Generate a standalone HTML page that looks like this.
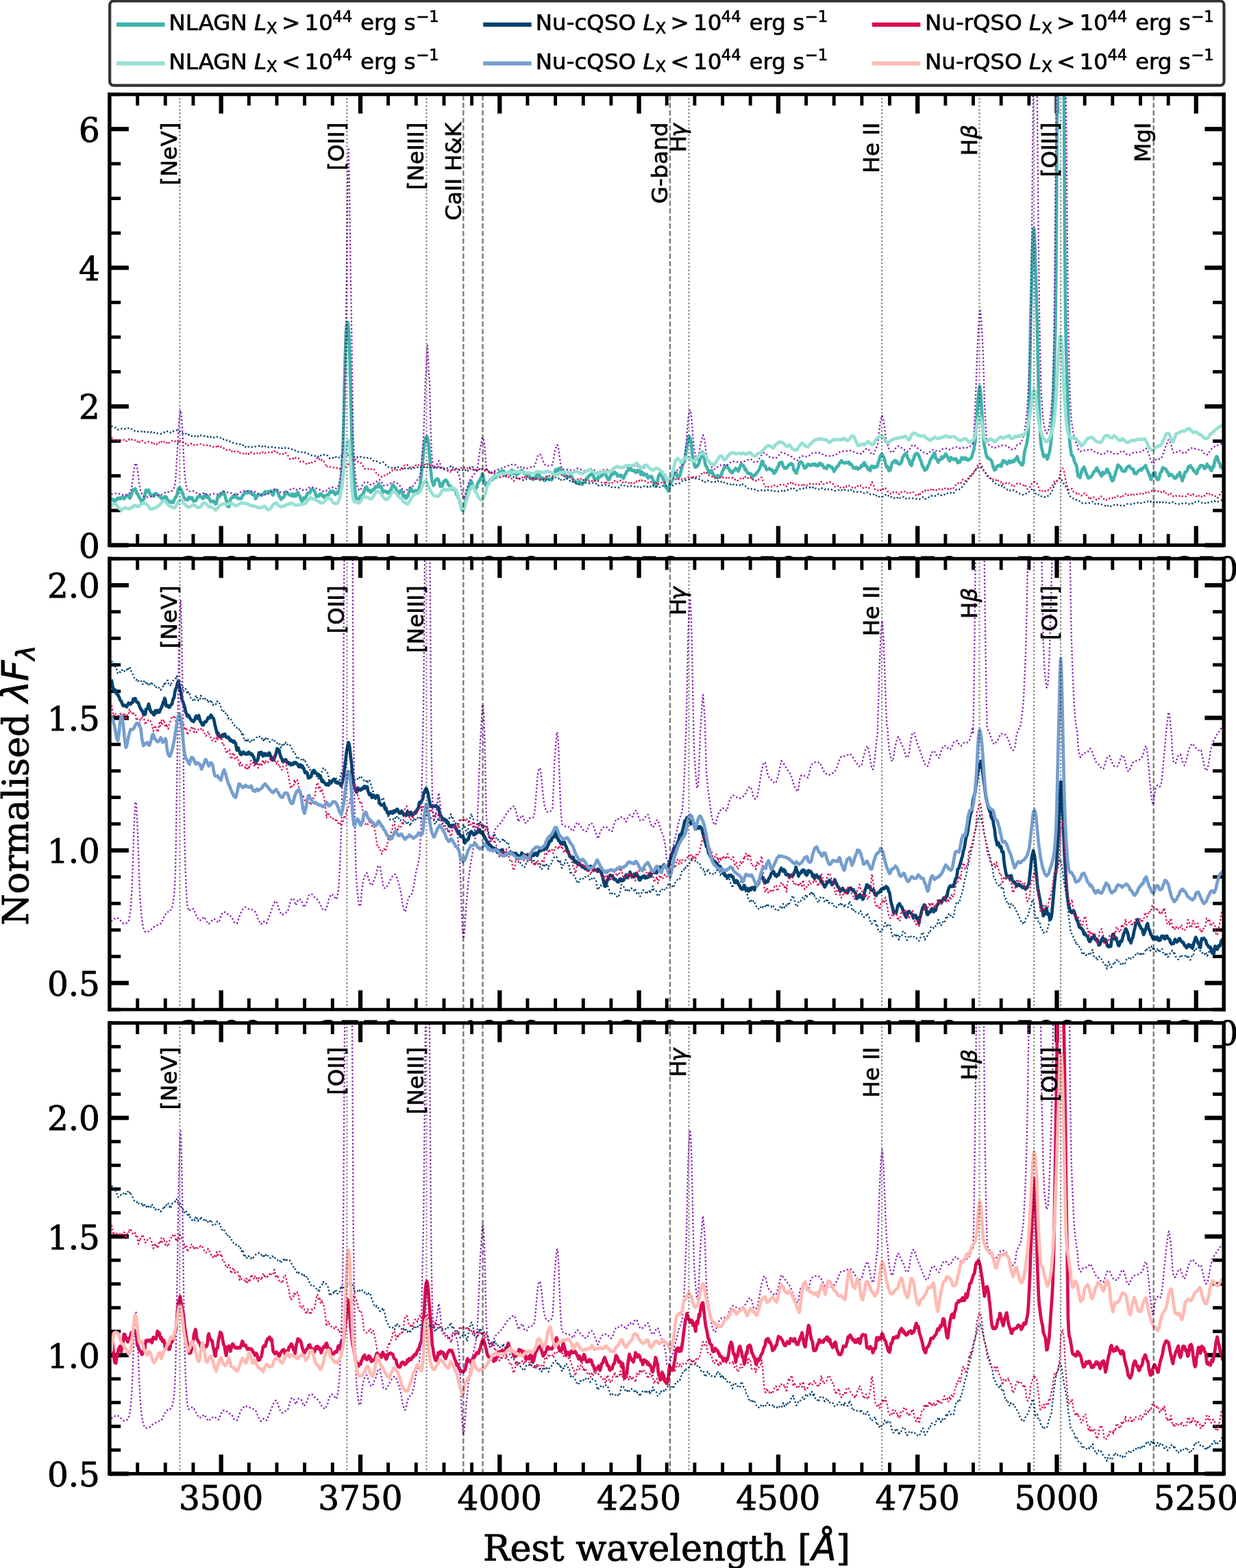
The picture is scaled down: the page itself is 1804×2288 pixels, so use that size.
<!DOCTYPE html>
<html lang="en"><head><meta charset="utf-8"><title>Composite spectra</title>
<style>html,body{margin:0;padding:0;background:#fff}svg{display:block}</style></head>
<body>
<svg xmlns="http://www.w3.org/2000/svg" width="1804" height="2288" viewBox="0 0 1804 2288">
<rect width="1804" height="2288" fill="#fff"/>
<defs>
<clipPath id="clip0"><rect x="159.9" y="137.7" width="1626.5" height="657.8"/></clipPath>
<clipPath id="clip1"><rect x="159.9" y="815.3" width="1626.5" height="657.8"/></clipPath>
<clipPath id="clip2"><rect x="159.9" y="1492.7" width="1626.5" height="657.8"/></clipPath>
</defs>
<g id="panel0">
<rect x="159.9" y="137.7" width="1626.5" height="657.8" fill="#fff"/>
<line x1="200.7" y1="795.5" x2="200.7" y2="779.2" stroke="#000" stroke-width="4.9"/>
<line x1="200.7" y1="137.7" x2="200.7" y2="154" stroke="#000" stroke-width="4.9"/>
<line x1="241.3" y1="795.5" x2="241.3" y2="779.2" stroke="#000" stroke-width="4.9"/>
<line x1="241.3" y1="137.7" x2="241.3" y2="154" stroke="#000" stroke-width="4.9"/>
<line x1="282" y1="795.5" x2="282" y2="779.2" stroke="#000" stroke-width="4.9"/>
<line x1="282" y1="137.7" x2="282" y2="154" stroke="#000" stroke-width="4.9"/>
<line x1="322.7" y1="795.5" x2="322.7" y2="767.5" stroke="#000" stroke-width="6.3"/>
<line x1="322.7" y1="137.7" x2="322.7" y2="165.7" stroke="#000" stroke-width="6.3"/>
<line x1="363.3" y1="795.5" x2="363.3" y2="779.2" stroke="#000" stroke-width="4.9"/>
<line x1="363.3" y1="137.7" x2="363.3" y2="154" stroke="#000" stroke-width="4.9"/>
<line x1="404" y1="795.5" x2="404" y2="779.2" stroke="#000" stroke-width="4.9"/>
<line x1="404" y1="137.7" x2="404" y2="154" stroke="#000" stroke-width="4.9"/>
<line x1="444.6" y1="795.5" x2="444.6" y2="779.2" stroke="#000" stroke-width="4.9"/>
<line x1="444.6" y1="137.7" x2="444.6" y2="154" stroke="#000" stroke-width="4.9"/>
<line x1="485.3" y1="795.5" x2="485.3" y2="779.2" stroke="#000" stroke-width="4.9"/>
<line x1="485.3" y1="137.7" x2="485.3" y2="154" stroke="#000" stroke-width="4.9"/>
<line x1="526" y1="795.5" x2="526" y2="767.5" stroke="#000" stroke-width="6.3"/>
<line x1="526" y1="137.7" x2="526" y2="165.7" stroke="#000" stroke-width="6.3"/>
<line x1="566.6" y1="795.5" x2="566.6" y2="779.2" stroke="#000" stroke-width="4.9"/>
<line x1="566.6" y1="137.7" x2="566.6" y2="154" stroke="#000" stroke-width="4.9"/>
<line x1="607.3" y1="795.5" x2="607.3" y2="779.2" stroke="#000" stroke-width="4.9"/>
<line x1="607.3" y1="137.7" x2="607.3" y2="154" stroke="#000" stroke-width="4.9"/>
<line x1="648" y1="795.5" x2="648" y2="779.2" stroke="#000" stroke-width="4.9"/>
<line x1="648" y1="137.7" x2="648" y2="154" stroke="#000" stroke-width="4.9"/>
<line x1="688.6" y1="795.5" x2="688.6" y2="779.2" stroke="#000" stroke-width="4.9"/>
<line x1="688.6" y1="137.7" x2="688.6" y2="154" stroke="#000" stroke-width="4.9"/>
<line x1="729.3" y1="795.5" x2="729.3" y2="767.5" stroke="#000" stroke-width="6.3"/>
<line x1="729.3" y1="137.7" x2="729.3" y2="165.7" stroke="#000" stroke-width="6.3"/>
<line x1="769.9" y1="795.5" x2="769.9" y2="779.2" stroke="#000" stroke-width="4.9"/>
<line x1="769.9" y1="137.7" x2="769.9" y2="154" stroke="#000" stroke-width="4.9"/>
<line x1="810.6" y1="795.5" x2="810.6" y2="779.2" stroke="#000" stroke-width="4.9"/>
<line x1="810.6" y1="137.7" x2="810.6" y2="154" stroke="#000" stroke-width="4.9"/>
<line x1="851.3" y1="795.5" x2="851.3" y2="779.2" stroke="#000" stroke-width="4.9"/>
<line x1="851.3" y1="137.7" x2="851.3" y2="154" stroke="#000" stroke-width="4.9"/>
<line x1="891.9" y1="795.5" x2="891.9" y2="779.2" stroke="#000" stroke-width="4.9"/>
<line x1="891.9" y1="137.7" x2="891.9" y2="154" stroke="#000" stroke-width="4.9"/>
<line x1="932.6" y1="795.5" x2="932.6" y2="767.5" stroke="#000" stroke-width="6.3"/>
<line x1="932.6" y1="137.7" x2="932.6" y2="165.7" stroke="#000" stroke-width="6.3"/>
<line x1="973.2" y1="795.5" x2="973.2" y2="779.2" stroke="#000" stroke-width="4.9"/>
<line x1="973.2" y1="137.7" x2="973.2" y2="154" stroke="#000" stroke-width="4.9"/>
<line x1="1013.9" y1="795.5" x2="1013.9" y2="779.2" stroke="#000" stroke-width="4.9"/>
<line x1="1013.9" y1="137.7" x2="1013.9" y2="154" stroke="#000" stroke-width="4.9"/>
<line x1="1054.6" y1="795.5" x2="1054.6" y2="779.2" stroke="#000" stroke-width="4.9"/>
<line x1="1054.6" y1="137.7" x2="1054.6" y2="154" stroke="#000" stroke-width="4.9"/>
<line x1="1095.2" y1="795.5" x2="1095.2" y2="779.2" stroke="#000" stroke-width="4.9"/>
<line x1="1095.2" y1="137.7" x2="1095.2" y2="154" stroke="#000" stroke-width="4.9"/>
<line x1="1135.9" y1="795.5" x2="1135.9" y2="767.5" stroke="#000" stroke-width="6.3"/>
<line x1="1135.9" y1="137.7" x2="1135.9" y2="165.7" stroke="#000" stroke-width="6.3"/>
<line x1="1176.6" y1="795.5" x2="1176.6" y2="779.2" stroke="#000" stroke-width="4.9"/>
<line x1="1176.6" y1="137.7" x2="1176.6" y2="154" stroke="#000" stroke-width="4.9"/>
<line x1="1217.2" y1="795.5" x2="1217.2" y2="779.2" stroke="#000" stroke-width="4.9"/>
<line x1="1217.2" y1="137.7" x2="1217.2" y2="154" stroke="#000" stroke-width="4.9"/>
<line x1="1257.9" y1="795.5" x2="1257.9" y2="779.2" stroke="#000" stroke-width="4.9"/>
<line x1="1257.9" y1="137.7" x2="1257.9" y2="154" stroke="#000" stroke-width="4.9"/>
<line x1="1298.5" y1="795.5" x2="1298.5" y2="779.2" stroke="#000" stroke-width="4.9"/>
<line x1="1298.5" y1="137.7" x2="1298.5" y2="154" stroke="#000" stroke-width="4.9"/>
<line x1="1339.2" y1="795.5" x2="1339.2" y2="767.5" stroke="#000" stroke-width="6.3"/>
<line x1="1339.2" y1="137.7" x2="1339.2" y2="165.7" stroke="#000" stroke-width="6.3"/>
<line x1="1379.9" y1="795.5" x2="1379.9" y2="779.2" stroke="#000" stroke-width="4.9"/>
<line x1="1379.9" y1="137.7" x2="1379.9" y2="154" stroke="#000" stroke-width="4.9"/>
<line x1="1420.5" y1="795.5" x2="1420.5" y2="779.2" stroke="#000" stroke-width="4.9"/>
<line x1="1420.5" y1="137.7" x2="1420.5" y2="154" stroke="#000" stroke-width="4.9"/>
<line x1="1461.2" y1="795.5" x2="1461.2" y2="779.2" stroke="#000" stroke-width="4.9"/>
<line x1="1461.2" y1="137.7" x2="1461.2" y2="154" stroke="#000" stroke-width="4.9"/>
<line x1="1501.9" y1="795.5" x2="1501.9" y2="779.2" stroke="#000" stroke-width="4.9"/>
<line x1="1501.9" y1="137.7" x2="1501.9" y2="154" stroke="#000" stroke-width="4.9"/>
<line x1="1542.5" y1="795.5" x2="1542.5" y2="767.5" stroke="#000" stroke-width="6.3"/>
<line x1="1542.5" y1="137.7" x2="1542.5" y2="165.7" stroke="#000" stroke-width="6.3"/>
<line x1="1583.2" y1="795.5" x2="1583.2" y2="779.2" stroke="#000" stroke-width="4.9"/>
<line x1="1583.2" y1="137.7" x2="1583.2" y2="154" stroke="#000" stroke-width="4.9"/>
<line x1="1623.8" y1="795.5" x2="1623.8" y2="779.2" stroke="#000" stroke-width="4.9"/>
<line x1="1623.8" y1="137.7" x2="1623.8" y2="154" stroke="#000" stroke-width="4.9"/>
<line x1="1664.5" y1="795.5" x2="1664.5" y2="779.2" stroke="#000" stroke-width="4.9"/>
<line x1="1664.5" y1="137.7" x2="1664.5" y2="154" stroke="#000" stroke-width="4.9"/>
<line x1="1705.2" y1="795.5" x2="1705.2" y2="779.2" stroke="#000" stroke-width="4.9"/>
<line x1="1705.2" y1="137.7" x2="1705.2" y2="154" stroke="#000" stroke-width="4.9"/>
<line x1="1745.8" y1="795.5" x2="1745.8" y2="767.5" stroke="#000" stroke-width="6.3"/>
<line x1="1745.8" y1="137.7" x2="1745.8" y2="165.7" stroke="#000" stroke-width="6.3"/>
<line x1="159.9" y1="795.5" x2="187.9" y2="795.5" stroke="#000" stroke-width="6.3"/>
<line x1="1786.4" y1="795.5" x2="1758.4" y2="795.5" stroke="#000" stroke-width="6.3"/>
<line x1="159.9" y1="744.9" x2="176.2" y2="744.9" stroke="#000" stroke-width="4.9"/>
<line x1="1786.4" y1="744.9" x2="1770.1" y2="744.9" stroke="#000" stroke-width="4.9"/>
<line x1="159.9" y1="694.3" x2="176.2" y2="694.3" stroke="#000" stroke-width="4.9"/>
<line x1="1786.4" y1="694.3" x2="1770.1" y2="694.3" stroke="#000" stroke-width="4.9"/>
<line x1="159.9" y1="643.7" x2="176.2" y2="643.7" stroke="#000" stroke-width="4.9"/>
<line x1="1786.4" y1="643.7" x2="1770.1" y2="643.7" stroke="#000" stroke-width="4.9"/>
<line x1="159.9" y1="593.1" x2="187.9" y2="593.1" stroke="#000" stroke-width="6.3"/>
<line x1="1786.4" y1="593.1" x2="1758.4" y2="593.1" stroke="#000" stroke-width="6.3"/>
<line x1="159.9" y1="542.5" x2="176.2" y2="542.5" stroke="#000" stroke-width="4.9"/>
<line x1="1786.4" y1="542.5" x2="1770.1" y2="542.5" stroke="#000" stroke-width="4.9"/>
<line x1="159.9" y1="491.9" x2="176.2" y2="491.9" stroke="#000" stroke-width="4.9"/>
<line x1="1786.4" y1="491.9" x2="1770.1" y2="491.9" stroke="#000" stroke-width="4.9"/>
<line x1="159.9" y1="441.3" x2="176.2" y2="441.3" stroke="#000" stroke-width="4.9"/>
<line x1="1786.4" y1="441.3" x2="1770.1" y2="441.3" stroke="#000" stroke-width="4.9"/>
<line x1="159.9" y1="390.7" x2="187.9" y2="390.7" stroke="#000" stroke-width="6.3"/>
<line x1="1786.4" y1="390.7" x2="1758.4" y2="390.7" stroke="#000" stroke-width="6.3"/>
<line x1="159.9" y1="340.1" x2="176.2" y2="340.1" stroke="#000" stroke-width="4.9"/>
<line x1="1786.4" y1="340.1" x2="1770.1" y2="340.1" stroke="#000" stroke-width="4.9"/>
<line x1="159.9" y1="289.5" x2="176.2" y2="289.5" stroke="#000" stroke-width="4.9"/>
<line x1="1786.4" y1="289.5" x2="1770.1" y2="289.5" stroke="#000" stroke-width="4.9"/>
<line x1="159.9" y1="238.9" x2="176.2" y2="238.9" stroke="#000" stroke-width="4.9"/>
<line x1="1786.4" y1="238.9" x2="1770.1" y2="238.9" stroke="#000" stroke-width="4.9"/>
<line x1="159.9" y1="188.3" x2="187.9" y2="188.3" stroke="#000" stroke-width="6.3"/>
<line x1="1786.4" y1="188.3" x2="1758.4" y2="188.3" stroke="#000" stroke-width="6.3"/>
<line x1="159.9" y1="137.7" x2="176.2" y2="137.7" stroke="#000" stroke-width="4.9"/>
<line x1="1786.4" y1="137.7" x2="1770.1" y2="137.7" stroke="#000" stroke-width="4.9"/>
<g clip-path="url(#clip0)" fill="none" stroke-linejoin="round">
<path d="M162.3 729.4l1-1.3 1 1 1 1.3 .9 .5 1-1.3 1 .1 1 .8 .9-1.8 1-1.2 1-.8 1 1 1-.4 .9-.8 1 1.2 1-1.5 1 0 .9-1 1 1.9 1 1 1-1.9 .9-.3 1-1.5 1-.4 1-1.1 .9-.1 1 1.2 1 2.1 1 .9 .9-1.9 1-3.1 1-3.4 1-2 .9-2.5 1-.1 1 .1 1-1 1 3.2 .9 2.7 1 2.2 1-.1 1 2.6 .9 2.1 1 1.2 1 2.1 1 2.5 .9-1.3 1-.2 1-1.3 1-.8 .9-3.7 1-5.6 1-3.6 1 1.1 .9 1.4 1-1.7 1-.9 1 3.1 .9 2.6 1 2.2 1 .1 1-.9 .9 .7 1 1.3 1-.8 1-3 1 .8 .9-1.1 1 1 1 .6 1 .6 .9 1.4 1-.1 1 1.9 1 .1 .9 1.3 1 1.5 1-1.5 1 1.9 .9-2 1-2 1 1.3 1-1 .9 1.2 1 3.9 1 0 1 .8 .9 1.3 1 .6 1-1 1 .7 .9 1.1 1-1.2 1 .4 1-3.5 1-1.2 .9-2.2 1-1.2 1-1.5 1-3.3 .9-5.4 1-2.1 1 .8 1-.9 .9 1.1 1 2.2 1 2.7 1 1.6 .9 4 1 2.4 1 1.2 1 1.5 .9-.4 1 .4 1 .5 1-.8 .9-3.2 1 .1 1 .2 1 1.9 .9 .3 1-1.8 1 2.3 1 2.8 1-.5 .9-.1 1 0 1-.4 1-2.7 .9-2.2 1 .2 1-.8 1-1.7 .9 0 1 1.5 1 1 1 .8 .9 1.1 1-.5 1-2.9 1-2.2 .9-.4 1 2.4 1 1.9 1-.9 .9-.5 1 2.3 1 1.2 1 2.5 1 1.8 .9-.6 1 0 1-.2 1 0 .9 1.6 1 1 1 1.6 1-.9 .9-4 1-5.6 1-.8 1 1 .9-2.1 1-2.4 1 1.5 1-.9 .9-.6 1-2.1 1-1.1 1 3.7 .9 1.4 1 3.5 1 3.8 1 2.3 .9 6.3 1-.7 1 1.5 1-3.2 1-6.4 .9-2.1 1-1.1 1-.6 1-2.1 .9 1.9 1-.8 1-1.3 1-2.1 .9 3.1 1 1.4 1 .8 1 1 .9-.9 1 .1 1-.3 1 .9 .9-1 1-2.7 1-1.8 1-.1 .9-2.5 1 .4 1-2 1-.2 .9 1.2 1 .1 1-.5 1-1.2 1 1.1 .9 1 1-1 1 1.3 1 2.1 .9-1.6 1 1.1 1 .4 1 2.5 .9 3.6 1-2 1-1.5 1-2.1 .9-.4 1 .2 1-.4 1 .5 .9-.3 1 1 1-1.5 1 0 .9-.3 1-2 1-1.6 1 2.1 1-1.7 .9 1.3 1-.5 1-1.6 1 .1 .9 .6 1-1.4 1 .3 1 1.6 .9 3.3 1 .9 1-4.2 1-2.7 .9-.8 1 .3 1 1.1 1 .4 .9 1.7 1 1.8 1 3.8 1 1 .9 1.8 1 2 1-2 1-.4 .9 .2 1-1.1 1-1.8 1-3.9 1-2.1 .9 1.1 1 1.3 1-.2 1 1.3 .9 .8 1 .3 1 .7 1-1.2 .9-.8 1 .1 1 3.3 1-2.3 .9-.7 1 2.2 1 .6 1-2.8 .9-2 1-1 1 2.4 1 2.2 .9 .8 1 2.5 1 3.3 1 2.1 .9-.9 1-1.4 1-3 1 1.6 1-1.1 .9-1.8 1-1.4 1-2.6 1-1.8 .9 .2 1-.1 1-.2 1-2 .9-3.1 1-.2 1 0 1 .4 .9 1.3 1 .9 1 2.8 1 3.4 .9 2.1 1-1.7 1 .4 1 .7 .9-1.9 1 .4 1-2.1 1 0 1 2.2 .9 1.2 1-1 1 2 1 1.2 .9-1.7 1-1.2 1-.6 1-.6 .9 .3 1-.3 1-2.9 1-1.2 .9 .6 1-2.3 1 2.2 1-.3 .9-1.4 1 1 1 2.3 1 1.8 .9-1.7 1-.7 1-1.3 1 1.8 .9-2.7 1-2.5 1-4.9 1-4.5 1-8.6 .9-11.4 1-20.6 1-28.2 1-34.9 .9-43.9 1-38.9 1-30.5 1-12.9 .9-3.9 1-1.1 1 10.3 1 18.9 .9 27.5 1 40.4 1 38.6 1 36.7 .9 28.1 1 21.1 1 10.5 1 9.1 .9 7.2 1 7.8 1 1.8 1-1 .9 1.7 1 .1 1-2.7 1-1.5 1-1.2 .9-.5 1-.6 1-1.6 1-1.4 .9-1.8 1-3.7 1-2.6 1-1.1 .9 .1 1 2.7 1 2.4 1-.7 .9 .7 1 1.3 1 1.6 1-1.5 .9-1.4 1-.7 1-.8 1 .2 .9-1.8 1-2.4 1 1 1-.1 1-.2 .9-2.1 1-3.2 1 3.5 1 1.7 .9-1.3 1 1.7 1 2.6 1 4 .9 .3 1-1.3 1-.2 1 .1 .9 1.1 1 .2 1 1.4 1 .2 .9-2.4 1-.6 1 1 1-3 .9-.6 1-3.9 1-2.6 1 1.5 .9 .4 1 1.6 1 .4 1 2.1 1 2.4 .9 1.8 1 2.3 1 .3 1-2.6 .9-1.1 1-.2 1-.4 1 2.6 .9 2.6 1 3 1 .9 1-2.1 .9 1.4 1 2.8 1-1.5 1-.8 .9-2.6 1-3.1 1-1.8 1-4.9 .9-.6 1 2.3 1 1.5 1 2 .9 .3 1-.2 1-1.4 1-.8 1 .8 .9 .7 1 .4 1-.5 1-3.8 .9-3.3 1-3 1-8.3 1-7.5 .9-9.4 1-10.3 1-11.9 1-10 .9-4.2 1-6 1-1.3 1-1 .9 1.6 1 4.1 1 10 1 11.2 .9 10.8 1 12 1 10.6 1 5.5 .9 1.7 1 3.9 1-1.7 1-4.2 1-1.5 .9-1.3 1-.6 1-.7 1 1.2 .9 2.3 1 2.4 1 5.4 1 0 .9-2.3 1 2 1-3.3 1-3.5 .9 .3 1-1.4 1-1.2 1 .8 .9 1 1 1.7 1 3.1 1 1.2 .9 .9 1 0 1 .9 1 2.6 1 1.4 .9-1.3 1 .6 1 .3 1 0 .9 2.4 1 4.3 1 2.4 1 .3 .9 3.3 1 1.2 1 3.1 1 3.3 .9 4.4 1 2.2 1 4.2 1 .4 .9-3.8 1-2.5 1-2.8 1-4.9 .9-5.2 1-3.7 1-5.3 1-2.3 .9-5.5 1-1.9 1-.8 1-4.2 1 .8 .9 4.4 1 .8 1 2.1 1 2.1 .9 .9 1 .4 1-1.7 1-1.7 .9-4.7 1-1.1 1-2.4 1-.4 .9-2.9 1-1.5 1-1.9 1-3.6 .9 1 1 6.1 1 3.4 1 2.8 .9 3 1 .4 1-1.1 1-2.1 .9 .3 1-1.9 1-1.5 1-1.9 1-1.2 .9-.6 1 1.4 1-1.7 1-1.6 .9 .3 1-.6 1 .4 1-1.1 .9-1.4 1-.2 1 .1 1-3.6 .9-2.4 1 1 1-.8 1 .1 .9-.6 1-.5 1 .2 1 2.6 .9 3.4 1 .1 1-2 1-.2 1-.9 .9-.7 1-1 1 .1 1 1.4 .9-.9 1-3.3 1 2 1 3.2 .9-3.3 1-.5 1 2.8 1 1.3 .9 1.7 1-1.1 1-1.4 1 .4 .9-.5 1-.9 1-2.1 1 0 .9-1.4 1 .9 1 1.8 1 .8 .9 .9 1 .5 1-.2 1 .3 1 3.5 .9 .1 1 .4 1-.6 1 1.2 .9 2 1-.8 1 0 1 2 .9 .8 1-.9 1-1.9 1 .4 .9-1.1 1-3.6 1-2.9 1 .4 .9 3.7 1-.6 1 1.6 1 3.1 .9-1.1 1 0 1 .9 1 .7 .9 .9 1 2 1-1.1 1-1.9 1-1.5 .9-.8 1 2.2 1 .9 1 0 .9 .1 1 .1 1 1 1-.6 .9-2.5 1-2.4 1-2.4 1 .3 .9-5.4 1-2.5 1 1.9 1 .4 .9-.2 1-3 1-.7 1 1.7 .9-.1 1 .5 1 1.3 1 1.4 1 2 .9 2.4 1 1.5 1 0 1-.1 .9 3.3 1-.5 1-1.1 1 .1 .9 .1 1-.3 1-1 1 .5 .9 .9 1 2 1 2.1 1 .8 .9 2.1 1-.1 1-.1 1 1.5 .9 1.3 1-.8 1-.1 1-2.2 .9 .4 1 3.1 1 .8 1 0 1-.2 .9-1.5 1-1.8 1-.9 1-2 .9-1 1-1.6 1 1.5 1-2.4 .9-2.4 1 0 1-1.8 1-.6 .9 .7 1-2 1 1.7 1 1.9 .9 2 1 4.5 1-.8 1-1.2 .9-.5 1 .4 1 .8 1-4.6 .9-1.8 1 1.1 1 1.1 1-1.3 1 .2 .9-2.5 1-1.4 1-.2 1-.5 .9 1.7 1 1.8 1 2.8 1 1.3 .9 2.4 1 .3 1-.4 1-3 .9-3.1 1-1.3 1 1 1-.9 .9-2.6 1-.1 1-.5 1 1.7 .9 .4 1 0 1 3.6 1 0 1-1.1 .9 .6 1 .9 1-2 1 1 .9 .7 1 1.8 1 1.4 1-1.9 .9-2.8 1-1 1-2.3 1-2.5 .9-.2 1-.9 1-.6 1-1.5 .9-1.8 1 1 1 2.1 1 1.1 .9 0 1-.8 1 1.7 1-.7 .9 1.8 1 .7 1-1.8 1-1.3 1 2 .9 .1 1-2 1 1.1 1 5 .9-.3 1-3.3 1 2.8 1 0 .9 1.9 1-2.1 1 .9 1 .3 .9-.4 1 4.2 1 1.1 1-2.3 .9 1 1-.4 1 .1 1-1.1 .9 2.1 1 3 1 1.7 1 1.7 .9 3.8 1 2.3 1-.9 1-3 1-2.6 .9-5.5 1-4.2 1 .3 1-2.9 .9-1.2 1 2.4 1 3 1 2.7 .9 2.1 1 2.8 1 4 1 3.5 .9 1.2 1 1.1 1 1 1 3.2 .9-3.1 1-4.1 1-2.3 1-1.6 .9-3.4 1-1.1 1-2.6 1-6 .9 0 1-.8 1-2 1 1.2 1 2.4 .9 3.6 1 .4 1-.8 1-2 .9-1.6 1-5 1-4 1-2.9 .9-4 1-1.8 1-1 1-3.2 .9-5 1-9.5 1-5.9 1-5.1 .9-6 1-2.5 1 .1 1 3.1 .9 3.2 1 9.1 1 10.3 1 6.2 1 5.5 .9 2.8 1 4.5 1 .3 1-1.4 .9 .2 1-1.7 1-1.3 1-2.3 .9-3.9 1-1.3 1-3.2 1-5.3 .9-2 1 .6 1 4.5 1 3.8 .9 6.5 1 4.1 1 1.1 1 2.3 .9 2.2 1 2.3 1 2.7 1-.5 .9 .7 1-3.2 1-.3 1 4.2 1 .3 .9 2.8 1 .5 1 .9 1 1.8 .9-2 1 .1 1-1.3 1 1.4 .9 .9 1-.3 1-1.2 1-.6 .9-2.8 1-3.3 1-1.9 1-1.5 .9-3.4 1 .3 1 .4 1-1.8 .9-.2 1 2.4 1 1.1 1 1 .9 2.3 1 .4 1 2 1 .8 1 .1 .9-2.6 1-.1 1-1 1-1.6 .9-1.4 1 1.6 1 .5 1 1.1 .9 1.1 1-3.3 1-1.9 1-2.8 .9-1.8 1-.3 1 1.6 1-.1 .9 1.4 1 1.9 1 3.4 1-.7 .9 1.9 1 2.2 1 1.6 1 .2 1-.2 .9 .5 1 .1 1 .4 1 4.4 .9 1.7 1-3.7 1 .5 1-.9 .9-1.1 1 .2 1-2.4 1-.5 .9-1.5 1-1.5 1-1.5 1-2.8 .9-2.3 1-1.3 1-5.5 1-.4 .9 1.4 1 4.4 1 .7 1 .4 .9 2.7 1 3 1-.7 1-.3 1-.4 .9-.8 1 .6 1 1.1 1 .7 .9-.3 1 2 1-.3 1 3.6 .9-.2 1-3.4 1 .8 1-2.5 .9-3 1-.8 1-1.7 1-4.1 .9-.9 1 0 1-.5 1-.2 .9 3.6 1 2.2 1 1.8 1 1.1 .9 .5 1-1.1 1 .7 1-1.6 1-1 .9-1.5 1-.5 1-1.2 1 .3 .9-1.3 1 .6 1 .7 1 3.5 .9 4.8 1 1.3 1 .6 1 2 .9 .7 1-5.2 1-1.7 1-2.5 .9-4.8 1-1.8 1-.5 1 .1 .9 1.2 1 1.4 1 2.1 1 2.4 1 1.8 .9-.1 1-.5 1-1.9 1-2.5 .9-.7 1 1.5 1-.4 1-.3 .9 1.3 1-.9 1-.4 1-1 .9 .2 1 1.5 1 .2 1-1.8 .9 1.4 1 1 1 .4 1-.5 .9-.9 1-2.5 1 .1 1 1.9 .9-1.1 1 .4 1 1.7 1 1.6 1 2 .9 0 1-.5 1 .4 1 1.2 .9-3.6 1-1.3 1 1 1-.2 .9 .3 1 1.4 1 .5 1-.2 .9 2.1 1 1.4 1 2.9 1-2.4 .9-.5 1-2.3 1-1.2 1-.9 .9-1 1-1.2 1-2.7 1-.9 .9-.6 1-2.2 1 1.3 1 1.3 1 .1 .9 1 1 0 1-.3 1-1 .9 .7 1-.1 1-.6 1-.5 .9 2.5 1 1 1-.7 1 .5 .9 2.1 1 1.8 1 1.7 1-.3 .9-.8 1 1.5 1-1.4 1 0 .9 1.5 1 1.2 1-1.2 1-.1 .9-.7 1-.9 1-2.7 1 .3 1 .4 .9-3.6 1-1.3 1 .8 1 3.5 .9 1.1 1 .4 1 1.5 1 2.9 .9-.2 1 .6 1 1.4 1-5 .9-1.6 1-.1 1 1 1 1.4 .9-1.5 1-.7 1 1.5 1-1.1 .9 .1 1-.1 1-5.8 1-2.3 1-3.3 .9-4.1 1-.8 1-1.6 1 .2 .9 2 1 1.6 1 2.4 1 2.8 .9 4.4 1 2.8 1 2.8 1-.9 .9 1.5 1 4.5 1-1.5 1 .5 .9-2.6 1-5.6 1-1.8 1-1.8 .9-.5 1-1 1-.9 1 2.4 .9 1 1-2.4 1 2.6 1 1 1-.3 .9 1.4 1-.8 1-1 1-1.9 .9-3.9 1-3.2 1-.9 1-2 .9-.8 1-1.5 1 .6 1 2.3 .9 4 1 1.2 1 1.3 1 4.1 .9 2.3 1 .9 1 1.3 1-5.1 .9-3.8 1-.2 1-4.2 1-2.4 .9-1.7 1-.5 1 .9 1-.5 1 1.8 .9 1.5 1 2.3 1 3.1 1 1.9 .9 2.3 1 4.5 1 1.6 1 .8 .9 3.1 1 1.5 1-2.3 1 .6 .9-.8 1-3.2 1-1.8 1-1.9 .9-3 1-2.5 1-2.3 1-.3 .9-2.9 1-1.2 1-1.8 1-2.1 1 2.1 .9 5.9 1 .5 1 .7 1 3.4 .9 1.1 1-3 1-.2 1-.6 .9-1.8 1-2.3 1 2.5 1-2.3 .9-.5 1 0 1-2.6 1-1.7 .9 3 1 .5 1 1.1 1 3 .9 1.5 1 1.7 1-2.6 1-2.8 .9 1.3 1 .7 1 .7 1-.4 1 .9 .9 .1 1-1.5 1 1.1 1 1.7 .9 3.3 1-1.3 1-.1 1 .4 .9-2.6 1-1 1-3.2 1 .5 .9 1.5 1-1.1 1 1.6 1-.5 .9-1.7 1 1.6 1 1.8 1-1.2 .9 1.2 1-.5 1-.3 1-1.3 .9-.7 1-2.1 1-3.1 1-4 1-2.1 .9-6.4 1-5.8 1-12.4 1-14.6 .9-13.5 1-14.9 1-12.1 1-10 .9-3.9 1 6 1 13.9 1 16.5 .9 18.3 1 13.5 1 12.4 1 7.3 .9 3.7 1 6 1 2.8 1 3.5 .9-.2 1 1.2 1 1.3 1 .3 1 .3 .9 1.5 1 1.8 1 3.5 1 4.1 .9 1.9 1 2.8 1-.8 1-.5 .9-2.8 1-1.9 1-.5 1-.1 .9 .5 1-1.3 1 .9 1 1 .9-2.1 1-4.9 1-1.5 1 0 .9 2.3 1 .2 1-.6 1 1.2 .9 1.9 1-1.7 1-.1 1-2.8 1 1.5 .9 1 1-1.4 1 .6 1-1.8 .9 0 1 1.5 1-2.3 1-1.8 .9 .9 1-2.4 1-2 1 3.5 .9 3.3 1 1.4 1 .6 1 1.1 .9 1.7 1 .8 1-.4 1-2.4 .9-9.1 1-7.1 1-4.6 1-2.9 .9-3.6 1-5.3 1-6.1 1-17.9 1-30.4 .9-53.1 1-64.7 1-39.7 1-42.1 .9-29.4 1-21.1 1-5.1 1 16.1 .9 24.9 1 35 1 35.4 1 34.9 .9 46.9 1 45.6 1 31 1 22.2 .9 15.9 1 10.1 1 4.3 1 3.1 .9 5 1 2.3 1-.3 1-.8 1-.8 .9 2.3 1 3.3 1-2.9 1-4 .9-1.8 1-5.6 1-6.9 1-11.4 .9-14.2 1-21.1 1-26.8 1-30.6 .9-29 1-36 1-76.7 1-136.1 .9-169.2 1 0 1 0 1 0 .9 0 1 0 1 0 1 0 .9 0 1 0 1 43.6 1 187.5 1 120.8 .9 53.6 1 34.6 1 28.8 1 31.1 .9 25 1 15.3 1 11.9 1 6.4 .9 7.3 1 .8 1 1.3 1 1.4 .9 4.4 1 3.2 1 1.7 1 1 .9 4.2 1 7 1 6.2 1-1 .9-.3 1 3.5 1-3.8 1-3.8 .9-3.9 1-1.5 1-1 1-1.6 1 3.8 .9 2.6 1 2.3 1 2.1 1 2.8 .9 1.9 1 .8 1-.8 1-.7 .9-.3 1-1.2 1-1.6 1-1.2 .9-2.8 1-.7 1-1 1-1.1 .9-2.3 1-1.6 1 4.1 1-.6 .9 2 1 1.9 1 1.1 1 2.2 .9 1.6 1-1 1-4.6 1 1.3 1 .6 .9-.9 1-.4 1-2 1-3.3 .9 .7 1 2.6 1 2.4 1 .6 .9 3 1 2.7 1 3.4 1 2 .9-1.1 1-.1 1-5.3 1-1.3 .9-3.7 1-3.8 1-2.1 1-5.3 .9-.7 1 1 1 1.9 1 .2 1 1 .9 2.2 1 2.6 1-.1 1 0 .9 .2 1 .4 1-1.1 1-3.2 .9-.6 1-1.5 1-.7 1-.7 .9-.1 1 1.8 1 1.3 1 1 .9 .7 1-.6 1 2 1 4.6 .9-1.2 1 .9 1 1.1 1-1.5 .9-1.3 1-1.2 1-.9 1-.5 1-1 .9-.9 1 1.5 1-1.6 1-1.2 .9-.8 1-.5 1-.7 1-1.8 .9 3.4 1 1.8 1 3.1 1 1.8 .9 2.8 1 2 1 2.7 1 3 .9-3.6 1-2.2 1-2 1-1.5 .9-1.4 1 .7 1 4.5 1 3.6 .9 .1 1 2.1 1-.2 1-1.6 1-3.8 .9-3.9 1-1.9 1-.4 1-4.7 .9-1.2 1 1.4 1 0 1 .6 .9 .1 1 1.6 1 2.6 1 0 .9 2.2 1 3.5 1-.9 1-1.4 .9 .1 1 .7 1 1 1 .9 .9 1.5 1 1.5 1-.2 1 .2 1-1.4 .9-2.1 1-1.2 1 1 1-2.1 .9-2.6 1 3.6 1 3.2 1 2.4 .9 3.1 1-3.7 1-1.6 1-3.9 .9-3.5 1-.1 1-.6 1-1.2 .9-3.7 1-2.4 1 1.1 1-.3 .9-2.4 1 1.4 1 1.5 1 1.6 .9 .6 1 2.6 1 1.3 1 .3 1 .4 .9 2.2 1-.8 1-5.3 1-1.1 .9-.4 1-2.8 1-1.3 1-.5 .9 .4 1 .5 1-.3 1 2.8 .9 1.5 1-.5 1-1 1-2 .9-3.3 1 2.3 1 1.4 1-.3 .9 2.3 1 2.4 1 1.5 1-.2 .9-4.8 1-1 1 .3 1-6.4 1-4.2 .9-1.5 1-2.8 1 .5 1 3.6 .9 3.6 1 1.2 1 1.6 1 4.4 .9 1.4 1-1.8 1 1.4 1 .6 .9-.1 1-.7" stroke="#41b3ac" stroke-width="4.7"/>
<path d="M162.3 622.2l1 0 1 .1 1 .5 .9-.1 1 .6 1 .9 1-.2 .9 1 1 1.2 1 .7 1-.1 1-.5 .9-.1 1 0 1-.5 1-.3 .9 .2 1-.3 1 .1 1 .5 .9-.3 1-.1 1 .1 1-.9 .9-.2 1 .6 1 .3 1-.8 .9 .6 1 .7 1 .4 1 .7 .9 .4 1 .7 1 .6 1 .2 1 .4 .9-.2 1-.2 1 .8 1-.1 .9 .2 1 .2 1-.2 1-.1 .9 .2 1 1 1-1 1-.2 .9 .6 1-.3 1 .3 1 .8 .9-.4 1-.3 1 .7 1-.2 .9-.1 1 .4 1-1.2 1 .1 .9 1.2 1 0 1 .1 1-.1 1 1 .9-.2 1-.3 1 .3 1 .2 .9-.1 1 .2 1 .3 1 .4 .9-.6 1-.5 1-.2 1-.3 .9-.8 1 .7 1-.9 1 0 .9-.8 1-.3 1 .1 1 1.3 .9 .2 1-.2 1 .8 1-1 .9-.8 1-.3 1-.1 1-.2 1-.2 .9-.4 1 .1 1-.9 1 .9 .9 .9 1-.1 1 .5 1-.3 .9 .3 1 1.5 1 .6 1-.1 .9 1.3 1 .1 1 0 1-.8 .9 .3 1 1.1 1 .5 1-.7 .9 .7 1-.3 1 1.2 1 .7 .9 .1 1 .5 1 .3 1-.7 1 .1 .9 .4 1-1.1 1-.6 1 .9 .9 .1 1 1 1-.8 1 0 .9 .2 1-1.3 1 .6 1 .2 .9 .1 1 .5 1 0 1-.5 .9 .5 1 .3 1-.3 1 .5 .9 .8 1-.8 1 0 1-.1 1 .8 .9-.5 1 .7 1 .9 1-.4 .9-.1 1-.2 1 .4 1-.4 .9-.9 1 .3 1 .5 1 .2 .9-.2 1 .4 1 1.2 1 1.1 .9 0 1-.3 1 .7 1-.1 .9 .2 1 .5 1 .8 1-.3 .9 .5 1 1.2 1-.3 1 .3 1 0 .9 .3 1 .9 1 .2 1 .5 .9 .6 1 .1 1-.1 1 .3 .9 .4 1 .4 1-.2 1 .2 .9 .3 1 .5 1-.2 1 1.3 .9 .5 1-.6 1 0 1 1.8 .9 1.2 1 0 1-.5 1-.2 .9 1.2 1 0 1-.9 1 .2 1 .6 .9 .1 1 .2 1-.8 1 .1 .9 .3 1-.2 1-.6 1-.3 .9-.1 1-.3 1-.1 1-.1 .9 0 1-.3 1 .2 1 .2 .9-.1 1 .7 1-.4 1 .5 .9 1 1-1 1-.6 1 .5 1-.5 .9-.1 1 .4 1 1.1 1 .2 .9 .1 1-.1 1-.2 1-.1 .9-.4 1 .3 1-.2 1-.1 .9 .7 1 .4 1 .1 1 0 .9 .6 1-.4 1 .2 1 .1 .9 .8 1 .5 1-1 1 0 .9-.1 1-.5 1 .7 1-.2 1-1 .9 .2 1 .6 1 .1 1 .2 .9 0 1-.2 1 .6 1 .5 .9 .4 1 .4 1 .3 1 1.2 .9-.1 1 .1 1 1.1 1 .4 .9 .6 1 0 1-.4 1 .4 .9 .2 1-.1 1 .1 1 .1 .9 .3 1-.4 1 .2 1 .7 1-.3 .9 .5 1 .2 1 .9 1-.1 .9 .5 1 1 1-.1 1 .8 .9 .6 1-.2 1 .3 1 .1 .9 .1 1 .3 1 .4 1 0 .9 .5 1-.1 1-.1 1 1.3 .9 .4 1-2 1-.6 1-.4 1-.2 .9-.3 1-1.1 1 .6 1 .2 .9-.2 1 .4 1 .2 1 .4 .9 .5 1 1.1 1 1.8 1 1 .9-.7 1 .3 1-.4 1-.1 .9 .1 1-1.4 1 .6 1 .5 .9-.9 1-.1 1 1.2 1 .1 .9-.5 1 .1 1-.6 1-1.3 1-1 .9 1.1 1 0 1-.5 1 .3 .9 .3 1-.4 1-.6 1 .2 .9-.6 1-.6 1-.2 1-.4 .9 .6 1 .3 1-.6 1-.4 .9 0 1 1.4 1 1.3 1 1.3 .9 .1 1 .1 1 0 1-.2 .9-.7 1-.5 1 .3 1 .5 1-.3 .9-.2 1 .1 1 .5 1 .1 .9 .6 1-.2 1-.2 1 .5 .9 .6 1-.5 1 .5 1-.5 .9-.3 1 .3 1 .9 1 .9 .9 .8 1 .7 1 .9 1 .9 .9 .3 1-.2 1 .6 1-.5 1 .3 .9 .4 1 .8 1 .7 1 .2 .9 0 1-.5 1-.2 1-.6 .9-.1 1 1.5 1 .8 1 1.1 .9 1.7 1 .8 1 .3 1 .7 .9 .9 1 .2 1 .3 1-.1 .9 .3 1 0 1-.1 1-.3 .9 .5 1 .5 1-1.6 1-.6 1 .4 .9-.4 1 .5 1 .4 1-.1 .9 .5 1 .5 1 .1 1 .4 .9 .4 1 0 1-.4 1-.4 .9 .7 1-.3 1 .6 1 .4 .9-.7 1-.1 1 .1 1 1.3 .9-.8 1-.4 1-.1 1-.7 .9-1 1 .4 1 .7 1-.4 1-.5 .9-.5 1 .1 1 .5 1 .1 .9-.2 1-.7 1 .6 1 .1 .9-.2 1-.8 1-.1 1 .5 .9-.5 1-.8 1 0 1 1.2 .9 .2 1-.6 1 1 1 .5 .9-.3 1-.4 1 .4 1 .1 .9 0 1 .1 1 .7 1 .9 1 .2 .9-.8 1-.8 1-.3 1 .6 .9 .3 1-.7 1-.3 1 .4 .9 .1 1 .2 1 .1 1-.1 .9 .2 1 .2 1-.3 1 .1 .9 .2 1-.3 1-.9 1 0 .9-.4 1-.9 1-.5 1 1.8 1 .2 .9-.5 1 .7 1 .8 1 .7 .9-.1 1-.5 1 .4 1 .2 .9 .6 1 .5 1 1 1 .7 .9-.3 1 0 1-.2 1-1.2 .9-.8 1 .6 1 .3 1 .9 .9 .8 1 1.4 1-.7 1-2.5 .9-1.3 1-1.5 1-.7 1-1.1 1-.3 .9 1.2 1 .1 1 2 1 2.3 .9 .8 1-.1 1 .4 1 .2 .9-1.8 1-1.8 1-.1 1 .8 .9-.9 1 .3 1 1.5 1-.4 .9-.1 1 .3 1-.6 1 .4 .9 .4 1 0 1 .4 1 .4 .9 .9 1 1.1 1 1.9 1-.1 1-.6 .9 .6 1 0 1-.4 1-1 .9 .5 1-.5 1 .4 1 1 .9 .7 1-.1 1-.3 1 .7 .9 .2 1-.2 1-.3 1-.1 .9-.3 1 .8 1-1 1 .2 .9 1 1 .5 1-.2 1 0 1-.4 .9 .5 1 1.5 1 .8 1 .5 .9 .7 1 .4 1 .7 1-.1 .9 .1 1 .3 1 .4 1 1 .9-.1 1 .4 1-.9 1-.3 .9 1 1 .9 1 .3 1 .2 .9 0 1 .8 1 .6 1 .1 .9-.1 1-.7 1-.4 1-1 1-.2 .9 .1 1 0 1 0 1-.7 .9 .5 1 .2 1 .1 1-.9 .9 0 1 .5 1 .2 1 1.1 .9-.3 1-.2 1 .2 1 .2 .9 .3 1 .3 1 .5 1 .4 .9-.2 1 .7 1-.8 1-.7 .9 .6 1-.3 1-.3 1 .3 1-.4 .9 .3 1 .7 1 .6 1-1.4 .9-.4 1 0 1-.2 1-1.2 .9 0 1-.5 1-.6 1-.2 .9 0 1-.3 1 .1 1 .9 .9 .7 1-.5 1 1.3 1 .1 .9-.8 1 2.1 1 .5 1-1 1-.1 .9 .2 1-.8 1-1.3 1 0 .9 .1 1 .7 1 .7 1 .7 .9-.1 1 1.6 1 1.8 1-.7 .9 0 1 .4 1 .4 1 .3 .9 .5 1 .4 1 .5 1 .9 .9-.3 1-.2 1 .8 1-.3 .9-.9 1-.1 1 .2 1-.5 1 .1 .9 .1 1-.7 1-.2 1 .2 .9-.1 1-.1 1-.2 1-.1 .9 .7 1 .5 1 .7 1-.1 .9-.3 1-.5 1-.4 1 .1 .9 .3 1 .1 1 .3 1 .4 .9 1.5 1 1.7 1-.6 1 .4 .9-.2 1-.5 1-.5 1 .4 1 .2 .9 .1 1-.4 1 .2 1-.3 .9-.3 1-.4 1 .4 1 .4 .9 .2 1 .4 1 1.2 1 1 .9 .6 1-.1 1-.4 1 .3 .9-.1 1-.2 1 .1 1 .5 .9 .4 1 .2 1-.3 1-.3 1 .4 .9-.7 1-.5 1-1.7 1-1.4 .9 .3 1 0 1 .1 1 .8 .9 .1 1 .8 1 .3 1 .2 .9-.6 1 .6 1-.3 1-.1 .9-.3 1 0 1-.6 1 .3 .9 .4 1 0 1 .3 1 .3 .9-.7 1 .6 1 .8 1-.5 1 .3 .9 0 1 1.1 1 .2 1-.8 .9-.5 1-.4 1-.7 1 .1 .9 0 1 .1 1 .7 1 .1 .9-.6 1 .7 1 0 1-.4 .9-.4 1 .9 1-1.2 1 .2 .9-.2 1-1.4 1 1.3 1-.2 .9 .3 1 .2 1 .2 1 .9 1 1 .9 .1 1-.4 1-.5 1-1.1 .9 .1 1-.4 1-.4 1 0 .9 .3 1 .2 1-.8 1 .2 .9 0 1-.5 1-.6 1-.9 .9-.4 1 .4 1 .3 1-.1 .9 .4 1 .3 1 .6 1-.4 .9-.4 1-.4 1-1.2 1-.1 1-.2 .9-.3 1 .2 1-.2 1-.2 .9-.7 1-1.1 1-.9 1-.7 .9 0 1 .1 1-.7 1-.7 .9 .4 1-.7 1 0 1-.2 .9-.4 1 0 1-.5 1-.8 .9-.1 1-.6 1-.5 1-.1 1 .9 .9 .2 1 0 1 .1 1-.2 .9 .6 1 .2 1-.2 1 .5 .9 .2 1 .5 1 1 1 .2 .9 0 1 .6 1-.3 1 .8 .9 1.4 1-.4 1-.4 1-.4 .9-1.1 1 .5 1 .4 1 .5 .9 .5 1 .1 1-.1 1 .1 1 0 .9 .1 1 .1 1-.2 1-.9 .9 .1 1-.6 1-.7 1 1.1 .9 .1 1-.2 1 1.5 1-.5 .9-.6 1 .9 1-.5 1 1 .9-.2 1 .1 1 1 1 .1 .9 .7 1-.2 1-.2 1 .1 .9 .1 1 1.1 1 .4 1 .5 1 1.1 .9-1 1-.9 1 .1 1-.5 .9 .2 1 1 1 .1 1-.1 .9 .1 1 .4 1 .1 1-.7 .9-1.4 1-.5 1 .8 1 1.1 .9 .6 1 .1 1 .4 1 1.7 .9 .6 1 .1 1 .9 1 1.3 1 .1 .9 .5 1 .5 1-.8 1 .4 .9 .3 1-.4 1-.3 1 .5 .9 .8 1 .5 1 .6 1 .2 .9-.1 1 .7 1 .1 1 .1 .9-.5 1-.7 1-.2 1 .1 .9 .5 1-.2 1 .3 1-.6 .9 .4 1 0 1-1.2 1 0 1 .8 .9 0 1 .1 1 .1 1 0 .9 .2 1-.2 1-.4 1 .7 .9 .6 1 .1 1 .1 1-.3 .9 .2 1 .3 1 0 1-.6 .9-.4 1-.3 1 .1 1 .5 .9-.7 1-.9 1 .8 1 .7 .9-.7 1-.2 1 .2 1-.9 1 .2 .9 .5 1-.4 1-.8 1-.5 .9-.9 1-.7 1 0 1-.4 .9 1.2 1 .7 1 .6 1 1.5 .9 .2 1-.2 1-1 1-.7 .9-.4 1 .2 1-.1 1-.4 .9-.4 1-.5 1 .2 1 .7 1-.5 .9-1 1-.4 1 .7 1-.3 .9-.2 1-.1 1 0 1-.5 .9 .3 1-.9 1-.4 1 1 .9 .6 1-.9 1 1.2 1 .9 .9-.1 1 .3 1 .3 1 1 .9-.1 1-.9 1-1 1 .1 .9 .4 1-.2 1-.2 1 .1 1 .8 .9 .9 1-.3 1-.3 1-.8 .9 .7 1 .1 1 1 1-.3 .9 .4 1 .1 1-.2 1 0 .9 .1 1 .8 1 0 1 .7 .9 .1 1-.1 1-.3 1-.4 .9-.2 1-.1 1-.8 1 .1 .9 .2 1 .9 1-.6 1 .3 1 0 .9 .5 1-1 1 .6 1 .3 .9 .1 1 .2 1 .1 1-1.3 .9-1 1 .6 1 .2 1 1.1 .9 1.4 1-.2 1-.1 1 1.1 .9 0 1-.1 1 .2 1 0 .9 .3 1 0 1 .1 1 0 .9 0 1-.9 1 .6 1 .7 1 .2 .9 .2 1 .8 1-.4 1 0 .9-.2 1-1 1 .2 1 .8 .9 .3 1 .7 1 .8 1 .8 .9 .4 1-.2 1-.5 1-.2 .9-.2 1-.7 1 .7 1 1.8 .9 .5 1-.5 1 1.7 1 .2 1-.1 .9 .5 1-.7 1 0 1 .1 .9-.3 1-.8 1-.6 1-.9 .9-.1 1 1.1 1 0 1-.8 .9 .8 1 .3 1-.2 1-.3 .9 1.1 1 1.5 1 1.2 1 .5 .9 .2 1-.3 1-.8 1 .1 .9 .5 1-.8 1 .2 1 .8 1 1.3 .9-.8 1-1 1 .2 1-.1 .9-.1 1-1.3 1-.1 1 .1 .9 0 1 2 1 .3 1 .9 .9-.4 1-.7 1-.1 1-.5 .9 0 1 .4 1 .2 1-.3 .9 .1 1 .1 1 0 1 .3 .9 .2 1-.1 1 .4 1 .5 1-.1 .9 .3 1-.4 1-.7 1-.5 .9-1.1 1-.4 1-.2 1 1.2 .9 .8 1 .9 1-.6 1-.6 .9-.1 1-.3 1-.6 1-.9 .9-.2 1 .1 1-1.6 1-.3 .9 .2 1-.1 1 .6 1 0 1-.1 .9-1 1-.5 1 0 1-.5 .9-1.1 1 .5 1 .8 1-.2 .9 .9 1-.1 1-.9 1-.2 .9 .4 1-.1 1-.6 1-1 .9-.9 1 .6 1-.5 1-.5 .9-.6 1 0 1 .3 1 1 .9 .2 1-.1 1 0 1-.3 1-1.8 .9-1.5 1-1.1 1-.7 1-.3 .9-.3 1 .6 1 0 1-.9 .9-.6 1-1.8 1-.2 1-.9 .9-1.3 1-1 1-1.6 1-1.2 .9-.5 1-.9 1-2 1-1 .9-1 1-1.4 1-1.2 1-.6 .9-1.5 1-1.6 1-.2 1-1.5 1-1.7 .9-1.5 1-1.4 1-1 1-.8 .9-1.4 1-1.1 1-.8 1-.2 .9-.5 1 .3 1 .6 1 1.5 .9 .8 1 .8 1 1.9 1 1.4 .9 .7 1 1.6 1 .9 1 .8 .9 1.7 1 .7 1 .9 1 .6 1 1.2 .9 1.4 1 1.1 1 .8 1 2.2 .9 1.4 1 .2 1 .8 1 .4 .9 1 1 .2 1 0 1 .6 .9 .5 1-.6 1-.3 1 1 .9 .9 1 0 1-.3 1 1.5 .9 1.5 1 1 1-.1 1 .9 .9 .9 1-.3 1 .5 1 1.1 1 .3 .9-1.1 1-.4 1 .5 1-.1 .9 .3 1 0 1 .4 1 1.1 .9 .4 1 .4 1 .3 1 .8 .9 .2 1 .7 1 1.1 1 .4 .9 .3 1 .7 1 .1 1-.3 .9 .3 1-.3 1-.8 1-1 .9-.1 1-.3 1-.6 1-.4 1-1.6 .9-1 1-.5 1-.3 1-1.5 .9-.8 1 .6 1 1.4 1 2.8 .9 2.3 1 0 1 0 1-.5 .9 .8 1 1.6 1-.2 1 .4 .9 1.3 1 .7 1 .1 1 .7 .9 .8 1-.2 1-.3 1 0 1 .2 .9-.2 1-.8 1-.9 1-1 .9-1.8 1-.1 1-.7 1-.9 .9-2.1 1-2.9 1-2.5 1-2.8 .9-1.8 1-2.3 1-2.2 1-.7 .9-.4 1-.5 1-1.9 1-.9 .9-.5 1 .3 1 1.3 1 1.6 .9 2 1 1.7 1 2.1 1 1.6 1 1 .9 1.5 1 1.8 1 2.1 1 2.4 .9 2.6 1 1.5 1 2.5 1 1.9 .9 .4 1 .3 1 .6 1 .7 .9 .2 1 .9 1 1 1-.2 .9-.2 1 1.2 1 .7 1 0 .9 0 1 .3 1 0 1 1.4 .9 .6 1 .8 1-.4 1-.3 1 .5 .9 .3 1 0 1-.1 1 .2 .9-.3 1-.3 1 .4 1-.1 .9-.6 1-.5 1-.6 1-.2 .9 1.9 1 .9 1 .2 1 .1 .9-.1 1 1.1 1-.3 1-.6 .9-.5 1-.1 1 .5 1-.1 .9 .6 1 .5 1 .4 1 .5 1 .4 .9 .4 1 0 1 .3 1 1.2 .9-1.1 1-.8 1-.8 1 .6 .9 .8 1 .7 1-.1 1-.3 .9-.3 1-.8 1-.6 1 .4 .9-.8 1-.2 1-.1 1 .8 .9-.2 1 0 1-.1 1 .6 1 .7 .9 .1 1-.1 1-.4 1 .4 .9-.1 1-.3 1-.5 1-.8 .9-.8 1 0 1 0 1-.1 .9-.4 1 .4 1 .4 1 0 .9 0 1-.4 1-.4 1-.1 .9-.6 1-.1 1 .2 1-.2 .9-.6 1 .4 1 .4 1-.4 1-.2 .9 .7 1-.5 1-.6 1 .4 .9 0 1-.6 1-.4 1-.3 .9-.7 1 .5 1-.2 1-.5 .9-.2 1 .5 1 .8 1-1.1 .9-.7 1 .2 1 .9 1 .7 .9-.7 1 .7 1 0 1 .4 .9-.1 1-1.2 1 .1 1 1.2 1 .3 .9-1.2 1-.1 1 0 1 0 .9 1.1 1 .6 1 .3 1 .2 .9-.8 1 0 1 .8 1 .8 .9-.2 1-.7 1-.3 1-.7 .9-.4 1 0 1-.3 1 .6 .9 .5 1-.6 1 1.2 1 .8 1 .1 .9 .3 1 .6 1 0 1-.7 .9-.3 1-.1 1 .4 1-.4 .9-.3 1 .1 1 0 1 .2 .9-.2 1-.5 1 .2 1 .7 .9-.5 1 .1 1 .9 1 .3 .9 .3 1-.5 1-.9 1 0 .9 .1 1-1.4 1-.9 1 .3 1-.8 .9-.2 1 .2 1-.4 1-.2 .9 .2 1 .5 1 .8 1 .2 .9 .4 1-.1 1-.2 1 .4 .9 0 1 .7 1-.5 1-.3 .9 1.1 1-.4 1-1 1-.2 .9 .4 1-.6 1-.6 1 .1 .9-.5 1-.1 1-.3 1-.6 1 1.1 .9-.3 1-.4 1 .6 1 .2 .9-.3 1-.2 1-.5 1-.6 .9-.2 1-.6 1 .4 1 .2 .9-.4 1-1" stroke="#01426e" stroke-width="2.35" stroke-dasharray="2.3 3.05"/>
<path d="M162.3 639.5l1-.3 1 1.7 1 2.1 .9-.5 1-.5 1 .3 1-.1 .9 .2 1 .4 1 .2 1-.2 1 .1 .9-.7 1-.1 1 1.4 1-.6 .9-.1 1-.4 1-.6 1 .5 .9 1.9 1-.6 1 .3 1-1.6 .9 .1 1 .1 1-2 1 1.1 .9-.4 1-.2 1 .8 1 .7 .9-.6 1 .3 1 .2 1-.2 1 1.9 .9-.6 1 .5 1 2.2 1 .8 .9-1.4 1-1.2 1 .5 1-.5 .9-1 1-.5 1 1 1 .3 .9 1.2 1 .9 1-.7 1-.5 .9 .1 1-.5 1-.2 1 .1 .9-.2 1 .6 1 .5 1 1.2 .9 .9 1 1.2 1-1.3 1-.8 1 0 .9 1.6 1 .1 1-.5 1 .7 .9-1.4 1-1.6 1 1.2 1-.6 .9-1.8 1 1.6 1-.2 1-1 .9-.4 1 1.9 1 .9 1-.6 .9-.6 1 1.7 1 .3 1-.6 .9-1.9 1-.2 1-.6 1-.9 .9-.7 1 .1 1 .1 1-.5 1 .2 .9 1.5 1 .6 1-.6 1 .7 .9 .2 1-.6 1-2.6 1 1.1 .9 .9 1 .1 1 1.3 1 0 .9 .3 1 .8 1 1.7 1-.7 .9-.4 1 .9 1 2.1 1-.7 .9-.2 1-.5 1-.5 1 0 .9-1.3 1 .3 1-.1 1 1.5 1 .4 .9-1.3 1 .2 1 .9 1 .2 .9-.4 1-.4 1-.6 1 .1 .9 0 1-.1 1 .7 1-.3 .9 .1 1 .9 1 .5 1 0 .9 .4 1 .5 1-.8 1-.3 .9-.6 1 .6 1 .6 1 .2 1 1 .9 .4 1 .7 1 .2 1-.9 .9-.1 1 .4 1 .7 1-.7 .9-1.7 1 2 1-.9 1-.9 .9-.4 1 .2 1 2 1-.4 .9 1 1 1.2 1-.2 1 .7 .9 .5 1 .9 1 .8 1-.4 .9 .5 1-1.1 1 .1 1 0 1 1.6 .9 1.8 1 .1 1-1.5 1-.5 .9-.4 1 1.1 1 1.1 1-.6 .9 .2 1 0 1 0 1 .6 .9 1.8 1 1.1 1-1.6 1 .7 .9 .5 1-.1 1 .1 1 .1 .9 .3 1 .1 1 1 1-1.8 .9 .2 1 1.7 1-.4 1-1.3 1 .7 .9-.5 1-2 1 .1 1 .8 .9-.1 1 .7 1 .5 1-1.3 .9 .4 1 .6 1-.4 1 .3 .9 1.2 1-1.4 1 .3 1-.3 .9 .3 1 .6 1-2 1-.6 .9 1 1-.4 1 1 1-.9 1-.1 .9 .2 1 .4 1-.6 1-.3 .9-.3 1-.6 1 .8 1 .2 .9-.6 1 .1 1-.3 1-1.5 .9 1.3 1 2.1 1 .1 1-.5 .9-.7 1 1.2 1 1.3 1-.3 .9 .3 1 .2 1 .8 1-.3 .9-.7 1-1.7 1-.8 1 .1 1 .6 .9 1.5 1 1.1 1 1.2 1 1 .9 1.3 1 2 1 1.4 1 .3 .9-.5 1-.9 1-.1 1 .2 .9-1.8 1 .9 1-.6 1-.4 .9 0 1 1.4 1-.1 1 2.2 .9 1.5 1 1.3 1 .7 1-.1 .9-.9 1-.4 1 1.2 1 .7 1 .7 .9 .7 1 .5 1-.9 1-1.2 .9 .8 1 .1 1 1 1 .4 .9-.8 1-1.4 1 .1 1-.5 .9 0 1-.2 1-1.3 1-2.2 .9-1.1 1-1.2 1 .4 1 2.2 .9-.8 1-.6 1 2.4 1 .2 1-1.4 .9 1 1 1.3 1 .2 1 1.7 .9 2 1 2.1 1 2.9 1-1.7 .9 0 1-.5 1 1.1 1 .5 .9 .1 1 .6 1 .1 1 .1 .9-.2 1 .4 1 .5 1-.1 .9-.7 1 .6 1 .2 1 0 .9 1.5 1 0 1-.5 1 .4 1-.4 .9 .5 1-1 1-.7 1-1.3 .9-.6 1 .6 1-.9 1-1.4 .9-.4 1-.8 1-.4 1-.8 .9-1.7 1-.8 1-1.7 1 .7 .9-.6 1-1.6 1-2.3 1 0 .9 1.1 1 .7 1 .3 1 1.2 .9 1.6 1 .7 1 1 1 .6 1-.5 .9 .5 1 .9 1 1.8 1 2.6 .9 2.3 1 .5 1 .1 1 .2 .9 .4 1-.1 1-.6 1 0 .9-.9 1-.3 1 .5 1 1.2 .9 .4 1-.4 1-.7 1 .8 .9 1.7 1 1 1 1.8 1 2 1 1.9 .9-.1 1 0 1 .9 1 0 .9 .7 1 .8 1 .3 1-1.5 .9 .1 1-.5 1 .1 1 .7 .9-.8 1-1 1-.9 1-2 .9-.3 1 .7 1-1.3 1-.6 .9-1.3 1-.1 1-2.4 1-.4 .9 .3 1-.1 1 2 1 1.2 1-1 .9-.8 1 .5 1-1.3 1 .2 .9 .4 1-.3 1-.3 1-1.1 .9 .7 1-1.5 1-3.1 1-1.4 .9-.6 1-.4 1-.2 1 1.2 .9 1.1 1 1.4 1 .7 1-.2 .9 1 1-1 1-.6 1 .8 .9-.6 1-1.4 1-.6 1-.1 1-.2 .9 .5 1 .7 1-1.1 1-.6 .9-.5 1-.6 1 .1 1 1.4 .9 .2 1-1.4 1 .3 1 .3 .9-.4 1-.6 1 .8 1-.4 .9-.6 1 1.9 1-.7 1-.5 .9 1.6 1-.7 1 .4 1 .9 .9-.3 1 2.6 1 .3 1-1.5 1-.8 .9 .6 1 .4 1 0 1-.4 .9 0 1 1.8 1 0 1 .2 .9 .9 1 .7 1 .8 1-.2 .9 .1 1 .4 1 .7 1 .1 .9 .4 1 .3 1-.7 1 .6 .9 .5 1 1.1 1-.1 1 .5 1-2.3 .9-1.8 1 .6 1 .3 1-.7 .9-.6 1 1.3 1-.2 1-.7 .9 .5 1-1.6 1-1 1 .5 .9-.4 1 0 1 .4 1 .1 .9-1 1-.1 1 .5 1 .1 .9-.7 1 .2 1 1.2 1 0 .9-.9 1 1.4 1 .4 1 .1 1-.7 .9 .1 1 1.4 1-1.3 1 0 .9 1.3 1 .2 1-.4 1-.7 .9 .6 1 .9 1-1 1-.9 .9 .9 1 .1 1-.6 1 .5 .9 .8 1-.8 1 .9 1 1.4 .9-1.1 1-.9 1 .4 1 1.5 .9 .8 1 .9 1 .6 1 1.3 1 0 .9-1.8 1 1.2 1-.8 1 .2 .9 2.1 1-.5 1 .9 1 .5 .9 .6 1 1.1 1 .7 1 1.4 .9 .4 1-.5 1-1.5 1 .7 .9 .2 1-.5 1-.7 1 .5 .9 .2 1 .6 1-1.9 1 1.4 1 .5 .9 .5 1 .7 1 1 1 .7 .9-.4 1 .2 1 1.6 1 1.4 .9 .5 1-.8 1-1.1 1-1.8 .9-1.3 1 1.6 1-.1 1 .3 .9-.8 1-.2 1-.3 1 .2 .9-.4 1-.4 1 .4 1 1.2 .9-.6 1-2.2 1 1.1 1 .7 1-1.7 .9-.3 1 1.1 1 .8 1 1.3 .9-1.2 1-.4 1 2.2 1 .3 .9-.3 1 .3 1 .7 1-1.4 .9 .9 1-.8 1-.9 1 .5 .9 .2 1-.1 1 1.1 1 .4 .9-1.1 1-.5 1-.3 1 .5 .9 .1 1-2.2 1-1.5 1 .3 1 .1 .9 .2 1-.5 1-1.1 1-.2 .9 .7 1-.4 1 0 1-.2 .9 .4 1 1 1-.5 1-1.6 .9 0 1-.4 1 .4 1 0 .9 .2 1-1 1 .4 1 .4 .9-.9 1-.4 1 1.9 1-.5 1 .8 .9 .9 1 0 1-1.2 1 .9 .9 0 1-.2 1 .8 1 .2 .9-.9 1 .3 1 2.3 1 .8 .9 .7 1 .9 1 .9 1 0 .9 1.1 1 1.3 1-.9 1-1.2 .9-1.3 1-.5 1 .8 1 .4 .9-.9 1-.6 1-.5 1-.8 1 2.3 .9 .7 1-.8 1 1.1 1-.7 .9 .6 1 .6 1 .8 1 .4 .9-.1 1-.3 1 .9 1 .7 .9-1.1 1-.9 1 .6 1 .5 .9-1.1 1-.5 1 .9 1-.3 .9 .1 1 .2 1 .3 1-.1 .9 .5 1 .2 1 .4 1 .5 1 .7 .9 0 1 0 1-.3 1-.4 .9 2.3 1 0 1-2.4 1-1 .9 .5 1 1.5 1 .1 1 .9 .9-.6 1 .5 1-.5 1-1.7 .9 .2 1-.2 1-1.9 1 1.3 .9 .3 1 1 1-.6 1-.7 1 .2 .9-.1 1-1.7 1-.1 1 1.8 .9-.2 1 .9 1 1.2 1-.3 .9 .2 1-.5 1-.9 1 .6 .9-.3 1-.3 1 1.4 1-.9 .9-1 1 1.6 1 .3 1-1.1 .9-.2 1 1 1 .5 1 .1 .9 .8 1-1.3 1-2.5 1 .9 1-.3 .9-.2 1-1.4 1 .9 1-.7 .9-.8 1 .8 1 .4 1 0 .9-.9 1 .7 1 .4 1 .1 .9 1 1 .8 1 .5 1-1.2 .9-.8 1 0 1 .9 1 .1 .9-1 1 .7 1 2 1 1.5 .9-.7 1-.9 1 0 1-.6 1 1.4 .9 1.1 1-1.3 1-1.3 1 .7 .9-.3 1-.5 1 .4 1 .4 .9-.3 1-.4 1-.7 1 .2 .9 .5 1 .1 1-.7 1-1.1 .9 .2 1-.1 1-1.1 1-.5 .9-1.4 1 0 1 .1 1-1.4 .9 1.7 1 1 1-.8 1-1.1 1-1.1 .9-.2 1 .8 1 .9 1-1 .9-.4 1 .6 1 .5 1-1.2 .9 0 1-.1 1-.1 1 .4 .9-.1 1-.3 1-.7 1-.1 .9-.9 1 .3 1-.4 1-.3 .9 .1 1 2.6 1-.9 1-1.3 1 .4 .9 .1 1 .2 1 .8 1-2.3 .9 .4 1 0 1 0 1-.6 .9 0 1-1.7 1-1.3 1-.9 .9-1.2 1-1.5 1 .4 1 1 .9-.2 1-.4 1-.8 1 2.9 .9 1.6 1 .2 1 .4 1 .1 .9 0 1 1 1 0 1 1.3 1 1 .9 .8 1-.1 1-1.2 1 .1 .9-.9 1 .9 1 1.4 1-.6 .9 1.2 1-1 1-.8 1 1.3 .9-.6 1-.6 1-.6 1 .5 .9 .7 1-.3 1-.2 1 .5 .9-1.1 1-.9 1 1 1 .7 .9 .4 1-.1 1 .1 1 0 1-.4 .9-.5 1 1.5 1 1.1 1 .5 .9-.3 1-.6 1 1.6 1 .9 .9-.5 1-.1 1-1.2 1-1.4 .9 .1 1 1.2 1-.2 1-.8 .9-1.9 1 1.1 1-1.7 1-.6 .9 .2 1-.2 1 2.2 1-.7 1-1.3 .9 .6 1 .5 1 1.8 1 1.6 .9-.2 1 .1 1 0 1 .2 .9-.3 1 1.6 1-1.1 1-1.6 .9 .4 1 .6 1-.5 1-.3 .9-.3 1-1.6 1-.8 1 3.1 .9 3 1 3.3 1 3.4 1 .9 .9 .1 1-1.1 1-.6 1 1.4 1 .6 .9-.1 1-.7 1 .1 1 .5 .9-.7 1-.1 1 .5 1-1 .9-.9 1-.2 1-.4 1 .5 .9 1.8 1-.4 1-1.1 1-.2 .9-.6 1 0 1-.9 1 .4 .9 .4 1-.1 1-.2 1 1.3 .9-.5 1 .3 1 1.9 1-2.8 1-1.4 .9-1.2 1 .8 1-.7 1-.1 .9-1.4 1-.4 1 1.6 1 2.6 .9-.2 1-.5 1 .6 1 .2 .9 .6 1 0 1-.3 1 .6 .9-.9 1-.7 1 .5 1 .6 .9 .3 1-1.7 1-.6 1 1.5 1 2 .9-.5 1-.3 1-.1 1 .2 .9-.6 1-.5 1-1.2 1-.2 .9 1 1 .2 1-.1 1-.2 .9-.4 1-1 1 1 1-.2 .9 0 1 .1 1 .8 1 .9 .9-.7 1-.8 1 .3 1-1.4 .9-2.5 1 1.5 1 .4 1 1.6 1-.2 .9 .1 1-.1 1-.4 1-.5 .9-1.1 1-.7 1-.5 1 .5 .9 0 1 .5 1 1.1 1 1 .9 .2 1-.1 1 1.5 1 2.3 .9-.1 1 1.2 1-1.1 1-.6 .9-.2 1-.7 1 .9 1 1.9 .9 0 1 1.1 1-.6 1-.5 1-.1 .9 .2 1-1.1 1 0 1 .5 .9-2.5 1 .1 1 0 1 0 .9 .8 1 .3 1 .7 1 .3 .9 .4 1 .7 1 .3 1-.2 .9 1.1 1-1.5 1 .5 1-.9 .9-1.4 1-.1 1-.6 1-1.5 .9 .5 1 1 1 .2 1 1 1 1.7 .9 .4 1-.5 1 .8 1-.5 .9-.9 1 1.1 1 .6 1-.3 .9 .2 1-1.9 1-1.1 1-1.3 .9-3.9 1-1.1 1 2.4 1 1.2 .9 3.8 1 3 1 1.1 1 .7 .9 .4 1 .1 1-.8 1 .5 1 1.2 .9-.4 1-1.9 1-.3 1-.2 .9-1.1 1 1.4 1 0 1-1.7 .9-.4 1 1.5 1 .9 1 1.5 .9 2 1 1 1 .3 1 .6 .9 .1 1-.5 1-.8 1-1.2 .9 1.1 1 .3 1 .1 1-1.2 .9 0 1 1.2 1 1.2 1-.7 1 .9 .9 .7 1-.8 1-2.1 1-.3 .9 .4 1-.2 1-1.3 1 .1 .9 0 1-.4 1 .7 1 1.6 .9 .3 1-.3 1 1.3 1-.6 .9-.7 1-.3 1-.5 1-.3 .9-.6 1 1.4 1 1.8 1 1.1 .9 .5 1 .4 1-.9 1-1.2 1 1.2 .9 1.9 1-.9 1-2.3 1-.6 .9-1.3 1-.9 1 .2 1-.2 .9-2 1-.3 1 .9 1-.7 .9 .8 1 .5 1-1.5 1-.6 .9 .9 1-.6 1-.6 1 1.8 .9-.2 1-1.3 1 .1 1 1.3 1-.4 .9 .5 1-.8 1-1 1-1 .9 .8 1-.6 1 .8 1 .8 .9 0 1-.4 1-.8 1-.5 .9-1.2 1-.5 1 1.1 1 .8 .9 .1 1-.5 1-.4 1 1.3 .9-.8 1-1 1 .9 1-.6 .9-1.6 1 .6 1 .4 1 0 1-1.9 .9-1.5 1-.7 1-1.4 1 .2 .9-.2 1-1.8 1-.7 1 .7 .9 .8 1-1.7 1-2.3 1-1.4 .9-.7 1-.4 1 1 1 1.3 .9 0 1-.7 1-.4 1-.7 .9-2.5 1-2.5 1 .5 1-1.5 .9-1.1 1 .7 1-2.1 1-1.1 1-1.2 .9-1.2 1 .1 1-2.1 1-3.6 .9-2.3 1-.1 1-1.9 1-1.2 .9-.1 1 .1 1 1.5 1 1.9 .9 2.2 1 2.4 1 2.7 1 1.5 .9 .6 1 1.2 1 2 1 2.5 .9 .7 1 1 1 0 1 1.3 1 1.1 .9 .1 1 .5 1 0 1-.4 .9 .4 1-.2 1 1.3 1 .2 .9-2.1 1 .7 1 1.5 1 .5 .9 .6 1 1.5 1 .3 1-.3 .9 1.9 1 1.5 1-1.3 1-.9 .9 .5 1-.3 1 .2 1-.8 .9 .1 1 0 1-.6 1 1.5 1 .7 .9 .4 1 .2 1 1.4 1 2.2 .9 .2 1-.7 1-.6 1-.8 .9-1.5 1-.8 1-.5 1-.3 .9 .8 1-.2 1-.3 1 .6 .9-.1 1 .2 1 .7 1 .6 .9 .7 1-1.5 1 1.2 1 2.2 .9 2.8 1 .6 1 .1 1-.4 1-1 .9-1.1 1-3.7 1-1.1 1-.7 .9-1 1-.4 1-1.5 1 .3 .9 .8 1 .1 1 .7 1 1.6 .9 3.3 1 1.5 1 2.4 1 3.7 .9 .3 1-.6 1-.4 1 .1 .9-1.1 1 0 1 1.3 1-.5 1-1.1 .9 .1 1 .3 1 .1 1-2.1 .9-.8 1 .5 1-1.7 1-1.5 .9-.6 1-1.4 1-2.7 1-2.1 .9-1.1 1-.1 1 .9 1-.3 .9-1.4 1-.6 1-1.2 1-3 .9-3.3 1-6.5 1-1.7 1-.5 .9-1.1 1 1.3 1 2.9 1 6 1 5.5 .9 3.2 1 4.7 1 3.3 1 2 .9 2.4 1 .2 1 .1 1-.8 .9-.5 1-.7 1 2 1 2.6 .9 .7 1 .7 1 1.1 1 0 .9-.9 1 .9 1-.8 1 1.2 .9 .4 1 0 1 1.6 1 .7 .9-.5 1 0 1-2 1-.6 1-.7 .9 .2 1 1.4 1 2.1 1 1 .9 1.1 1 1.5 1-1.9 1 .4 .9 2 1-1.3 1 .7 1 0 .9-1 1 .2 1 .6 1 1.3 .9 1.1 1 1.1 1 0 1-1.3 .9-.9 1-2.3 1-.4 1-.2 .9-.6 1 1.3 1 .6 1 1.4 1 2.5 .9 .1 1 .1 1-.1 1-1.2 .9-.2 1 .5 1-.9 1-1.4 .9 .2 1 .4 1 .1 1-.3 .9-.7 1 1.2 1-1.4 1-.7 .9 .3 1-2.1 1-.4 1 .1 .9 1.3 1-.2 1 .9 1-.3 1-.6 .9-1.7 1-.5 1 1.4 1-1.1 .9-.5 1 0 1-1.8 1 2.2 .9 0 1 0 1-.2 1-.6 .9-.8 1-.1 1 .2 1 2 .9-.3 1-1.3 1-.1 1 .3 .9-1 1-.2 1 .5 1 0 .9 .2 1 .2 1 0 1-.7 1-.7 .9 .8 1 .9 1-.1 1-1.2 .9 0 1-.9 1-1.4 1-.2 .9 1.5 1 .2 1-.7 1-.8 .9 .4 1-.7 1-.9 1 .2 .9-.7 1-1.2 1-.1 1 .7 .9 0 1 .1 1 .7 1 0 .9-.5 1 .8 1-.2 1 .6 1 1.3 .9-.7 1-.3 1 .5 1-.8 .9-.5 1 .9 1-1.6 1 .9 .9 2 1 1.8 1 1.3 1-.6 .9 .3 1-.3 1 1 1-1.1 .9-1.3 1 1.3 1 1.9 1 .9 .9-.7 1 .9 1-.3 1-.9 1 .4 .9-.4 1 .1 1 .7 1-.4 .9 .2 1-.3 1 .2 1-1 .9 1.3 1 .3 1 0 1 .5 .9-.3 1-.3 1 0 1-1.2 .9-2.3 1 0 1 .6 1 2 .9-.3 1-.4 1 .7 1-1.2 .9-1.1 1 1.2 1 0 1 .1 1 1 .9 .8 1-1.2 1-.9 1 1.3 .9 0 1 .2 1 1.9 1-.2 .9-.9 1 .7 1-.1 1-1.3 .9-.3 1 .1 1-1.2 1-2.1 .9 .1 1 1.1 1 .3 1-1.3 .9 1.2 1 1.4 1 .2 1-.7 .9-.3 1-.4 1 .6 1 0 1 1.1 .9 2.4 1 .4 1 .5 1-.7 .9-1.6 1-1.2 1-1.5 1-1.1 .9-2.2 1-.6 1 .5 1-1.2 .9 0 1-.4" stroke="#d80b54" stroke-width="2.35" stroke-dasharray="2.3 3.05"/>
<path d="M162.3 721.4l1-.3 1-.2 1-.1 .9-.2 1-.2 1-.2 1-.1 .9-.1 1 0 1 .1 1 .2 1 .2 .9 .2 1 .3 1 .4 1 .1 .9 .4 1 .3 1 0 1 0 .9 0 1 0 1-.2 1-.2 .9-.3 1-.2 1-1.4 1-1.4 .9-1.6 1-3.8 1-4.2 1-7.4 .9-7.8 1-7.1 1-5.6 1-4.7 1-.5 .9 2.7 1 5.4 1 6.8 1 8.1 .9 6.9 1 5.8 1 4.3 1 3.1 .9 1.8 1 2 1 1.2 1 .6 .9 .5 1 .4 1 0 1 0 .9 0 1-.1 1-.1 1-.2 .9-.1 1-.1 1-.4 1-.3 .9-.3 1-.2 1-.1 1-.2 1-.1 .9-.2 1-.1 1-.1 1-.1 .9-.2 1-.1 1-.1 1-.1 .9-.1 1-.6 1-.6 1-.6 .9-.7 1-.5 1-.4 1-.3 .9-.5 1-.1 1 0 1 0 .9 0 1-.3 1-.5 1-.4 .9-.4 1-1.2 1-1.7 1-1.7 1-4 .9-5.7 1-12.5 1-18.7 1-15.1 .9-18.9 1-15.7 1-11.4 1-9.4 .9-1.4 1 8.1 1 13.9 1 18.5 .9 18.6 1 22.4 1 13 1 8.5 .9 6.3 1 4.9 1 2.6 1 .9 .9 .9 1-.2 1-.3 1-.2 .9-.1 1 0 1 0 1 0 1 .6 .9 .5 1 .7 1 .6 1 .4 .9 .5 1 .5 1 .5 1 .1 .9-.1 1 0 1-.1 1-.3 .9-.3 1-.3 1-.3 1 .4 .9 .5 1 .6 1 .4 1 .4 .9 .4 1 .1 1-.4 1-.3 1-.3 .9-.2 1-.2 1-.2 1-.2 .9-.1 1 .2 1 .3 1 .3 .9 .1 1 .1 1 .3 1-.1 .9-.7 1-.9 1-.8 1-.5 .9-.5 1-.4 1 0 1 0 .9-.1 1 .1 1 .3 1 .2 .9 .2 1 .4 1 .2 1 0 1 .1 .9 .2 1 .1 1 .5 1 .6 .9 .6 1 .5 1 .1 1 0 .9 .2 1 .1 1-.6 1-.9 .9-.8 1-.6 1-.7 1-.6 .9-.6 1-.4 1-.2 1-.3 .9-.3 1-.3 1 0 1 .2 .9 .2 1 .1 1 .1 1 .2 1 0 .9 .1 1 0 1 .1 1 .1 .9 .2 1 .2 1 .1 1 .2 .9 .2 1 .7 1 .7 1 .8 .9 .7 1 .4 1 .5 1 .4 .9 .3 1-.3 1-.3 1-.2 .9-.2 1 .2 1 .2 1 .1 1 .3 .9-.6 1-.6 1-.7 1-.6 .9-.7 1-.7 1-.8 1-.7 .9-.7 1-.8 1-.7 1-.4 .9-.3 1-.2 1-.1 1 .8 .9 .7 1 .8 1 .7 1 .8 .9 .6 1 .4 1 .4 1 .1 .9-.2 1-.2 1-.2 1-.2 1 0 .9-.2 1 0 1-.3 1-.9 .9-1 1-.9 1-.8 1-.8 .9-.6 1 .1 1 .1 1 .1 .9 .8 1 .8 1 .8 1-.6 .9-.6 1-.6 1-.6 1 0 .9 .1 1 .1 1 0 1 .6 .9 .8 1 .8 1 .7 1-.3 1-.4 .9-.4 1-.5 1-.7 1-1 .9-.9 1-.5 1 0 1-.2 .9-.1 1 0 1 .2 1 .2 .9 .4 1 .4 1 .2 1 .2 .9 .1 1 .3 1 .4 1 .3 .9 .4 1 .5 1 .5 1 .6 1 .5 .9 .5 1 .1 1 .2 1 .1 .9 .1 1-.7 1-.5 1-.6 .9-.6 1-1.4 1-1.1 1-.3 .9-.5 1-.4 1-.1 1 .2 .9 .3 1 .3 1 .3 1 .4 .9 .4 1 0 1-1.2 1-1.1 .9-1.7 1-3.8 1-4.3 1-7.1 1-7.6 .9-10.8 1-13.5 1-18.4 1-45.4 .9-38.5 1-38 1-38.9 1-79.9 .9-96.8 1-65.4 1-22.8 1 45.6 .9 70.1 1 62.8 1 49.8 1 72.2 .9 61.6 1 57.5 1 22.9 1 16.4 .9 14.5 1 10.7 1 5.2 1 2.8 .9 2.3 1 1.9 1 1.5 1 .1 1-.6 .9-2.9 1-2.9 1-2 1-1.3 .9-1.3 1-.6 1-.5 1-.4 .9-.2 1 .3 1 1.1 1 1 .9 .7 1 .7 1 .6 1 .1 .9 .2 1-.5 1-.8 1-.8 .9-.5 1-.7 1-.6 1-1.1 1-1.2 .9-1.1 1 .1 1 0 1 0 .9 1.5 1 1.5 1 1.5 1 1.8 .9 1.7 1 .2 1 0 1 .2 .9-.1 1-.4 1-.5 1-.4 .9-.5 1-.6 1-.6 1-.4 .9-.4 1-.5 1-.4 1-.3 .9-.1 1-.2 1 .2 1 .5 1 .6 .9 .7 1 .8 1 .7 1 1 .9 1.2 1 1.1 1 1.5 1 1.9 .9 1.6 1 1 1 .9 1 .6 .9-.2 1-.7 1-1.7 1-1.5 .9-.5 1-.6 1-.6 1-.2 .9-.3 1-.3 1-.4 1-1.2 .9-1 1-1.2 1-1.7 1-1.7 1-1.7 .9-1 1-.9 1-1 1-1.4 .9-1.3 1-3.9 1-4.4 1-10.7 .9-12.9 1-13.2 1-13.5 1-27 .9-28.6 1-29 1-11.5 1-28.7 .9-9.4 1 16 1 29.3 1 4.6 .9 39.1 1 37.4 1 26.4 1 14.3 .9 8.6 1 2.2 1 1 1-.6 1-.9 .9-1.5 1-1.7 1-2.2 1-2 .9-1.5 1 1.9 1 2.5 1 2.8 .9 2.3 1 1.7 1 .4 1 .4 .9 .4 1 .2 1 .2 1 .1 .9 .5 1 .5 1 .4 1 .4 .9-.3 1-.3 1-.3 1-.3 1-.1 .9-.1 1-.2 1-.1 1 .5 .9 .5 1 .6 1 .5 1 1.6 .9 1.9 1 1.9 1 4.6 1 5.7 .9 6.5 1 7.2 1 5.6 1 4.5 .9 1 1-1.8 1-3 1-4.3 .9-3.6 1-2.8 1-2.8 1-3 .9-2.4 1-1.9 1-1.9 1-1.8 1-1.5 .9-1.5 1-1.4 1-1.4 1-1.3 .9-1.3 1-1.3 1-1.4 1-2 .9-5.1 1-5.6 1-8.1 1-7.5 .9-6.9 1-3.5 1-5.1 1-4.5 .9-.6 1 3.3 1 4.8 1 11.1 .9 11.4 1 11.4 1 3.6 1 2.9 .9 1.4 1 1.1 1 1.2 1 .1 1-.2 .9-.2 1-.7 1-.9 1-1 .9-.7 1-.6 1-.6 1-.3 .9-.3 1-.3 1-.3 1-.3 .9-.3 1-.3 1-.2 1-.4 .9-.4 1-.5 1-.4 1-.4 .9-.4 1-.5 1-.4 1-.4 1-.3 .9-.3 1-.2 1-.4 1-.3 .9-.2 1-.2 1-.3 1-.1 .9-.1 1 0 1 .6 1 1 .9 .9 1 1.2 1 1.1 1 1.1 .9-.6 1-.4 1-.6 1-.3 .9-.3 1-.3 1 .7 1 .9 .9 .8 1 .3 1 .2 1 .2 1-.3 .9-.6 1-.6 1-.3 1-.2 .9-.2 1-.1 1 .1 1 0 .9-.1 1-.6 1-1.1 1-2.1 .9-3.1 1-3.3 1-3.4 1-2.7 .9-1.6 1-.9 1 0 1 .7 .9 2.1 1 2.3 1 2.9 1 2.7 .9 1.9 1 1.7 1 .7 1 .8 1 .7 .9 .2 1 .1 1 0 1-.1 .9-.1 1-.1 1-.4 1-.4 .9-.4 1-4.8 1-6.1 1-8.1 .9-2.1 1-4 1-3 1-1 .9 1.5 1 4.1 1 8.1 1 7.4 .9 6.4 1 4.1 1 3.4 1 .3 1 .3 .9 .3 1 .1 1 0 1 .1 .9 0 1 0 1 0 1 0 .9 .3 1 .3 1 .3 1 .2 .9 .2 1 .2 1 .3 1-.6 .9-.8 1-.8 1-.5 1-.4 .9-.3 1 .1 1 .4 1 .4 .9 .4 1 .2 1 .3 1 .3 1 .3 .9 .5 1 .3 1 .2 1 0 .9 0 1 .1 1-.4 1-.8 .9-.8 1-.6 1-.2 1-.3 .9-.1 1 .2 1 .4 1 .4 .9 .7 1 .7 1 .7 1 .8 .9 .8 1 .7 1 .5 1-.7 .9-.8 1-.8 1-.5 1-.6 1-.6 .9-.1 1-.2 1-.1 1-.2 .9 .1 1 .1 1 .1 1 0 .9 .3 1 .4 1 .3 1 .4 .9 .2 1 0 1-.1 1-.7 .9-1 1-.9 1-.8 1-.5 .9-.5 1-.3 1 0 1 0 1 0 .9-.1 1-.2 1-.2 1-.1 .9-.2 1 .2 1 .3 1 .2 .9 .3 1 .5 1 .3 1-.5 .9-.6 1-.6 1-.4 1-.4 .9-.2 1 .2 1 .2 1 .3 .9 .1 1-.7 1-.7 1-.6 .9-.1 1-.3 1 .2 1 .9 1 .9 .9 .6 1 .6 1 .7 1 .1 .9-.1 1 0 1-.2 1-.2 .9-.1 1-.5 1-.4 1-.4 .9-.3 1-.1 1 0 1 .6 .9 1.1 1 1.2 1 .7 1 .5 .9 .5 1 .2 1-.3 1-.3 .9-.5 1-.6 1-.6 1-.4 1-.1 .9 .2 1 1.1 1 .9 1 .7 .9 .8 1 .7 1 .6 1 .6 .9 .6 1 1.4 1 1.3 1 1.5 .9 2.6 1 2.4 1 .1 1 .2 .9 .2 1-.8 1-.9 1-.8 .9-1 1-1 1-.9 1-1 .9-1.1 1-1.1 1-1 1-1.2 1-1.1 .9-1.2 1-1.2 1-1.1 1-.8 .9-.8 1-.8 1-1 1-1.1 .9-2.8 1-3.9 1-5.4 1-6.3 .9-7.2 1-5.9 1-13.9 1-12.4 .9-9.8 1-7.2 1-4.9 1-.8 .9 4.4 1 8.1 1 11.5 1 14.5 1 12.8 .9 7.3 1 4.3 1 3.9 1 2.9 .9 2.3 1 .3 1-2.4 1-4.9 .9-7.1 1-6.4 1-4.8 1-3.8 .9-3.3 1-2.9 1 3.1 1 3.3 .9 3.8 1 9.8 1 8.8 1 3.2 .9 2.9 1 2 1 1.9 1 1.9 .9 1.9 1 1.9 1 2 1 1 1 .7 .9 .8 1 .4 1 .3 1-.6 .9-.9 1-.9 1-.9 1-.9 .9-.7 1-.4 1-.3 1-.3 .9-.3 1-.1 1-.1 1 0 .9 0 1 .2 1 .4 1 .3 .9 0 1-1.2 1-1.2 1-1 .9-.5 1-.5 1-.6 1-.3 1-.3 .9-.2 1 .1 1 .1 1 .2 .9 .1 1 .1 1 .3 1 .1 .9 .1 1 0 1 0 1-.1 .9-.1 1-.2 1-.1 1-.2 .9-.2 1-.3 1-.4 1-.4 .9-.4 1-.5 1-.6 1-.4 1-.3 .9-.2 1 0 1 .5 1 .5 .9 1.1 1 1.4 1 .7 1 .2 .9 .2 1-.1 1-.3 1-.4 .9-.9 1-1.5 1-1.5 1-1.7 .9-1.7 1-1.6 1-1.5 1-.9 .9-.9 1-.8 1-.2 1 .1 .9 1 1 1.1 1 1.4 1 1.3 1 .5 .9 .5 1 .4 1 .2 1 .2 .9 .2 1 .3 1 .3 1 .3 .9 .1 1 .1 1 0 1-.7 .9-.8 1-.9 1-1.1 1-1.1 .9-1.2 1-1.5 1-1.2 1 .2 .9 .2 1 .4 1 .4 1 .3 .9 .4 1 .5 1 .4 1 .4 1 .5 .9 .3 1 .4 1 .3 1 .6 .9 .7 1 .5 1 .9 1 .9 .9 1 1 .6 1 .6 1 .5 .9 .3 1 .2 1 .2 1-1.3 .9-1.9 1-1.9 1-.8 1-.2 .9-.2 1 0 1 .2 1 0 1 .3 .9 .1 1 .2 1 .1 1 0 .9 .1 1-.5 1-1.2 1-1.3 .9-1.1 1-.5 1-.4 1-.4 .9-.3 1-.1 1 0 1-.1 .9-.1 1 0 1 0 1 .1 .9 .1 1 0 1 .1 1 .6 .9 .5 1 .6 1 .6 1 .6 1 .5 .9 .6 1 .2 1 0 1 .1 .9 0 1 .1 1 .2 1 0 .9 0 1-.2 1-.1 1-.3 .9 0 1-.1 1-.3 1-.1 .9-.4 1-.6 1-.5 1-.7 .9-.7 1-.8 1-.7 1-.5 .9-.6 1-.3 1 .1 1-.1 1 0 .9-.1 1-.1 1-.1 1-.1 .9-.1 1-.2 1 0 1 0 .9 0 1-.2 1 0 1 .4 .9 .4 1 .3 1 .3 1 .5 .9 .5 1 .3 1 .4 1 .4 .9 .4 1 .4 1 .3 1 0 .9-.1 1 0 1-.1 1-1.1 1-1.1 .9-1.1 1-1 1-.9 1-1 .9-.6 1-.3 1-.5 1 .7 .9 1.2 1 1.2 1 1.6 1 2.1 .9 1.1 1 .5 1 .6 1-.5 .9-1.7 1-2.1 1-2.5 1-2.5 .9-2.3 1-2 1-7.9 1-9.2 1-8.9 .9-6 1-5.7 1-2.9 1-2.6 .9 2.4 1 4 1 7.2 1 7.1 .9 7.1 1 6.4 1 5.7 1 .7 .9 4.4 1 2.6 1 2.5 1 1.1 .9 1.1 1 1.1 1 .1 1 .2 .9-1.7 1-1.7 1-1.4 1-1.3 .9-1.3 1-.8 1-.7 1-.5 1 .5 .9 .5 1 .6 1 .6 1 .5 .9 .6 1 .6 1 .5 1 .8 .9 1 1 1 1 .5 1 .2 .9 .1 1-.5 1-1.1 1-1.5 .9-2 1-1.7 1-1.2 1-1.2 .9-.1 1-.3 1 .1 1 .9 .9 .9 1 .9 1 1 1 .9 1 .5 .9 .6 1 .6 1 .8 1 .7 .9 .7 1 .8 1 .8 1 .7 .9 .6 1 .6 1 .6 1 .1 .9-.1 1 .2 1-.8 1-.7 .9-.9 1-1.2 1-1.1 1-.5 .9-.3 1-.4 1 .1 1 .2 1 .3 .9 .4 1 .5 1 .5 1 .3 .9 .2 1 .2 1-.5 1-1 .9-.9 1-.8 1-.5 1-.5 .9-.4 1 0 1 0 1 0 .9 .1 1 .4 1 .4 1 .3 .9 .1 1 .1 1-.1 1-.5 .9-.5 1-.5 1-.5 1-.6 1-.5 .9 0 1-.1 1-.1 1 0 .9 .5 1 .4 1 .5 1 .2 .9 .2 1 .2 1-.3 1-.2 .9-.3 1-.3 1-.1 1 0 .9 0 1 .1 1-.2 1-.1 .9-.2 1-.1 1-.8 1-.9 .9-.9 1-1.3 1-1.4 1 1.9 1-12.2 .9-18.2 1-22.9 1-22.8 1-29.1 .9-26.7 1-19.5 1-17.1 1-14.6 .9-11.8 1-1 1 11.4 1 14.6 .9 16.6 1 19.4 1 36.4 1 34.7 .9 19 1 18 1 14.2 1 10 .9 .4 1 .6 1 .5 1 .6 1 .8 .9 .7 1 .8 1 .6 1 .6 .9 .5 1-.3 1-.2 1-.3 .9-.3 1-.4 1-.2 1-.4 .9-.7 1-.6 1-.5 1-.1 .9 0 1-.1 1 0 1 .1 .9 .2 1 .1 1 .2 1 .4 .9 .6 1 .5 1 .6 1 .6 1 .9 .9 .8 1 .8 1 .2 1 .2 .9 .2 1-.5 1-.5 1-.6 .9-2 1-2.3 1-.9 1-.6 .9-.5 1-.6 1-.5 1-.5 .9-1.6 1-2.2 1-2.2 1-2.1 .9-4.3 1-5.7 1-5.7 1-7.2 .9-8.6 1-12.5 1-16.5 1-18.9 1-23.8 .9-24.8 1-24.8 1-51.9 1-105.3 .9-110.7 1-97.6 1-22.5 1 0 .9 0 1 0 1 0 1 70.3 .9 97.6 1 97.6 1 83.5 1 51.5 .9 39.4 1 37.2 1 14.3 1 13.3 .9 12.1 1 5.7 1 5.7 1 2.5 1 2.4 .9 1.4 1-.7 1-.8 1-4.5 .9-5.2 1-8 1-8.6 1-10.2 .9-11 1-12.3 1-38.5 1-47.5 .9-83.2 1-111.1 1-104.5 1-88.4 .9 0 1 0 1 0 1 0 .9 0 1 0 1 0 1 0 .9 0 1 0 1 0 1 0 1 0 .9 46.6 1 97.5 1 115.6 1 101 .9 46.3 1 39.3 1 35.2 1 20.4 .9 12.3 1 8.1 1 7 1 5.7 .9 5.4 1 3.3 1 3.3 1 1.8 .9 1.6 1 1.8 1 4.7 1 2.1 .9 1.3 1 .4 1 .4 1-.5 .9-.4 1-.6 1-.1 1 0 1-.1 .9-.1 1-.1 1 0 1-.2 .9-.2 1-.4 1-.4 1-.3 .9 .3 1 .5 1 .6 1 .7 .9 .6 1 .6 1 .6 1 .6 .9 .6 1 .4 1 .2 1 .1 .9 .3 1 .4 1 .4 1 .3 .9 .2 1 .3 1 .1 1-.1 1-.8 .9-.8 1-.9 1-.7 1-.8 .9-.6 1-.2 1-.1 1 .1 .9 .6 1 .6 1 .8 1 .6 .9 .5 1 .5 1 .2 1 .1 .9 .1 1 0 1 0 1-.1 .9-.5 1-.7 1-.6 1-.7 1-.7 .9-.7 1-.2 1-.2 1 .5 .9 .8 1 .7 1 1 1 1.2 .9 1.1 1 .6 1 .2 1 .2 .9-.3 1-.8 1-.7 1-.6 .9-.5 1-.5 1-.4 1 0 .9-.1 1-.1 1-.1 1-.1 .9-.1 1 0 1-.1 1-.2 1-.2 .9-.3 1-.3 1-.4 1-.6 .9-1 1-.9 1-.9 1-.3 .9-.3 1 1.7 1 1.8 1 2.8 .9 2.8 1 3.1 1 3.1 1 2.4 .9 2.3 1 1.3 1 1.2 1-1.4 .9-2.1 1-1.5 1-1.3 1-.7 .9-.3 1-.2 1 0 1 .3 1 .3 .9-.3 1-.5 1-1.6 1-2.3 .9-2.6 1-2.8 1-2.8 1-2.9 .9-2.9 1-2.6 1-2.5 1-2.3 .9-1.9 1-.5 1 1.9 1 2 .9 2.6 1 3.5 1 5.2 1 2.3 .9 1.8 1 .1 1 .1 1 0 1-.9 .9-.9 1-.8 1-.2 1-.2 .9-.2 1-.2 1 .9 1 .8 .9 1 1 .5 1 .5 1 .5 .9-.5 1-.8 1-.9 1-1 .9-1 1-1.2 1-.8 1-.7 .9-.6 1-.3 1-.2 1-.3 .9 .2 1 .5 1 .3 1 .3 1 .3 .9 .3 1 .3 1 .2 1 .2 .9 0 1-.2 1-.2 1 .4 .9 1.2 1 1.2 1 1.3 1 1.2 .9 1.1 1 .9 1 .8 1 0 .9-.4 1-.6 1-1.4 1-1.5 .9-1.7 1-1.6 1-1.2 1-1.1 .9-1.1 1-.4 1-.5 1-.5 1-.5 .9-.4 1-.5 1-.5 1-.3 .9-.4 1-.3 1-.4 1-.5 .9-.4 1-.4 1-.3" stroke="#8a1fb4" stroke-width="2.35" stroke-dasharray="2.3 3.05"/>
<path d="M162.3 738l1-.6 1-.9 1-1 .9-.5 1 .3 1 .1 1 .9 .9 1.2 1 1 1 1.2 1 1.1 1 1.4 .9 .3 1 .7 1 1.6 1-1.3 .9-.6 1 .1 1-.9 1-.8 .9-.6 1 .6 1 .2 1 .7 .9-.4 1 .7 1 .5 1-.8 .9-.8 1-.5 1-1.1 1 .2 .9-1.3 1-.8 1 .1 1-.6 1 .7 .9 .5 1 .8 1-.5 1-.2 .9 .1 1-2 1-1.2 1-.4 .9-.6 1 .2 1-.2 1-.7 .9 .5 1-.3 1 .8 1 1 .9 1.4 1 .6 1 1 1 1.9 .9 1.8 1 .2 1-.1 1 .4 .9-.6 1-.8 1-.1 1 0 1-.7 .9-.2 1-.8 1-.5 1-1.1 .9-.7 1-.4 1-1.2 1-1.3 .9-1 1-1.5 1-1.2 1 .2 .9-.8 1 .3 1 1 1 .7 .9 1.7 1 1.1 1 1.2 1 .9 .9 .7 1 .7 1 .8 1 .3 .9 0 1 .4 1 .6 1 .5 1-.2 .9-1.5 1-1.9 1-.8 1-2.1 .9-2.4 1-1.1 1-.7 1-1 .9-.4 1 1.1 1 1.1 1 1.3 .9 1.1 1 1.1 1 1 1 1.2 .9 .8 1 .4 1 1 1 .8 .9 .3 1-.5 1-.8 1-.6 .9-.1 1-.4 1-1.3 1 .1 1 .1 .9 .6 1 .8 1 1.2 1 0 .9 .6 1 .1 1 .7 1-.3 .9-1 1-.6 1-1 1-1.7 .9-1.6 1-.4 1-.1 1 0 .9 .5 1 1 1 .8 1 .6 .9 1.1 1 1.4 1 .5 1-.7 1 .1 .9 .4 1 .7 1 .5 1 .8 .9 .3 1 .6 1 1.6 1-.6 .9-1.8 1 .2 1-1 1-1.9 .9-1 1-1.2 1-.4 1-.4 .9-.6 1-.4 1 0 1-.2 .9 .2 1 .4 1 .2 1-.2 .9 0 1 0 1-.6 1-.5 1-.2 .9-.5 1 .1 1 .9 1 .9 .9 .4 1 .7 1 .3 1 .5 .9 .4 1-.1 1-1 1-.7 .9-.6 1-.3 1-.9 1-.5 .9-.3 1-.1 1 .4 1 .6 .9-.2 1 .1 1 .4 1-.2 .9 .4 1 0 1 .6 1 .7 1 .6 .9 .4 1 .6 1-.4 1 0 .9 .9 1 0 1 .1 1 .1 .9 .3 1 .5 1 1.1 1-.4 .9-.2 1 .6 1 .5 1 .1 .9-.1 1-.8 1-.7 1 .1 .9-.6 1-.5 1 .4 1 1 1 1.9 .9 1.3 1 .1 1 .4 1-.2 .9-.3 1-1 1-1 1-1.3 .9-1.9 1-1.4 1-.9 1-1 .9-.5 1-.4 1 .7 1 .3 .9 1.4 1 1.3 1 .4 1 .9 .9 .7 1 .5 1-.7 1-.9 .9 .2 1-.3 1-.2 1 .3 1-1.6 .9-.5 1 0 1-.2 1-.2 .9-1.1 1 .3 1-.4 1-.7 .9 .3 1 0 1 .6 1 1.1 .9 .7 1 .1 1-.1 1 .3 .9 .1 1 .2 1-.4 1-.5 .9 0 1 0 1-.8 1 .2 .9 .2 1 .1 1-1 1-.2 1 .1 .9-1 1-1.4 1-1.4 1-.8 .9-1.1 1-2 1-1 1 .6 .9 0 1 .2 1 1 1 0 .9 .3 1-.2 1 .3 1 .6 .9 1.1 1 .4 1 1 1 .4 .9-.2 1 1.3 1 .5 1 .1 1 .7 .9-.8 1-.5 1-.5 1-.7 .9-1.3 1-1.3 1-2.1 1-1 .9-.3 1 1 1-.1 1 1 .9 .3 1 .6 1 1.7 1 1.8 .9 1 1 1 1 .3 1 .1 .9 .4 1-.6 1-.1 1-1.1 .9-2 1-2.2 1-3.2 1-5.3 1-4.1 .9-4.7 1-9.2 1-10.2 1-11.7 .9-11.2 1-7.7 1-8.3 1-4.1 .9-4.1 1-1 1-.9 1 5.8 .9 11.3 1 16 1 17.7 1 16.7 .9 10.4 1 8.3 1 1.9 1 1.1 .9 .1 1-.5 1-.6 1 1 .9 1 1 .4 1-.2 1-1.4 1-1.1 .9-1.2 1-2 1-1.6 1-1.5 .9-.1 1-.3 1 .6 1 .4 .9 0 1 .4 1 .3 1 .5 .9 .7 1 .5 1 .1 1-.1 .9-1.3 1-.9 1-1 1-1.9 .9-1.5 1-2.1 1-1.2 1-.2 1-.6 .9-.2 1 .6 1 .3 1 1.4 .9 .4 1 1.2 1 1.5 1 2 .9 1.2 1 1 1 1 1 1.2 .9 0 1 .2 1-.2 1-1.7 .9-.5 1-.8 1-2.1 1-2.1 .9-1.3 1-1.3 1-1.1 1-.9 .9-.3 1 1.1 1 .6 1 1 1 1.6 .9 1.1 1 1.5 1 1.4 1 .2 .9 1.2 1 .4 1 .7 1 1.6 .9 1.4 1 1.5 1 .5 1 1.1 .9 .2 1 1.2 1 0 1 .6 .9-.5 1-2.3 1-1 1-.9 .9-2 1-2.3 1-2.2 1-.7 .9-.2 1-1.4 1-1 1-.9 1 .2 .9 0 1-.1 1-.6 1-1.5 .9-.2 1-.8 1-2.2 1-2.5 .9-2.8 1-2.5 1-1.6 1-1.9 .9-1.5 1-.4 1 .3 1 1.9 .9 2.1 1 2.3 1 2.4 1 2.8 .9 1.8 1 1.8 1 1.5 1 1.4 .9 .9 1 1.3 1 1 1 .5 1-.4 .9 .1 1 .6 1 .2 1 .3 .9-1.4 1-1.3 1-.8 1-1.9 .9-1.7 1-2.1 1-.3 1-.3 .9-1.1 1 .3 1 1 1 0 .9 .1 1-.7 1 .5 1-.3 .9 0 1-1 1-1.5 1-.2 1 .3 .9 0 1 .3 1 .4 1 .2 .9 1 1 1.5 1 2.4 1 3.5 .9 3.4 1 2.4 1 2.8 1 3.5 .9 2.9 1 2.4 1 2.5 1 1.4 .9 .5 1-1.5 1-3.2 1-3.9 .9-3.1 1-3.7 1-3.2 1-2.8 .9-3.5 1-2.4 1-1.7 1-2 1-1.5 .9-.7 1-.9 1 1.5 1 2.9 .9 2.2 1 2.2 1 1.3 1 1.4 .9 2.2 1 2 1 1.8 1 .9 .9 1 1 1 1 .1 1-.7 .9-.8 1-1.7 1-2.5 1-2.6 .9-3.6 1-3.3 1-3.7 1-2.3 .9-1.4 1-1.6 1-1.9 1-2.3 1-1.7 .9-1.4 1-.6 1-1.5 1-1.2 .9 0 1-.3 1-.9 1-.7 .9 .7 1-.7 1-1.2 1 .1 .9 .5 1-1 1-.4 1 0 .9-.4 1 .3 1-.1 1-.2 .9 0 1-.3 1 .1 1-.8 1-.2 .9-.1 1 .5 1-.3 1-.4 .9-.2 1-.1 1 .4 1 .2 .9-.6 1-.8 1-.1 1 .8 .9 .6 1-.2 1-.3 1-.5 .9 .4 1 .6 1-.5 1 .2 .9 .4 1-.4 1-.1 1 .5 .9 .1 1 .1 1 .2 1 .4 1-.3 .9 .1 1 .2 1-.5 1 .5 .9 .1 1 0 1 .5 1 0 .9 .2 1-.5 1-.1 1-.2 .9-.9 1-.4 1-.5 1-.5 .9 0 1 .3 1 .2 1 .7 .9 .5 1-.2 1-.1 1 .2 .9-.1 1-.1 1-.4 1-1.1 1 .3 .9 .1 1-.4 1 0 1 .9 .9-.2 1 .6 1 .8 1 .2 .9 .8 1 .4 1 .5 1 1.6 .9 .9 1-1 1-.6 1-.4 .9-.3 1-.5 1-.9 1-.7 .9-.1 1-.2 1 .4 1-.1 1-.5 .9 0 1-.5 1 .6 1-.3 .9-.3 1-.3 1 .9 1 .4 .9-.3 1 .3 1 .9 1 .4 .9-.2 1-.8 1-.9 1-.8 .9-.2 1-.2 1-.3 1 .3 .9 .2 1 .1 1 .8 1 .9 .9 .1 1 .1 1 .1 1 .9 1-.2 .9-1.5 1-.7 1 .1 1-.3 .9-.7 1-.5 1-.7 1-.8 .9 0 1-.4 1-.5 1 .5 .9 .7 1 1 1 .4 1 .4 .9 .9 1 .7 1 .4 1 .5 .9 .7 1 0 1 .2 1 .3 .9-1.3 1-1 1-.6 1-.4 1 .3 .9-.3 1-.1 1-.7 1 1 .9 0 1 .1 1 0 1-.6 .9 .3 1-.5 1-.6 1 .5 .9-1.1 1-.1 1 .1 1-1.5 .9-.9 1-1 1-1 1-.2 .9-.9 1-.7 1 .2 1-.2 1 .5 .9 .4 1 .4 1 .6 1-.1 .9 0 1-.4 1-.3 1-.2 .9-1 1-.5 1-.7 1 .2 .9 .2 1-.2 1-.4 1 .2 .9 .3 1-.4 1 .2 1 .1 .9-.5 1-.5 1-.4 1-.5 .9-.6 1-.7 1-.7 1 1.2 1 1.4 .9 .9 1 1.2 1 1.3 1 1.6 .9-.5 1-.3 1-1.3 1-1.1 .9-.5 1-.1 1-.3 1-.5 .9 .3 1 1.1 1 .9 1 1.5 .9 .3 1 .6 1 1.6 1 .5 .9 .1 1 .7 1 0 1-1.3 .9-.7 1-.8 1-.1 1 .2 1 0 .9 .8 1 .3 1 .8 1 .9 .9 .8 1 .5 1 .7 1 1.7 .9 1.4 1 1.2 1 1.4 1 .7 .9 1.7 1 2.5 1 2.5 1 .7 .9 .3 1 0 1-2 1-3 .9-2.1 1-3.9 1-3.7 1-3.9 .9-3.4 1-4.5 1-4.3 1-1.1 1-.6 .9-1.2 1 .6 1 1.5 1 .8 .9 1.4 1 1.9 1-.3 1-.8 .9-2 1-1.8 1-.6 1-.4 .9-.5 1-.6 1-.3 1-.3 .9 .5 1 0 1 0 1 1.2 .9 1 1 1.5 1 .4 1 .3 1 .9 .9-1.1 1-.4 1-.4 1-1.8 .9-1.6 1-.4 1-1.3 1-1.3 .9-1.4 1-.7 1-.2 1-.4 .9-.7 1 0 1 .2 1 1.4 .9 .6 1 .7 1 2.4 1 2.1 .9 2.2 1 1.6 1 .7 1 1.5 .9 .8 1 .6 1 .3 1 .7 1 1 .9 .7 1-.6 1-1.7 1-2 .9-.7 1-2.1 1-1.8 1-1.3 .9-1.5 1-1.3 1-.4 1 .4 .9-.5 1 1.6 1 2 1 1.5 .9 .4 1-.4 1-.8 1-1.1 .9-1.9 1-1.3 1-.7 1-.9 .9-1.6 1-.5 1-.2 1-.5 1-.6 .9-.1 1 .7 1 .5 1 .1 .9 .5 1 0 1 0 1-.1 .9-.2 1-.3 1-.2 1 .8 .9 .3 1-.3 1-.9 1-.1 .9 .5 1 .5 1-.2 1 .2 .9 .7 1-.4 1-.1 1-1.1 1-1 .9 .5 1 .5 1 .2 1 1.2 .9 1.1 1 .6 1 .8 1 .5 .9 .5 1-.4 1-1.9 1-1.3 .9-.5 1-.4 1-.6 1-.5 .9 .1 1-.7 1-.9 1-1.7 .9-.9 1-.7 1-1.2 1-1.1 .9-.9 1-.5 1-.8 1-.7 1-.3 .9-.1 1 .9 1 .6 1 .1 .9 .9 1 .9 1 .3 1-.9 .9-1.8 1-1.7 1-.6 1-.6 .9-1.4 1-.8 1 .5 1-.8 .9-1.3 1 .5 1 .6 1 .4 .9-.4 1 .7 1 1.4 1 .9 .9 1.4 1 .6 1 .7 1 .5 1-1.3 .9-.3 1-1 1 .7 1 1.2 .9 1.8 1 1.5 1 .8 1 .4 .9 .5 1 .5 1 .5 1-.7 .9 .1 1-.4 1-2.3 1-1.8 .9-1.5 1-.6 1-1.2 1-1.6 .9-.3 1 .1 1 1 1 .9 1 1.2 .9 .9 1 .4 1 .2 1 .2 .9 .4 1-1.3 1-1.2 1-.5 .9-1.5 1-.7 1-.7 1-1.3 .9-1.4 1-.5 1-.9 1-.7 .9 .1 1-.3 1-.1 1 .4 .9-.4 1-.9 1-.2 1 .7 .9 .1 1 .8 1-.3 1-.6 1 .7 .9 .5 1-.1 1-.3 1 .9 .9 .9 1 1.1 1 .6 1 .4 .9 .4 1-.9 1-1.4 1-.3 .9-.6 1-.9 1-.6 1 .6 .9 .3 1-.3 1-.3 1 0 .9 .7 1-.3 1-.6 1-.1 .9 .4 1 .5 1-.2 1-.7 1-1.5 .9 .1 1 1.2 1 .1 1 .8 .9 1.2 1 0 1-.8 1-.7 .9-.6 1-1.4 1-1.3 1-1.4 .9-.7 1-.2 1 .7 1 1.2 .9 1.2 1 3.2 1 2.2 1 1.9 .9 1.9 1 2.2 1 0 1-.4 .9-.3 1-.5 1-.5 1-.4 1-.4 .9 .9 1 .7 1-1 1-1.2 .9-.5 1-.4 1-1.1 1-1 .9 .4 1 .9 1 1.6 1 .7 .9 1 1 .6 1-.7 1-.2 .9-1.9 1-2.4 1-2 1-1.6 .9-.7 1-.5 1-1.1 1-.9 1-.5 .9-.7 1-.3 1 .3 1 .1 .9 1.4 1 1.4 1 1.1 1 2.1 .9 1.8 1 1 1-.2 1 .2 .9 0 1 .3 1-.1 1-1.4 .9-.9 1-.9 1-.3 1-.5 .9-1 1-.1 1 0 1 .2 .9-.2 1-.8 1-.7 1 .4 1 .4 .9-.2 1-.7 1-.2 1-.5 .9 0 1 .1 1 .1 1-1.1 .9-.7 1 .3 1 .9 1 1.5 .9 1.1 1 1.6 1 .2 1-1 .9-1.8 1-2.4 1-2.6 1-.7 .9-.6 1-.9 1 .3 1 .2 .9 .4 1 .1 1 1 1 .8 1 .9 .9-.4 1 .6 1 .9 1 0 .9-.4 1-.1 1-.1 1-.5 .9 0 1 1.9 1 .9 1 .8 .9 .4 1 .7 1 .4 1 1.1 .9 .6 1 .2 1-.8 1-1 .9-.3 1-.5 1-1.1 1-.7 1-.6 .9 .8 1 .6 1 .7 1 .2 .9-.1 1-.2 1-.5 1-.3 .9-.6 1 0 1 .1 1-.5 .9-.4 1-.9 1-.3 1-.3 .9-.1 1 .7 1 1 1 .1 .9-.1 1 .3 1 .5 1-.7 .9-.5 1-.1 1 0 1 .1 1 .1 .9 .5 1 1.2 1 .7 1 .6 .9 .4 1 1.4 1 .2 1 .3 .9 .7 1-.7 1-.2 1-.9 .9-.3 1-.2 1-1 1 .4 .9 .2 1 .4 1 1.2 1 1 .9 1.3 1 .4 1 0 1-.2 .9-.4 1-.5 1-.1 1-.9 1-1.9 .9-1.8 1-3.4 1-4.5 1-5.3 .9-6.8 1-5 1-3.1 1-2.5 .9-1.3 1 2.3 1 3.1 1 5.7 .9 6.6 1 6.1 1 5.3 1 4.2 .9 2.5 1 .3 1 1.4 1 .3 .9-1.6 1-.8 1-.5 1-.9 1-.7 .9 .1 1 1.2 1 .1 1 1.3 .9 .8 1 .8 1-.1 1-.6 .9-1.2 1-1.4 1-.9 1-.7 .9-1 1-.7 1-.5 1 .2 .9 .3 1 .7 1 .5 1-.3 .9-.4 1-.4 1-.8 1-.7 .9 0 1 .2 1-.5 1-1 1 2 .9 1.7 1 .6 1 0 1 0 .9-.5 1-1.1 1-.7 1-1 .9 .7 1 0 1-.2 1 .5 .9-.7 1-1.2 1 1 1-.3 .9-1.3 1-.1 1 .5 1 .2 .9-.8 1-1.7 1-1 1-1.5 .9-3 1-2.6 1-4.2 1-4.1 1-4.5 .9-5.9 1-7 1-7.6 1-7.4 .9-8.3 1-4.3 1-2.6 1 1.3 .9 2 1 7.1 1 10.5 1 8.7 .9 7.8 1 7.5 1 5.4 1 6 .9 4.1 1 2.5 1 2.4 1 3.1 .9 1.5 1 1.1 1 1.6 1 1.7 1 1.1 .9 .3 1-.7 1-1.4 1-1.3 .9-1.3 1-2.5 1-2.4 1-2.9 .9-3 1-3.5 1-4.4 1-6.1 .9-7.5 1-12.2 1-12.1 1-16.6 .9-19.5 1-17.4 1-16.8 1-12.6 .9-8.9 1-1.3 1 5.2 1 11.9 .9 20.5 1 20 1 20.5 1 17.3 1 14 .9 12.8 1 8.2 1 7.2 1 3.9 .9 3 1 2.3 1 1.4 1 .5 .9 .8 1-.5 1-1 1-.4 .9 .5 1 .6 1 .2 1 .9 .9 1.3 1 1.4 1 1.1 1 1 .9 1.4 1 .8 1 1.7 1 1.7 .9-.6 1-.6 1-1.3 1-1.4 1-1.3 .9-1.6 1-1.2 1-1.5 1-1.3 .9 .1 1-.6 1-.4 1 0 .9-.6 1-.1 1 .4 1 .6 .9 1.1 1 1.1 1 .9 1 .9 .9 .7 1 .6 1 .1 1 .6 .9 .3 1 .3 1 .3 1-.9 .9-.7 1-.9 1-2.3 1-1.8 1-1.5 .9-1.2 1-.4 1-.8 1 .5 .9-.1 1-.6 1 1.4 1 1.3 .9 .6 1-.5 1 .2 1 .8 .9-1.4 1-1.2 1-1.1 1 1 .9 .7 1 1 1 1.1 1 1.5 .9 1.1 1 .7 1 0 1 .1 1-.1 .9-1.6 1-.9 1 .8 1 1 .9 .4 1 .6 1 1.2 1 1.3 .9 .2 1 .1 1 0 1-.4 .9-1 1 .1 1-1.4 1-.4 .9 0 1 .3 1-.2 1 .2 .9 .3 1-.4 1-1.1 1-.7 .9 .4 1-.5 1 .4 1-.2 1-.1 .9 .7 1-.1 1-.4 1 .1 .9-.3 1-.4 1-.3 1 2.3 .9 1.4 1 2.2 1 2.2 1 2.6 .9 1.7 1 1.8 1 1.2 1 .1 .9 .9 1 .4 1-.2 1-.7 .9-.8 1-1.5 1-.8 1-.4 .9-.8 1-1.1 1 .4 1 0 1-.5 .9-.3 1-1.3 1-1.3 1-1.9 .9-2 1-2 1-2.1 1-1.9 .9-3.1 1-1.9 1-.1 1-.5 .9-.3 1 1.2 1 1.7 1 2.9 .9 2.9 1 2.6 1 1.5 1 .3 .9-2 1-2.8 1-2.4 1-2.4 1-3 .9 0 1-.4 1-.5 1 .1 .9-1 1-.5 1-.1 1-.6 .9-.2 1-.1 1-.4 1 .5 .9-.5 1-.8 1-.9 1-1.1 .9 .3 1-.6 1-.5 1 .7 .9 1 1 1.1 1 1.5 1 .7 .9 1.1 1-.5 1-.4 1 .2 1 .2 .9-.2 1 .8 1 .7 1 .7 .9 1.3 1 .2 1 .4 1 .2 .9 .6 1 1.4 1 .9 1 .4 .9 .9 1 .8 1 .2 1-.1 .9-.8 1-.2 1-.5 1-1.9 .9-1.8 1-1.6 1-.2 1-.6 .9-.7 1-1.7 1-.3 1-.7 1-1.3 .9-.7 1-1.1 1-.8 1-.4 .9-.8 1-1.1 1-.3 1-.5 .9-.5 1 0 1 0 1 .4 .9 0 1-1.1" stroke="#97e0d3" stroke-width="4.7"/>
<line x1="262.4" x2="262.4" y1="795.5" y2="137.7" stroke="#000" stroke-opacity="0.5" stroke-width="2.2" stroke-dasharray="2.2 3.13"/>
<line x1="506.4" x2="506.4" y1="795.5" y2="137.7" stroke="#000" stroke-opacity="0.5" stroke-width="2.2" stroke-dasharray="2.2 3.13"/>
<line x1="622.5" x2="622.5" y1="795.5" y2="137.7" stroke="#000" stroke-opacity="0.5" stroke-width="2.2" stroke-dasharray="2.2 3.13"/>
<line x1="676.3" x2="676.3" y1="795.5" y2="137.7" stroke="#000" stroke-opacity="0.5" stroke-width="2.5" stroke-dasharray="7.6 3.4"/>
<line x1="704.6" x2="704.6" y1="795.5" y2="137.7" stroke="#000" stroke-opacity="0.5" stroke-width="2.5" stroke-dasharray="7.6 3.4"/>
<line x1="977.9" x2="977.9" y1="795.5" y2="137.7" stroke="#000" stroke-opacity="0.5" stroke-width="2.5" stroke-dasharray="7.6 3.4"/>
<line x1="1005.5" x2="1005.5" y1="795.5" y2="137.7" stroke="#000" stroke-opacity="0.5" stroke-width="2.2" stroke-dasharray="2.2 3.13"/>
<line x1="1287.1" x2="1287.1" y1="795.5" y2="137.7" stroke="#000" stroke-opacity="0.5" stroke-width="2.2" stroke-dasharray="2.2 3.13"/>
<line x1="1429.5" x2="1429.5" y1="795.5" y2="137.7" stroke="#000" stroke-opacity="0.5" stroke-width="2.2" stroke-dasharray="2.2 3.13"/>
<line x1="1509.1" x2="1509.1" y1="795.5" y2="137.7" stroke="#000" stroke-opacity="0.5" stroke-width="2.2" stroke-dasharray="2.2 3.13"/>
<line x1="1548.1" x2="1548.1" y1="795.5" y2="137.7" stroke="#000" stroke-opacity="0.5" stroke-width="2.2" stroke-dasharray="2.2 3.13"/>
<line x1="1683.8" x2="1683.8" y1="795.5" y2="137.7" stroke="#000" stroke-opacity="0.5" stroke-width="2.5" stroke-dasharray="7.6 3.4"/>
</g>
<text transform="translate(257.7 178.6) rotate(-90)" text-anchor="end" font-family="'DejaVu Sans','Liberation Sans',sans-serif" font-size="32.5" stroke="#000" stroke-width="0.7">[NeV]</text>
<text transform="translate(501.6 178.6) rotate(-90)" text-anchor="end" font-family="'DejaVu Sans','Liberation Sans',sans-serif" font-size="32.5" stroke="#000" stroke-width="0.7">[OII]</text>
<text transform="translate(617.9 178.6) rotate(-90)" text-anchor="end" font-family="'DejaVu Sans','Liberation Sans',sans-serif" font-size="32.5" stroke="#000" stroke-width="0.7">[NeIII]</text>
<text transform="translate(672.7 178.6) rotate(-90)" text-anchor="end" font-family="'DejaVu Sans','Liberation Sans',sans-serif" font-size="32.5" stroke="#000" stroke-width="0.7">CaII H&amp;K</text>
<text transform="translate(973.9 178.6) rotate(-90)" text-anchor="end" font-family="'DejaVu Sans','Liberation Sans',sans-serif" font-size="32.5" stroke="#000" stroke-width="0.7">G-band</text>
<text transform="translate(1000.9 180.6) rotate(-90)" text-anchor="end" font-family="'DejaVu Sans','Liberation Sans',sans-serif" font-size="32.5" stroke="#000" stroke-width="0.7">H<tspan font-style='italic' dx='-2'>γ</tspan></text>
<text transform="translate(1283 178.6) rotate(-90)" text-anchor="end" font-family="'DejaVu Sans','Liberation Sans',sans-serif" font-size="32.5" stroke="#000" stroke-width="0.7">He II</text>
<text transform="translate(1425.9 182) rotate(-90)" text-anchor="end" font-family="'DejaVu Sans','Liberation Sans',sans-serif" font-size="32.5" stroke="#000" stroke-width="0.7">H<tspan font-style='italic'>β</tspan></text>
<text transform="translate(1543.3 178.6) rotate(-90)" text-anchor="end" font-family="'DejaVu Sans','Liberation Sans',sans-serif" font-size="32.5" stroke="#000" stroke-width="0.7">[OIII]</text>
<text transform="translate(1679.4 178.6) rotate(-90)" text-anchor="end" font-family="'DejaVu Sans','Liberation Sans',sans-serif" font-size="32.5" stroke="#000" stroke-width="0.7">MgI</text>
<path d="M159.9 137.7H1786.4M159.9 795.5H1786.4" stroke="#000" stroke-width="4.9" stroke-linecap="square" fill="none"/>
<path d="M159.9 137.7V795.5M1786.2 137.7V795.5" stroke="#000" stroke-width="5.45" stroke-linecap="square" fill="none"/>
<text x="145.9" y="813.7" text-anchor="end" font-family="'DejaVu Serif','Liberation Serif',serif" font-size="48.4" stroke="#000" stroke-width="0.9">0</text>
<text x="145.9" y="611.3" text-anchor="end" font-family="'DejaVu Serif','Liberation Serif',serif" font-size="48.4" stroke="#000" stroke-width="0.9">2</text>
<text x="145.9" y="408.9" text-anchor="end" font-family="'DejaVu Serif','Liberation Serif',serif" font-size="48.4" stroke="#000" stroke-width="0.9">4</text>
<text x="145.9" y="206.5" text-anchor="end" font-family="'DejaVu Serif','Liberation Serif',serif" font-size="48.4" stroke="#000" stroke-width="0.9">6</text>
<text x="322.6" y="847.6" text-anchor="middle" font-family="'DejaVu Serif','Liberation Serif',serif" font-size="48.4" stroke="#000" stroke-width="0.9">3500</text>
<text x="525.9" y="847.6" text-anchor="middle" font-family="'DejaVu Serif','Liberation Serif',serif" font-size="48.4" stroke="#000" stroke-width="0.9">3750</text>
<text x="729.2" y="847.6" text-anchor="middle" font-family="'DejaVu Serif','Liberation Serif',serif" font-size="48.4" stroke="#000" stroke-width="0.9">4000</text>
<text x="932.5" y="847.6" text-anchor="middle" font-family="'DejaVu Serif','Liberation Serif',serif" font-size="48.4" stroke="#000" stroke-width="0.9">4250</text>
<text x="1135.8" y="847.6" text-anchor="middle" font-family="'DejaVu Serif','Liberation Serif',serif" font-size="48.4" stroke="#000" stroke-width="0.9">4500</text>
<text x="1339.1" y="847.6" text-anchor="middle" font-family="'DejaVu Serif','Liberation Serif',serif" font-size="48.4" stroke="#000" stroke-width="0.9">4750</text>
<text x="1542.4" y="847.6" text-anchor="middle" font-family="'DejaVu Serif','Liberation Serif',serif" font-size="48.4" stroke="#000" stroke-width="0.9">5000</text>
<text x="1745.7" y="847.6" text-anchor="middle" font-family="'DejaVu Serif','Liberation Serif',serif" font-size="48.4" stroke="#000" stroke-width="0.9">5250</text>
</g>
<g id="panel1">
<rect x="159.9" y="815.3" width="1626.5" height="657.8" fill="#fff"/>
<line x1="200.7" y1="1473.1" x2="200.7" y2="1456.8" stroke="#000" stroke-width="4.9"/>
<line x1="200.7" y1="815.3" x2="200.7" y2="831.6" stroke="#000" stroke-width="4.9"/>
<line x1="241.3" y1="1473.1" x2="241.3" y2="1456.8" stroke="#000" stroke-width="4.9"/>
<line x1="241.3" y1="815.3" x2="241.3" y2="831.6" stroke="#000" stroke-width="4.9"/>
<line x1="282" y1="1473.1" x2="282" y2="1456.8" stroke="#000" stroke-width="4.9"/>
<line x1="282" y1="815.3" x2="282" y2="831.6" stroke="#000" stroke-width="4.9"/>
<line x1="322.7" y1="1473.1" x2="322.7" y2="1445.1" stroke="#000" stroke-width="6.3"/>
<line x1="322.7" y1="815.3" x2="322.7" y2="843.3" stroke="#000" stroke-width="6.3"/>
<line x1="363.3" y1="1473.1" x2="363.3" y2="1456.8" stroke="#000" stroke-width="4.9"/>
<line x1="363.3" y1="815.3" x2="363.3" y2="831.6" stroke="#000" stroke-width="4.9"/>
<line x1="404" y1="1473.1" x2="404" y2="1456.8" stroke="#000" stroke-width="4.9"/>
<line x1="404" y1="815.3" x2="404" y2="831.6" stroke="#000" stroke-width="4.9"/>
<line x1="444.6" y1="1473.1" x2="444.6" y2="1456.8" stroke="#000" stroke-width="4.9"/>
<line x1="444.6" y1="815.3" x2="444.6" y2="831.6" stroke="#000" stroke-width="4.9"/>
<line x1="485.3" y1="1473.1" x2="485.3" y2="1456.8" stroke="#000" stroke-width="4.9"/>
<line x1="485.3" y1="815.3" x2="485.3" y2="831.6" stroke="#000" stroke-width="4.9"/>
<line x1="526" y1="1473.1" x2="526" y2="1445.1" stroke="#000" stroke-width="6.3"/>
<line x1="526" y1="815.3" x2="526" y2="843.3" stroke="#000" stroke-width="6.3"/>
<line x1="566.6" y1="1473.1" x2="566.6" y2="1456.8" stroke="#000" stroke-width="4.9"/>
<line x1="566.6" y1="815.3" x2="566.6" y2="831.6" stroke="#000" stroke-width="4.9"/>
<line x1="607.3" y1="1473.1" x2="607.3" y2="1456.8" stroke="#000" stroke-width="4.9"/>
<line x1="607.3" y1="815.3" x2="607.3" y2="831.6" stroke="#000" stroke-width="4.9"/>
<line x1="648" y1="1473.1" x2="648" y2="1456.8" stroke="#000" stroke-width="4.9"/>
<line x1="648" y1="815.3" x2="648" y2="831.6" stroke="#000" stroke-width="4.9"/>
<line x1="688.6" y1="1473.1" x2="688.6" y2="1456.8" stroke="#000" stroke-width="4.9"/>
<line x1="688.6" y1="815.3" x2="688.6" y2="831.6" stroke="#000" stroke-width="4.9"/>
<line x1="729.3" y1="1473.1" x2="729.3" y2="1445.1" stroke="#000" stroke-width="6.3"/>
<line x1="729.3" y1="815.3" x2="729.3" y2="843.3" stroke="#000" stroke-width="6.3"/>
<line x1="769.9" y1="1473.1" x2="769.9" y2="1456.8" stroke="#000" stroke-width="4.9"/>
<line x1="769.9" y1="815.3" x2="769.9" y2="831.6" stroke="#000" stroke-width="4.9"/>
<line x1="810.6" y1="1473.1" x2="810.6" y2="1456.8" stroke="#000" stroke-width="4.9"/>
<line x1="810.6" y1="815.3" x2="810.6" y2="831.6" stroke="#000" stroke-width="4.9"/>
<line x1="851.3" y1="1473.1" x2="851.3" y2="1456.8" stroke="#000" stroke-width="4.9"/>
<line x1="851.3" y1="815.3" x2="851.3" y2="831.6" stroke="#000" stroke-width="4.9"/>
<line x1="891.9" y1="1473.1" x2="891.9" y2="1456.8" stroke="#000" stroke-width="4.9"/>
<line x1="891.9" y1="815.3" x2="891.9" y2="831.6" stroke="#000" stroke-width="4.9"/>
<line x1="932.6" y1="1473.1" x2="932.6" y2="1445.1" stroke="#000" stroke-width="6.3"/>
<line x1="932.6" y1="815.3" x2="932.6" y2="843.3" stroke="#000" stroke-width="6.3"/>
<line x1="973.2" y1="1473.1" x2="973.2" y2="1456.8" stroke="#000" stroke-width="4.9"/>
<line x1="973.2" y1="815.3" x2="973.2" y2="831.6" stroke="#000" stroke-width="4.9"/>
<line x1="1013.9" y1="1473.1" x2="1013.9" y2="1456.8" stroke="#000" stroke-width="4.9"/>
<line x1="1013.9" y1="815.3" x2="1013.9" y2="831.6" stroke="#000" stroke-width="4.9"/>
<line x1="1054.6" y1="1473.1" x2="1054.6" y2="1456.8" stroke="#000" stroke-width="4.9"/>
<line x1="1054.6" y1="815.3" x2="1054.6" y2="831.6" stroke="#000" stroke-width="4.9"/>
<line x1="1095.2" y1="1473.1" x2="1095.2" y2="1456.8" stroke="#000" stroke-width="4.9"/>
<line x1="1095.2" y1="815.3" x2="1095.2" y2="831.6" stroke="#000" stroke-width="4.9"/>
<line x1="1135.9" y1="1473.1" x2="1135.9" y2="1445.1" stroke="#000" stroke-width="6.3"/>
<line x1="1135.9" y1="815.3" x2="1135.9" y2="843.3" stroke="#000" stroke-width="6.3"/>
<line x1="1176.6" y1="1473.1" x2="1176.6" y2="1456.8" stroke="#000" stroke-width="4.9"/>
<line x1="1176.6" y1="815.3" x2="1176.6" y2="831.6" stroke="#000" stroke-width="4.9"/>
<line x1="1217.2" y1="1473.1" x2="1217.2" y2="1456.8" stroke="#000" stroke-width="4.9"/>
<line x1="1217.2" y1="815.3" x2="1217.2" y2="831.6" stroke="#000" stroke-width="4.9"/>
<line x1="1257.9" y1="1473.1" x2="1257.9" y2="1456.8" stroke="#000" stroke-width="4.9"/>
<line x1="1257.9" y1="815.3" x2="1257.9" y2="831.6" stroke="#000" stroke-width="4.9"/>
<line x1="1298.5" y1="1473.1" x2="1298.5" y2="1456.8" stroke="#000" stroke-width="4.9"/>
<line x1="1298.5" y1="815.3" x2="1298.5" y2="831.6" stroke="#000" stroke-width="4.9"/>
<line x1="1339.2" y1="1473.1" x2="1339.2" y2="1445.1" stroke="#000" stroke-width="6.3"/>
<line x1="1339.2" y1="815.3" x2="1339.2" y2="843.3" stroke="#000" stroke-width="6.3"/>
<line x1="1379.9" y1="1473.1" x2="1379.9" y2="1456.8" stroke="#000" stroke-width="4.9"/>
<line x1="1379.9" y1="815.3" x2="1379.9" y2="831.6" stroke="#000" stroke-width="4.9"/>
<line x1="1420.5" y1="1473.1" x2="1420.5" y2="1456.8" stroke="#000" stroke-width="4.9"/>
<line x1="1420.5" y1="815.3" x2="1420.5" y2="831.6" stroke="#000" stroke-width="4.9"/>
<line x1="1461.2" y1="1473.1" x2="1461.2" y2="1456.8" stroke="#000" stroke-width="4.9"/>
<line x1="1461.2" y1="815.3" x2="1461.2" y2="831.6" stroke="#000" stroke-width="4.9"/>
<line x1="1501.9" y1="1473.1" x2="1501.9" y2="1456.8" stroke="#000" stroke-width="4.9"/>
<line x1="1501.9" y1="815.3" x2="1501.9" y2="831.6" stroke="#000" stroke-width="4.9"/>
<line x1="1542.5" y1="1473.1" x2="1542.5" y2="1445.1" stroke="#000" stroke-width="6.3"/>
<line x1="1542.5" y1="815.3" x2="1542.5" y2="843.3" stroke="#000" stroke-width="6.3"/>
<line x1="1583.2" y1="1473.1" x2="1583.2" y2="1456.8" stroke="#000" stroke-width="4.9"/>
<line x1="1583.2" y1="815.3" x2="1583.2" y2="831.6" stroke="#000" stroke-width="4.9"/>
<line x1="1623.8" y1="1473.1" x2="1623.8" y2="1456.8" stroke="#000" stroke-width="4.9"/>
<line x1="1623.8" y1="815.3" x2="1623.8" y2="831.6" stroke="#000" stroke-width="4.9"/>
<line x1="1664.5" y1="1473.1" x2="1664.5" y2="1456.8" stroke="#000" stroke-width="4.9"/>
<line x1="1664.5" y1="815.3" x2="1664.5" y2="831.6" stroke="#000" stroke-width="4.9"/>
<line x1="1705.2" y1="1473.1" x2="1705.2" y2="1456.8" stroke="#000" stroke-width="4.9"/>
<line x1="1705.2" y1="815.3" x2="1705.2" y2="831.6" stroke="#000" stroke-width="4.9"/>
<line x1="1745.8" y1="1473.1" x2="1745.8" y2="1445.1" stroke="#000" stroke-width="6.3"/>
<line x1="1745.8" y1="815.3" x2="1745.8" y2="843.3" stroke="#000" stroke-width="6.3"/>
<line x1="159.9" y1="1473.1" x2="176.2" y2="1473.1" stroke="#000" stroke-width="4.9"/>
<line x1="1786.4" y1="1473.1" x2="1770.1" y2="1473.1" stroke="#000" stroke-width="4.9"/>
<line x1="159.9" y1="1434.4" x2="187.9" y2="1434.4" stroke="#000" stroke-width="6.3"/>
<line x1="1786.4" y1="1434.4" x2="1758.4" y2="1434.4" stroke="#000" stroke-width="6.3"/>
<line x1="159.9" y1="1395.7" x2="176.2" y2="1395.7" stroke="#000" stroke-width="4.9"/>
<line x1="1786.4" y1="1395.7" x2="1770.1" y2="1395.7" stroke="#000" stroke-width="4.9"/>
<line x1="159.9" y1="1357" x2="176.2" y2="1357" stroke="#000" stroke-width="4.9"/>
<line x1="1786.4" y1="1357" x2="1770.1" y2="1357" stroke="#000" stroke-width="4.9"/>
<line x1="159.9" y1="1318.3" x2="176.2" y2="1318.3" stroke="#000" stroke-width="4.9"/>
<line x1="1786.4" y1="1318.3" x2="1770.1" y2="1318.3" stroke="#000" stroke-width="4.9"/>
<line x1="159.9" y1="1279.6" x2="176.2" y2="1279.6" stroke="#000" stroke-width="4.9"/>
<line x1="1786.4" y1="1279.6" x2="1770.1" y2="1279.6" stroke="#000" stroke-width="4.9"/>
<line x1="159.9" y1="1240.9" x2="187.9" y2="1240.9" stroke="#000" stroke-width="6.3"/>
<line x1="1786.4" y1="1240.9" x2="1758.4" y2="1240.9" stroke="#000" stroke-width="6.3"/>
<line x1="159.9" y1="1202.2" x2="176.2" y2="1202.2" stroke="#000" stroke-width="4.9"/>
<line x1="1786.4" y1="1202.2" x2="1770.1" y2="1202.2" stroke="#000" stroke-width="4.9"/>
<line x1="159.9" y1="1163.5" x2="176.2" y2="1163.5" stroke="#000" stroke-width="4.9"/>
<line x1="1786.4" y1="1163.5" x2="1770.1" y2="1163.5" stroke="#000" stroke-width="4.9"/>
<line x1="159.9" y1="1124.9" x2="176.2" y2="1124.9" stroke="#000" stroke-width="4.9"/>
<line x1="1786.4" y1="1124.9" x2="1770.1" y2="1124.9" stroke="#000" stroke-width="4.9"/>
<line x1="159.9" y1="1086.2" x2="176.2" y2="1086.2" stroke="#000" stroke-width="4.9"/>
<line x1="1786.4" y1="1086.2" x2="1770.1" y2="1086.2" stroke="#000" stroke-width="4.9"/>
<line x1="159.9" y1="1047.5" x2="187.9" y2="1047.5" stroke="#000" stroke-width="6.3"/>
<line x1="1786.4" y1="1047.5" x2="1758.4" y2="1047.5" stroke="#000" stroke-width="6.3"/>
<line x1="159.9" y1="1008.8" x2="176.2" y2="1008.8" stroke="#000" stroke-width="4.9"/>
<line x1="1786.4" y1="1008.8" x2="1770.1" y2="1008.8" stroke="#000" stroke-width="4.9"/>
<line x1="159.9" y1="970.1" x2="176.2" y2="970.1" stroke="#000" stroke-width="4.9"/>
<line x1="1786.4" y1="970.1" x2="1770.1" y2="970.1" stroke="#000" stroke-width="4.9"/>
<line x1="159.9" y1="931.4" x2="176.2" y2="931.4" stroke="#000" stroke-width="4.9"/>
<line x1="1786.4" y1="931.4" x2="1770.1" y2="931.4" stroke="#000" stroke-width="4.9"/>
<line x1="159.9" y1="892.7" x2="176.2" y2="892.7" stroke="#000" stroke-width="4.9"/>
<line x1="1786.4" y1="892.7" x2="1770.1" y2="892.7" stroke="#000" stroke-width="4.9"/>
<line x1="159.9" y1="854" x2="187.9" y2="854" stroke="#000" stroke-width="6.3"/>
<line x1="1786.4" y1="854" x2="1758.4" y2="854" stroke="#000" stroke-width="6.3"/>
<line x1="159.9" y1="815.3" x2="176.2" y2="815.3" stroke="#000" stroke-width="4.9"/>
<line x1="1786.4" y1="815.3" x2="1770.1" y2="815.3" stroke="#000" stroke-width="4.9"/>
<g clip-path="url(#clip1)" fill="none" stroke-linejoin="round">
<path d="M162.3 991.6l1 3.2 1 6.7 1 2.9 .9 3.1 1 1.6 1-2.4 1 1.8 .9 3.6 1 1 1 .6 1 2.7 1 1.3 .9 3 1 1.7 1 .9 1 2.7 .9 2.2 1 1.7 1-.6 1-.3 .9 1.2 1 .5 1 .8 1-1.7 .9-2.4 1-1.7 1 1.2 1 0 .9 .8 1-2.2 1-.1 1-.6 .9-4.9 1 1.9 1-2.3 1-.4 1 3.6 .9 1.7 1 .5 1-.1 1 2 .9 3 1 2.2 1 2.5 1 1 .9 2.2 1-.1 1 3.7 1 1.3 .9-.8 1 .4 1-7.4 1 .4 .9-1.6 1-2.4 1-3.9 1 4.1 .9 2.9 1 3.6 1 1.3 1 .9 .9-.7 1 3 1 .9 1-2.7 1-3.8 .9 3.7 1-1.9 1-2 1 2.8 .9-.3 1 .2 1-2.7 1-2.5 .9-1.2 1-2.6 1-3 1-3.1 .9-1.3 1-4 1 2.9 1 8.3 .9-.2 1-.7 1 .9 1 2 .9 .1 1-1.7 1-2.2 1-.1 .9-1 1-5.3 1-2.9 1-.7 1-7.4 .9-4.8 1-1.7 1-2.8 1-4.6 .9-2.2 1 4.2 1 3.5 1 4.3 .9 2.3 1 5.7 1 6.6 1 1.7 .9 3 1 3.3 1 2.8 1 5.1 .9 3 1 1.8 1 3.3 1-.4 .9-1.1 1 2.3 1 2.2 1 1 .9 1.4 1 1.1 1 .1 1 1 1-2.2 .9-.6 1-3.8 1-1.7 1 1.5 .9 2.1 1-2.9 1-1.4 1 4.2 .9 3.5 1 2.2 1 .5 1 3.3 .9 .5 1-.5 1-2.7 1-1.7 .9-.6 1 .4 1-1.8 1-2.1 .9-2 1-.4 1 1 1-1.8 1-2.7 .9 1.1 1 2.3 1 1.1 1 .5 .9 3.3 1 6.2 1 3.3 1 4 .9 4.4 1-.7 1 1 1 4.1 .9 .8 1-.6 1 1.6 1-.8 .9-2.5 1 2 1-1.1 1-2.2 .9 .1 1 3.7 1 .1 1 1.4 .9-.5 1-.5 1 1.1 1 2.7 1 1.5 .9-1.2 1 2 1 .1 1-.5 .9 2.3 1-1.9 1 2.5 1 .2 .9 5.6 1 4.9 1-2.8 1-.5 .9 3.3 1 1.8 1 3.7 1 1 .9-.2 1-1.1 1-2.6 1 .3 .9 .6 1 1.6 1 .8 1-.7 .9 .5 1-1.9 1 1.5 1-2.5 1 1.9 .9 0 1 1.6 1-1.1 1 1.5 .9 2.2 1 .6 1 3.4 1 3.3 .9 3.1 1-3.3 1 0 1-1.8 .9-4.2 1-6.4 1 2.4 1-1.1 .9-1.9 1 .5 1 3.8 1 1.2 .9-2.2 1-1.4 1 .1 1 2.6 1-.3 .9-1.5 1 1.2 1 .5 1-3.7 .9 .9 1 3.5 1 1 1 3.7 .9 .9 1 .8 1-.6 1-3 .9-2.2 1-2.6 1-3.1 1-5.4 .9 1.4 1-.5 1 1.1 1 5.1 .9 2.1 1 4.1 1 1 1 3 .9 1.8 1-.8 1-1.1 1-.8 1-.4 .9 1.7 1 2.9 1-.6 1 0 .9 2.5 1-1.2 1 0 1 2.6 .9-1.7 1 .7 1 .1 1-2.8 .9 1.1 1-1.3 1 1.7 1-.9 .9 1.4 1 .9 1 2.6 1 .7 .9-2.7 1-.3 1 3.6 1-1 .9-.8 1 3.1 1 .3 1 4 1 2.6 .9-1 1 0 1 1.2 1 4.2 .9 3.3 1-2 1 1.3 1-1 .9-.7 1-3.7 1-3.1 1-1.3 .9-.9 1 1.2 1 1.7 1 .6 .9 .9 1 1.1 1 2.3 1-1.6 .9 1.4 1 .7 1 .2 1 4.1 1 4 .9-2.2 1 1.3 1 1.8 1 .8 .9 .5 1 2.3 1 .1 1-.8 .9-.9 1 2.5 1-3.2 1-2.5 .9 2.7 1-.3 1-2.2 1-1.8 .9 .1 1-1.8 1 .5 1 2.8 .9 1.6 1-1 1 2 1-.4 .9-.7 1 1.2 1 .7 1 2.3 1 1 .9-3.2 1-3.6 1-4.5 1-6.6 .9-7.9 1-6.9 1-9.3 1-9 .9-3.9 1-4.8 1-3.8 1 3.5 .9 6.2 1 10.8 1 6.6 1 9.9 .9 11.4 1 7.9 1 5.8 1 3.9 .9 .9 1 2.4 1 3.4 1-1.9 .9-4.6 1 3.1 1-1 1 .6 1 .7 .9-1.5 1-1.2 1 .9 1-1.3 .9-2 1-.7 1 2.9 1-1 .9-1.2 1 .2 1 6.3 1 2.1 .9 3 1-.2 1-1 1 3 .9 2.6 1-1.7 1-2 1 1.7 .9 .3 1 2.5 1-1.1 1-2.8 1 .9 .9-.4 1 4.4 1 6.8 1 0 .9 1.6 1 .9 1-.1 1-.2 .9-1.1 1-.5 1 6 1 2 .9-2.2 1 4.2 1 2.4 1 1.2 .9 1.6 1-2.2 1-1.4 1 1.2 .9-1.5 1 1.7 1 .6 1-3.1 .9-.4 1 1.9 1-1.6 1-1.2 1-1.3 .9-.3 1 2.5 1 2.3 1 .7 .9 .5 1-2 1-1.2 1 .7 .9 2.2 1 2.3 1-.8 1 .6 .9-.2 1 1.8 1-1.3 1-4.6 .9 1.4 1 3.6 1-.5 1-2.8 .9-.8 1 3.1 1 1.8 1-1.4 .9-.1 1-1.7 1-1.3 1 1 1-1.3 .9-3.1 1-1.3 1-1.1 1-4.4 .9-4.6 1 .7 1 .3 1-2.9 .9-1.3 1-2 1-6.6 1-2.1 .9-2.4 1-2.6 1-1.2 1 1.6 .9 2.7 1 3.4 1 6.3 1 5.1 .9 4.3 1 1.3 1 1.6 1 .2 .9-1.6 1 .3 1 .6 1 .4 1-.9 .9-.4 1 1.7 1 1.1 1-.5 .9 4.4 1 3.7 1 4.1 1 .3 .9 1.1 1 2.8 1 1.8 1-.4 .9-.6 1 2.3 1 .1 1-.6 .9 3.9 1-.3 1-.3 1 4.6 .9 .9 1-.4 1 .8 1-1.7 1 1 .9-.8 1-.5 1 .3 1 1.8 .9 2.3 1 .2 1 4.4 1-.7 .9 .7 1 3.6 1 .5 1 1.9 .9 2.1 1-1.2 1 .6 1-.5 .9 3.1 1 4.5 1 2.5 1-3.5 .9-1.1 1 1 1-.6 1-1.4 .9-3.2 1-3.3 1-2.8 1-1.9 1 .3 .9 1.7 1 .7 1 2.2 1-.1 .9-2.4 1 .2 1-1.4 1 .9 .9-2.7 1-1.6 1 .2 1-.8 .9 4.4 1 .7 1 .2 1-2 .9 2.3 1 3.7 1 .3 1 3.6 .9-.1 1 2.4 1 2.1 1 2 .9-.8 1 3.9 1-.7 1 .8 1 1 .9 1.9 1 .3 1 .2 1 .8 .9 .8 1 .3 1-.3 1 2.1 .9 2.6 1 1 1-2.4 1 .1 .9-.9 1 .5 1 2.6 1-1.7 .9-2.4 1 3.2 1 3.7 1 1.5 .9-2 1 .4 1 .7 1-1.9 1-.3 .9-.1 1 .4 1 .2 1-1.4 .9-.1 1-.1 1 1.7 1 .1 .9-.6 1 .7 1-.2 1-.7 .9 1.3 1 1.3 1 2 1-.5 .9-.4 1 .6 1 1 1-1.6 .9-4.2 1 1.2 1 2 1-.5 .9 .9 1-.4 1 .3 1 .3 1-.6 .9 .3 1 1.5 1 2.2 1-.9 .9 .6 1-2.1 1-.4 1-.2 .9-2.1 1-1.1 1 2.1 1-.6 .9-2.2 1 1.1 1 2.5 1-2.7 .9-2.4 1-1.2 1-.4 1-.2 .9-.4 1-2 1 .2 1 .2 .9 .6 1-2.2 1 0 1-1.2 1 1.9 .9-2.6 1-2.8 1-.7 1-3.8 .9-1.8 1-.1 1 .3 1-3.7 .9-1 1-.9 1 .2 1-3.8 .9-4.1 1 2.7 1 1.9 1 4.7 .9 .5 1 3 1-.1 1 1.6 .9 2.4 1-.9 1-.3 1 2.3 1-.8 .9-2.1 1 .5 1 4.2 1 1.3 .9 2.1 1 3.2 1 2.1 1 2.9 .9 1.7 1 3.5 1-.4 1 .5 .9 2 1 .7 1-2.2 1 3.8 .9 3.6 1-1.9 1 1.6 1-.4 .9 2.4 1 1.7 1-1.6 1-.5 .9 1.3 1 1 1 1.5 1 1.5 1 .6 .9-1.5 1 .6 1 2.4 1 1 .9-.3 1-.3 1 1.8 1 .7 .9-1 1-4.2 1 .2 1-.8 .9 2.4 1-.5 1 1.9 1 2 .9-.2 1-.4 1-.2 1 .1 .9 .7 1 1.7 1-3.4 1 1 .9 1.7 1-1.2 1 1.4 1 2.4 1 3.9 .9 1.3 1 6.2 1 4.2 1 .3 .9 4.1 1-1.5 1-5.6 1-1.2 .9-2.1 1-3.9 1-.4 1-1.4 .9-.2 1 1 1 .3 1 .6 .9 2 1 2.2 1-.4 1 .1 .9 1.1 1 1.1 1 1.6 1 .1 1-.1 .9-2 1-2.1 1-.2 1 1.7 .9 1.4 1-.5 1-.4 1-1.3 .9-3.5 1 .4 1-3.9 1 2.7 .9 1.9 1-1.4 1-1.3 1-1.8 .9-3.9 1 3.3 1 1 1 1.8 .9 .1 1 .9 1-4 1 .3 .9 2.3 1-3.9 1 1.3 1 1.9 1 1.3 .9 2.7 1 2.6 1 .1 1-3.9 .9-.4 1 1.1 1-1.9 1 1.2 .9-2.4 1 .5 1 2.9 1-.8 .9-1 1 1 1-.4 1-2.7 .9-2.8 1 1.2 1 2.8 1-6.4 .9-1.8 1 1.7 1-.4 1 1.2 .9-1.2 1 1.8 1 0 1 .1 1-4.1 .9-.7 1-1.3 1-2.2 1 2.8 .9 0 1-2.7 1-.5 1 .2 .9-1.9 1-1.6 1 1.7 1 1.9 .9-.2 1 1.1 1-.9 1 .6 .9-4.4 1-3.4 1-3.1 1-3.8 .9-3.8 1-2.9 1-1.3 1-3.5 .9-3 1-.2 1-.5 1-1.6 1-1.1 .9-4.1 1-1.4 1-3.4 1-5.7 .9-1 1 1.8 1 .5 1-6.9 .9-3.1 1-3.9 1-5.4 1-3 .9-.3 1-.6 1-3.9 1-.1 .9 2.1 1 1.3 1 1.2 1 2.7 .9 2.4 1-3.4 1-.9 1 1.1 1 2 .9 .7 1 4.1 1 3.8 1-2.5 .9-.9 1-.4 1 .7 1 2.1 .9-2.5 1-.2 1 2.3 1 .4 .9 2.8 1 5.6 1 2.1 1 3.7 .9 4.9 1 1.9 1 5.3 1 1 .9 .4 1 7 1 2.5 1 1.1 .9 2.8 1 1.3 1 1.2 1 .8 1 2.1 .9 4.7 1-2 1-.9 1 4 .9 .2 1-1.7 1 5.5 1 1.6 .9-1.1 1-1.8 1 1.1 1 3.9 .9-1.3 1 1.9 1 1.7 1-1.1 .9 4.8 1 3.2 1-.8 1 1.5 .9 .9 1 1.3 1-3.3 1-.5 .9 .9 1-.6 1-.5 1 2.4 1-.2 .9 .1 1 4.6 1 2.2 1 .1 .9 1.7 1-3 1 .5 1 2.2 .9 2.3 1 1.6 1 1.8 1 1.9 .9 1.7 1-1.2 1 2.1 1-.8 .9-1.4 1-3.4 1 3.2 1 3.3 .9-1.9 1-.4 1 1.6 1 2.4 1-1.1 .9-2.9 1 1 1 .9 1-3 .9-.3 1 .9 1-.6 1 3.5 .9-4.2 1-1.5 1-.2 1-1.7 .9-1.9 1 .5 1-5 1-2.7 .9-.6 1-5.2 1 4 1 .7 .9 .1 1 4.7 1-1.9 1 3.8 .9 .4 1-1.1 1-.4 1 .1 1-3.7 .9-1.8 1-.8 1-2.6 1-3.2 .9-.1 1-2.1 1-1.1 1 1.4 .9 2.6 1 2.3 1-.6 1 2.2 .9-2.9 1 .7 1 0 1-3.3 .9-2 1-2.5 1-2.5 1 2.1 .9 1.2 1 1.5 1-2.5 1 1 .9 .9 1 5.6 1 .1 1-.4 1-.2 .9 .7 1 2.3 1 0 1-1.5 .9-.6 1 1.6 1-1.7 1 .5 .9-3 1-1.8 1-2.9 1-4.3 .9 3.9 1 1.9 1 4.6 1 2.9 .9-3.4 1 0 1-1.6 1 0 .9-3.1 1-.3 1-.8 1 2.5 1-1.4 .9 4.3 1 1.3 1 1.2 1-1.4 .9-4.7 1-.9 1 2.3 1-.3 .9-.8 1 1.8 1 1.3 1 4.6 .9-1.4 1-.7 1 5.2 1-3.4 .9-1.1 1-.9 1 1.8 1 1.1 .9 1.6 1-1.8 1 1.3 1 3.8 .9 1.7 1-.6 1 3.5 1 1.5 1 1.5 .9 2.1 1-1.3 1-2.1 1-1.8 .9-2.4 1 .3 1 .1 1-2.7 .9 .4 1 2.3 1 1.3 1 2.8 .9-1.3 1-.8 1-1.9 1-3.8 .9 3.7 1 .7 1 2.3 1 2.6 .9 1.7 1 .1 1 2.4 1 4 .9-1.3 1-1 1-1.4 1-1.2 1 2.7 .9 .8 1 .2 1 1.5 1 .5 .9 .2 1 1.1 1-1.9 1-3.9 .9 .2 1-1.2 1-.4 1 2.4 .9 .8 1 .2 1-1.1 1 2.7 .9 1 1 1 1 2.3 1 6.2 .9-1.7 1-2.2 1 1.9 1-1 .9-3.2 1 2.3 1 2.3 1-1.2 1 4 .9-1.3 1-5.8 1-5.2 1-3.4 .9-1.9 1-4.1 1 .6 1 3.6 .9-.6 1-1.3 1 1 1 4.8 .9-.5 1 .4 1 .8 1-1.6 .9 3 1 3.9 1 1 1 1 .9-2.8 1-.8 1-1 1 .2 1-.5 .9-2.6 1 1.4 1-3.6 1 .4 .9-.5 1-1.7 1 1.4 1-.7 .9-1.3 1-1.3 1 1.8 1-.1 .9 2.4 1 3.7 1 .8 1 7 .9 6 1 3.6 1 3.8 1 3.5 .9 5.8 1 .1 1-1 1 1 .9 .4 1-4.9 1-4.7 1-2.2 1-.6 .9-1.4 1 2.2 1 1.5 1 1.4 .9 .9 1 3.8 1 2.7 1 1.6 .9 2.5 1 1.7 1 1.8 1-3 .9-4.5 1 .9 1-2 1 .4 .9 1.4 1 .9 1 1 1 .6 .9 3.8 1 1.7 1-1.9 1 0 .9-2.4 1 2.1 1 3.2 1-1.7 1 4.8 .9 3.4 1-6.6 1-3.3 1-2.8 .9-5 1-3.5 1-2.4 1-.8 .9-2.5 1 .5 1 2.3 1 5 .9 5.3 1 1.3 1-1.2 1-3 .9 .4 1-.1 1-2.7 1-1.9 .9 .6 1 2.8 1 1 1-4.4 1-1 .9 3.1 1-4.9 1-2.7 1-1.1 .9-.8 1-3.9 1-.5 1 .7 .9 .7 1 .6 1-2.5 1-1.4 .9-2.4 1 2 1 .6 1-3.4 .9-1.8 1 .2 1-5.7 1-3.9 .9-2.8 1-1.8 1-1.1 1 .8 .9 .5 1-1.4 1 .6 1 .5 1-5 .9-3.2 1-3.4 1-.4 1-5.2 .9-8 1-.6 1-1.5 1-3.8 .9-2.5 1-3.7 1-4.1 1-2.6 .9-5.2 1-4 1-3.6 1-6.4 .9-5.9 1-3.7 1-2.6 1-5.1 .9-6.7 1-6.5 1-7.1 1-3.3 .9-3.6 1-2.4 1-8.6 1-7.4 1-4 .9-4.1 1-2.6 1-9.1 1-6.3 .9-7.9 1-6.1 1-4.7 1-2.9 .9-5 1-1.3 1-2.7 1 4.7 .9 8.7 1 7.6 1 8 1 6.5 .9 7.8 1 7.4 1 5 1 4.7 .9 3.8 1 3.5 1 3 1 2.7 1 .9 .9 6.9 1 2.5 1-.8 1 5 .9 6.1 1 4.4 1 9 1 6.8 .9 2.6 1 5.2 1-.8 1-2 .9 3.5 1 2.9 1-1.5 1 1.2 .9 6.5 1 1.3 1-1.1 1 12.1 .9 7.3 1 5.6 1 5.6 1 4.4 .9 2.1 1-.7 1-.6 1 .9 1 3.2 .9-4.7 1-.2 1 4.7 1 2.9 .9 1.1 1 1.7 1-1.1 1 1.6 .9 1.9 1 2.5 1-.6 1-2 .9-.4 1 .2 1 2.1 1-.2 .9 1.6 1 .9 1 .7 1-.4 .9-1.4 1 1 1 2.7 1-.2 .9-1.8 1 0 1-3 1-1.6 1-5.7 .9-9 1-9 1-10 1-7.3 .9-3.4 1-5 1 4.3 1 4.3 .9 8.1 1 11.5 1 10.2 1 10.2 .9 7.3 1 5.2 1 5.8 1 4.5 .9 4.8 1 7.3 1 1.1 1 2.6 .9 8.1 1-1.2 1-3.1 1-3.4 1-3.4 .9 .4 1 8.2 1-1.6 1 1 .9 3.9 1 4.6 1-.8 1-3.3 .9-6.6 1-11 1-11 1-13 .9-9.3 1-10.6 1-6.7 1-14 .9-13.2 1-14.7 1-20.9 1-21.5 .9-24.9 1-19.6 1 0 1 16.9 .9 24.6 1 23.5 1 26 1 22.7 1 14.7 .9 14.4 1 14.7 1 9.8 1 7.6 .9 5.7 1 3.3 1 3.7 1 2.5 .9 .4 1 .5 1-2.2 1-.4 .9 .1 1 3.7 1 2.9 1 3.2 .9 3.5 1 .7 1 3.3 1 3.2 .9 3.2 1-.1 1 1.4 1 .2 .9 1.4 1 .7 1 3.3 1 3.3 1-1.6 .9 1.7 1 1.9 1 .1 1 1.1 .9 2 1 3.7 1 1.8 1-.1 .9-2.1 1-1.9 1-1.3 1 .4 .9-1.3 1-3.1 1 3.6 1 3.1 .9-.5 1-.5 1 2.7 1 3.1 .9 3.1 1-.2 1-1.7 1-2.7 .9-3.2 1-1.1 1-2 1 2.2 1 3.2 .9-2.6 1-.4 1 5 1 2 .9 2.7 1 1 1 .2 1-1.3 .9 .6 1 .1 1-8.2 1-6 .9-3.6 1 .2 1 2.9 1 4.2 .9-1.5 1-.3 1 4.1 1 2.7 .9 3.6 1 1.1 1-1.8 1-4.5 1-.8 .9 .9 1-2.9 1-3.8 1-4.1 .9-2 1-1.9 1-3.9 1 .5 .9 4.5 1-.1 1 4.6 1 6.5 .9 1.2 1 .6 1 2.9 1-3.9 .9-2.9 1-1.4 1-5 1-5.4 .9-3.1 1-5.2 1-2.7 1-1.3 .9-3.4 1 3.3 1 3.1 1 2.9 1 .8 .9 3 1 .2 1 .8 1 5.6 .9 2.4 1-2.2 1-2.3 1-3.5 .9-3.3 1-3.3 1-1.7 1 5.8 .9 2.6 1 1.5 1 3.7 1 3.2 .9 .6 1 2.4 1 2.4 1-3 .9 .9 1 .3 1 2.6 1-.9 .9-2.3 1 .6 1 3.9 1 .5 1-.2 .9-.4 1-3.2 1-2.7 1 .3 .9 .1 1 0 1 3.7 1 .1 .9-2.7 1-1.4 1-.2 1 2.9 .9 .9 1 .8 1 .4 1 4.5 .9 .8 1 1.5 1-1.3 1 .3 .9 .2 1-3 1-3.1 1 2.1 1 .2 .9 1.8 1-1.2 1-1.4 1-2.2 .9-.5 1 1.3 1 2.5 1 .8 .9 1.2 1-.4 1 2.1 1 2.3 .9 1.2 1-.2 1 2.8 1-.4 .9-1.4 1-2.9 1 .6 1 .1 .9 2.2 1 .6 1-2.1 1 4 .9-2.7 1-5 1-2.4 1-3.3 1-2.7 .9 2.2 1 2 1 4.2 1-.4 .9 2.8 1 3.2 1 1 1-8.3 .9-4.9 1 .6 1-.2 1-.7 .9 1.8 1 .3 1 1.3 1 4.1 .9 1.8 1 .6 1 2.5 1 .8 .9-.5 1 .2 1 4.7 1 3.2 .9 1.2 1 0 1 .6 1-5.2 1-5.8 .9 .7 1 2.2 1 1.8 1-1.8 .9-3.4 1-.5 1 .6 1-2.6 .9-4.1 1-2 1 .1 1 3.4 .9-.9 1-3" stroke="#01426e" stroke-width="4.7"/>
<path d="M162.3 965.3l1-.1 1 .6 1 1.9 .9-.4 1 2.3 1 3.4 1-.7 .9 3.5 1 4.9 1 2.4 1-.3 1-1.7 .9-.5 1 .1 1-2.2 1-1.2 .9 .9 1-1 1 .2 1 2.1 .9-1.3 1-.4 1 .5 1-3.6 .9-.5 1 2.3 1 1.1 1-3.3 .9 2.6 1 2.6 1 1.5 1 2.5 .9 1.5 1 2.9 1 2.3 1 .8 1 1.3 .9-.5 1-1 1 3.2 1-.5 .9 .7 1 .9 1-.7 1-.6 .9 .8 1 4 1-3.9 1-.6 .9 2.2 1-1.3 1 1.4 1 2.9 .9-1.7 1-.9 1 2.7 1-.8 .9-.5 1 1.4 1-4.3 1 .1 .9 4.7 1 0 1 .4 1-.2 1 3.6 .9-.8 1-1.1 1 1 1 .9 .9-.4 1 .8 1 1.1 1 1.7 .9-2.4 1-1.7 1-.9 1-1.4 .9-2.9 1 2.5 1-3.3 1 0 .9-2.8 1-1.3 1 .3 1 5.1 .9 .8 1-.8 1 3 1-4 .9-3 1-1.1 1-.2 1-1 1-.7 .9-1.6 1 .7 1-3.7 1 3.4 .9 3.4 1-.2 1 1.9 1-1 .9 1.1 1 5.7 1 2.1 1-.2 .9 5 1 .3 1-.2 1-3 .9 1.4 1 3.9 1 2.1 1-2.5 .9 2.6 1-1.1 1 4.6 1 2.5 .9 .3 1 2.1 1 1 1-2.6 1 .5 .9 1.4 1-4.3 1-2.3 1 3.4 .9 .6 1 3.7 1-3.2 1 .3 .9 .5 1-5 1 2.6 1 .7 .9 .3 1 1.8 1 .1 1-2 .9 1.8 1 1.5 1-1.1 1 1.6 .9 3.3 1-3 1 0 1-.5 1 2.9 .9-1.8 1 2.5 1 3.5 1-1.3 .9-.7 1-.4 1 1.2 1-1.2 .9-3.5 1 .9 1 2.2 1 .8 .9-.8 1 1.5 1 4.3 1 4.2 .9 .2 1-1.2 1 2.8 1-.5 .9 1 1 1.9 1 2.7 1-.9 .9 1.7 1 4.8 1-1.1 1 1 1-.1 .9 1.2 1 3.3 1 1 1 1.8 .9 2.5 1 .4 1-.5 1 1.2 .9 1.5 1 1.4 1-.8 1 .9 .9 1.1 1 2.1 1-.9 1 5 .9 1.8 1-2.4 1 .3 1 6.6 .9 4.9 1-.2 1-2.1 1-.4 .9 4.4 1 0 1-3.3 1 .6 1 2.3 .9 .3 1 1 1-3.1 1 .4 .9 1.2 1-.8 1-2.4 1-1.1 .9-.5 1-1.1 1-.2 1-.6 .9 .1 1-1.3 1 1 1 .6 .9-.2 1 2.4 1-1.3 1 1.7 .9 3.9 1-3.9 1-2 1 1.7 1-1.7 .9-.5 1 1.5 1 4.1 1 .7 .9 .5 1-.2 1-1 1-.1 .9-1.8 1 1.1 1-.8 1-.2 .9 2.8 1 1.3 1 .4 1 0 .9 2.2 1-1.2 1 .6 1 .2 .9 3.3 1 1.8 1-3.7 1 .1 .9-.4 1-2.2 1 2.8 1-.9 1-3.6 .9 .7 1 2.3 1 .3 1 .9 .9-.1 1-.9 1 2.6 1 1.9 .9 1.6 1 1.4 1 1.1 1 4.4 .9-.1 1 .2 1 4.3 1 1.5 .9 2.1 1 .4 1-1.9 1 1.7 .9 .7 1-.2 1 .3 1 .5 .9 1.1 1-1.7 1 .8 1 2.7 1-1.1 .9 1.8 1 .6 1 3.6 1-.5 .9 2.2 1 3.8 1-.3 1 2.9 .9 2.4 1-1 1 1.1 1 .4 .9 .7 1 1.1 1 1.2 1 .4 .9 1.6 1-.2 1-.4 1 4.9 .9 1.5 1-7.7 1-2.3 1-1.3 1-.9 .9-1.2 1-4 1 2 1 1 .9-.8 1 1.4 1 .7 1 1.6 .9 2.1 1 4.1 1 6.9 1 3.9 .9-2.6 1 .9 1-1.4 1-.3 .9 .1 1-5 1 2.1 1 1.7 .9-3.2 1-.3 1 4.5 1 .2 .9-1.8 1 .3 1-2.1 1-5.1 1-3.9 .9 4.3 1 .1 1-2 1 1.1 .9 1.1 1-1.3 1-2.6 1 .8 .9-2.3 1-2.3 1-.7 1-1.3 .9 2.3 1 .9 1-2.2 1-1.4 .9 .1 1 5.2 1 4.8 1 4.9 .9 .6 1 .3 1 .2 1-.9 .9-2.6 1-1.8 1 .8 1 2.1 1-1.1 .9-1 1 .4 1 2.1 1 .5 .9 1.9 1-.4 1-1 1 2.1 .9 2.2 1-1.9 1 1.7 1-1.7 .9-1.1 1 1.2 1 3.2 1 3.4 .9 3.4 1 2.4 1 3.5 1 3.3 .9 1.2 1-.5 1 2 1-1.9 1 1.2 .9 1.7 1 3 1 2.6 1 .7 .9 .1 1-2.1 1-.7 1-2.1 .9-.6 1 5.7 1 3.2 1 4.2 .9 6.8 1 2.8 1 1.3 1 2.6 .9 3.4 1 .9 1 1 1-.3 .9 .9 1 .1 1-.4 1-1.2 .9 2.1 1 2 1-6.2 1-2.4 1 1.5 .9-1.4 1 1.8 1 1.8 1-.6 .9 2.1 1 1.6 1 .6 1 1.4 .9 1.6 1-.1 1-1.6 1-1.3 .9 2.5 1-1.2 1 2.6 1 1.5 .9-2.8 1-.3 1 .1 1 5 .9-3 1-1.4 1-.2 1-2.9 .9-3.7 1 1.3 1 2.7 1-1.3 1-2 .9-2.1 1 .5 1 2.1 1 .2 .9-.6 1-2.9 1 2.4 1 .5 .9-.8 1-3 1-.4 1 1.7 .9-1.7 1-3.2 1 .2 1 4.4 .9 .8 1-2.4 1 3.7 1 2.1 .9-1.2 1-1.6 1 1.7 1 .2 .9 .2 1 .3 1 2.6 1 3.4 1 1.1 .9-3.2 1-3.3 1-1 1 2.4 .9 1 1-2.8 1-1 1 1.7 .9 .4 1 .7 1 .5 1-.6 .9 .6 1 .8 1-.9 1 .3 .9 .6 1-.9 1-3.5 1-.2 .9-1.4 1-3.3 1-1.9 1 6.6 1 .9 .9-2 1 2.8 1 3.1 1 2.7 .9-.5 1-2 1 1.8 1 .7 .9 2.2 1 1.9 1 4 1 2.5 .9-1 1-.2 1-.8 1-4.3 .9-3.1 1 2.4 1 1 1 3.4 .9 2.9 1 5.6 1-2.8 1-9.6 .9-5.1 1-5.6 1-2.7 1-4 1-1.4 .9 4.9 1 .1 1 7.6 1 9.1 .9 3 1-.3 1 1.3 1 .8 .9-7 1-6.8 1-.3 1 2.8 .9-3.1 1 1.1 1 5.5 1-1.5 .9-.2 1 .9 1-2.2 1 1.7 .9 1.5 1-.1 1 1.4 1 1.6 .9 3.6 1 4.2 1 7.2 1-.3 1-2.5 .9 2.4 1-.1 1-1.4 1-3.7 .9 2 1-2.2 1 1.7 1 3.8 .9 2.7 1-.7 1-1 1 2.6 .9 .9 1-.6 1-1.4 1-.4 .9-1 1 3.1 1-4 1 1 .9 3.9 1 1.7 1-.7 1-.2 1-1.3 .9 1.8 1 5.6 1 3.2 1 2 .9 2.5 1 1.7 1 2.5 1-.3 .9 .5 1 .9 1 1.7 1 3.6 .9 0 1 1.3 1-3.2 1-1.2 .9 3.9 1 3.4 1 .9 1 1 .9-.2 1 3.1 1 2.3 1 .4 .9-.2 1-3 1-1.2 1-4.1 1-.8 .9 .6 1 0 1 0 1-2.7 .9 1.7 1 .9 1 .2 1-3.3 .9 0 1 1.8 1 .8 1 4.2 .9-1.1 1-.6 1 .8 1 .8 .9 1 1 1 1 2.1 1 1.4 .9-.8 1 2.7 1-2.8 1-2.8 .9 2.4 1-1.2 1-1.3 1 1.3 1-1.8 .9 1.3 1 2.5 1 2.6 1-5.6 .9-1.5 1 .1 1-.8 1-4.4 .9-.1 1-2.1 1-2.2 1-.9 .9 .2 1-1.3 1 .6 1 3.2 .9 2.8 1-1.8 1 4.8 1 .6 .9-3.2 1 8.1 1 1.9 1-4 1-.3 .9 .8 1-2.9 1-5.3 1 .1 .9 .3 1 2.7 1 2.9 1 2.6 .9-.3 1 5.9 1 7 1-2.6 .9 .1 1 1.3 1 1.6 1 1.1 .9 1.9 1 1.5 1 1.9 1 3.4 .9-.9 1-.7 1 2.8 1-1.2 .9-3.4 1-.2 1 .5 1-1.7 1 .4 .9 .3 1-2.6 1-.8 1 .9 .9-.6 1-.5 1-.7 1-.1 .9 2.4 1 2 1 2.6 1-.5 .9-.8 1-2 1-1.5 1 .3 .9 1.1 1 .6 1 .8 1 1.7 .9 5.9 1 6.3 1-2.2 1 1.4 .9-.6 1-1.9 1-1.9 1 1.6 1 .8 .9 .1 1-1.5 1 1 1-1.4 .9-1.2 1-1.3 1 1.6 1 1.4 .9 .7 1 1.5 1 4.7 1 3.8 .9 2.4 1-.5 1-1.7 1 1.4 .9-.5 1-.7 1 .4 1 1.8 .9 1.7 1 .7 1-1.2 1-1.1 1 1.4 .9-2.5 1-2 1-6.6 1-5.2 .9 1.2 1-.2 1 .3 1 3.2 .9 .3 1 3 1 1.4 1 .8 .9-2.5 1 2.3 1-1 1-.6 .9-.8 1-.2 1-2.3 1 1.3 .9 1.5 1-.3 1 1.2 1 1.4 .9-3 1 2.3 1 3.2 1-2 1 1.1 .9 .3 1 4 1 1 1-3.3 .9-1.6 1-1.7 1-2.6 1 .3 .9 0 1 .4 1 2.8 1 .1 .9-2.2 1 2.7 1 0 1-1.5 .9-1.5 1 3.5 1-4.7 1 .6 .9-.8 1-5.3 1 5 1-.7 .9 1.3 1 .6 1 .7 1 3.6 1 3.9 .9 .1 1-1.5 1-1.6 1-4.5 .9 .7 1-1.7 1-1.5 1 0 .9 1.1 1 .8 1-3.1 1 .6 .9 0 1-1.7 1-2.4 1-3.4 .9-1.4 1 1.5 1 .9 1-.2 .9 1.6 1 1 1 2.5 1-1.8 .9-1.3 1-1.5 1-4.6 1-.6 1-.7 .9-1.3 1 .9 1-.6 1-.9 .9-2.9 1-4 1-3.6 1-2.4 .9-.3 1 .5 1-2.5 1-2.9 .9 1.8 1-2.6 1-.4 1-.6 .9-1.6 1 0 1-1.8 1-3 .9-.4 1-2.3 1-2.1 1-.1 1 3.2 .9 .8 1 .2 1 .2 1-.6 .9 2.1 1 1 1-.9 1 1.8 .9 .9 1 1.7 1 4.1 1 .6 .9 0 1 2.2 1-1.2 1 3.3 .9 5.3 1-1.5 1-1.5 1-1.6 .9-4.2 1 2.1 1 1.2 1 2 .9 1.9 1 .3 1-.4 1 .5 1 .1 .9 .2 1 .6 1-.8 1-3.7 .9 .5 1-2.3 1-2.7 1 4.2 .9 .5 1-.7 1 5.6 1-2 .9-2 1 3.1 1-1.7 1 3.9 .9-.7 1 .1 1 3.9 1 .4 .9 2.6 1-.7 1-.6 1 .1 .9 .4 1 4.4 1 1.4 1 1.9 1 4.3 .9-3.8 1-3.6 1 .6 1-2 .9 .9 1 3.5 1 .6 1-.2 .9 .1 1 1.7 1 .4 1-2.8 .9-5.4 1-1.7 1 3 1 3.9 .9 2.4 1 .5 1 1.6 1 6.3 .9 2.4 1 .5 1 3.2 1 5.1 1 .5 .9 1.7 1 1.9 1-2.9 1 1.6 .9 1.2 1-1.6 1-1.2 1 1.7 .9 3.4 1 1.7 1 2.3 1 .8 .9-.2 1 2.3 1 .4 1 .4 .9-1.7 1-2.7 1-.9 1 .6 .9 1.9 1-.7 1 .9 1-2 .9 1.2 1 .2 1-4.6 1-.2 1 3.1 .9 .1 1 .5 1 .4 1-.2 .9 .9 1-.7 1-1.6 1 2.7 .9 2.2 1 .5 1 .1 1-1 .9 .7 1 1.2 1 0 1-2.4 .9-1.2 1-1.2 1 .1 1 2.1 .9-2.8 1-3.5 1 3.4 1 2.3 .9-2.6 1-.8 1 .7 1-3.3 1 .8 .9 1.8 1-1.2 1-3.1 1-2.2 .9-3.4 1-2.6 1 .1 1-1.7 .9 4.7 1 2.8 1 2.2 1 5.6 .9 .7 1-.8 1-3.6 1-2.6 .9-1.6 1 .8 1-.5 1-1.6 .9-1.2 1-2.2 1 .9 1 2.5 1-1.7 .9-3.8 1-1.8 1 2.9 1-1.1 .9-.8 1-.5 1 0 1-2 .9 1.3 1-3.5 1-1.5 1 3.9 .9 2.1 1-3.2 1 4.3 1 3.5 .9-.2 1 .9 1 1.2 1 4.1 .9-.5 1-3.4 1-3.8 1 .4 .9 1.3 1-.6 1-.8 1 .3 1 3.2 .9 3.4 1-1.4 1-.9 1-2.9 .9 2.4 1 .6 1 3.5 1-1 .9 1.6 1 .2 1-.5 1 0 .9 .2 1 3.1 1 .2 1 2.6 .9 .2 1-.3 1-1.2 1-1.5 .9-.9 1-.2 1-3 1 .4 .9 .8 1 3.2 1-2.2 1 1.2 1 .1 .9 1.8 1-4 1 2.5 1 1.2 .9 .4 1 .5 1 .4 1-4.8 .9-4.1 1 2.5 1 .7 1 4.5 .9 5.2 1-.9 1-.3 1 4.1 .9 .3 1-.7 1 .7 1 .3 .9 1.1 1-.1 1 .4 1-.1 .9 .2 1-3.5 1 2.3 1 2.8 1 .5 .9 .9 1 2.9 1-1.4 1 .1 .9-.9 1-3.9 1 .7 1 3.1 .9 1.2 1 2.9 1 2.9 1 3.2 .9 1.5 1-.7 1-2.1 1-.6 .9-.8 1-2.6 1 2.4 1 6.8 .9 2 1-1.7 1 6.3 1 .7 1-.2 .9 1.8 1-2.6 1-.1 1 .4 .9-1.1 1-3 1-2.2 1-3.7 .9-.3 1 4.1 1 .2 1-3 .9 2.9 1 1.1 1-.7 1-1 .9 4 1 6 1 4.3 1 2.1 .9 .5 1-1 1-3.1 1 .5 .9 1.9 1-2.9 1 .7 1 2.8 1 5.1 .9-3 1-3.7 1 .5 1-.4 .9-.2 1-5.2 1-.4 1 .4 .9 .3 1 7.5 1 1.2 1 3.5 .9-1.4 1-3.1 1-.2 1-2 .9 .1 1 1.5 1 .8 1-1.1 .9 .4 1 .2 1 .1 1 1.2 .9 .7 1-.4 1 1.6 1 1.7 1 0 .9 1 1-1.4 1-2.8 1-2 .9-4.2 1-1.4 1-.9 1 4.5 .9 3.2 1 3.4 1-2.5 1-1.9 .9-.6 1-1.1 1-2.3 1-3.3 .9-1.1 1 .8 1-6.2 1-1.2 .9 .6 1-.2 1 2.1 1-.1 1-.3 .9-3.5 1-2.2 1-.1 1-1.6 .9-4.5 1 2.1 1 2.9 1-.7 .9 3.6 1-.4 1-3.5 1-.8 .9 1.6 1-.6 1-2.1 1-4 .9-3.3 1 2.3 1-1.9 1-1.9 .9-2.2 1-.3 1 1.3 1 3.9 .9 .8 1-.5 1 .1 1-1.3 1-6.6 .9-5.8 1-4.5 1-2.4 1-1.2 .9-1.1 1 2.1 1 .1 1-3.3 .9-2.6 1-6.7 1-.8 1-3.3 .9-5.1 1-3.8 1-6.3 1-4.4 .9-2 1-3.3 1-7.7 1-3.8 .9-3.8 1-5.4 1-4.5 1-2.5 .9-5.7 1-6 1-.9 1-5.6 1-6.4 .9-6.1 1-5.2 1-3.9 1-3 .9-5.2 1-4.5 1-2.8 1-.8 .9-2.1 1 1.1 1 2.6 1 5.6 .9 3.3 1 2.8 1 7.4 1 5.4 .9 2.4 1 6.1 1 3.8 1 2.9 .9 6.6 1 2.6 1 3.4 1 2.3 1 4.5 .9 5.4 1 4.1 1 3.3 1 8.4 .9 5.1 1 1 1 2.9 1 1.8 .9 3.6 1 .8 1 .1 1 2 .9 2 1-2.1 1-1.1 1 3.8 .9 3.5 1-.2 1-1.3 1 6.1 .9 5.4 1 3.9 1-.3 1 3.3 .9 3.5 1-1 1 1.9 1 4 1 1.1 .9-3.8 1-1.6 1 1.7 1-.3 .9 1.3 1-.3 1 1.5 1 4.4 .9 1.7 1 1.2 1 1.4 1 3 .9 .7 1 2.6 1 4.2 1 1.5 .9 1.3 1 2.8 1 .1 1-1.2 .9 1.5 1-1.3 1-3.2 1-3.6 .9-.5 1-1.1 1-2.2 1-1.6 1-6.1 .9-3.8 1-1.9 1-1.5 1-5.6 .9-3 1 2.5 1 5.3 1 10.7 .9 8.9 1-.2 1-.1 1-1.9 .9 3.3 1 6 1-.8 1 1.6 .9 5 1 2.5 1 .4 1 2.9 .9 2.9 1-.8 1-1.2 1 .2 1 .7 .9-.7 1-3.3 1-3.4 1-3.6 .9-7.1 1-.2 1-2.8 1-3.6 .9-8 1-11.1 1-9.3 1-11 .9-6.9 1-8.6 1-8.4 1-2.7 .9-1.7 1-1.8 1-7.1 1-3.4 .9-2 1 1 1 5.1 1 6 .9 7.6 1 6.7 1 8.1 1 5.8 1 3.9 .9 5.7 1 7 1 8 1 9.4 .9 9.7 1 5.8 1 9.6 1 7.2 .9 1.7 1 .8 1 2.4 1 2.6 .9 .8 1 3.6 1 3.8 1-.9 .9-.7 1 4.6 1 2.6 1 0 .9 0 1 1.1 1 .4 1 5 .9 2.5 1 2.8 1-1.4 1-1.1 1 2 .9 .9 1 0 1-.3 1 1 .9-1.3 1-1.3 1 1.8 1-.5 .9-2.4 1-1.8 1-2.3 1-.8 .9 7.3 1 3.5 1 .8 1 .4 .9-.5 1 4.2 1-1.3 1-2 .9-1.9 1-.4 1 1.6 1-.2 .9 2.1 1 2 1 1.8 1 1.9 1 1.4 .9 1.6 1-.1 1 1.2 1 4.4 .9-4.1 1-2.9 1-3.3 1 2.4 .9 3.2 1 2.6 1-.3 1-1.4 .9-1 1-3.2 1-2.2 1 1.4 .9-2.9 1-.9 1-.3 1 3.3 .9-.9 1-.1 1-.2 1 2.2 1 2.5 .9 .7 1-.4 1-1.7 1 1.7 .9-.4 1-1.1 1-2.2 1-2.8 .9-3.3 1 .2 1 0 1-.3 .9-1.7 1 1.3 1 1.8 1-.1 .9 .1 1-1.7 1-1.4 1-.5 .9-2.3 1-.2 1 .8 1-.8 .9-2.3 1 1.3 1 1.6 1-1.3 1-.7 .9 2.4 1-1.9 1-2.2 1 1.5 .9 .2 1-2.7 1-1.5 1-.8 .9-3 1 1.9 1-.5 1-2.1 .9-.5 1 1.8 1 2.9 1-4 .9-2.8 1 .7 1 3.4 1 2.6 .9-2.6 1 2.8 1 .1 1 1.3 .9-.2 1-4.8 1 .4 1 4.7 1 1 .9-4.3 1-.5 1 .1 1-.1 .9 4.3 1 2.3 1 1.1 1 .6 .9-2.9 1-.2 1 3 1 3.3 .9-.9 1-2.7 1-.9 1-2.9 .9-1.3 1 0 1-1.2 1 2.4 .9 1.6 1-2.3 1 4.7 1 3 1 .3 .9 1.5 1 1.9 1 .3 1-2.7 .9-1.2 1-.6 1 1.7 1-1.6 .9-1.1 1 .3 1 .3 1 .6 .9-.7 1-2.1 1 .9 1 2.7 .9-1.8 1 .2 1 3.5 1 1.1 .9 1.1 1-2 1-3.3 1-.2 .9 .5 1-5.2 1-3.6 1 1.2 1-2.9 .9-1 1 .9 1-1.4 1-.9 .9 .8 1 2 1 2.9 1 .8 .9 1.4 1-.4 1-.8 1 1.8 .9-.1 1 2.8 1-2.1 1-.9 .9 4 1-1.5 1-3.7 1-1 .9 1.5 1-2.3 1-2 1 .3 .9-2.2 1 0 1-1.5 1-2 1 4.2 .9-1.2 1-1.6 1 2.3 1 .8 .9-1.3 1-.6 1-2 1-2.1 .9-1 1-2.2 1 1.5 1 .6 .9-1.4 1-3.6" stroke="#01426e" stroke-width="2.35" stroke-dasharray="2.3 3.05"/>
<path d="M162.3 1031.2l1-.9 1 6.4 1 8.2 .9-1.9 1-2 1 1.2 1-.6 .9 .8 1 1.5 1 .8 1-.6 1 .2 .9-2.5 1-.6 1 5.4 1-2 .9-.7 1-1.5 1-2.3 1 2 .9 7.5 1-2.6 1 1.1 1-5.8 .9 .1 1 .3 1-7.3 1 4.1 .9-1.5 1-.8 1 2.9 1 2.6 .9-2.1 1 1.2 1 .6 1-.8 1 7.2 .9-2.3 1 1.9 1 8.8 1 2.7 .9-5.2 1-4.6 1 1.8 1-1.8 .9-3.6 1-2.2 1 4 1 1 .9 4.8 1 3.4 1-2.7 1-2 .9 .4 1-2 1-.5 1 .2 .9-.7 1 2.3 1 2 1 4.5 .9 3.5 1 4.4 1-4.8 1-3.2 1 0 .9 6.1 1 .6 1-2.2 1 2.9 .9-5.5 1-6 1 4.5 1-2.1 .9-7.1 1 6.2 1-.6 1-4 .9-1.7 1 7.4 1 3.4 1-2.2 .9-2.5 1 6.6 1 1 1-1.9 .9-7.3 1-.9 1-2.3 1-3.6 .9-2.6 1 .5 1 .5 1-2.1 1 1 .9 5.7 1 2.1 1-2.2 1 2.4 .9 1.1 1-2.6 1-9.7 1 4.2 .9 3.4 1 .4 1 4.8 1 .2 .9 1.2 1 3 1 6.5 1-2.8 .9-1.3 1 3.1 1 8.1 1-2.7 .9-.7 1-2 1-1.8 1 .2 .9-5.2 1 1.1 1-.1 1 5.4 1 1.6 .9-4.7 1 .8 1 3.1 1 .9 .9-1.7 1-1.5 1-2.3 1 .6 .9 0 1-.3 1 2.5 1-1.1 .9 .3 1 3.6 1 1.7 1 0 .9 1.5 1 2.1 1-3.1 1-1 .9-2.5 1 2.5 1 2.1 1 .9 1 3.8 .9 1.4 1 2.7 1 .7 1-3.4 .9-.5 1 1.8 1 2.7 1-2.9 .9-6.5 1 7.7 1-3.4 1-3.6 .9-1.3 1 .8 1 7.6 1-1.7 .9 4.1 1 4.4 1-.7 1 2.5 .9 2.1 1 3.4 1 3 1-1.4 .9 1.8 1-4 1 .4 1-.3 1 6.1 .9 7 1 .5 1-6 1-1.8 .9-1.5 1 4.1 1 4.4 1-2.5 .9 1.1 1-.2 1-.2 1 2.6 .9 6.9 1 3.9 1-5.9 1 2.6 .9 2 1-.6 1 .4 1 .4 .9 1.2 1 .5 1 3.7 1-6.6 .9 .4 1 6.9 1-1.8 1-4.8 1 2.6 .9-1.9 1-7.8 1 .7 1 2.7 .9-.2 1 2.8 1 1.8 1-4.9 .9 1.6 1 2.1 1-1.4 1 1 .9 4.7 1-5.6 1 1.3 1-1.3 .9 1.2 1 2.2 1-7.5 1-2.4 .9 3.9 1-1.4 1 3.9 1-3.8 1-.3 .9 1 1 1.5 1-2.5 1-1.2 .9-1.1 1-2.2 1 3 1 .9 .9-2.4 1 .4 1-1.2 1-5.6 .9 5.1 1 7.9 1 .4 1-1.9 .9-2.9 1 4.9 1 4.8 1-.9 .9 .8 1 .9 1 3 1-1.2 .9-2.7 1-6.5 1-2.8 1 .3 1 2.1 .9 5.9 1 4.3 1 4.7 1 3.7 .9 4.9 1 7.6 1 5.3 1 1.3 .9-2.1 1-3.2 1-.6 1 .8 .9-6.7 1 3.3 1-2.3 1-1.4 .9-.2 1 5.5 1-.3 1 8.1 .9 5.7 1 5 1 2.9 1-.6 .9-3.3 1-1.6 1 4.5 1 2.9 1 2.7 .9 2.5 1 1.9 1-3.4 1-4.6 .9 3.1 1 .6 1 3.6 1 1.5 .9-2.8 1-5.7 1 .5 1-2 .9 .2 1-.8 1-4.8 1-8.6 .9-4.2 1-4.7 1 1.8 1 8.1 .9-2.9 1-2.4 1 9.5 1 .5 1-5.5 .9 4.1 1 4.8 1 .7 1 6.5 .9 7.7 1 8.1 1 11.1 1-6.4 .9-.2 1-1.7 1 4 1 2.1 .9 .2 1 2.4 1 .3 1 .3 .9-.5 1 1.3 1 2 1-.5 .9-2.7 1 2.4 1 .7 1 .1 .9 5.7 1 0 1-1.7 1 1.2 1-1.2 .9 1.8 1-3.7 1-2.7 1-5 .9-2.3 1 2.2 1-3.4 1-5.3 .9-1.6 1-2.9 1-1.8 1-3 .9-6.4 1-3.3 1-6.4 1 2.7 .9-2.1 1-6.3 1-8.6 1-.3 .9 4.3 1 2.9 1 1 1 4.4 .9 6.4 1 2.7 1 3.7 1 2.2 1-1.8 .9 1.8 1 3.5 1 7.1 1 9.8 .9 8.8 1 1.9 1 .3 1 .6 .9 1.6 1-.3 1-2.3 1 .2 .9-3.4 1-1.5 1 2 1 4.7 .9 1.5 1-1.7 1-2.6 1 3.3 .9 6.5 1 3.8 1 6.8 1 7.5 1 7.2 .9-.4 1 .3 1 3.3 1 0 .9 2.8 1 2.9 1 1.1 1-5.8 .9 .5 1-2 1 .5 1 2.6 .9-2.8 1-4.1 1-3.2 1-7.9 .9-1.1 1 2.7 1-5.1 1-2 .9-5 1-.6 1-9.2 1-1.5 .9 1.1 1-.1 1 7.4 1 4.8 1-3.7 .9-3.5 1 2.3 1-5 1 .5 .9 1.8 1-1.2 1-1.3 1-4.3 .9 2.8 1-5.6 1-11.8 1-5.4 .9-2.6 1-1.1 1-.8 1 4.6 .9 3.9 1 5.3 1 2.7 1-.7 .9 3.8 1-3.8 1-2.1 1 3 .9-2.4 1-5.3 1-2.3 1-.5 1-.8 .9 2.1 1 2.7 1-4.1 1-2.6 .9-1.7 1-2.3 1 .3 1 5.5 .9 .8 1-5.4 1 .9 1 1.3 .9-1.6 1-2.2 1 3.2 1-1.6 .9-2.3 1 7.3 1-2.7 1-1.9 .9 6 1-2.7 1 1.5 1 3.4 .9-1.1 1 10.1 1 .8 1-5.6 1-3.1 .9 2.4 1 1.4 1 .2 1-1.7 .9 .3 1 6.7 1-.1 1 1 .9 3.2 1 2.7 1 3 1-.7 .9 .4 1 1.7 1 2.5 1 .6 .9 1.2 1 1.3 1-2.5 1 2.1 .9 2.1 1 3.9 1-.2 1 1.8 1-8.5 .9-7 1 2.3 1 1.2 1-2.9 .9-2.1 1 5 1-1 1-2.6 .9 1.7 1-6 1-3.8 1 2.1 .9-1.7 1 .1 1 1.4 1 .4 .9-3.8 1-.2 1 1.9 1 .4 .9-2.7 1 .7 1 4.4 1 .3 .9-3.5 1 5.2 1 1.6 1 .3 1-2.5 .9 .3 1 5.3 1-5 1 .1 .9 4.8 1 .9 1-1.5 1-2.7 .9 2.4 1 3.4 1-4.1 1-3.3 .9 3.4 1 .4 1-2.3 1 2 .9 3.2 1-3.2 1 3.3 1 5.5 .9-4.2 1-3.4 1 1.5 1 5.8 .9 3 1 3.6 1 1.9 1 5.3 1-.1 .9-6.7 1 4.3 1-2.9 1 .6 .9 8.2 1-2.1 1 3.6 1 1.8 .9 2.5 1 4.2 1 2.5 1 5.3 .9 1.5 1-1.6 1-5.9 1 2.8 .9 .8 1-2.2 1-2.6 1 2 .9 .6 1 2.2 1-7 1 5.1 1 2.2 .9 1.9 1 2.5 1 3.7 1 3 .9-1.5 1 .5 1 6.2 1 5.3 .9 2.2 1-3.1 1-4.4 1-6.9 .9-5.1 1 6.3 1-.2 1 1.1 .9-3 1-1 1-1.2 1 .7 .9-1.3 1-1.7 1 1.5 1 4.7 .9-2.5 1-8.1 1 4.1 1 2.7 1-6.5 .9-1.1 1 4.1 1 3.1 1 5 .9-4.7 1-1.4 1 8.5 1 .9 .9-1.1 1 1.1 1 2.9 1-5.6 .9 3.7 1-3.3 1-3.3 1 1.8 .9 .9 1-.3 1 4.2 1 1.5 .9-4.1 1-2.2 1-1.1 1 1.8 .9 .7 1-8.6 1-5.7 1 1 1 .5 .9 .9 1-2.2 1-4 1-1 .9 2.8 1-1.5 1-.1 1-.5 .9 1.4 1 4 1-2 1-6.3 .9 0 1-1.4 1 1.4 1 0 .9 1 1-3.9 1 1.6 1 1.2 .9-3.4 1-1.3 1 7.2 1-1.9 1 2.9 .9 3.6 1-.2 1-4.4 1 3.6 .9-.1 1-.8 1 3.2 1 .7 .9-3.5 1 1.1 1 8.9 1 2.8 .9 2.9 1 3.2 1 3.6 1 .2 .9 4.1 1 5.1 1-3.8 1-4.6 .9-4.8 1-2.1 1 3.4 1 1.5 .9-3.7 1-2.3 1-1.8 1-2.9 1 8.7 .9 2.8 1-3.4 1 4.3 1-2.8 .9 2.4 1 2.6 1 2.8 1 1.6 .9-.2 1-1.5 1 3.4 1 2.9 .9-4.2 1-3.6 1 2.4 1 1.9 .9-4.3 1-1.8 1 3.5 1-1.3 .9 .5 1 .9 1 1.1 1-.4 .9 1.7 1 1 1 1.4 1 2.1 1 2.7 .9-.2 1-.1 1-.9 1-1.6 .9 8.7 1 .1 1-9.3 1-3.8 .9 2.1 1 5.6 1 .2 1 3.8 .9-2.5 1 1.8 1-1.9 1-6.2 .9 .5 1-.7 1-7.3 1 4.8 .9 1.3 1 3.8 1-2.1 1-2.7 1 .9 .9-.7 1-6.5 1-.5 1 6.9 .9-.6 1 3.7 1 4.2 1-.9 .9 .7 1-1.9 1-3.4 1 2.4 .9-1.4 1-1 1 5.2 1-3.3 .9-3.9 1 6.1 1 1.3 1-4.1 .9-1.1 1 3.8 1 1.9 1 .6 .9 2.9 1-4.7 1-9.6 1 3.2 1-1.2 .9-.6 1-5.5 1 3.7 1-2.6 .9-3.2 1 3.1 1 1.5 1-.2 .9-3.2 1 2.7 1 1.2 1 .5 .9 4.1 1 2.9 1 1.8 1-4.4 .9-3 1-.2 1 3.4 1 .6 .9-3.8 1 2.4 1 7.8 1 5.6 .9-2.6 1-3.5 1 .2 1-2.5 1 5.6 .9 4.1 1-5 1-5.1 1 2.7 .9-.9 1-2.2 1 1.5 1 1.7 .9-1.1 1-1.7 1-2.7 1 .9 .9 2 1 .1 1-2.4 1-4.4 .9 1 1-.4 1-4.3 1-1.9 .9-5.4 1 0 1 .4 1-5.2 .9 6.4 1 3.9 1-3.3 1-4 1-4.5 .9-.7 1 3.1 1 3.4 1-3.7 .9-1.5 1 2.4 1 1.7 1-4.4 .9-.3 1-.1 1-.5 1 1.5 .9-.3 1-1.1 1-2.6 1-.7 .9-3.4 1 1.4 1-1.5 1-1.3 .9 .4 1 9.8 1-3.3 1-5.1 1 1.7 .9 .5 1 .5 1 3.3 1-8.9 .9 1.5 1-.1 1 .2 1-2.5 .9 .1 1-6.6 1-4.7 1-3.6 .9-4.8 1-5.4 1 1.2 1 4 .9-.6 1-1.8 1-2.8 1 10.7 .9 6.5 1 .6 1 1.6 1 .3 .9-.1 1 3.8 1 .2 1 4.8 1 4 .9 2.9 1-.4 1-4.3 1 .2 .9-3.5 1 3.6 1 5.4 1-2.3 .9 4.4 1-3.7 1-3 1 4.8 .9-2.4 1-2.2 1-2.4 1 2.1 .9 2.6 1-1.2 1-.7 1 1.9 .9-4.2 1-3.3 1 3.9 1 2.5 .9 1.6 1-.3 1 .4 1-.3 1-1.5 .9-1.9 1 5.9 1 4.1 1 1.9 .9-1.2 1-2.3 1 6.2 1 3.4 .9-1.7 1-.5 1-4.5 1-5.4 .9 .3 1 4.4 1-.5 1-3.3 .9-7.1 1 4.1 1-6.5 1-2.2 .9 .8 1-.7 1 8.3 1-2.7 1-4.7 .9 2 1 2.1 1 6.6 1 6.3 .9-.7 1 .4 1-.2 1 .7 .9-.9 1 5.9 1-4.2 1-6.2 .9 1.8 1 2.2 1-2 1-.9 .9-1.1 1-6.4 1-2.8 1 11.6 .9 11.5 1 12.8 1 12.8 1 3.5 .9 .5 1-4.4 1-2.3 1 5.4 1 2.2 .9-.1 1-2.8 1 .5 1 1.9 .9-2.8 1-.5 1 2.1 1-3.8 .9-3.4 1-.7 1-1.8 1 1.9 .9 7.1 1-1.5 1-4.3 1-.7 .9-2.3 1 0 1-3.4 1 1.6 .9 1.5 1-.6 1-.6 1 4.8 .9-1.8 1 1.2 1 7.2 1-10.6 1-5.6 .9-4.4 1 2.9 1-2.5 1-.4 .9-5.4 1-1.5 1 6 1 10.1 .9-.7 1-1.9 1 2.1 1 .8 .9 2.4 1-.1 1-1.2 1 2.3 .9-3.5 1-2.6 1 1.7 1 2.4 .9 1.3 1-6.5 1-2.5 1 6.1 1 7.5 .9-1.9 1-1.1 1-.4 1 .8 .9-2.5 1-1.9 1-4.6 1-.8 .9 3.9 1 .9 1-.7 1-.6 .9-1.3 1-4.1 1 4 1-1 .9 0 1 .5 1 3.2 1 3.4 .9-2.7 1-3 1 1 1-5.2 .9-9.5 1 5.5 1 1.4 1 6.5 1-1.1 .9 .4 1-.4 1-1.4 1-1.8 .9-4.2 1-2.8 1-1.8 1 1.9 .9-.1 1 2.1 1 3.9 1 4 .9 .6 1-.2 1 5.5 1 8.8 .9-.1 1 4.4 1-3.9 1-2.6 .9-.8 1-2.7 1 3.7 1 7.1 .9-.1 1 4.2 1-2.1 1-2.2 1-.3 .9 1 1-4.2 1-.2 1 2.1 .9-9.6 1 .4 1 .1 1-.1 .9 3.1 1 1.1 1 2.5 1 1.2 .9 1.5 1 2.6 1 1.1 1-.7 .9 4.4 1-5.6 1 1.7 1-3.3 .9-5.3 1-.4 1-2.4 1-5.7 .9 1.8 1 4 1 .7 1 3.7 1 6.5 .9 1.7 1-2 1 3 1-1.7 .9-3.6 1 4.2 1 2.5 1-1.5 .9 .9 1-7.2 1-4.4 1-5 .9-14.9 1-4 1 9.1 1 4.6 .9 14.4 1 11.8 1 4.1 1 2.6 .9 1.7 1 .3 1-3.1 1 1.8 1 4.5 .9-1.3 1-7.4 1-.9 1-1.1 .9-3.9 1 5.1 1-.1 1-6.4 .9-1.6 1 5.8 1 3.6 1 5.7 .9 7.7 1 3.8 1 1 1 2.5 .9 .1 1-1.8 1-3.1 1-4.5 .9 4.3 1 1.1 1 .3 1-4.6 .9 .1 1 4.4 1 4.6 1-2.4 1 3.1 .9 3 1-3.2 1-8 1-1 .9 1.3 1-.5 1-5.3 1 .5 .9 0 1-1.5 1 2.6 1 6 .9 1.3 1-1.3 1 5.3 1-2.6 .9-2.3 1-1.5 1-1.6 1-1.3 .9-2.2 1 5.2 1 6.9 1 4.1 .9 2 1 1.7 1-3.4 1-4.7 1 4.6 .9 7.1 1-3.3 1-8.9 1-2.3 .9-4.9 1-3.5 1 .8 1-.7 .9-7.8 1-1 1 3.6 1-2.7 .9 2.8 1 2 1-5.6 1-2.3 .9 3.4 1-2.3 1-2.3 1 6.9 .9-.7 1-5.2 1 .6 1 5 1-1.7 .9 1.9 1-3.2 1-3.6 1-4.1 .9 3.3 1-2.5 1 3.1 1 3.1 .9 0 1-1.3 1-3.1 1-2.1 .9-4.7 1-1.8 1 4.2 1 3 .9 .6 1-1.8 1-1.6 1 4.7 .9-2.8 1-4.1 1 3.6 1-2.3 .9-6.2 1 2.3 1 1.4 1 .2 1-7.3 .9-5.7 1-2.7 1-5.5 1 .9 .9-.5 1-6.9 1-2.8 1 2.7 .9 3 1-6.5 1-8.6 1-5.6 .9-2.7 1-1.3 1 3.8 1 4.9 .9 0 1-2.7 1-1.5 1-2.7 .9-9.5 1-9.6 1 1.7 1-5.6 .9-4.1 1 2.6 1-8 1-4.5 1-4.2 .9-4.6 1 .2 1-8.2 1-13.5 .9-9 1-.3 1-7.1 1-4.8 .9-.3 1 .6 1 5.4 1 7.2 .9 8.5 1 9.1 1 10.7 1 5.4 .9 2.3 1 4.6 1 7.6 1 9.8 .9 2.5 1 3.9 1-.1 1 5 1 4.3 .9 .5 1 1.8 1-.1 1-1.3 .9 1.5 1-.8 1 4.9 1 .9 .9-8.2 1 2.6 1 5.7 1 2 .9 2.4 1 5.8 1 1.1 1-1.1 .9 7.1 1 6 1-5 1-3.7 .9 2 1-1.2 1 .9 1-3.2 .9 .4 1 .2 1-2.3 1 5.5 1 2.6 .9 1.6 1 .7 1 5.5 1 8.2 .9 .9 1-2.5 1-2.5 1-2.9 .9-5.7 1-3 1-1.9 1-1.3 .9 2.9 1-.7 1-1.2 1 2.5 .9-.5 1 .9 1 2.8 1 1.9 .9 2.8 1-5.5 1 4.4 1 8.3 .9 10.8 1 2.3 1 .5 1-1.6 1-3.9 .9-4 1-14.3 1-4.1 1-2.7 .9-4 1-1.5 1-5.7 1 1.2 .9 3.1 1 .2 1 2.7 1 6.3 .9 12.7 1 5.6 1 9.3 1 14 .9 1 1-2.1 1-1.8 1 .6 .9-4.3 1 .2 1 4.7 1-1.6 1-4.4 .9 .3 1 1.4 1 .3 1-7.9 .9-3.4 1 2.2 1-6.6 1-5.7 .9-2.4 1-5.5 1-10.2 1-8 .9-4.3 1-.3 1 3.5 1-1.1 .9-5.3 1-2.6 1-4.4 1-11.3 .9-12.9 1-24.6 1-6.8 1-1.8 .9-4.2 1 5.1 1 11 1 23 1 21 .9 12.2 1 18.1 1 12.5 1 7.7 .9 9 1 .9 1 .6 1-3.3 .9-1.9 1-2.7 1 7.8 1 9.7 .9 2.8 1 2.9 1 3.9 1 0 .9-3.2 1 3.2 1-3.1 1 4.7 .9 1.4 1 .3 1 5.9 1 2.7 .9-1.8 1 0 1-7.8 1-2.3 1-2.5 .9 .6 1 5.3 1 8 1 4 .9 4.2 1 5.7 1-7.1 1 1.3 .9 7.6 1-5 1 2.8 1 0 .9-3.6 1 .6 1 2.3 1 5.1 .9 4 1 4.4 1-.3 1-4.8 .9-3.5 1-8.8 1-1.6 1-.6 .9-2.2 1 4.8 1 2.3 1 5.4 1 9.5 .9 .5 1 .1 1-.2 1-4.5 .9-.7 1 1.9 1-3.4 1-5.6 .9 1 1 1.4 1 .5 1-1.2 .9-2.7 1 4.6 1-5.5 1-2.7 .9 1.2 1-7.8 1-1.7 1 .4 .9 4.9 1-.6 1 3.2 1-1 1-2.5 .9-6.4 1-1.8 1 5.1 1-3.8 .9-2 1 .1 1-7.2 1 8.6 .9-.2 1-.1 1-.5 1-2.4 .9-3 1-.4 1 .8 1 7.5 .9-1.1 1-4.9 1-.2 1 1 .9-3.8 1-.7 1 1.8 1-.1 .9 1 1 .6 1-.1 1-2.5 1-2.6 .9 2.8 1 3.5 1-.4 1-4.4 .9 0 1-3.5 1-5.3 1-.9 .9 5.7 1 .7 1-2.4 1-3 .9 1.3 1-2.5 1-3.7 1 .8 .9-2.7 1-4.4 1-.6 1 3 .9 0 1 .1 1 2.9 1-.2 .9-1.8 1 2.9 1-.6 1 2.1 1 5.1 .9-2.6 1-1 1 1.8 1-3.1 .9-1.8 1 3.2 1-6.2 1 3.8 .9 7.3 1 7 1 5 1-2.3 .9 1.3 1-1.4 1 3.8 1-4.2 .9-5 1 5.2 1 7.2 1 3.5 .9-2.6 1 3.5 1-1.2 1-3.6 1 1.5 .9-1.5 1 .6 1 2.4 1-1.4 .9 .8 1-1.3 1 .9 1-3.7 .9 4.9 1 .9 1 .2 1 1.9 .9-1.2 1-1.1 1-.2 1-4.6 .9-8.6 1 .1 1 2.2 1 7.5 .9-1 1-1.7 1 2.6 1-4.4 .9-4.3 1 4.7 1-.2 1 .7 1 3.7 .9 3.2 1-4.8 1-3.3 1 5.1 .9 0 1 .7 1 7 1-.8 .9-3.2 1 2.7 1-.3 1-5 .9-1.3 1 .3 1-4.4 1-8.3 .9 .5 1 4.4 1 .9 1-5 .9 4.8 1 5.3 1 .8 1-2.9 .9-1 1-1.7 1 2.3 1 .3 1 4 .9 9.1 1 1.6 1 1.8 1-2.6 .9-6 1-4.4 1-5.8 1-4.1 .9-8.6 1-2.2 1 1.8 1-4.5 .9-.1 1-1.5" stroke="#d80b54" stroke-width="2.35" stroke-dasharray="2.3 3.05"/>
<path d="M162.3 1344.4l1-.9 1-.9 1-.5 .9-.5 1-.8 1-.7 1-.7 .9-.3 1 0 1 .6 1 .7 1 .7 .9 .8 1 1.3 1 1.2 1 .7 .9 1.3 1 1.3 1 0 1-.1 .9-.1 1 .1 1-.8 1-.9 .9-.9 1-.9 1-5.2 1-5.5 .9-6 1-14.5 1-16.3 1-28 .9-29.9 1-27.2 1-21.4 1-17.9 1-2.1 .9 10.3 1 20.6 1 26.1 1 30.9 .9 26.6 1 22.2 1 16.4 1 11.7 .9 7.1 1 7.3 1 4.7 1 2.3 .9 2.2 1 1.2 1 0 1 .1 .9-.1 1-.1 1-.7 1-.6 .9-.4 1-.5 1-1.2 1-1.2 .9-1.2 1-.9 1-.5 1-.6 1-.5 .9-.5 1-.5 1-.5 1-.4 .9-.6 1-.5 1-.4 1-.3 .9-.2 1-2.3 1-2.4 1-2.4 .9-2.5 1-1.9 1-1.5 1-1.4 .9-2 1-.3 1 0 1 0 .9 .2 1-1.4 1-1.8 1-1.4 .9-1.6 1-4.6 1-6.4 1-6.6 1-15.1 .9-22 1-47.6 1-71.7 1-57.6 .9-72.4 1-60 1-43.8 1-35.7 .9-5.5 1 31 1 53.3 1 70.8 .9 70.9 1 85.8 1 49.6 1 32.5 .9 23.9 1 18.9 1 9.8 1 3.7 .9 3.4 1-.7 1-1.1 1-1.1 .9-.3 1 .1 1 .2 1-.2 1 2.3 .9 2.1 1 2.3 1 2.3 1 1.8 .9 1.8 1 1.9 1 2 1 .4 .9-.3 1-.3 1-.3 1-1.1 .9-1 1-1.2 1-1.1 1 1.3 .9 2.1 1 2.1 1 1.7 1 1.6 .9 1.5 1 .1 1-1.3 1-1.3 1-.9 .9-.8 1-.7 1-1 1-.9 .9-.4 1 .9 1 1.1 1 1.1 .9 .4 1 .7 1 1 1-.3 .9-2.9 1-3.4 1-2.8 1-1.9 .9-2.1 1-1.6 1-.1 1 .1 .9-.2 1 .3 1 1.1 1 .7 .9 .9 1 1.4 1 .7 1 .2 1 .2 .9 .7 1 .5 1 2 1 2.2 .9 2.2 1 1.9 1 .6 1 .1 .9 .5 1 .4 1-2.2 1-3.3 .9-3.2 1-2.4 1-2.5 1-2.4 .9-2.2 1-1.5 1-1 1-.9 .9-1.1 1-1.1 1-.1 1 .7 .9 .7 1 .5 1 .5 1 .5 1 .1 .9 .2 1 .3 1 .1 1 .5 .9 1 1 .4 1 .6 1 .5 .9 1 1 2.8 1 2.7 1 3.1 .9 2.4 1 1.6 1 1.8 1 1.6 .9 1.4 1-1.2 1-1.1 1-.8 .9-1 1 .8 1 .7 1 .6 1 .9 .9-2.1 1-2.5 1-2.5 1-2.3 .9-2.6 1-2.7 1-3 1-2.9 .9-2.6 1-2.9 1-2.9 1-1.6 .9-1 1-.9 1-.1 1 2.9 .9 2.6 1 2.9 1 3.1 1 3 .9 2.2 1 1.4 1 1.5 1 .5 .9-.9 1-.7 1-.7 1-.6 1-.3 .9-.5 1 0 1-1.2 1-3.7 .9-3.6 1-3.6 1-3.1 1-2.8 .9-2.4 1 .4 1 .4 1 .4 .9 3 1 3.1 1 2.9 1-2.2 .9-2.2 1-2.5 1-2.2 1 .2 .9 .1 1 .4 1 .3 1 2.3 .9 3 1 2.9 1 2.6 1-.9 1-1.8 .9-1.4 1-1.7 1-3 1-3.6 .9-3.6 1-1.7 1-.4 1-.5 .9-.6 1 .2 1 .8 1 .9 .9 1.4 1 1.3 1 .8 1 .8 .9 .5 1 1 1 1.6 1 1.3 .9 1.3 1 1.9 1 2.2 1 2 1 2.2 .9 1.7 1 .6 1 .5 1 .6 .9 .2 1-2.4 1-2.2 1-2.1 .9-2.2 1-5.7 1-3.9 1-1.4 .9-1.8 1-1.6 1-.5 1 1.1 .9 1.1 1 .9 1 1.4 1 1.3 .9 1.6 1 0 1-4.5 1-4.3 .9-6.5 1-14.4 1-16.6 1-26.9 1-29.3 .9-41.2 1-51.8 1-70.3 1-173.5 .9-97.4 1 0 1 0 1 0 .9 0 1 0 1 0 1 0 .9 0 1 0 1 0 1 0 .9 27.7 1 220.2 1 87.5 1 62.7 .9 55.3 1 41.1 1 19.6 1 10.9 .9 8.5 1 7.3 1 6 1 .1 1-2.1 .9-11 1-11 1-7.8 1-4.9 .9-5 1-2.3 1-1.8 1-1.6 .9-1 1 1.1 1 4.4 1 3.6 .9 2.8 1 2.9 1 2.3 1 .4 .9 .5 1-1.9 1-3 1-3 .9-2.1 1-2.4 1-2.4 1-4.3 1-4.4 .9-4.3 1 .2 1 .2 1-.2 .9 5.9 1 5.8 1 5.8 1 6.6 .9 6.7 1 .7 1 .2 1 .4 .9-.1 1-1.5 1-2 1-1.7 .9-1.7 1-2.2 1-2.4 1-1.7 .9-1.6 1-1.7 1-1.4 1-1.1 .9-.8 1-.6 1 .8 1 2 1 2.3 .9 2.7 1 3.1 1 2.7 1 3.5 .9 4.5 1 4.3 1 5.7 1 7.6 .9 6.1 1 3.6 1 3.6 1 2.3 .9-.9 1-2.5 1-6.5 1-5.7 .9-2.3 1-2.2 1-2.2 1-.6 .9-1.2 1-1.2 1-1.6 1-4.4 .9-3.9 1-4.5 1-6.6 1-6.6 1-6.4 .9-3.8 1-3.7 1-3.6 1-5.2 .9-5.3 1-14.9 1-16.6 1-40.9 .9-49.6 1-50.2 1-51.6 1-103.5 .9-109.1 1-37.9 1 0 1 0 .9 0 1 0 1 0 1 0 .9 77.4 1 143.2 1 100.7 1 54.8 .9 32.9 1 8.3 1 4 1-2.3 1-3.4 .9-5.7 1-6.4 1-8.7 1-7.6 .9-5.6 1 7.3 1 9.3 1 10.9 .9 8.7 1 6.7 1 1.4 1 1.5 .9 1.6 1 .8 1 .5 1 .5 .9 1.8 1 1.9 1 1.6 1 1.7 .9-1 1-1.2 1-1.4 1-1 1-.4 .9-.4 1-.7 1-.6 1 1.9 .9 2.2 1 2 1 2 1 6 .9 7.4 1 7.3 1 17.4 1 21.8 .9 25.2 1 27.5 1 21.3 1 17.2 .9 3.7 1-6.6 1-11.8 1-16.3 .9-13.6 1-10.7 1-10.9 1-11.3 .9-9.5 1-7.1 1-7.3 1-6.8 1-5.8 .9-5.7 1-5.5 1-5.2 1-5.1 .9-4.8 1-5.2 1-5.1 1-7.8 .9-19.6 1-21.1 1-31.2 1-28.7 .9-26.1 1-13.5 1-19.5 1-17.3 .9-2.3 1 12.8 1 18.2 1 42.4 .9 43.6 1 43.8 1 13.8 1 11 .9 5.2 1 4.3 1 4.7 1 .3 1-.9 .9-.7 1-2.5 1-3.7 1-3.8 .9-2.6 1-2.4 1-2.2 1-1.3 .9-1.1 1-1 1-1.1 1-1.2 .9-1.2 1-1 1-1.1 1-1.2 .9-1.8 1-1.6 1-1.6 1-1.6 .9-1.6 1-1.8 1-1.5 1-1.8 1-1 .9-1 1-1 1-1.3 1-1.2 .9-1 1-.8 1-.9 1-.6 .9-.2 1-.2 1 2.5 1 3.8 .9 3.6 1 4.4 1 4.3 1 4 .9-2 1-1.8 1-2.1 1-1.3 .9-1 1-1.3 1 2.7 1 3.4 .9 3.3 1 1.2 1 .5 1 .7 1-1.1 .9-2.1 1-2.2 1-1.4 1-.7 .9-.8 1-.2 1 .3 1-.2 .9-.1 1-2.4 1-4.1 1-8.2 .9-12 1-12.4 1-13.2 1-10.3 .9-5.8 1-3.6 1 .1 1 2.6 .9 7.8 1 9 1 11.3 1 10 .9 7.4 1 6.4 1 2.9 1 3 1 2.6 .9 .6 1 .3 1 .3 1-.3 .9-.5 1-.4 1-1.5 1-1.6 .9-1.5 1-18.5 1-23.1 1-30.9 .9-8.2 1-15.4 1-11.5 1-3.6 .9 5.8 1 15.4 1 31.2 1 28.1 .9 24.7 1 15.4 1 13.2 1 1.1 1 1.1 .9 1.1 1 .4 1 .1 1 .2 .9 .2 1 .1 1-.1 1 .1 .9 1 1 1.1 1 1.1 1 1 .9 .7 1 .8 1 .9 1-2.3 .9-2.8 1-3 1-2.1 1-1.4 .9-1.2 1 .4 1 1.5 1 1.7 .9 1.2 1 .8 1 1.2 1 1.1 1 1.3 .9 1.7 1 1.4 1 .5 1 0 .9 .1 1 .2 1-1.5 1-3 .9-2.9 1-2.4 1-.9 1-.9 .9-.6 1 .9 1 1.4 1 1.6 .9 2.8 1 2.8 1 2.7 1 2.9 .9 3 1 2.6 1 2.1 1-2.7 .9-3.1 1-2.9 1-2.2 1-2.1 1-2.3 .9-.4 1-.7 1-.4 1-.7 .9 .2 1 .5 1 .2 1 .1 .9 1.3 1 1.4 1 1.2 1 1.4 .9 .7 1-.1 1-.3 1-2.5 .9-3.7 1-3.5 1-3 1-2.2 .9-2 1-1 1 0 1 .1 1 .1 .9-.5 1-.9 1-.5 1-.7 .9-.4 1 .7 1 .8 1 .8 .9 1.3 1 2 1 1.2 1-2.1 .9-2.3 1-2.1 1-1.5 1-1.5 .9-.9 1 .7 1 .8 1 1.1 .9 .5 1-2.9 1-2.5 1-2.3 .9-.5 1-.9 1 .7 1 3.5 1 3.3 .9 2.4 1 2.3 1 2.4 1 .4 .9-.1 1-.1 1-.9 1-.6 .9-.5 1-1.7 1-1.8 1-1.6 .9-1 1-.4 1-.1 1 2.4 .9 4.3 1 4.4 1 2.9 1 1.7 .9 2 1 .7 1-1 1-1.4 .9-1.9 1-2.2 1-2.2 1-1.7 1-.3 .9 .9 1 4.1 1 3.5 1 2.7 .9 3 1 2.8 1 2.3 1 2.1 .9 2.5 1 5.2 1 5.1 1 5.8 .9 9.8 1 9.1 1 .6 1 .7 .9 .6 1-3.2 1-3.1 1-3.3 .9-3.5 1-4 1-3.6 1-3.8 .9-3.9 1-4.3 1-4.1 1-4.4 1-4.3 .9-4.6 1-4.5 1-4.3 1-2.9 .9-3 1-3.2 1-3.6 1-4.5 .9-10.5 1-15.2 1-20.4 1-24.2 .9-27.3 1-22.6 1-53.3 1-47.5 .9-37.6 1-27.2 1-18.8 1-3.1 .9 17 1 30.9 1 44 1 55.3 1 48.9 .9 27.9 1 16.3 1 15.1 1 11 .9 8.7 1 1.4 1-9.2 1-18.6 .9-27.3 1-24.5 1-18.3 1-14.7 .9-12.4 1-11.2 1 11.9 1 12.5 .9 14.7 1 37.3 1 33.7 1 12.3 .9 11 1 7.6 1 7.4 1 7.2 .9 7.2 1 7.4 1 7.5 1 3.8 1 2.8 .9 3.1 1 1.6 1 .9 1-2.1 .9-3.6 1-3.5 1-3.4 1-3.1 .9-2.8 1-1.7 1-1 1-1.3 .9-1.1 1-.4 1-.2 1-.1 .9 0 1 .9 1 1.4 1 1.3 .9-.3 1-4.5 1-4.6 1-3.7 .9-2 1-2 1-2.2 1-1.2 1-1.1 .9-.9 1 .5 1 .5 1 .6 .9 .5 1 .4 1 .9 1 .6 .9 .2 1 .3 1-.1 1-.3 .9-.4 1-.9 1-.4 1-.5 .9-.8 1-1.4 1-1.4 1-1.4 .9-1.7 1-2.1 1-2.2 1-1.4 1-1.3 .9-.6 1-.2 1 2.2 1 1.9 .9 3.9 1 5.7 1 2.6 1 .8 .9 .7 1-.3 1-1.3 1-1.4 .9-3.4 1-6 1-5.8 1-6.3 .9-6.4 1-6.3 1-5.6 1-3.6 .9-3.5 1-2.9 1-.8 1 .4 .9 3.9 1 4.1 1 5.3 1 4.9 1 1.9 .9 1.9 1 1.8 1 .8 1 .7 .9 .7 1 1.1 1 1.1 1 1.1 .9 .4 1 .3 1 .2 1-2.8 .9-3.1 1-3.4 1-4.1 1-4.3 .9-4.5 1-5.7 1-4.6 1 .8 .9 .7 1 1.5 1 1.5 1 1.2 .9 1.7 1 1.7 1 1.6 1 1.5 1 1.8 .9 1.2 1 1.4 1 1.5 1 2.2 .9 2.4 1 2.1 1 3.5 1 3.5 .9 3.7 1 2.4 1 2.1 1 2.1 .9 1 1 .9 1 .8 1-5.2 .9-7.2 1-7.1 1-3 1-.8 .9-.9 1 .1 1 .5 1 .3 1 .9 .9 .7 1 .5 1 .5 1 .1 .9 .3 1-1.9 1-4.7 1-5 .9-4.3 1-1.7 1-1.6 1-1.6 .9-1.2 1-.1 1-.3 1-.3 .9-.1 1-.2 1 .1 1 .4 .9 .4 1 0 1 .4 1 2.2 .9 1.9 1 2.2 1 2.4 1 2.1 1 1.9 .9 2.5 1 .7 1 .1 1 .4 .9 0 1 .3 1 .6 1 .2 .9-.2 1-.5 1-.7 1-.8 .9-.2 1-.5 1-.9 1-.5 .9-1.7 1-2.1 1-2 1-2.5 .9-2.8 1-3.2 1-2.4 1-2.1 .9-2.2 1-1.1 1 .2 1-.2 1-.2 .9-.2 1-.5 1-.3 1-.3 .9-.6 1-.5 1 0 1 0 .9-.3 1-.5 1-.1 1 1.6 .9 1.4 1 1.2 1 1.3 1 1.8 .9 1.8 1 1.4 1 1.3 1 1.5 .9 1.7 1 1.4 1 1.3 1-.1 .9-.2 1-.3 1-.3 1-4.1 1-4.3 .9-4.3 1-3.7 1-3.5 1-3.6 .9-2.3 1-1.5 1-1.6 1 2.6 .9 4.5 1 4.6 1 6.2 1 7.8 .9 4.3 1 2.2 1 2.2 1-2.1 .9-6.6 1-7.9 1-9.7 1-9.5 .9-8.5 1-7.7 1-30.3 1-35.2 1-34 .9-22.9 1-21.8 1-11.2 1-9.7 .9 8.9 1 15.5 1 27.4 1 27 .9 27.2 1 24.6 1 21.7 1 2.8 .9 17 1 9.7 1 9.7 1 4.1 .9 4.2 1 4 1 .7 1 .5 .9-6.3 1-6.6 1-5.4 1-5 .9-4.9 1-3 1-2.6 1-1.9 1 1.7 .9 1.9 1 2.4 1 2.3 1 2 .9 2.3 1 2.1 1 2.1 1 3 .9 3.7 1 3.8 1 2.1 1 .6 .9 .5 1-1.9 1-4.3 1-5.8 .9-7.6 1-6.4 1-4.6 1-4.5 .9-.6 1-1 1 .4 1 3.5 .9 3.3 1 3.5 1 3.7 1 3.5 1 2.1 .9 2 1 2.3 1 3.2 1 2.7 .9 2.8 1 2.9 1 2.9 1 3 .9 2.3 1 2 1 2.2 1 .4 .9 0 1 .4 1-2.7 1-3 .9-3.4 1-4.4 1-4.2 1-1.9 .9-1.3 1-1.6 1 .4 1 1 1 .9 .9 1.8 1 1.8 1 1.8 1 1.2 .9 .8 1 .8 1-2.1 1-3.7 .9-3.4 1-2.9 1-2.2 1-1.9 .9-1.5 1 .1 1-.1 1 0 .9 .5 1 1.4 1 1.4 1 1.2 .9 .4 1 .4 1-.3 1-1.7 .9-1.9 1-2 1-2.1 1-2.1 1-1.8 .9-.3 1-.3 1-.2 1-.1 .9 1.8 1 1.7 1 1.8 1 .7 .9 1 1 .5 1-1.1 1-.9 .9-1.1 1-1.2 1-.2 1 .1 .9 0 1 .2 1-.5 1-.7 .9-.5 1-.6 1-3 1-3.6 .9-3.3 1-5 1-5.4 1 7.3 1-46.4 .9-69.9 1-87.3 1-87.2 1-2.7 .9 0 1 0 1 0 1 0 .9 0 1 0 1 0 1 0 .9 0 1 0 1 0 1 53.6 .9 72.5 1 68.7 1 54.5 1 38.2 .9 1.5 1 2.2 1 2 1 2.3 1 3 .9 2.7 1 2.9 1 2.5 1 2.2 .9 2 1-1.1 1-.9 1-.9 .9-1.3 1-1.4 1-.9 1-1.7 .9-2.4 1-2.3 1-2.1 1-.5 .9 .1 1-.1 1-.2 1 .4 .9 .7 1 .4 1 .6 1 1.6 .9 2.3 1 2.1 1 2.1 1 2.6 1 3.2 .9 3.1 1 3.2 1 .7 1 .7 .9 .7 1-1.8 1-1.9 1-2.3 .9-7.7 1-8.6 1-3.6 1-2.2 .9-2.1 1-2.2 1-2 1-1.9 .9-6.2 1-8.3 1-8.3 1-8.3 .9-16.2 1-21.9 1-21.7 1-27.6 .9-33 1-47.5 1-63.1 1-21.1 1 0 .9 0 1 0 1 0 1 0 .9 0 1 0 1 0 1 0 .9 0 1 0 1 0 1 0 .9 0 1 0 1 0 1 0 .9 0 1 8.8 1 54.4 1 51.2 .9 46.1 1 21.8 1 21.9 1 9.5 1 9 .9 5.3 1-2.5 1-2.9 1-17.5 .9-19.7 1-30.6 1-32.7 1-39.2 .9-42 1-40.9 1 0 1 0 .9 0 1 0 1 0 1 0 .9 0 1 0 1 0 1 0 .9 0 1 0 1 0 1 0 .9 0 1 0 1 0 1 0 1 0 .9 0 1 0 1 0 1 0 .9 0 1 0 1 25.7 1 78 .9 46.8 1 31.2 1 26.4 1 22 .9 20.6 1 12.8 1 12.7 1 6.5 .9 6.4 1 6.8 1 18 1 7.8 .9 5.3 1 1.4 1 1.3 1-1.5 .9-1.8 1-2.1 1-.7 1 0 1-.2 .9-.4 1-.3 1-.2 1-.5 .9-.9 1-1.5 1-1.5 1-1.2 .9 1 1 2.1 1 2.2 1 2.6 .9 2.6 1 2.3 1 2.3 1 2.3 .9 2.2 1 1.5 1 .7 1 .3 .9 1.3 1 1.4 1 1.4 1 1.3 .9 .9 1 .9 1 .6 1-.3 1-3.2 .9-3.2 1-3.2 1-2.8 1-2.9 .9-2.5 1-.5 1-.5 1 .2 .9 2.6 1 2.2 1 2.8 1 2.3 .9 1.9 1 2.2 1 .5 1 .5 .9 .2 1 0 1 0 1-.1 .9-2.2 1-2.4 1-2.5 1-2.6 1-2.6 .9-2.5 1-1 1-.6 1 1.9 .9 2.9 1 2.9 1 3.6 1 4.5 .9 4.4 1 2.2 1 .8 1 .6 .9-1 1-3 1-2.9 1-1.9 .9-2.1 1-2.1 1-1.4 1-.1 .9-.3 1-.4 1-.2 1-.4 .9-.3 1-.2 1-.4 1-.6 1-.9 .9-1 1-1.2 1-1.6 1-2.4 .9-3.7 1-3.5 1-3.6 1-1.1 .9-1 1 6.6 1 6.7 1 10.6 .9 11 1 11.8 1 12 1 9.1 .9 8.8 1 5 1 4.6 1-5.6 .9-7.8 1-5.7 1-5.4 1-2.5 .9-1.2 1-.8 1 .3 1 1 1 1 .9-.9 1-2.1 1-5.9 1-8.8 .9-9.9 1-10.8 1-11 1-10.8 .9-11.1 1-10.2 1-9.4 1-8.6 .9-7.4 1-1.9 1 7.1 1 7.8 .9 9.7 1 13.6 1 19.9 1 8.8 .9 7 1 .3 1 .5 1-.3 1-3.3 .9-3.4 1-3 1-.7 1-1 .9-.9 1-.6 1 3.4 1 3.2 .9 3.6 1 2.1 1 2 1 1.9 .9-2.2 1-3 1-3.2 1-4.1 .9-3.8 1-4.5 1-3.1 1-2.6 .9-2.4 1-1.1 1-.7 1-1 .9 .7 1 1.6 1 1.5 1 1.1 1 1.1 .9 1.2 1 1 1 .8 1 .7 .9 0 1-.6 1-.7 1 1.2 .9 4.7 1 4.7 1 4.9 1 4.7 .9 4.3 1 3.1 1 3.2 1 0 .9-1.4 1-2.3 1-5.6 1-5.5 .9-6.5 1-6.3 1-4.4 1-4.3 .9-4.1 1-1.8 1-1.8 1-2 1-1.8 .9-1.4 1-2.1 1-1.7 1-1.3 .9-1.4 1-1.2 1-1.4 1-1.9 .9-1.8 1-1.5 1-1.1" stroke="#8a1fb4" stroke-width="2.35" stroke-dasharray="2.3 3.05"/>
<path d="M162.3 1045.5l1 2 1 2.6 1 2.6 .9 3.3 1 3.8 1 4.7 1 6.6 .9 5.2 1 3 1 1.3 1-6.3 1-8.6 .9-10 1-6.7 1-4.8 1 .2 .9 5.5 1 7.3 1 11.6 1 9.7 .9 5.6 1 6.7 1-2.3 1-4.5 .9-5.2 1-4.2 1-3.9 1-3.2 .9-3.4 1 .1 1 .5 1-.4 .9-.5 1-1.2 1-2.3 1-2.3 1-.7 .9-1.9 1 .3 1 .6 1-.5 .9 1.9 1 3.1 1 2.4 1 7.1 .9 8 1 5.5 1 4.2 1-.7 .9-1 1-1.8 1 0 1-.6 .9-.4 1 1.8 1 2.1 1 0 .9-2.7 1-2.7 1-2.8 1-4.4 .9-3.1 1-.1 1 2.8 1 3.2 1 1 .9 1.2 1 1.4 1 1.1 1 .1 .9-.6 1-1.6 1-1.8 1-2 .9 2.2 1 1.5 1 3.2 1-.9 .9-.8 1-2.4 1-1.5 1 2.3 .9 9.1 1 7.1 1 3.7 1 2.1 .9 1.4 1 .1 1-2.7 1-2.9 .9-3.3 1-3.3 1-5.7 1-4.7 1-5.2 .9-6.8 1-6.4 1-6 1-5.2 .9-5.5 1-1.9 1-1.8 1 3.1 .9 3.9 1 5.7 1 9.6 1 10.1 .9 11.1 1 9.6 1 5.2 1 4.8 .9 2.3 1 .4 1 2.1 1 2.1 .9 1.6 1 1.5 1-3.9 1-3.3 .9-2.7 1 .1 1 .4 1 1 1 2.9 .9 1.7 1 2.8 1 .7 1-1.1 .9-.8 1 .7 1 .4 1 .7 .9 1.5 1 3 1 3 1-1.8 .9-2 1-2.9 1-2.5 1-2.9 .9-2 1 .5 1 2.9 1 2.2 .9 1.9 1 2.1 1-1.2 1-2.9 1-1 .9 .7 1 1.8 1 2.9 1 5.7 .9 4.4 1 3.4 1 .7 1 .4 .9 .2 1-.6 1 1.3 1 1.8 .9 .1 1 2.1 1 .9 1-3.8 .9-4 1-2.9 1-3.1 1-1.5 .9 3 1 2.9 1 3.8 1 3.7 .9 2.8 1 3.4 1 2.1 1 1.9 1 2.6 .9 2.7 1 2.4 1 2.3 1 1.6 .9 2.8 1 .6 1 1.1 1 .8 .9-2.8 1-3.9 1-4 1-5.4 .9-3.9 1 .3 1 1 1 1.2 .9 1.1 1 1.2 1 .8 1-1.1 .9-.4 1-1.3 1-.7 1 .9 .9 1.5 1-.6 1 .3 1 .8 1 0 .9-.7 1-1.3 1 1.3 1 3.3 .9 2 1-.1 1 .7 1 .8 .9-1.4 1-1.2 1-.8 1 1.2 .9 1.3 1-.8 1-1 1-.2 .9-1 1-1 1-1 1-2.5 .9-.1 1-1.4 1-1.1 1 .8 1 1.8 .9 1 1 1.3 1 .5 1 2 .9 1.1 1 .6 1 1.2 1 1.5 .9 .6 1 .6 1-1.3 1-1.3 .9-.9 1-.9 1-.3 1 2.6 .9 1.3 1 .7 1 2 1 2 .9 1.6 1 1 1-.6 1 1.2 .9-1.8 1-1.8 1-2.3 1-.9 1 .2 .9-.3 1 .6 1 1 1 3 .9 3.2 1 3 1 2 1 2.3 .9 .4 1 .1 1-1.2 1-4.1 .9-3.8 1-2.8 1-2.7 1-2.7 .9 .2 1-1.8 1-1.2 1 .5 .9 1.4 1 2.1 1 5.8 1 6.3 .9 6 1 6.8 1 3 1 2.7 1-3.8 .9-3.5 1-5.2 1-6.8 1-3.5 .9-3.1 1-.4 1 3.5 1 1.2 .9 .5 1 2.4 1 1.9 1 .8 .9 .6 1 .3 1-1.1 1 1.3 .9 .5 1-.3 1 1.4 1 .8 .9-.2 1 .9 1-.1 1-.5 1 1.3 .9 1.3 1-.8 1-.6 1 .1 .9-1.7 1-1.9 1-1.5 1 .9 .9 1.9 1 2.1 1 .5 1-2 .9-.1 1 0 1-2.4 1-1.1 .9-1.1 1 .3 1 .2 1 .3 .9 1.3 1 1.7 1 2.2 1 1.7 .9 2.6 1 3.9 1 1.9 1 1.4 1 1.9 .9-4.1 1-3.3 1-5.6 1-4.9 .9-7.4 1-10.6 1-7.9 1-6.4 .9-6.8 1-2.9 1-2.5 1 1.5 .9 4.6 1 7.7 1 13.8 1 16.4 .9 16.3 1 9.4 1 8.1 1 .1 .9-1.9 1-3.7 1-2.2 1-1.7 .9 .5 1 2 1 2.8 1 2.2 1 1.8 .9-1.2 1-2.4 1-3.3 1-4.9 .9-5 1-1.2 1-.6 1-.4 .9 2.4 1 3.6 1 2.3 1 1.2 .9 .5 1 1.4 1 .4 1 1.4 .9 1.2 1 .6 1 .5 1 2.4 .9 1.2 1 0 1 .2 1-.9 1-2 .9-2.2 1-1.5 1 2.1 1 .7 .9 2.3 1 2.3 1 .1 1 .8 .9 3 1 1.4 1 1.4 1 1.5 .9 1.9 1 2.1 1 1.7 1 .7 .9 .9 1 1.4 1 1.5 1 .5 .9 0 1-1.1 1-3 1-1.9 .9-1.7 1-2.7 1-.5 1-.5 1 2.5 .9 2.5 1 .9 1 .7 1-.1 .9-1.5 1-.6 1-.4 1 1.2 .9 2.5 1 1.2 1 1.3 1 1.4 .9 .3 1-1.6 1-1.4 1 .1 .9-.9 1-1.1 1-1.5 1 1 .9 1.2 1 .5 1 .3 1 1.4 .9 .6 1-.9 1-.7 1-.6 1-.7 .9-1.2 1-.5 1-2.3 1-1.2 .9 1.4 1 1.2 1 .5 1-.3 .9-.7 1-4.4 1-8.1 1-10.2 .9-9.1 1-6.7 1-5.7 1 2 .9 4 1 5.9 1 5.4 1 5.7 .9 6.9 1 4.8 1 4.9 1 3.3 .9 2.4 1 2.4 1 .5 1-2 1-2.8 .9-1.8 1-2.9 1-2.8 1-1.3 .9-.9 1-2.5 1 .9 1 1.7 .9 .8 1 1.4 1 2.3 1 1.7 .9 1.8 1 1 1 3.1 1 3.3 .9 1.5 1 1.3 1 1.8 1 1.1 .9-.7 1-1.5 1-1.8 1 .5 1 1.1 .9 1.7 1 2.5 1 1.1 1 2 .9 2.3 1-.3 1 .7 1 2.2 .9 1.6 1 1.6 1 4 1 4.3 .9 3.1 1 2.7 1 1.4 1 .9 .9-1.5 1-.5 1-1.1 1-2.6 .9-2.3 1-2.7 1-3.7 1-2.5 .9-1.1 1-2.1 1-1.9 1-1.5 1-.2 .9-.2 1 .1 1-1.2 1-.8 .9-.2 1-.1 1 1.3 1 1.8 .9 1.7 1 .6 1 .1 1 1.9 .9 .2 1-1 1-.5 1-1 .9-1.4 1-1.7 1-1.9 1 1.3 .9 1.5 1 .3 1 .9 1 1.9 .9 2.2 1-.8 1 .7 1 1.2 1-.1 .9-.7 1 .7 1 1.4 1-.7 .9-.9 1-.1 1-.6 1 .9 .9 .6 1 .8 1 .5 1 1.5 .9 .9 1 1.1 1 1 1 .4 .9 1.4 1 .5 1-.6 1-.3 .9-1.2 1-.7 1 .4 1-1 1-.3 .9-.5 1-1 1 .6 1 .2 .9-.5 1 .8 1 1.8 1 .2 .9 .5 1 1.1 1 1 1 .7 .9 1.1 1 .4 1 .5 1 .7 .9 0 1-1.1 1 .9 1 0 .9-1.9 1-.6 1-.3 1-1.5 .9 1 1 .9 1 .2 1 1 1 1 .9 .3 1 .1 1-1.1 1-3.1 .9-3 1-1.7 1-.7 1-2.6 .9-1.3 1-.6 1-.6 1-1.7 .9-.4 1-.2 1-.3 1 .3 .9 .2 1 1.6 1-.2 1-.3 .9-.2 1 .1 1-.8 1-1.4 .9-.1 1-.8 1-2.2 1-3.1 1-2 .9-2.7 1-.3 1-1.8 1-1.7 .9-.7 1-.6 1-.6 1-1.5 .9-2.5 1-.8 1-2.6 1-2.6 .9-1.1 1 .4 1-.2 1 2.4 .9 2.6 1 2.9 1 2.7 1 1.8 .9 .8 1 .5 1 1.5 1 1.3 1 .5 .9-.3 1 0 1-.6 1-.5 .9-.9 1 .2 1 .8 1 1.8 .9 1.7 1 2.1 1 1.5 1 1.1 .9 1.4 1 .7 1 2.6 1 3 .9 2.4 1 3.1 1 2.3 1 1.8 .9 1.1 1 1.7 1 2.5 1 .9 .9-.1 1 .3 1-.2 1-.1 1-1.2 .9 .7 1 1.2 1 1.2 1 1.5 .9 1 1 2.4 1 2 1 2 .9 .8 1-.2 1 .2 1 0 .9 .3 1-.5 1-.4 1-.9 .9-1.2 1-1.8 1-1.4 1-1.7 .9-3.2 1-1 1 2.7 1 .9 .9 2.3 1 2.3 1 1.9 1 2.1 1 .4 .9 1.7 1 1.2 1 1 1 1.4 .9 .6 1-.7 1-2 1 .2 .9 0 1 .3 1-.8 1-.5 .9-.4 1-.4 1 .8 1 .5 .9 .5 1-.6 1-.4 1-.3 .9-.1 1-1.4 1-.7 1 .1 1-1.1 .9-.8 1 .2 1-.1 1 .4 .9 .7 1-1 1 .1 1-.8 .9-.8 1-.6 1-.6 1-1.6 .9-1.7 1-.9 1-.5 1-.5 .9 .3 1 1.3 1-.4 1 .3 .9 .5 1 .6 1 .1 1-1.9 .9-1.4 1-.2 1 .7 1 2.8 1 .7 .9 2.2 1 2.6 1 .9 1 .4 .9 1.8 1 1.9 1-1 1-2.3 .9-2.5 1-2.5 1-1.2 1-.4 .9-.8 1-1.5 1 .1 1 2.8 .9 1.2 1 2 1 2.1 1 3.5 .9 .9 1-.3 1 .6 1-1 .9-1.9 1-2.2 1-1.3 1-1.2 1 .4 .9 2.1 1 2.2 1 2.4 1 0 .9 1.6 1 .3 1-3.9 1-2.3 .9-2.3 1-.1 1-2.1 1 1.6 .9 2.2 1 .9 1 2.5 1 3.8 .9 1.6 1 2.2 1 2.3 1-3.8 .9-4 1-4.9 1-4.9 1-3.9 .9-5.4 1-3.6 1-2.9 1-2.8 1-4.1 .9-2.7 1-2.1 1-2.1 1-2.7 .9-1 1-1.8 1-2 1-1.7 .9-1.4 1-.4 1-1.9 1-1.4 .9-2.4 1-4.2 1-4.8 1-5.7 .9-4.5 1-3.5 1-2.9 1-1.2 .9 1.3 1 .4 1 2 1 4.6 1 3.5 .9 5.6 1 3.4 1-2.9 1-1.7 .9-2.1 1-4.1 1-4.3 1-2.1 .9-1.3 1-.3 1 1.9 1 2.3 .9 1.4 1 2.4 1 3.2 1 2.8 .9 4.9 1 4.7 1 4.2 1 5.9 .9 4.6 1 5.8 1 4.3 1 4.4 .9 3.5 1 3.3 1 2.5 1 4.2 1 1.9 .9 1.3 1 1.9 1 .8 1 .6 .9 1.5 1 .4 1 .9 1 1 .9 .3 1 .3 1 .4 1-.4 .9 .3 1 1.6 1 .4 1 .2 .9-.7 1 .3 1 .3 1-.9 .9 .4 1-1.7 1-.8 1 0 .9-1.6 1-.7 1 .2 1 .7 1 .6 .9 2.4 1 1.8 1 1.2 1 1 .9 .9 1 .6 1 1 1 .6 .9 0 1 1.5 1 .8 1 .2 .9 2.2 1 2.4 1 1.7 1 1.9 .9-1.7 1-3.6 1-3 1-2.5 .9-.3 1 1.1 1 .4 1 .7 1-.8 .9 1.2 1 0 1-1.3 1 0 .9 1.6 1 2.4 1 2 1 3.2 .9 2 1 1.5 1 1.4 1 1.6 .9-1.6 1-4.2 1-2.8 1-2.8 .9-4.7 1-3.1 1-2.7 1-3.6 .9-.5 1-.8 1-.8 1 1.6 .9 .6 1-5.4 1-2.9 1-1.2 1-1.9 .9 2.4 1 3.1 1 4.4 1 3.1 .9-.8 1-.9 1-2.1 1-2.6 .9-1.7 1-2 1-2.5 1-2.6 .9-2 1-.5 1-1.3 1-1.2 .9 .5 1 .6 1-.2 1-.5 .9 .5 1 .6 1 .3 1 .3 .9-.1 1 .4 1 .3 1 .5 1 .8 .9 .3 1 .1 1 1.9 1 .6 .9 .4 1 1.1 1 1.4 1 .8 .9-.1 1 1.2 1-1.2 1-.8 .9-.9 1 2.1 1 .5 1 .5 .9 .9 1-1.4 1-.6 1 .1 .9-1.7 1-1.4 1-1.2 1-1.8 1-2 .9 .2 1-.3 1-1.6 1 1.3 .9 3.9 1 2.5 1 .5 1 .5 .9-.8 1-1.3 1-4.3 1-5.5 .9-2.5 1-2.8 1-3.2 1-1 .9-.6 1-.6 1 1.4 1 3 .9 2.7 1 .8 1 .1 1 2.2 .9 2 1 1.6 1-1.8 1-1 1-2.3 .9 .2 1 .1 1 3.6 1 4.2 .9 2.4 1 2.1 1 2.9 1 1.4 .9-.2 1-.7 1-1.2 1-2 .9-1.6 1 .5 1-.4 1 .3 .9 .3 1-.1 1 .5 1 .4 .9-1.6 1-2.1 1-2.4 1 1.9 .9 4.3 1 3.2 1 2 1 2.8 1 2.3 .9 2.2 1-.9 1-5.8 1-4.1 .9-2.4 1-2.8 1-.9 1 0 .9-1.4 1 1.3 1 3.3 1 3.7 .9 3.1 1-2.4 1-2.2 1-3.6 .9-2.9 1-3 1-2.3 1-2 .9-4.1 1-.1 1 .7 1 .2 .9 2.1 1 2.3 1 3.7 1 3.7 1 2.9 .9 4.9 1 0 1-.3 1-1.4 .9-1.2 1-1.5 1 1.3 1 1.9 .9 2.1 1 2.3 1 1.9 1 2.4 .9 0 1-1.8 1-3.5 1-4.2 .9-3.3 1-2.6 1-3.4 1-2.1 .9-1.8 1-.6 1-1 1-.2 1-1.6 .9-2 1-2.5 1 1.6 1 2.1 .9 1.5 1 3.6 1 5.5 1 3.5 .9 3.4 1 3.9 1 3.2 1 2.1 .9 2.4 1 2.3 1 2 1-.4 .9-2.8 1-3.5 1 .3 1-.4 .9-1 1-.9 1-1.2 1-1.3 .9 1.6 1 1 1 1.7 1 2.8 1 2.8 .9 3.8 1 .1 1 1.4 1-.7 .9-1.7 1-1.1 1-1.2 1 .4 .9 2.3 1 2.8 1 2.9 1 1.7 .9 1.6 1 .5 1-.3 1-1.9 .9-1.8 1-1.7 1-1.6 1 .1 .9 1.2 1 .9 1 .8 1-.1 .9-.1 1-.5 1-1.5 1-2.2 1-1.1 .9 1.8 1-.2 1 1.5 1 1.6 .9 .4 1 .7 1-.7 1 1.6 .9 3.2 1 2.5 1 1.8 1 4 .9 3.4 1 2.3 1-1.1 1-5.3 .9-5 1-4.2 1-4 1-1.6 .9-1.2 1 .6 1 2.7 1 2 1-.1 .9-1.5 1-.6 1-.8 1-.3 .9-.3 1-.7 1-1.8 1 .1 .9-1.3 1-1.1 1-2.5 1-1.6 .9-2.6 1-1.5 1-2.6 1-1.9 .9 1.3 1 1 1 .2 1 2 .9 1.5 1 .4 1 .3 1 .9 .9-1 1-3 1-4.7 1-5.8 1-5.5 .9-4.5 1-2.7 1 .1 1-.2 .9 .1 1 .5 1 .4 1-5 .9-3.5 1-5.8 1-5.8 1-1.6 .9-2.8 1-.7 1 .4 1 .4 .9-4.1 1-6.5 1-6.2 1-7.4 .9-4.4 1-4.4 1-3.7 1-.4 .9 .3 1-1.5 1-2.2 1-3.5 1-5.8 .9-7.7 1-8.1 1-12.7 1-12.2 .9-18.6 1-19.5 1-14.9 1-6.6 .9-3.8 1 4.5 1 6.2 1 8.2 .9 11.3 1 14.1 1 15.3 1 12.5 .9 10.9 1 9.7 1 5.4 1 5.9 .9 4.3 1 2.5 1 1.7 1 1.7 1 1 .9 0 1 1.1 1 .6 1 .6 .9 3 1 4.7 1 4.5 1 .5 .9 1 1 1.2 1 2.6 1 4.2 .9 2.2 1 4.6 1 5 1 3.7 .9 4.6 1 4.2 1 .5 1-.2 .9-1.3 1 .5 1 2.1 1 1.2 .9 1.9 1 3.7 1 2.4 1 2.7 1 2.2 .9 1.6 1 3.2 1 3.5 1 3.8 .9 3.3 1 3.1 1 3.5 1-1.5 .9-1.8 1-2.1 1-1.2 1-1.8 .9-.9 1 .9 1 .9 1 0 .9-.7 1-1.9 1-.8 1-.2 .9-.3 1-1.3 1-1.9 1-.4 .9-1.5 1-2.7 1-2.3 1-3.6 1-4.4 .9-7 1-8.2 1-10.1 1-8.9 .9-8.7 1-7.7 1-3.1 1-1.2 .9 3.5 1 4.4 1 10.7 1 10.5 .9 9.5 1 9.9 1 7.7 1 7.3 .9 6.5 1 4.1 1 5.3 1 4.8 .9 2.3 1 2.3 1 3.6 1 1.9 1 .7 .9 1.2 1-1.2 1-1.1 1-.9 .9-3.1 1-3.7 1-3.3 1-1.8 .9-4.1 1-3.1 1-4.4 1-5.8 .9-7.5 1-13.8 1-15.1 1-28.9 .9-35.5 1-45.5 1-38.6 1-38.2 .9-38.8 1-23 1 17.3 1 37.2 .9 39.5 1 47.7 1 44.6 1 32.6 1 24.1 .9 17.7 1 16.7 1 12.8 1 10.3 .9 6.6 1 3.6 1 1.6 1-.5 .9 .3 1 1.4 1 2.3 1 1.1 .9 1.5 1 3.7 1 2.6 1 1.8 .9-1 1-.7 1 .4 1-.6 .9-1.5 1-1.3 1-2.1 1-2.9 .9-2.3 1 .4 1-1.3 1-.4 1 3 .9 1.3 1 2.3 1 3.1 1 3 .9 1.1 1 .8 1 2.2 1 1.9 .9-1 1 0 1 2.7 1 .9 .9 2.9 1 1.9 1 1.5 1 1.8 .9-.6 1-2.8 1-.4 1-.5 .9 1.5 1 1.6 1 .2 1 1 .9-.8 1-.4 1-1.6 1-3 1-2.7 .9-1.7 1-2.4 1-2.4 1 1.2 .9 1.4 1 .2 1 2.1 1 3.5 .9 2.7 1 1.5 1 1.8 1 .3 .9-1.2 1-1 1-1.1 1 .3 .9-1.4 1-2.9 1-2.7 1-.9 .9-1.3 1 1 1 0 1 0 1 .7 .9 .8 1 1.5 1-1.5 1-.7 .9-.5 1-.6 1-.9 1-1.1 .9 .7 1 1.1 1 1.2 1 1.3 .9 2 1 2.7 1 .1 1 1.1 .9 1.8 1 1.5 1 2 1 1.4 .9-.2 1-1.8 1-1.1 1-.9 .9-2.5 1-2.3 1-2.3 1-1.3 1-.8 .9-1.3 1-2.1 1-.2 1 .1 .9-2.8 1-3.7 1-1.9 1-1 .9-1 1 3.5 1 3.8 1 2.3 .9 3.2 1 2.9 1 .9 1 2.2 .9 3.5 1 .5 1 .7 1-.5 .9-2.6 1-2.3 1-3.4 1-1.4 .9-.1 1-.3 1 1 1 2.6 1 2.6 .9 0 1-1.2 1 .2 1-2.1 .9-2.9 1-2.4 1-3.4 1-2.1 .9 0 1 1 1 2.1 1 1.1 .9 1.5 1 3.8 1 4.9 1 3.4 .9 3.7 1 3.2 1 2 1 1.1 .9 2.5 1 .9 1-1.3 1-1.1 1-.5 .9-2.2 1-2.6 1-.8 1-2 .9-3.5 1-1.5 1-.2 1-1.5 .9-1.3 1 .7 1 1.9 1-.1 .9 1 1 1.7 1 1.4 1 2.7 .9 1.9 1 .6 1 0 1 1.2 .9 1.2 1 .3 1 .8 1 .7 .9-.5 1-1.6 1-.8 1-2.7 1-3.2 .9-2.2 1-.1 1-.5 1 .2 .9 2.3 1 2.4 1 1.8 1 3.2 .9 1.6 1 1.8 1 2.2 1 1.1 .9-.1 1-1.2 1-1.4 1-1 .9-2.4 1-2.9 1-1.9 1-1.5 .9-2.3 1-2.5 1-.8 1 0 .9-.4 1 .4 1 2.3 1-.7 1-2.3 .9-3 1-3.8 1-5 1-2.9 .9-3.6 1-3.7 1-1.4 1-1.7 .9-.7 1-.7 1-1.4 1-.4 .9-.5 1-.3" stroke="#759ece" stroke-width="4.7"/>
<line x1="262.4" x2="262.4" y1="1473.1" y2="815.3" stroke="#000" stroke-opacity="0.5" stroke-width="2.2" stroke-dasharray="2.2 3.13"/>
<line x1="506.4" x2="506.4" y1="1473.1" y2="815.3" stroke="#000" stroke-opacity="0.5" stroke-width="2.2" stroke-dasharray="2.2 3.13"/>
<line x1="622.5" x2="622.5" y1="1473.1" y2="815.3" stroke="#000" stroke-opacity="0.5" stroke-width="2.2" stroke-dasharray="2.2 3.13"/>
<line x1="676.3" x2="676.3" y1="1473.1" y2="815.3" stroke="#000" stroke-opacity="0.5" stroke-width="2.5" stroke-dasharray="7.6 3.4"/>
<line x1="704.6" x2="704.6" y1="1473.1" y2="815.3" stroke="#000" stroke-opacity="0.5" stroke-width="2.5" stroke-dasharray="7.6 3.4"/>
<line x1="977.9" x2="977.9" y1="1473.1" y2="815.3" stroke="#000" stroke-opacity="0.5" stroke-width="2.5" stroke-dasharray="7.6 3.4"/>
<line x1="1005.5" x2="1005.5" y1="1473.1" y2="815.3" stroke="#000" stroke-opacity="0.5" stroke-width="2.2" stroke-dasharray="2.2 3.13"/>
<line x1="1287.1" x2="1287.1" y1="1473.1" y2="815.3" stroke="#000" stroke-opacity="0.5" stroke-width="2.2" stroke-dasharray="2.2 3.13"/>
<line x1="1429.5" x2="1429.5" y1="1473.1" y2="815.3" stroke="#000" stroke-opacity="0.5" stroke-width="2.2" stroke-dasharray="2.2 3.13"/>
<line x1="1509.1" x2="1509.1" y1="1473.1" y2="815.3" stroke="#000" stroke-opacity="0.5" stroke-width="2.2" stroke-dasharray="2.2 3.13"/>
<line x1="1548.1" x2="1548.1" y1="1473.1" y2="815.3" stroke="#000" stroke-opacity="0.5" stroke-width="2.2" stroke-dasharray="2.2 3.13"/>
<line x1="1683.8" x2="1683.8" y1="1473.1" y2="815.3" stroke="#000" stroke-opacity="0.5" stroke-width="2.5" stroke-dasharray="7.6 3.4"/>
</g>
<text transform="translate(257.7 854.4) rotate(-90)" text-anchor="end" font-family="'DejaVu Sans','Liberation Sans',sans-serif" font-size="32.5" stroke="#000" stroke-width="0.7">[NeV]</text>
<text transform="translate(501.6 854.4) rotate(-90)" text-anchor="end" font-family="'DejaVu Sans','Liberation Sans',sans-serif" font-size="32.5" stroke="#000" stroke-width="0.7">[OII]</text>
<text transform="translate(617.9 854.4) rotate(-90)" text-anchor="end" font-family="'DejaVu Sans','Liberation Sans',sans-serif" font-size="32.5" stroke="#000" stroke-width="0.7">[NeIII]</text>
<text transform="translate(1000.9 856.4) rotate(-90)" text-anchor="end" font-family="'DejaVu Sans','Liberation Sans',sans-serif" font-size="32.5" stroke="#000" stroke-width="0.7">H<tspan font-style='italic' dx='-2'>γ</tspan></text>
<text transform="translate(1283 854.4) rotate(-90)" text-anchor="end" font-family="'DejaVu Sans','Liberation Sans',sans-serif" font-size="32.5" stroke="#000" stroke-width="0.7">He II</text>
<text transform="translate(1425.9 857.8) rotate(-90)" text-anchor="end" font-family="'DejaVu Sans','Liberation Sans',sans-serif" font-size="32.5" stroke="#000" stroke-width="0.7">H<tspan font-style='italic'>β</tspan></text>
<text transform="translate(1543.3 854.4) rotate(-90)" text-anchor="end" font-family="'DejaVu Sans','Liberation Sans',sans-serif" font-size="32.5" stroke="#000" stroke-width="0.7">[OIII]</text>
<path d="M159.9 815.3H1786.4M159.9 1473.1H1786.4" stroke="#000" stroke-width="4.9" stroke-linecap="square" fill="none"/>
<path d="M159.9 815.3V1473.1M1786.2 815.3V1473.1" stroke="#000" stroke-width="5.45" stroke-linecap="square" fill="none"/>
<text x="145.9" y="1452.6" text-anchor="end" font-family="'DejaVu Serif','Liberation Serif',serif" font-size="48.4" stroke="#000" stroke-width="0.9">0.5</text>
<text x="145.9" y="1259.1" text-anchor="end" font-family="'DejaVu Serif','Liberation Serif',serif" font-size="48.4" stroke="#000" stroke-width="0.9">1.0</text>
<text x="145.9" y="1065.7" text-anchor="end" font-family="'DejaVu Serif','Liberation Serif',serif" font-size="48.4" stroke="#000" stroke-width="0.9">1.5</text>
<text x="145.9" y="872.2" text-anchor="end" font-family="'DejaVu Serif','Liberation Serif',serif" font-size="48.4" stroke="#000" stroke-width="0.9">2.0</text>
<text x="322.6" y="1525.2" text-anchor="middle" font-family="'DejaVu Serif','Liberation Serif',serif" font-size="48.4" stroke="#000" stroke-width="0.9">3500</text>
<text x="525.9" y="1525.2" text-anchor="middle" font-family="'DejaVu Serif','Liberation Serif',serif" font-size="48.4" stroke="#000" stroke-width="0.9">3750</text>
<text x="729.2" y="1525.2" text-anchor="middle" font-family="'DejaVu Serif','Liberation Serif',serif" font-size="48.4" stroke="#000" stroke-width="0.9">4000</text>
<text x="932.5" y="1525.2" text-anchor="middle" font-family="'DejaVu Serif','Liberation Serif',serif" font-size="48.4" stroke="#000" stroke-width="0.9">4250</text>
<text x="1135.8" y="1525.2" text-anchor="middle" font-family="'DejaVu Serif','Liberation Serif',serif" font-size="48.4" stroke="#000" stroke-width="0.9">4500</text>
<text x="1339.1" y="1525.2" text-anchor="middle" font-family="'DejaVu Serif','Liberation Serif',serif" font-size="48.4" stroke="#000" stroke-width="0.9">4750</text>
<text x="1542.4" y="1525.2" text-anchor="middle" font-family="'DejaVu Serif','Liberation Serif',serif" font-size="48.4" stroke="#000" stroke-width="0.9">5000</text>
<text x="1745.7" y="1525.2" text-anchor="middle" font-family="'DejaVu Serif','Liberation Serif',serif" font-size="48.4" stroke="#000" stroke-width="0.9">5250</text>
</g>
<g id="panel2">
<rect x="159.9" y="1492.7" width="1626.5" height="657.8" fill="#fff"/>
<line x1="200.7" y1="2150.5" x2="200.7" y2="2134.2" stroke="#000" stroke-width="4.9"/>
<line x1="200.7" y1="1492.7" x2="200.7" y2="1509" stroke="#000" stroke-width="4.9"/>
<line x1="241.3" y1="2150.5" x2="241.3" y2="2134.2" stroke="#000" stroke-width="4.9"/>
<line x1="241.3" y1="1492.7" x2="241.3" y2="1509" stroke="#000" stroke-width="4.9"/>
<line x1="282" y1="2150.5" x2="282" y2="2134.2" stroke="#000" stroke-width="4.9"/>
<line x1="282" y1="1492.7" x2="282" y2="1509" stroke="#000" stroke-width="4.9"/>
<line x1="322.7" y1="2150.5" x2="322.7" y2="2122.5" stroke="#000" stroke-width="6.3"/>
<line x1="322.7" y1="1492.7" x2="322.7" y2="1520.7" stroke="#000" stroke-width="6.3"/>
<line x1="363.3" y1="2150.5" x2="363.3" y2="2134.2" stroke="#000" stroke-width="4.9"/>
<line x1="363.3" y1="1492.7" x2="363.3" y2="1509" stroke="#000" stroke-width="4.9"/>
<line x1="404" y1="2150.5" x2="404" y2="2134.2" stroke="#000" stroke-width="4.9"/>
<line x1="404" y1="1492.7" x2="404" y2="1509" stroke="#000" stroke-width="4.9"/>
<line x1="444.6" y1="2150.5" x2="444.6" y2="2134.2" stroke="#000" stroke-width="4.9"/>
<line x1="444.6" y1="1492.7" x2="444.6" y2="1509" stroke="#000" stroke-width="4.9"/>
<line x1="485.3" y1="2150.5" x2="485.3" y2="2134.2" stroke="#000" stroke-width="4.9"/>
<line x1="485.3" y1="1492.7" x2="485.3" y2="1509" stroke="#000" stroke-width="4.9"/>
<line x1="526" y1="2150.5" x2="526" y2="2122.5" stroke="#000" stroke-width="6.3"/>
<line x1="526" y1="1492.7" x2="526" y2="1520.7" stroke="#000" stroke-width="6.3"/>
<line x1="566.6" y1="2150.5" x2="566.6" y2="2134.2" stroke="#000" stroke-width="4.9"/>
<line x1="566.6" y1="1492.7" x2="566.6" y2="1509" stroke="#000" stroke-width="4.9"/>
<line x1="607.3" y1="2150.5" x2="607.3" y2="2134.2" stroke="#000" stroke-width="4.9"/>
<line x1="607.3" y1="1492.7" x2="607.3" y2="1509" stroke="#000" stroke-width="4.9"/>
<line x1="648" y1="2150.5" x2="648" y2="2134.2" stroke="#000" stroke-width="4.9"/>
<line x1="648" y1="1492.7" x2="648" y2="1509" stroke="#000" stroke-width="4.9"/>
<line x1="688.6" y1="2150.5" x2="688.6" y2="2134.2" stroke="#000" stroke-width="4.9"/>
<line x1="688.6" y1="1492.7" x2="688.6" y2="1509" stroke="#000" stroke-width="4.9"/>
<line x1="729.3" y1="2150.5" x2="729.3" y2="2122.5" stroke="#000" stroke-width="6.3"/>
<line x1="729.3" y1="1492.7" x2="729.3" y2="1520.7" stroke="#000" stroke-width="6.3"/>
<line x1="769.9" y1="2150.5" x2="769.9" y2="2134.2" stroke="#000" stroke-width="4.9"/>
<line x1="769.9" y1="1492.7" x2="769.9" y2="1509" stroke="#000" stroke-width="4.9"/>
<line x1="810.6" y1="2150.5" x2="810.6" y2="2134.2" stroke="#000" stroke-width="4.9"/>
<line x1="810.6" y1="1492.7" x2="810.6" y2="1509" stroke="#000" stroke-width="4.9"/>
<line x1="851.3" y1="2150.5" x2="851.3" y2="2134.2" stroke="#000" stroke-width="4.9"/>
<line x1="851.3" y1="1492.7" x2="851.3" y2="1509" stroke="#000" stroke-width="4.9"/>
<line x1="891.9" y1="2150.5" x2="891.9" y2="2134.2" stroke="#000" stroke-width="4.9"/>
<line x1="891.9" y1="1492.7" x2="891.9" y2="1509" stroke="#000" stroke-width="4.9"/>
<line x1="932.6" y1="2150.5" x2="932.6" y2="2122.5" stroke="#000" stroke-width="6.3"/>
<line x1="932.6" y1="1492.7" x2="932.6" y2="1520.7" stroke="#000" stroke-width="6.3"/>
<line x1="973.2" y1="2150.5" x2="973.2" y2="2134.2" stroke="#000" stroke-width="4.9"/>
<line x1="973.2" y1="1492.7" x2="973.2" y2="1509" stroke="#000" stroke-width="4.9"/>
<line x1="1013.9" y1="2150.5" x2="1013.9" y2="2134.2" stroke="#000" stroke-width="4.9"/>
<line x1="1013.9" y1="1492.7" x2="1013.9" y2="1509" stroke="#000" stroke-width="4.9"/>
<line x1="1054.6" y1="2150.5" x2="1054.6" y2="2134.2" stroke="#000" stroke-width="4.9"/>
<line x1="1054.6" y1="1492.7" x2="1054.6" y2="1509" stroke="#000" stroke-width="4.9"/>
<line x1="1095.2" y1="2150.5" x2="1095.2" y2="2134.2" stroke="#000" stroke-width="4.9"/>
<line x1="1095.2" y1="1492.7" x2="1095.2" y2="1509" stroke="#000" stroke-width="4.9"/>
<line x1="1135.9" y1="2150.5" x2="1135.9" y2="2122.5" stroke="#000" stroke-width="6.3"/>
<line x1="1135.9" y1="1492.7" x2="1135.9" y2="1520.7" stroke="#000" stroke-width="6.3"/>
<line x1="1176.6" y1="2150.5" x2="1176.6" y2="2134.2" stroke="#000" stroke-width="4.9"/>
<line x1="1176.6" y1="1492.7" x2="1176.6" y2="1509" stroke="#000" stroke-width="4.9"/>
<line x1="1217.2" y1="2150.5" x2="1217.2" y2="2134.2" stroke="#000" stroke-width="4.9"/>
<line x1="1217.2" y1="1492.7" x2="1217.2" y2="1509" stroke="#000" stroke-width="4.9"/>
<line x1="1257.9" y1="2150.5" x2="1257.9" y2="2134.2" stroke="#000" stroke-width="4.9"/>
<line x1="1257.9" y1="1492.7" x2="1257.9" y2="1509" stroke="#000" stroke-width="4.9"/>
<line x1="1298.5" y1="2150.5" x2="1298.5" y2="2134.2" stroke="#000" stroke-width="4.9"/>
<line x1="1298.5" y1="1492.7" x2="1298.5" y2="1509" stroke="#000" stroke-width="4.9"/>
<line x1="1339.2" y1="2150.5" x2="1339.2" y2="2122.5" stroke="#000" stroke-width="6.3"/>
<line x1="1339.2" y1="1492.7" x2="1339.2" y2="1520.7" stroke="#000" stroke-width="6.3"/>
<line x1="1379.9" y1="2150.5" x2="1379.9" y2="2134.2" stroke="#000" stroke-width="4.9"/>
<line x1="1379.9" y1="1492.7" x2="1379.9" y2="1509" stroke="#000" stroke-width="4.9"/>
<line x1="1420.5" y1="2150.5" x2="1420.5" y2="2134.2" stroke="#000" stroke-width="4.9"/>
<line x1="1420.5" y1="1492.7" x2="1420.5" y2="1509" stroke="#000" stroke-width="4.9"/>
<line x1="1461.2" y1="2150.5" x2="1461.2" y2="2134.2" stroke="#000" stroke-width="4.9"/>
<line x1="1461.2" y1="1492.7" x2="1461.2" y2="1509" stroke="#000" stroke-width="4.9"/>
<line x1="1501.9" y1="2150.5" x2="1501.9" y2="2134.2" stroke="#000" stroke-width="4.9"/>
<line x1="1501.9" y1="1492.7" x2="1501.9" y2="1509" stroke="#000" stroke-width="4.9"/>
<line x1="1542.5" y1="2150.5" x2="1542.5" y2="2122.5" stroke="#000" stroke-width="6.3"/>
<line x1="1542.5" y1="1492.7" x2="1542.5" y2="1520.7" stroke="#000" stroke-width="6.3"/>
<line x1="1583.2" y1="2150.5" x2="1583.2" y2="2134.2" stroke="#000" stroke-width="4.9"/>
<line x1="1583.2" y1="1492.7" x2="1583.2" y2="1509" stroke="#000" stroke-width="4.9"/>
<line x1="1623.8" y1="2150.5" x2="1623.8" y2="2134.2" stroke="#000" stroke-width="4.9"/>
<line x1="1623.8" y1="1492.7" x2="1623.8" y2="1509" stroke="#000" stroke-width="4.9"/>
<line x1="1664.5" y1="2150.5" x2="1664.5" y2="2134.2" stroke="#000" stroke-width="4.9"/>
<line x1="1664.5" y1="1492.7" x2="1664.5" y2="1509" stroke="#000" stroke-width="4.9"/>
<line x1="1705.2" y1="2150.5" x2="1705.2" y2="2134.2" stroke="#000" stroke-width="4.9"/>
<line x1="1705.2" y1="1492.7" x2="1705.2" y2="1509" stroke="#000" stroke-width="4.9"/>
<line x1="1745.8" y1="2150.5" x2="1745.8" y2="2122.5" stroke="#000" stroke-width="6.3"/>
<line x1="1745.8" y1="1492.7" x2="1745.8" y2="1520.7" stroke="#000" stroke-width="6.3"/>
<line x1="159.9" y1="2150.5" x2="187.9" y2="2150.5" stroke="#000" stroke-width="6.3"/>
<line x1="1786.4" y1="2150.5" x2="1758.4" y2="2150.5" stroke="#000" stroke-width="6.3"/>
<line x1="159.9" y1="2115.9" x2="176.2" y2="2115.9" stroke="#000" stroke-width="4.9"/>
<line x1="1786.4" y1="2115.9" x2="1770.1" y2="2115.9" stroke="#000" stroke-width="4.9"/>
<line x1="159.9" y1="2081.3" x2="176.2" y2="2081.3" stroke="#000" stroke-width="4.9"/>
<line x1="1786.4" y1="2081.3" x2="1770.1" y2="2081.3" stroke="#000" stroke-width="4.9"/>
<line x1="159.9" y1="2046.6" x2="176.2" y2="2046.6" stroke="#000" stroke-width="4.9"/>
<line x1="1786.4" y1="2046.6" x2="1770.1" y2="2046.6" stroke="#000" stroke-width="4.9"/>
<line x1="159.9" y1="2012" x2="176.2" y2="2012" stroke="#000" stroke-width="4.9"/>
<line x1="1786.4" y1="2012" x2="1770.1" y2="2012" stroke="#000" stroke-width="4.9"/>
<line x1="159.9" y1="1977.4" x2="187.9" y2="1977.4" stroke="#000" stroke-width="6.3"/>
<line x1="1786.4" y1="1977.4" x2="1758.4" y2="1977.4" stroke="#000" stroke-width="6.3"/>
<line x1="159.9" y1="1942.8" x2="176.2" y2="1942.8" stroke="#000" stroke-width="4.9"/>
<line x1="1786.4" y1="1942.8" x2="1770.1" y2="1942.8" stroke="#000" stroke-width="4.9"/>
<line x1="159.9" y1="1908.2" x2="176.2" y2="1908.2" stroke="#000" stroke-width="4.9"/>
<line x1="1786.4" y1="1908.2" x2="1770.1" y2="1908.2" stroke="#000" stroke-width="4.9"/>
<line x1="159.9" y1="1873.5" x2="176.2" y2="1873.5" stroke="#000" stroke-width="4.9"/>
<line x1="1786.4" y1="1873.5" x2="1770.1" y2="1873.5" stroke="#000" stroke-width="4.9"/>
<line x1="159.9" y1="1838.9" x2="176.2" y2="1838.9" stroke="#000" stroke-width="4.9"/>
<line x1="1786.4" y1="1838.9" x2="1770.1" y2="1838.9" stroke="#000" stroke-width="4.9"/>
<line x1="159.9" y1="1804.3" x2="187.9" y2="1804.3" stroke="#000" stroke-width="6.3"/>
<line x1="1786.4" y1="1804.3" x2="1758.4" y2="1804.3" stroke="#000" stroke-width="6.3"/>
<line x1="159.9" y1="1769.7" x2="176.2" y2="1769.7" stroke="#000" stroke-width="4.9"/>
<line x1="1786.4" y1="1769.7" x2="1770.1" y2="1769.7" stroke="#000" stroke-width="4.9"/>
<line x1="159.9" y1="1735" x2="176.2" y2="1735" stroke="#000" stroke-width="4.9"/>
<line x1="1786.4" y1="1735" x2="1770.1" y2="1735" stroke="#000" stroke-width="4.9"/>
<line x1="159.9" y1="1700.4" x2="176.2" y2="1700.4" stroke="#000" stroke-width="4.9"/>
<line x1="1786.4" y1="1700.4" x2="1770.1" y2="1700.4" stroke="#000" stroke-width="4.9"/>
<line x1="159.9" y1="1665.8" x2="176.2" y2="1665.8" stroke="#000" stroke-width="4.9"/>
<line x1="1786.4" y1="1665.8" x2="1770.1" y2="1665.8" stroke="#000" stroke-width="4.9"/>
<line x1="159.9" y1="1631.2" x2="187.9" y2="1631.2" stroke="#000" stroke-width="6.3"/>
<line x1="1786.4" y1="1631.2" x2="1758.4" y2="1631.2" stroke="#000" stroke-width="6.3"/>
<line x1="159.9" y1="1596.6" x2="176.2" y2="1596.6" stroke="#000" stroke-width="4.9"/>
<line x1="1786.4" y1="1596.6" x2="1770.1" y2="1596.6" stroke="#000" stroke-width="4.9"/>
<line x1="159.9" y1="1561.9" x2="176.2" y2="1561.9" stroke="#000" stroke-width="4.9"/>
<line x1="1786.4" y1="1561.9" x2="1770.1" y2="1561.9" stroke="#000" stroke-width="4.9"/>
<line x1="159.9" y1="1527.3" x2="176.2" y2="1527.3" stroke="#000" stroke-width="4.9"/>
<line x1="1786.4" y1="1527.3" x2="1770.1" y2="1527.3" stroke="#000" stroke-width="4.9"/>
<line x1="159.9" y1="1492.7" x2="176.2" y2="1492.7" stroke="#000" stroke-width="4.9"/>
<line x1="1786.4" y1="1492.7" x2="1770.1" y2="1492.7" stroke="#000" stroke-width="4.9"/>
<g clip-path="url(#clip2)" fill="none" stroke-linejoin="round">
<path d="M162.3 1944.5l1 9 1 4.5 1 13.1 .9 8.9 1 7.3 1 1.3 1 .5 .9-7 1-3.7 1-5.6 1-4.9 1-.9 .9-2.7 1 5 1 2.5 1-6.8 .9-3.9 1-4.4 1-9.9 1 .2 .9 2.4 1 2.2 1 3.4 1 2 .9 1.2 1-5.5 1-.3 1-.1 .9-3 1-4.9 1 1.3 1 1.7 .9-6.5 1 3 1 1.3 1-3.1 1 .9 .9 9 1 10.9 1 .8 1 3.3 .9 3.2 1 .6 1 1.4 1 1.5 .9 2.7 1-1.2 1-4 1 .5 .9-1.6 1-8.5 1-5.6 1 1 .9-.1 1-1.3 1 1.4 1 .1 .9-1.7 1 .2 1 .5 1 3.4 .9-5.9 1-2.3 1 2.5 1-1.6 1 0 .9 1.5 1-4.8 1-6.5 1 1.7 .9 1.3 1-.5 1 5.8 1 2.9 .9-2.2 1 4.8 1 1.5 1-2.6 .9 1.6 1 4 1 7.9 1-2.2 .9-.8 1 1.1 1-.3 1 2.6 .9 .1 1-2.5 1-7.8 1-.2 .9-.2 1-2.6 1-3.4 1-4.2 1-4 .9-1.6 1-2.3 1-13.8 1-12.8 .9-10.7 1-5.1 1-1.4 1-4.9 .9 6.4 1 5 1 5.9 1 5 .9 3.5 1 10.3 1 9.2 1 6.5 .9 6 1 6.4 1 5 1 8.2 .9 4.3 1 1.5 1-1.2 1 .3 .9-4.6 1-5.3 1-3.9 1-7.3 1-7.3 .9-1.6 1-4.2 1 5.1 1 8.4 .9 1.7 1 2.2 1 1.5 1 1.5 .9 .5 1 4.9 1-3.8 1-1.6 .9 5.1 1 3.5 1-.4 1-1.5 .9-1.6 1-2.1 1 1.1 1-4.7 .9-10.9 1-2.5 1 5.3 1 1.6 1 1.8 .9 1.8 1-.3 1 6.8 1 5.4 .9 3 1 6.6 1 .6 1-9.9 .9-1 1-.4 1-9.1 1-5.4 .9-3.4 1-5.6 1 1.4 1 .6 .9 4.5 1 6.4 1 5 1 1.5 .9 4.2 1 7.4 1 3.2 1-8.2 .9-4.4 1 1.8 1-3.4 1 2.5 1 5.4 .9-2.2 1-4.4 1-3.7 1-.6 .9 2.3 1 .8 1 2.6 1-.3 .9 .8 1-1.1 1 1.2 1-.4 .9-.6 1 .7 1-.1 1-2.8 .9-3.8 1-3.3 1 1.3 1 5.4 .9-.2 1-.2 1-.6 1 2.8 .9 2.2 1 1.4 1-.5 1-1.2 1 .5 .9 1.3 1-.8 1 .5 1 1.2 .9 3 1 .1 1 2.2 1 2.6 .9-.3 1-2.9 1 1.8 1 4.9 .9 3.3 1 0 1-.3 1-3.4 .9-.5 1-2.5 1-6.3 1-6.3 .9-.5 1-1.8 1 1.6 1-1.7 1-6 .9-1.1 1-2.7 1 .6 1-1.1 .9-1.7 1 3.2 1 2.2 1-2.1 .9 7.8 1 8.5 1 2.8 1 .7 .9 1.4 1-1.4 1-1.4 1 1.8 .9 1 1 2.1 1 1.5 1-1.1 .9-3.7 1-1.1 1-1.4 1-1.7 .9 1.7 1-2.6 1 3 1 3.4 1-.2 .9-4.1 1-.2 1 1.4 1-2.7 .9-4.5 1-.4 1-.4 1-3.6 .9 .7 1 2.2 1 5 1 1.2 .9 0 1 5 1-7.8 1-5.6 .9-2.6 1-5.4 1 .2 1 2.8 .9-1.3 1 1 1 2.1 1 4.6 .9 4.6 1 2.5 1 2 1 2.5 1-2.2 .9-1.5 1-1.8 1-.9 1-1.3 .9-3.5 1-.2 1-1 1 3.9 .9 1.3 1 .3 1 3.6 1-1.5 .9-1 1 4.1 1-3.4 1-4.1 .9 2.3 1-3.1 1 .1 1 3.7 .9-1.7 1 .6 1 3.5 1 3.3 1-3.3 .9-1.7 1-2.5 1-1.9 1 1 .9 0 1-4.9 1-1 1 3.1 .9 4.4 1 3.5 1 .7 1-3.4 .9 1 1 3.5 1 3.1 1-.9 .9 1 1-.2 1-2 1-1.4 .9 .2 1 .7 1-2.5 1-5.9 .9-1 1 4.4 1-3.9 1-1.1 1-5.6 .9 3 1 2 1-4.9 1-5.9 .9-8.3 1-9.1 1-9.9 1-14.6 .9-8.9 1-4.4 1 4 1 9.4 .9 12.4 1 14.3 1 8.8 1 8.2 .9 7.8 1 4.3 1 5.2 1 5.1 .9 4.5 1 7 1 2.6 1-1.4 .9 1.7 1 3 1-2 1-.3 1-.6 .9-4.6 1-.8 1-3.7 1-1.8 .9-.8 1-1.6 1 4.9 1 .5 .9 1.3 1 .2 1-2.1 1-3.5 .9 1.2 1 .2 1 4.1 1 2.8 .9-.7 1-1.7 1 .5 1 .1 .9-1.9 1-.2 1-5 1-3.1 1 0 .9 1.9 1 3.1 1 1.8 1-3.1 .9 1 1 1 1-4.7 1-2.7 .9 2 1 2.4 1 2.1 1-.2 .9 3.9 1-.4 1-3.2 1-4.1 .9 .5 1-.6 1-.7 1-.4 .9 1.1 1 .6 1-.3 1 3.6 .9 2.7 1 .9 1 .5 1 1.2 1 5.8 .9 1.1 1 2.5 1-.1 1 1.1 .9-.3 1-2.8 1-3.4 1 .1 .9-1.3 1 .6 1 1.9 1 1.4 .9-.8 1-.6 1-2.6 1-3.2 .9 2.7 1-3.4 1-1.1 1 1.7 .9 .2 1-.8 1-2.3 1-1.8 .9 .7 1-2.1 1-1.6 1 1 1-.6 .9-3.7 1-2.2 1-2 1-.6 .9-2.6 1-4.3 1-3 1-.3 .9-12.9 1-9 1-9.6 1-12 .9-17.3 1-16.7 1-8.4 1-2.5 .9 3 1 7.4 1 15.1 1 12.1 .9 12.4 1 13.5 1 12.3 1 16.9 .9 3.9 1 7.3 1 5.3 1 3.9 1 2.4 .9 0 1-.3 1-5.4 1-5.4 .9 .8 1 1.3 1-3.8 1-.3 .9 .9 1 1.6 1-1.2 1 1.7 .9 4.3 1 0 1 3.3 1-2.2 .9-3.6 1-2.1 1-2.3 1-.8 .9-1.7 1 1.7 1-.7 1-.7 1 2.6 .9 1.9 1 3.3 1 2.9 1 3.2 .9 1.6 1 3.7 1 3 1-1.9 .9 2.9 1 3.5 1 .4 1 4.2 .9 0 1-.8 1 1.1 1-.4 .9 .2 1-2.1 1 0 1-4 .9-4.2 1-6.2 1-2.7 1 2.6 .9 .2 1 1.9 1-1.9 1-.3 1 4 .9-2.2 1-5.7 1-1.4 1 1.3 .9-2 1-1.8 1-2.3 1-1.2 .9 .2 1 1.2 1-2.7 1-3.1 .9-1.6 1-5.4 1-2.3 1-3.9 .9-1.6 1 1.6 1 2.1 1 4.6 .9 3.1 1 3.3 1 6.3 1 1.7 .9 2.6 1 .3 1 0 1 3.1 1-2.8 .9 1.5 1 .6 1 1.8 1 2.4 .9-4.5 1 .3 1 2.3 1-3.6 .9-.5 1-2 1-6 1 1 .9 .2 1-1.7 1-.1 1 .5 .9-2.7 1 1.4 1 1.1 1 .2 .9 2.1 1-3.7 1-3.4 1-2.8 1-2 .9-2.9 1 4.8 1 3 1 .5 .9 2.6 1 0 1 1.6 1 1.9 .9 3.9 1 1.6 1-1.3 1 .6 .9-1.3 1-2.6 1-2.2 1 .9 .9-4.7 1 .8 1 .8 1-.3 .9 .4 1 3.4 1 2.1 1-2.4 .9-1.5 1 6.1 1 4.7 1-1.8 1-1.2 .9 .6 1-.4 1 2.8 1-5.1 .9-1.2 1 .4 1 2.3 1 7.1 .9 .2 1-2 1-4.9 1-3.9 .9-4.1 1-.7 1-1.9 1-3 .9 .3 1-.4 1-1.7 1-.8 .9 5.1 1 2.7 1 4.4 1 2.7 .9-1 1-3.2 1 .6 1-3.1 1-2.1 .9-2.9 1-1.7 1 1.1 1 2 .9-.3 1 .1 1-.3 1 .5 .9-1.2 1-1.9 1-3.4 1-5.2 .9-.4 1-1.5 1-3 1 3.2 .9 6.6 1 4.7 1 2.1 1-.4 .9 3.8 1-2.7 1 .8 1-6.5 1-4.1 .9 4.6 1 1.8 1 4.9 1 6.2 .9-1.4 1 .2 1-2.3 1 1.2 .9 2.9 1-.9 1-2.8 1-2.2 .9-.8 1 3.2 1 .1 1-2.4 .9 1.4 1-.9 1 1.7 1 2.4 .9 2.2 1 1.5 1 3.2 1-4.5 .9 1.4 1 3.3 1 2.4 1-1.7 1 .1 .9-3.1 1-4.5 1 1.1 1 5.7 .9 1.3 1 2.4 1 .6 1-1 .9-.2 1-2.7 1 .4 1 2.4 .9-1.8 1 3.4 1 4 1 .3 .9 2.7 1 3.7 1-.7 1 .7 .9-1.8 1-.7 1-.3 1-2.9 .9 3.8 1 2.8 1-3.4 1-5.7 1-1.1 .9 0 1-4.4 1-2.4 1-1.9 .9 2.9 1 2.2 1 2.8 1 3.9 .9-.2 1 .7 1 4.6 1 1.9 .9-2.5 1 .3 1 .1 1-3.6 .9-3.2 1-.4 1-3.2 1-5.4 .9-3.9 1 .9 1 2 1 2.4 1 4.7 .9-1.2 1 .1 1 .8 1 6.4 .9 1.4 1-5.7 1 6.4 1 12.8 .9 2.3 1-5.7 1-1 1 .8 .9-8.9 1-8.9 1-6.4 1-5 .9 3 1 2.9 1 2.6 1-1 .9 1.2 1 2.8 1-5.1 1-1.4 .9-7.3 1 1.6 1 3.9 1 .8 1-2.4 .9-.4 1 1.4 1 2.2 1 4.2 .9-.3 1 2.4 1 4.2 1-4.2 .9-3 1 1.6 1 1.3 1-1 .9 .9 1 3.9 1-2.6 1 3.8 .9 .2 1-.6 1 3.2 1 2.1 .9 4.3 1 .6 1-6 1-2.2 .9-5.7 1-7.4 1 2.3 1 5 1 2.8 .9 10.4 1 5.7 1 1.1 1 5.8 .9-2.4 1-6.1 1-2.9 1 4.2 .9-.2 1 4.1 1 5.5 1 .1 .9 2.2 1 1 1-4 1-3.6 .9-10.5 1-7.9 1 6.3 1-2.3 .9-.4 1 2.9 1-.8 1-4.5 .9-5.5 1-4.7 1-8.5 1-7 1 .5 .9-2.1 1 1.9 1 3 1-.6 .9-4.4 1 4.6 1-2.8 1-7.9 .9-5.6 1-9.4 1-6.8 1-7.4 .9-6.8 1-1.7 1-6.8 1 5 .9 3.2 1-.4 1 3.6 1 1.5 .9 .1 1-2.8 1 1.3 1 6 1-1.5 .9-1.3 1 6.9 1 4.7 1-11.3 .9-3.5 1 3.8 1-6.7 1-7.1 .9 3 1-7.3 1-7.2 1-2.7 .9-2.3 1-.3 1 8.7 1 8.3 .9 8.5 1 7.4 1 4.9 1 4.1 .9 4.9 1 6.2 1 0 1 5.3 .9 1.9 1 .8 1 .7 1 7.8 1 1.8 .9-.7 1 .2 1-4.4 1 .5 .9 1.7 1 .5 1 .7 1 3.8 .9-.4 1 4.6 1-.2 1 .1 .9 2 1 .7 1 3.1 1-.7 .9-1.7 1 1.2 1 1.8 1 .8 .9-3.9 1-.6 1-3.2 1-7.7 .9-6.8 1-2 1-3.3 1 1.9 1 4.1 .9 8.1 1 3.5 1-.6 1 5.3 .9 7 1-5.7 1-2 1-2.4 .9-6.8 1-3.6 1-2.9 1 2.5 .9 3.3 1 4.5 1 5.4 1 .4 .9 4.7 1 5.4 1-4.6 1-8.7 .9-3.8 1 1.6 1-10.1 1-1 1 1.3 .9-2.6 1 1.4 1 4.1 1 5.9 .9 .5 1 3.2 1 2.6 1 .2 .9 3.7 1 6.2 1 0 1-4.6 .9-2.7 1 2.4 1-1 1-2.4 .9-3 1-2.2 1-1.5 1-1.5 .9-3.6 1-3.9 1-1.4 1-2.1 .9-6.7 1-1.8 1 1.8 1-3.1 1 1.1 .9 4.3 1-1.2 1 2.3 1 2.7 .9 2.5 1 6 1-1.3 1-.4 .9-.8 1-3.1 1-2.1 1-.1 .9-4.8 1-4.3 1-3.9 1 2 .9-.3 1-.2 1 2.1 1 1.2 .9 1.1 1 3.5 1 2.2 1 1.7 .9 .5 1-1.1 1-3.5 1-1.4 1 .7 .9-.2 1 2.4 1-2.8 1-4.7 .9 1.8 1-.8 1 .2 1 2.6 .9-.7 1-3 1 3 1 2.7 .9 2.4 1-.2 1 .9 1-3.8 .9-1.5 1-2.9 1-4 1-.4 .9-4.9 1 4 1 6.6 1 5.3 1 3.5 .9 1.3 1-7.7 1-6.4 1-5.6 .9-7.3 1-4.4 1 1.9 1 6.3 .9 6.9 1 5 1 1.9 1 3.2 .9 8 1 3.9 1-.2 1-.2 .9-1.1 1-2.5 1-5 1-.2 .9-3.8 1-3.2 1 2.8 1 1 .9-1.7 1 1 1 .7 1 0 1-3.4 .9-1 1-.5 1 .9 1-3.3 .9-.5 1 1.8 1 4.7 1-3.4 .9 .7 1 6.5 1 .8 1 2.8 .9 1.7 1-1.3 1-3.8 1-2.2 .9-.9 1 3.3 1 6.7 1 2.3 .9 2.6 1 2.8 1 .6 1-1 .9 1.1 1-2.4 1-1.3 1-5 1-3.8 .9 .6 1-.4 1 .7 1-1.1 .9-4 1-2.9 1-6.4 1 .7 .9-.1 1-3.2 1 1.1 1 2.7 .9 2 1 1.3 1-.7 1 2.8 .9 1.2 1-2.6 1 2.8 1-.5 .9-2.4 1-2.3 1 5.2 1 .5 .9 1.1 1-5.4 1-5 1-.9 1-1.7 .9 1 1 0 1-.2 1-.1 .9 7.2 1 11.3 1-.9 1 1 .9 1.6 1-.2 1-3.1 1 1.6 .9 .6 1 2.1 1 4.9 1-2.2 .9-3.9 1-.1 1 0 1-10.6 .9-5.7 1 3.1 1 .9 1-2 1-1.8 .9 2 1 .3 1-5 1-3.3 .9 1.9 1 2.7 1 3.8 1 1.7 .9 .6 1 4 1 3.6 1 3 .9 4.4 1-.4 1 2.2 1-3.1 .9-9.7 1 .6 1-1.9 1-6 .9-1.6 1 .6 1 .4 1-1.5 .9-.9 1 1.7 1 .2 1-.9 1-4.7 .9-2.9 1-2.8 1-.2 1-2.1 .9 1.6 1 3.9 1-2.2 1 1.7 .9 3.3 1-.2 1 1.8 1-.8 .9-.4 1-3 1-.9 1-.1 .9-.7 1-.5 1 4 1-.5 .9-1.4 1 0 1-2.6 1-4.2 .9-2.6 1-3.8 1 3.9 1 2.7 1-2 .9 5.3 1 5.5 1 2.3 1 3.8 .9 3 1 3.1 1 5.2 1 5.3 .9 1.4 1 2.9 1 .7 1-4.8 .9-2.9 1-.5 1-1 1-2.9 .9-1.1 1-4.3 1-3.6 1-.2 .9-.3 1 .8 1-1.5 1-1.8 1-1.2 .9-1.3 1-1 1-4.4 1-2.9 .9 1.9 1-.7 1-2.6 1-3.1 .9 1.3 1-1.6 1-4.9 1-4.8 .9-.2 1 2.4 1 8.2 1 4.1 .9 6.5 1 5.5 1 1.6 1-7.2 .9-6.6 1-7.1 1-6.1 1-3.9 .9-3.7 1-.5 1 2.6 1 2.7 1-6.9 .9-2.3 1-3.4 1-7.9 1-.9 .9-.8 1-2.5 1 1.5 1-1.9 .9 .6 1-1.6 1 .9 1-4 .9 .4 1 3.9 1-.2 1-2.1 .9-7.6 1 3.6 1 1.7 1-4.4 .9-5.9 1-3.2 1-6.5 1-1 .9-.7 1-3.9 1-1.8 1-4.4 1-2.4 .9-1 1-6.3 1-6.5 1-2.9 .9 1.1 1-2.8 1-2 1 3.3 .9 2.7 1 4.4 1 7.1 1 5.7 .9 5.9 1 8 1 7.7 1 8.1 .9-5.3 1-7.8 1-.1 1-.8 .9 3.7 1 4.9 1 9.5 1 7.6 1 10 .9 11 1 8.5 1 4.2 1 1.6 .9-2 1 1.8 1 .5 1-2.2 .9-.3 1-5.4 1-5.1 1-.8 .9-1.9 1-6.9 1 1.6 1 5.6 .9 4.9 1 2.1 1 4 1-4.3 .9-5.8 1-2.2 1-3.1 1-3.5 .9 3.7 1 7.6 1 4.4 1 4.2 1 2.8 .9 1.9 1 4.7 1 .8 1-3.8 .9-2.8 1 1.3 1-1.3 1-.6 .9-.6 1 .3 1-1.6 1-2.7 .9-.3 1 .5 1 .7 1 2 .9 3.2 1-1.6 1-1.5 1-4.2 .9-2 1 .5 1 1.1 1-1.5 .9-6 1-3.7 1-5.9 1-15.9 1-19.2 .9-20.5 1-29 1-21.8 1-23.3 .9-27 1-21.8 1-17.1 1 5.7 .9 18.7 1 35.6 1 27.7 1 36.4 .9 24.3 1 23 1 14 1 6.1 .9 8.9 1 6.2 1 4.8 1 3.7 .9 9 1 3.2 1 2.6 1 2.1 1 8.4 .9 9.8 1-.9 1-6.5 1-5.2 .9-7.3 1-13.9 1-15.9 1-13.2 .9-13.3 1-17 1-30.3 1-37.3 .9-53.6 1-66.2 1-63.2 1-66.7 .9-71.4 1-35.2 1 0 1 0 .9 0 1 0 1 0 1 0 .9 0 1 0 1 60.4 1 59.2 1 74.2 .9 82.9 1 60.8 1 59.5 1 72.9 .9 19.9 1 8.2 1 2.4 1 5.7 .9 5.2 1 7.4 1 4.4 1 .3 .9 1.1 1-.7 1-.2 1 2.6 .9-1.6 1-5.2 1 1.1 1 .4 .9 1.5 1 3.3 1 .1 1 4.8 .9 5 1 3.2 1 3.4 1-2.5 1 1.2 .9-2.9 1-3.5 1 .6 1 1.5 .9-2.2 1-.7 1-.1 1 2 .9 3.6 1 3.5 1-.1 1-.4 .9 .1 1-3.6 1 .2 1-.7 .9-3.8 1 0 1 3.3 1 .7 .9-2.2 1 5.3 1 2.9 1-3.4 .9-2.3 1-4.6 1 .9 1-2 1 3.9 .9 6.4 1 6.2 1-3.6 1-6.2 .9-4.9 1-5.3 1-4.8 1-2.6 .9-6.2 1-4 1-1.4 1 5.3 .9 1.7 1 1.5 1-3.1 1 .8 .9 1.4 1-4 1-1.2 1 2 .9 2.2 1 .2 1 1.7 1 2.1 1 1.8 .9-2.1 1-2.5 1 1.1 1 1.6 .9 6.9 1 4.9 1 3.2 1 4.7 .9 2.5 1 5.9 1 5.4 1 .4 .9 2.5 1 .9 1-2.2 1-2.8 .9-3.9 1-7.2 1-4.6 1-2.6 .9-1.9 1 1 1 4.9 1 2 .9-.8 1 4.3 1 2.7 1-.8 1-3.6 .9-2.1 1-.6 1-1.9 1-7.2 .9-2.3 1-.9 1-3.4 1 .4 .9 4.7 1 2.9 1 .6 1 4.4 .9 8.6 1 4 1 3.9 1-.1 .9-1.4 1-6.7 1-1.9 1-2.6 .9-1.2 1-1.2 1 4 1 1.5 .9 2 1 3.4 1-.3 1-6.1 1-5.1 .9-4.1 1-3.7 1-3.2 1-2.6 .9-5.3 1-6.8 1-2.9 1-2.1 .9-2.9 1-.8 1 .8 1 1.1 .9-.1 1 4.3 1 6 1 5.3 .9 4.2 1 3.1 1 6.5 1 2.1 .9-7.2 1-2.7 1-3.7 1-3.2 1-2.3 .9-1.3 1-3.5 1-1.9 1 10.1 .9 4 1 2.6 1-2.6 1-6.2 .9-3.1 1-4.5 1 .4 1-.1 .9 3.2 1 3.2 1-1.4 1 4.6 .9 4.8 1-1.3 1-6.4 1-8 .9-.7 1-.9 1 2.3 1 5.9 .9 7.4 1 6.5 1 7.6 1 2.9 1-2.6 .9-9.6 1-4.3 1-5.2 1-6.4 .9-.1 1 3.2 1 5.2 1-5.3 .9-4.8 1 1.5 1 1.7 1-.5 .9 4.8 1 .8 1 2.7 1 9.2 .9 5.2 1-2.1 1 3.3 1-.2 .9-1.1 1 2.4 1-3.7 1-4.1 .9 2.9 1-1.9 1-8.4 1-1.8 1-7.2 .9-7.5 1-4.3 1-5.3 1 4 .9 5.3 1 2.3 1 6.2 1 7.4 .9-2.2 1 2.6 1 7.2 1-.3 .9-.1 1 1.9" stroke="#d80b54" stroke-width="4.7"/>
<path d="M162.3 1730.8l1-.1 1 .5 1 1.8 .9-.5 1 2.1 1 3.1 1-.6 .9 3.1 1 4.3 1 2.2 1-.3 1-1.5 .9-.4 1 0 1-1.9 1-1.1 .9 .8 1-.8 1 .1 1 1.9 .9-1.2 1-.3 1 .4 1-3.2 .9-.5 1 2.1 1 .9 1-2.9 .9 2.3 1 2.4 1 1.4 1 2.1 .9 1.4 1 2.6 1 2 1 .8 1 1.1 .9-.4 1-.9 1 2.8 1-.4 .9 .7 1 .7 1-.6 1-.5 .9 .7 1 3.6 1-3.5 1-.6 .9 2 1-1.1 1 1.2 1 2.6 .9-1.5 1-.8 1 2.4 1-.7 .9-.5 1 1.3 1-3.9 1 .1 .9 4.2 1 .1 1 .3 1-.2 1 3.2 .9-.7 1-1 1 .9 1 .8 .9-.4 1 .8 1 1 1 1.5 .9-2.1 1-1.6 1-.8 1-1.2 .9-2.6 1 2.2 1-2.9 1 0 .9-2.5 1-1.2 1 .3 1 4.5 .9 .7 1-.7 1 2.7 1-3.6 .9-2.7 1-1 1-.1 1-1 1-.6 .9-1.4 1 .6 1-3.3 1 3.1 .9 3 1-.1 1 1.6 1-.9 .9 1 1 5.1 1 1.9 1-.2 .9 4.5 1 .3 1-.2 1-2.7 .9 1.2 1 3.6 1 1.8 1-2.2 .9 2.3 1-1 1 4.1 1 2.3 .9 .3 1 1.8 1 .9 1-2.3 1 .4 .9 1.3 1-3.9 1-2 1 3 .9 .6 1 3.3 1-2.8 1 .2 .9 .5 1-4.5 1 2.3 1 .6 .9 .3 1 1.6 1 .1 1-1.8 .9 1.6 1 1.3 1-1 1 1.5 .9 2.9 1-2.6 1-.1 1-.4 1 2.6 .9-1.6 1 2.2 1 3.1 1-1.1 .9-.6 1-.4 1 1.1 1-1.1 .9-3.1 1 .8 1 2 1 .7 .9-.8 1 1.4 1 3.9 1 3.7 .9 .2 1-1.1 1 2.5 1-.5 .9 .9 1 1.7 1 2.5 1-.8 .9 1.5 1 4.3 1-1 1 .9 1-.1 .9 1.1 1 3 1 .8 1 1.6 .9 2.3 1 .4 1-.5 1 1.1 .9 1.3 1 1.2 1-.6 1 .8 .9 .9 1 1.9 1-.8 1 4.5 .9 1.6 1-2.2 1 .3 1 5.9 .9 4.4 1-.1 1-1.9 1-.4 .9 3.9 1 0 1-2.9 1 .5 1 2 .9 .4 1 .8 1-2.7 1 .3 .9 1.1 1-.7 1-2.2 1-.9 .9-.5 1-1 1-.2 1-.5 .9 .1 1-1.2 1 .9 1 .5 .9-.1 1 2.1 1-1.2 1 1.6 .9 3.4 1-3.4 1-1.8 1 1.6 1-1.7 .9-.3 1 1.3 1 3.7 1 .6 .9 .4 1-.1 1-.9 1-.2 .9-1.5 1 .9 1-.6 1-.3 .9 2.5 1 1.2 1 .4 1-.1 .9 2.1 1-1.2 1 .6 1 .2 .9 3 1 1.5 1-3.2 1 0 .9-.4 1-1.9 1 2.5 1-.8 1-3.2 .9 .6 1 2.1 1 .2 1 .9 .9-.1 1-.8 1 2.3 1 1.7 .9 1.4 1 1.2 1 1 1 4 .9-.1 1 .1 1 3.9 1 1.3 .9 2 1 .3 1-1.7 1 1.5 .9 .6 1-.1 1 .2 1 .5 .9 .9 1-1.4 1 .6 1 2.4 1-1 .9 1.7 1 .6 1 3.2 1-.5 .9 2 1 3.3 1-.2 1 2.6 .9 2.2 1-.9 1 .9 1 .4 .9 .6 1 1 1 1.1 1 .3 .9 1.5 1-.2 1-.3 1 4.3 .9 1.4 1-6.9 1-2.1 1-1.2 1-.8 .9-1 1-3.6 1 1.8 1 .9 .9-.7 1 1.2 1 .6 1 1.5 .9 1.8 1 3.7 1 6.2 1 3.5 .9-2.3 1 .7 1-1.2 1-.3 .9 .1 1-4.5 1 1.9 1 1.6 .9-2.9 1-.3 1 4 1 .2 .9-1.6 1 .3 1-1.9 1-4.6 1-3.5 .9 3.9 1 .1 1-1.8 1 1 .9 1 1-1.2 1-2.3 1 .7 .9-2.1 1-2 1-.7 1-1.1 .9 2.1 1 .7 1-1.9 1-1.3 .9 .1 1 4.6 1 4.4 1 4.4 .9 .5 1 .3 1 .1 1-.8 .9-2.3 1-1.6 1 .7 1 1.8 1-.9 .9-.9 1 .4 1 1.8 1 .5 .9 1.7 1-.4 1-.8 1 1.8 .9 2 1-1.7 1 1.5 1-1.5 .9-1 1 1 1 2.9 1 3.1 .9 3 1 2.2 1 3.1 1 3 .9 1 1-.4 1 1.8 1-1.7 1 1.1 .9 1.5 1 2.6 1 2.4 1 .6 .9 .1 1-1.8 1-.7 1-1.9 .9-.5 1 5.1 1 2.8 1 3.8 .9 6 1 2.6 1 1.1 1 2.4 .9 3 1 .8 1 .9 1-.3 .9 .9 1 0 1-.3 1-1.1 .9 1.9 1 1.7 1-5.5 1-2.1 1 1.3 .9-1.2 1 1.6 1 1.6 1-.5 .9 1.8 1 1.5 1 .5 1 1.3 .9 1.4 1-.1 1-1.4 1-1.2 .9 2.2 1-1 1 2.3 1 1.3 .9-2.5 1-.2 1 .1 1 4.4 .9-2.7 1-1.2 1-.2 1-2.6 .9-3.3 1 1.2 1 2.4 1-1.2 1-1.8 .9-1.8 1 .4 1 1.8 1 .3 .9-.6 1-2.6 1 2.2 1 .4 .9-.7 1-2.7 1-.4 1 1.6 .9-1.5 1-2.9 1 .1 1 4 .9 .8 1-2.2 1 3.3 1 1.9 .9-1.1 1-1.4 1 1.5 1 .2 .9 .2 1 .2 1 2.3 1 3 1 1 .9-2.8 1-2.9 1-.9 1 2.1 .9 .9 1-2.5 1-.9 1 1.5 .9 .3 1 .7 1 .4 1-.5 .9 .6 1 .6 1-.7 1 .2 .9 .6 1-.9 1-3.1 1-.1 .9-1.3 1-3 1-1.7 1 6 1 .8 .9-1.8 1 2.5 1 2.7 1 2.5 .9-.5 1-1.8 1 1.7 1 .5 .9 2 1 1.8 1 3.5 1 2.2 .9-.8 1-.2 1-.7 1-3.9 .9-2.7 1 2 1 .9 1 3.1 .9 2.7 1 4.9 1-2.4 1-8.7 .9-4.5 1-5 1-2.4 1-3.6 1-1.3 .9 4.4 1 .1 1 6.8 1 8.1 .9 2.7 1-.3 1 1.2 1 .7 .9-6.2 1-6.2 1-.2 1 2.5 .9-2.8 1 1 1 5 1-1.4 .9-.2 1 .8 1-1.9 1 1.5 .9 1.3 1-.1 1 1.3 1 1.4 .9 3.2 1 3.8 1 6.4 1-.3 1-2.2 .9 2.2 1-.1 1-1.3 1-3.2 .9 1.7 1-2 1 1.5 1 3.4 .9 2.5 1-.6 1-1 1 2.4 .9 .8 1-.5 1-1.3 1-.4 .9-.8 1 2.8 1-3.6 1 .8 .9 3.5 1 1.5 1-.6 1-.2 1-1.2 .9 1.7 1 5 1 2.9 1 1.8 .9 2.2 1 1.5 1 2.2 1-.2 .9 .4 1 .9 1 1.5 1 3.2 .9-.1 1 1.2 1-2.8 1-1.1 .9 3.5 1 3 1 .9 1 .8 .9-.1 1 2.7 1 2.1 1 .3 .9-.2 1-2.6 1-1.1 1-3.7 1-.7 .9 .6 1 0 1-.1 1-2.4 .9 1.6 1 .8 1 .2 1-3 .9 0 1 1.6 1 .7 1 3.8 .9-1 1-.5 1 .7 1 .7 .9 .9 1 .9 1 1.9 1 1.2 .9-.7 1 2.4 1-2.5 1-2.5 .9 2.1 1-1 1-1.2 1 1.2 1-1.6 .9 1.1 1 2.3 1 2.3 1-5 .9-1.3 1 0 1-.7 1-3.9 .9-.1 1-1.9 1-1.9 1-.8 .9 .1 1-1.2 1 .6 1 2.8 .9 2.6 1-1.7 1 4.3 1 .6 .9-2.9 1 7.2 1 1.8 1-3.6 1-.3 .9 .7 1-2.5 1-4.8 1 .1 .9 .3 1 2.4 1 2.5 1 2.3 .9-.2 1 5.3 1 6.3 1-2.4 .9 .1 1 1.2 1 1.4 1 1 .9 1.7 1 1.3 1 1.8 1 3 .9-.9 1-.6 1 2.5 1-1 .9-3 1-.3 1 .5 1-1.5 1 .3 .9 .3 1-2.3 1-.8 1 .9 .9-.5 1-.5 1-.6 1-.1 .9 2.1 1 1.8 1 2.3 1-.4 .9-.7 1-1.8 1-1.4 1 .3 .9 1 1 .5 1 .8 1 1.5 .9 5.2 1 5.7 1-1.9 1 1.1 .9-.5 1-1.7 1-1.7 1 1.5 1 .7 .9 0 1-1.3 1 .9 1-1.3 .9-1 1-1.2 1 1.5 1 1.2 .9 .7 1 1.3 1 4.2 1 3.4 .9 2.1 1-.4 1-1.6 1 1.3 .9-.4 1-.7 1 .4 1 1.6 .9 1.5 1 .7 1-1.1 1-1 1 1.3 .9-2.3 1-1.8 1-5.8 1-4.7 .9 1 1-.1 1 .2 1 2.9 .9 .3 1 2.7 1 1.2 1 .8 .9-2.3 1 2.1 1-1 1-.5 .9-.7 1-.2 1-2.1 1 1.2 .9 1.3 1-.2 1 1.1 1 1.2 .9-2.6 1 2 1 2.8 1-1.8 1 1.1 .9 .3 1 3.5 1 .9 1-3 .9-1.4 1-1.5 1-2.4 1 .3 .9 .1 1 .3 1 2.5 1 .1 .9-1.9 1 2.4 1-.1 1-1.3 .9-1.4 1 3.2 1-4.2 1 .6 .9-.8 1-4.7 1 4.5 1-.7 .9 1.2 1 .5 1 .6 1 3.3 1 3.4 .9 .1 1-1.3 1-1.5 1-4 .9 .6 1-1.5 1-1.3 1 0 .9 1 1 .7 1-2.8 1 .5 .9 .1 1-1.6 1-2.1 1-3.1 .9-1.2 1 1.3 1 .8 1-.1 .9 1.4 1 .9 1 2.2 1-1.6 .9-1.2 1-1.3 1-4.1 1-.6 1-.5 .9-1.2 1 .8 1-.6 1-.8 .9-2.5 1-3.6 1-3.2 1-2.2 .9-.2 1 .4 1-2.3 1-2.5 .9 1.5 1-2.3 1-.3 1-.5 .9-1.5 1 0 1-1.7 1-2.6 .9-.3 1-2.1 1-1.9 1-.1 1 2.9 .9 .7 1 .2 1 .1 1-.5 .9 1.9 1 .9 1-.9 1 1.7 .9 .8 1 1.5 1 3.7 1 .5 .9 0 1 2 1-1.1 1 3 .9 4.7 1-1.3 1-1.4 1-1.4 .9-3.7 1 1.8 1 1.1 1 1.8 .9 1.7 1 .3 1-.4 1 .5 1 .1 .9 .1 1 .6 1-.8 1-3.2 .9 .4 1-2.1 1-2.4 1 3.8 .9 .4 1-.6 1 4.9 1-1.7 .9-1.8 1 2.8 1-1.6 1 3.6 .9-.6 1 0 1 3.5 1 .4 .9 2.3 1-.6 1-.6 1 .1 .9 .4 1 3.9 1 1.3 1 1.6 1 3.9 .9-3.4 1-3.2 1 .6 1-1.8 .9 .7 1 3.2 1 .5 1-.2 .9 .1 1 1.5 1 .4 1-2.5 .9-4.8 1-1.6 1 2.8 1 3.4 .9 2.1 1 .5 1 1.4 1 5.7 .9 2.1 1 .5 1 2.8 1 4.6 1 .5 .9 1.5 1 1.7 1-2.6 1 1.4 .9 1 1-1.3 1-1.1 1 1.5 .9 3 1 1.6 1 2 1 .7 .9-.1 1 2 1 .4 1 .3 .9-1.5 1-2.4 1-.8 1 .5 .9 1.7 1-.6 1 .8 1-1.8 .9 1.1 1 .1 1-4 1-.3 1 2.9 .9 0 1 .5 1 .3 1-.2 .9 .8 1-.6 1-1.4 1 2.4 .9 2 1 .4 1 .1 1-.9 .9 .7 1 1 1 .1 1-2.2 .9-1.1 1-1.1 1 .1 1 1.9 .9-2.5 1-3.1 1 3 1 2.1 .9-2.3 1-.8 1 .7 1-3 1 .8 .9 1.5 1-1.1 1-2.7 1-2 .9-3 1-2.4 1 .1 1-1.5 .9 4.2 1 2.5 1 2 1 5 .9 .6 1-.7 1-3.2 1-2.3 .9-1.4 1 .7 1-.5 1-1.4 .9-1.2 1-1.9 1 .8 1 2.3 1-1.6 .9-3.3 1-1.6 1 2.5 1-1 .9-.7 1-.4 1 0 1-1.8 .9 1.1 1-3.1 1-1.3 1 3.5 .9 1.9 1-2.9 1 3.8 1 3.2 .9-.2 1 .8 1 1.1 1 3.6 .9-.4 1-3.1 1-3.4 1 .4 .9 1.1 1-.5 1-.7 1 .3 1 2.8 .9 3.1 1-1.2 1-.9 1-2.6 .9 2.2 1 .5 1 3.2 1-.9 .9 1.4 1 .1 1-.4 1 0 .9 .2 1 2.8 1 .1 1 2.3 .9 .2 1-.2 1-1.1 1-1.4 .9-.8 1-.1 1-2.7 1 .4 .9 .7 1 2.8 1-1.9 1 1.1 1 0 .9 1.7 1-3.6 1 2.2 1 1.1 .9 .3 1 .5 1 .3 1-4.2 .9-3.7 1 2.2 1 .7 1 3.9 .9 4.7 1-.7 1-.3 1 3.6 .9 .3 1-.6 1 .6 1 .3 .9 .9 1 0 1 .3 1-.1 .9 .2 1-3.1 1 2 1 2.5 1 .5 .9 .7 1 2.6 1-1.2 1 .1 .9-.8 1-3.5 1 .6 1 2.8 .9 1.1 1 2.6 1 2.6 1 2.9 .9 1.3 1-.6 1-1.9 1-.6 .9-.7 1-2.3 1 2.1 1 6.2 .9 1.7 1-1.5 1 5.6 1 .7 1-.3 .9 1.7 1-2.3 1-.1 1 .3 .9-.9 1-2.7 1-2 1-3.4 .9-.2 1 3.7 1 .2 1-2.7 .9 2.5 1 1.1 1-.7 1-.8 .9 3.5 1 5.3 1 4 1 1.8 .9 .5 1-1 1-2.7 1 .4 .9 1.8 1-2.7 1 .7 1 2.4 1 4.6 .9-2.6 1-3.3 1 .4 1-.3 .9-.3 1-4.6 1-.3 1 .3 .9 .3 1 6.7 1 1.1 1 3.1 .9-1.3 1-2.7 1-.3 1-1.7 .9 .1 1 1.3 1 .7 1-.9 .9 .3 1 .2 1 .1 1 1.1 .9 .5 1-.2 1 1.3 1 1.6 1 0 .9 .9 1-1.3 1-2.5 1-1.8 .9-3.7 1-1.3 1-.8 1 4 .9 2.9 1 3 1-2.2 1-1.7 .9-.6 1-.9 1-2.1 1-2.9 .9-1 1 .7 1-5.5 1-1.1 .9 .5 1-.1 1 1.8 1-.1 1-.2 .9-3.2 1-1.9 1-.1 1-1.4 .9-4.1 1 1.9 1 2.5 1-.5 .9 3.2 1-.4 1-3.1 1-.7 .9 1.4 1-.5 1-1.9 1-3.6 .9-2.9 1 2 1-1.7 1-1.7 .9-2 1-.2 1 1.1 1 3.5 .9 .7 1-.4 1 .1 1-1.1 1-6 .9-5.2 1-4 1-2.1 1-1.1 .9-1 1 1.9 1 .1 1-3 .9-2.3 1-6 1-.7 1-2.9 .9-4.7 1-3.4 1-5.6 1-3.9 .9-1.8 1-3 1-6.8 1-3.4 .9-3.4 1-4.9 1-4 1-2.2 .9-5.1 1-5.4 1-.8 1-5 1-5.8 .9-5.4 1-4.6 1-3.5 1-2.7 .9-4.7 1-4 1-2.5 1-.7 .9-1.9 1 1 1 2.3 1 5 .9 2.9 1 2.5 1 6.7 1 4.9 .9 2.1 1 5.4 1 3.4 1 2.6 .9 5.9 1 2.3 1 3.1 1 2 1 4 .9 4.9 1 3.7 1 2.9 1 7.6 .9 4.5 1 .9 1 2.6 1 1.6 .9 3.2 1 .8 1 0 1 1.8 .9 1.8 1-1.8 1-1.1 1 3.5 .9 3.1 1-.2 1-1.2 1 5.5 .9 4.9 1 3.5 1-.4 1 3 .9 3.2 1-1 1 1.7 1 3.6 1 1 .9-3.4 1-1.4 1 1.5 1-.2 .9 1.1 1-.3 1 1.3 1 4 .9 1.5 1 1.1 1 1.2 1 2.7 .9 .7 1 2.3 1 3.8 1 1.3 .9 1.1 1 2.5 1 .1 1-1 .9 1.3 1-1.2 1-2.8 1-3.3 .9-.4 1-1 1-2 1-1.4 1-5.4 .9-3.4 1-1.8 1-1.2 1-5 .9-2.8 1 2.3 1 4.7 1 9.6 .9 7.9 1-.1 1-.1 1-1.7 .9 2.9 1 5.4 1-.7 1 1.4 .9 4.5 1 2.2 1 .4 1 2.5 .9 2.7 1-.7 1-1.1 1 .1 1 .7 .9-.6 1-3 1-3 1-3.2 .9-6.4 1-.2 1-2.5 1-3.2 .9-7.2 1-9.9 1-8.3 1-9.9 .9-6.1 1-7.7 1-7.6 1-2.4 .9-1.5 1-1.6 1-6.3 1-3 .9-1.9 1 .9 1 4.5 1 5.5 .9 6.8 1 6 1 7.2 1 5.2 1 3.4 .9 5.2 1 6.2 1 7.2 1 8.4 .9 8.7 1 5.2 1 8.6 1 6.4 .9 1.5 1 .8 1 2.1 1 2.3 .9 .8 1 3.2 1 3.3 1-.7 .9-.7 1 4.1 1 2.4 1 0 .9 0 1 1 1 .3 1 4.5 .9 2.2 1 2.5 1-1.2 1-1 1 1.8 .9 .8 1 0 1-.2 1 .8 .9-1.2 1-1.1 1 1.6 1-.5 .9-2.1 1-1.6 1-2 1-.8 .9 6.6 1 3.1 1 .7 1 .4 .9-.5 1 3.8 1-1.2 1-1.8 .9-1.7 1-.4 1 1.5 1-.2 .9 1.9 1 1.8 1 1.6 1 1.6 1 1.3 .9 1.4 1 0 1 1 1 4 .9-3.6 1-2.7 1-2.9 1 2.1 .9 2.9 1 2.3 1-.3 1-1.2 .9-.9 1-2.8 1-2 1 1.2 .9-2.6 1-.8 1-.3 1 3 .9-.8 1-.1 1-.2 1 2 1 2.2 .9 .7 1-.4 1-1.6 1 1.6 .9-.3 1-1 1-2 1-2.6 .9-2.9 1 .2 1 0 1-.3 .9-1.5 1 1.2 1 1.6 1-.1 .9 .1 1-1.5 1-1.3 1-.5 .9-2 1-.1 1 .7 1-.7 .9-2.1 1 1.2 1 1.4 1-1.2 1-.7 .9 2.2 1-1.7 1-2 1 1.4 .9 .1 1-2.3 1-1.4 1-.7 .9-2.6 1 1.6 1-.5 1-1.8 .9-.5 1 1.6 1 2.6 1-3.5 .9-2.5 1 .6 1 3 1 2.4 .9-2.3 1 2.5 1 .1 1 1.1 .9-.2 1-4.3 1 .4 1 4.2 1 .9 .9-3.9 1-.4 1 .1 1-.1 .9 3.8 1 2.1 1 1 1 .5 .9-2.6 1-.2 1 2.7 1 2.9 .9-.8 1-2.3 1-.8 1-2.7 .9-1.1 1-.1 1-.9 1 2 .9 1.5 1-2.1 1 4.3 1 2.6 1 .3 .9 1.3 1 1.8 1 .2 1-2.5 .9-1 1-.5 1 1.5 1-1.4 .9-1.1 1 .4 1 .2 1 .6 .9-.7 1-1.8 1 .7 1 2.5 .9-1.7 1 .3 1 3.1 1 .9 .9 1 1-1.7 1-3 1-.1 .9 .3 1-4.6 1-3.2 1 1 1-2.5 .9-.9 1 .8 1-1.3 1-.8 .9 .7 1 1.8 1 2.6 1 .8 .9 1.2 1-.4 1-.7 1 1.6 .9 0 1 2.4 1-1.8 1-.8 .9 3.6 1-1.4 1-3.3 1-.9 .9 1.3 1-2 1-1.8 1 .3 .9-2 1-.1 1-1.3 1-1.7 1 3.7 .9-1.1 1-1.4 1 2 1 .8 .9-1.2 1-.5 1-1.8 1-1.8 .9-1 1-2 1 1.4 1 .6 .9-1.3 1-3.2" stroke="#01426e" stroke-width="2.35" stroke-dasharray="2.3 3.05"/>
<path d="M162.3 1789.8l1-.9 1 5.8 1 7.3 .9-1.7 1-1.8 1 1.1 1-.5 .9 .7 1 1.3 1 .7 1-.5 1 .1 .9-2.2 1-.5 1 4.8 1-1.8 .9-.6 1-1.4 1-2 1 1.8 .9 6.7 1-2.3 1 1 1-5.2 .9 0 1 .4 1-6.6 1 3.7 .9-1.4 1-.7 1 2.6 1 2.3 .9-1.8 1 1.1 1 .5 1-.8 1 6.5 .9-2 1 1.7 1 7.8 1 2.4 .9-4.6 1-4.2 1 1.7 1-1.6 .9-3.3 1-2 1 3.6 1 .9 .9 4.4 1 2.9 1-2.3 1-1.8 .9 .4 1-1.8 1-.5 1 .2 .9-.7 1 2.1 1 1.8 1 4 .9 3.1 1 4 1-4.3 1-2.9 1 0 .9 5.5 1 .5 1-1.9 1 2.5 .9-4.8 1-5.4 1 4 1-1.9 .9-6.3 1 5.5 1-.6 1-3.5 .9-1.6 1 6.6 1 3.2 1-2 .9-2.3 1 6 1 .9 1-1.8 .9-6.5 1-.8 1-2.1 1-3.2 .9-2.3 1 .4 1 .5 1-1.9 1 .8 .9 5.2 1 1.9 1-2 1 2.2 .9 1 1-2.4 1-8.7 1 3.8 .9 3 1 .4 1 4.2 1 .3 .9 1 1 2.7 1 5.8 1-2.5 .9-1.2 1 2.8 1 7.3 1-2.4 .9-.7 1-1.7 1-1.6 1 .1 .9-4.6 1 1 1-.1 1 4.8 1 1.4 .9-4.2 1 .7 1 2.8 1 .8 .9-1.5 1-1.3 1-2.1 1 .5 .9 0 1-.2 1 2.2 1-1 .9 .3 1 3.2 1 1.5 1 0 .9 1.3 1 1.9 1-2.7 1-.9 .9-2.2 1 2.2 1 1.9 1 .8 1 3.3 .9 1.3 1 2.4 1 .7 1-3.1 .9-.4 1 1.6 1 2.4 1-2.6 .9-5.8 1 6.8 1-2.9 1-3.3 .9-1.2 1 .7 1 6.8 1-1.5 .9 3.7 1 4 1-.7 1 2.3 .9 1.8 1 3 1 2.7 1-1.2 .9 1.6 1-3.6 1 .4 1-.3 1 5.5 .9 6.3 1 .4 1-5.3 1-1.7 .9-1.3 1 3.7 1 3.9 1-2.2 .9 .9 1-.1 1-.2 1 2.3 .9 6.2 1 3.5 1-5.3 1 2.3 .9 1.8 1-.5 1 .3 1 .4 .9 1.1 1 .4 1 3.3 1-5.9 .9 .4 1 6.1 1-1.6 1-4.2 1 2.3 .9-1.7 1-7 1 .6 1 2.4 .9-.2 1 2.5 1 1.6 1-4.3 .9 1.4 1 1.9 1-1.3 1 1 .9 4.1 1-5 1 1.1 1-1 .9 1 1 2 1-6.7 1-2.2 .9 3.5 1-1.3 1 3.5 1-3.3 1-.3 .9 .8 1 1.4 1-2.3 1-1 .9-1 1-2 1 2.7 1 .8 .9-2.1 1 .3 1-1 1-5.1 .9 4.6 1 7.1 1 .4 1-1.8 .9-2.5 1 4.4 1 4.2 1-.8 .9 .7 1 .9 1 2.7 1-1.2 .9-2.4 1-5.8 1-2.5 1 .3 1 1.9 .9 5.3 1 3.8 1 4.2 1 3.3 .9 4.4 1 6.8 1 4.7 1 1.2 .9-1.9 1-2.8 1-.6 1 .7 .9-6 1 3 1-2 1-1.3 .9-.2 1 4.9 1-.2 1 7.2 .9 5.1 1 4.5 1 2.6 1-.5 .9-3 1-1.5 1 4.1 1 2.6 1 2.3 .9 2.3 1 1.8 1-3.1 1-4.1 .9 2.8 1 .4 1 3.3 1 1.4 .9-2.6 1-5.1 1 .4 1-1.7 .9 .2 1-.7 1-4.4 1-7.7 .9-3.7 1-4.2 1 1.6 1 7.3 .9-2.7 1-2.1 1 8.5 1 .5 1-5 .9 3.7 1 4.3 1 .6 1 5.9 .9 6.9 1 7.1 1 10 1-5.7 .9-.2 1-1.6 1 3.6 1 1.9 .9 .2 1 2.1 1 .3 1 .3 .9-.4 1 1.1 1 1.8 1-.4 .9-2.4 1 2.1 1 .6 1 .2 .9 5 1 0 1-1.5 1 1.1 1-1.1 .9 1.6 1-3.3 1-2.4 1-4.5 .9-2 1 1.9 1-3 1-4.7 .9-1.5 1-2.6 1-1.6 1-2.7 .9-5.7 1-3 1-5.7 1 2.4 .9-1.8 1-5.7 1-7.7 1-.3 .9 3.9 1 2.6 1 .9 1 3.9 .9 5.8 1 2.3 1 3.4 1 1.9 1-1.5 .9 1.6 1 3.1 1 6.3 1 8.8 .9 7.9 1 1.6 1 .3 1 .6 .9 1.4 1-.3 1-2 1 .1 .9-3 1-1.3 1 1.8 1 4.1 .9 1.4 1-1.5 1-2.3 1 2.9 .9 5.8 1 3.4 1 6.1 1 6.7 1 6.4 .9-.3 1 .2 1 3 1 0 .9 2.5 1 2.6 1 1 1-5.2 .9 .4 1-1.7 1 .5 1 2.2 .9-2.4 1-3.8 1-2.8 1-7.1 .9-.9 1 2.3 1-4.5 1-1.7 .9-4.6 1-.5 1-8.2 1-1.3 .9 .9 1 0 1 6.5 1 4.4 1-3.4 .9-3.1 1 2.1 1-4.5 1 .4 .9 1.6 1-1.1 1-1.1 1-3.8 .9 2.4 1-5 1-10.5 1-4.9 .9-2.2 1-1.1 1-.7 1 4.1 .9 3.5 1 4.8 1 2.4 1-.6 .9 3.4 1-3.4 1-1.9 1 2.7 .9-2.2 1-4.7 1-2 1-.5 1-.7 .9 1.8 1 2.4 1-3.6 1-2.3 .9-1.5 1-2.1 1 .3 1 4.9 .9 .7 1-4.9 1 .9 1 1.1 .9-1.4 1-2 1 2.9 1-1.5 .9-2 1 6.5 1-2.4 1-1.7 .9 5.4 1-2.4 1 1.3 1 3.1 .9-1.1 1 9.1 1 .8 1-5.1 1-2.8 .9 2.2 1 1.2 1 .2 1-1.5 .9 .3 1 6 1-.2 1 1 .9 2.8 1 2.5 1 2.7 1-.7 .9 .3 1 1.6 1 2.3 1 .4 .9 1.2 1 1.1 1-2.3 1 2 .9 1.9 1 3.4 1-.2 1 1.6 1-7.6 .9-6.2 1 2 1 1.1 1-2.6 .9-1.9 1 4.5 1-.9 1-2.3 .9 1.5 1-5.4 1-3.4 1 1.9 .9-1.5 1 .1 1 1.2 1 .4 .9-3.4 1-.2 1 1.7 1 .4 .9-2.5 1 .7 1 3.9 1 .3 .9-3.1 1 4.6 1 1.5 1 .2 1-2.2 .9 .2 1 4.8 1-4.5 1 .1 .9 4.3 1 .8 1-1.3 1-2.5 .9 2.2 1 3.1 1-3.7 1-3 .9 3 1 .4 1-2.1 1 1.9 .9 2.8 1-2.9 1 3 1 4.9 .9-3.8 1-3 1 1.3 1 5.3 .9 2.6 1 3.2 1 1.8 1 4.7 1-.1 .9-6 1 3.8 1-2.5 1 .5 .9 7.3 1-1.8 1 3.2 1 1.6 .9 2.2 1 3.8 1 2.2 1 4.8 .9 1.3 1-1.4 1-5.3 1 2.5 .9 .7 1-1.9 1-2.4 1 1.8 .9 .6 1 1.9 1-6.3 1 4.7 1 1.8 .9 1.8 1 2.2 1 3.4 1 2.6 .9-1.3 1 .4 1 5.6 1 4.7 .9 1.9 1-2.7 1-3.9 1-6.2 .9-4.5 1 5.5 1-.1 1 1 .9-2.7 1-.9 1-1.1 1 .7 .9-1.2 1-1.5 1 1.3 1 4.2 .9-2.2 1-7.3 1 3.7 1 2.4 1-5.8 .9-1 1 3.7 1 2.7 1 4.5 .9-4.2 1-1.3 1 7.7 1 .7 .9-.9 1 1 1 2.5 1-4.9 .9 3.3 1-2.9 1-3.1 1 1.7 .9 .8 1-.3 1 3.8 1 1.3 .9-3.7 1-1.9 1-1 1 1.6 .9 .6 1-7.7 1-5.1 1 .9 1 .5 .9 .7 1-1.9 1-3.5 1-.9 .9 2.5 1-1.4 1-.1 1-.4 .9 1.2 1 3.6 1-1.8 1-5.6 .9 0 1-1.3 1 1.3 1-.1 .9 1 1-3.6 1 1.5 1 1.1 .9-3 1-1.2 1 6.4 1-1.6 1 2.5 .9 3.2 1-.1 1-4 1 3.3 .9-.1 1-.7 1 2.8 1 .6 .9-3.1 1 1 1 7.9 1 2.6 .9 2.6 1 2.8 1 3.2 1 .2 .9 3.7 1 4.5 1-3.3 1-4.2 .9-4.3 1-1.8 1 3 1 1.4 .9-3.4 1-2 1-1.7 1-2.5 1 7.8 .9 2.4 1-3 1 3.8 1-2.4 .9 2.1 1 2.3 1 2.5 1 1.4 .9-.1 1-1.4 1 3.1 1 2.6 .9-3.8 1-3.2 1 2.2 1 1.6 .9-3.8 1-1.6 1 3.1 1-1.2 .9 .5 1 .8 1 1 1-.4 .9 1.5 1 1 1 1.2 1 1.9 1 2.4 .9-.2 1-.1 1-.8 1-1.5 .9 7.8 1 .2 1-8.4 1-3.4 .9 1.9 1 5 1 .2 1 3.4 .9-2.2 1 1.6 1-1.7 1-5.6 .9 .5 1-.7 1-6.5 1 4.4 .9 1.1 1 3.4 1-1.9 1-2.4 1 .8 .9-.7 1-5.7 1-.5 1 6.2 .9-.6 1 3.3 1 3.8 1-.8 .9 .7 1-1.8 1-3 1 2.1 .9-1.2 1-.9 1 4.6 1-3 .9-3.4 1 5.5 1 1.1 1-3.7 .9-.9 1 3.3 1 1.8 1 .5 .9 2.6 1-4.2 1-8.6 1 2.9 1-1.1 .9-.5 1-4.9 1 3.2 1-2.3 .9-2.8 1 2.7 1 1.4 1-.2 .9-2.8 1 2.4 1 1.1 1 .4 .9 3.6 1 2.6 1 1.6 1-3.9 .9-2.7 1-.2 1 3.1 1 .6 .9-3.5 1 2.1 1 7.1 1 5 .9-2.4 1-3.1 1 .2 1-2.2 1 5 .9 3.7 1-4.6 1-4.5 1 2.4 .9-.8 1-2 1 1.4 1 1.5 .9-1 1-1.5 1-2.5 1 .9 .9 1.8 1 .1 1-2.2 1-3.9 .9 .8 1-.3 1-3.8 1-1.8 .9-4.8 1 0 1 .4 1-4.7 .9 5.8 1 3.4 1-2.9 1-3.6 1-4 .9-.7 1 2.8 1 3.1 1-3.4 .9-1.3 1 2.2 1 1.5 1-4 .9-.2 1-.1 1-.5 1 1.4 .9-.3 1-1 1-2.3 1-.6 .9-3.1 1 1.3 1-1.4 1-1.1 .9 .4 1 8.7 1-3 1-4.5 1 1.5 .9 .5 1 .4 1 3 1-8 .9 1.3 1 0 1 .2 1-2.3 .9 .1 1-5.9 1-4.2 1-3.3 .9-4.2 1-4.9 1 1.1 1 3.6 .9-.6 1-1.5 1-2.5 1 9.5 .9 5.9 1 .5 1 1.4 1 .2 .9-.1 1 3.5 1 .2 1 4.2 1 3.6 .9 2.6 1-.4 1-3.8 1 .2 .9-3.1 1 3.1 1 5 1-2.1 .9 3.9 1-3.3 1-2.7 1 4.3 .9-2.2 1-1.9 1-2.2 1 1.9 .9 2.3 1-1 1-.7 1 1.7 .9-3.7 1-3 1 3.5 1 2.2 .9 1.5 1-.3 1 .4 1-.3 1-1.3 .9-1.8 1 5.4 1 3.6 1 1.7 .9-1 1-2.1 1 5.6 1 3 .9-1.6 1-.4 1-4 1-4.9 .9 .3 1 4 1-.5 1-2.9 .9-6.4 1 3.6 1-5.8 1-1.9 .9 .7 1-.6 1 7.4 1-2.5 1-4.1 .9 1.8 1 1.8 1 6 1 5.6 .9-.7 1 .4 1-.2 1 .7 .9-.8 1 5.3 1-3.8 1-5.5 .9 1.5 1 2 1-1.8 1-.7 .9-1.1 1-5.7 1-2.5 1 10.4 .9 10.3 1 11.5 1 11.4 1 3.1 .9 .4 1-3.9 1-2 1 4.8 1 2 .9-.1 1-2.5 1 .4 1 1.7 .9-2.5 1-.4 1 1.8 1-3.4 .9-3 1-.6 1-1.7 1 1.8 .9 6.3 1-1.3 1-3.8 1-.7 .9-2 1-.1 1-3 1 1.4 .9 1.4 1-.6 1-.5 1 4.3 .9-1.6 1 1.1 1 6.4 1-9.5 1-5 .9-4 1 2.6 1-2.2 1-.4 .9-4.8 1-1.3 1 5.3 1 9.1 .9-.6 1-1.8 1 2 1 .7 .9 2.1 1 0 1-1.1 1 2 .9-3.1 1-2.4 1 1.6 1 2.1 .9 1.2 1-5.8 1-2.3 1 5.5 1 6.7 .9-1.7 1-1 1-.4 1 .8 .9-2.2 1-1.8 1-4 1-.8 .9 3.5 1 .8 1-.6 1-.6 .9-1.2 1-3.6 1 3.5 1-.8 .9 0 1 .5 1 2.8 1 3 .9-2.4 1-2.7 1 1 1-4.7 .9-8.6 1 5 1 1.3 1 5.8 1-1 .9 .3 1-.3 1-1.3 1-1.5 .9-3.9 1-2.4 1-1.7 1 1.7 .9-.1 1 1.9 1 3.5 1 3.6 .9 .5 1-.1 1 4.9 1 7.9 .9-.1 1 3.9 1-3.5 1-2.3 .9-.7 1-2.4 1 3.3 1 6.3 .9 0 1 3.7 1-1.9 1-1.9 1-.3 .9 .9 1-3.8 1-.2 1 1.9 .9-8.6 1 .4 1 0 1 0 .9 2.8 1 .9 1 2.3 1 1 .9 1.4 1 2.3 1 1 1-.6 .9 3.9 1-5 1 1.5 1-3 .9-4.7 1-.4 1-2 1-5.1 .9 1.5 1 3.6 1 .6 1 3.3 1 5.9 .9 1.5 1-1.8 1 2.7 1-1.5 .9-3.3 1 3.8 1 2.2 1-1.3 .9 .8 1-6.5 1-3.9 1-4.5 .9-13.3 1-3.5 1 8.1 1 4.1 .9 12.8 1 10.6 1 3.7 1 2.4 .9 1.4 1 .3 1-2.7 1 1.5 1 4.1 .9-1.2 1-6.6 1-.9 1-.9 .9-3.5 1 4.6 1-.1 1-5.8 .9-1.3 1 5.1 1 3.2 1 5.2 .9 6.9 1 3.4 1 .8 1 2.2 .9 .2 1-1.6 1-2.8 1-4 .9 3.8 1 1 1 .2 1-4.1 .9 .1 1 4 1 4.1 1-2.1 1 2.7 .9 2.7 1-2.9 1-7.2 1-.8 .9 1.1 1-.5 1-4.6 1 .4 .9 0 1-1.3 1 2.3 1 5.4 .9 1.1 1-1.2 1 4.8 1-2.3 .9-2.1 1-1.3 1-1.5 1-1.1 .9-2 1 4.7 1 6.1 1 3.7 .9 1.8 1 1.5 1-3.1 1-4.1 1 4.1 .9 6.4 1-3.1 1-7.9 1-2 .9-4.4 1-3.1 1 .6 1-.6 .9-6.9 1-1 1 3.2 1-2.4 .9 2.5 1 1.8 1-5 1-2.1 .9 3.1 1-2 1-2.1 1 6.2 .9-.7 1-4.6 1 .5 1 4.5 1-1.5 .9 1.7 1-2.9 1-3.2 1-3.7 .9 3 1-2.3 1 2.8 1 2.8 .9 0 1-1.2 1-2.7 1-1.9 .9-4.2 1-1.6 1 3.7 1 2.7 .9 .5 1-1.6 1-1.4 1 4.2 .9-2.5 1-3.7 1 3.2 1-2 .9-5.6 1 2.1 1 1.3 1 .1 1-6.5 .9-5.1 1-2.4 1-4.9 1 .8 .9-.5 1-6.2 1-2.5 1 2.5 .9 2.7 1-5.9 1-7.7 1-4.9 .9-2.5 1-1.2 1 3.4 1 4.5 .9-.1 1-2.4 1-1.3 1-2.4 .9-8.5 1-8.7 1 1.6 1-5 .9-3.7 1 2.4 1-7.3 1-3.9 1-3.8 .9-4.2 1 .3 1-7.3 1-12.2 .9-8 1-.3 1-6.4 1-4.2 .9-.3 1 .5 1 4.8 1 6.5 .9 7.6 1 8.2 1 9.5 1 4.9 .9 2 1 4.1 1 6.8 1 8.8 .9 2.3 1 3.5 1-.1 1 4.4 1 3.8 .9 .5 1 1.6 1-.1 1-1.1 .9 1.3 1-.7 1 4.4 1 .8 .9-7.3 1 2.3 1 5.1 1 1.8 .9 2.1 1 5.2 1 1 1-1 .9 6.3 1 5.4 1-4.5 1-3.2 .9 1.7 1-1.1 1 .9 1-2.9 .9 .3 1 .2 1-2 1 4.9 1 2.4 .9 1.4 1 .6 1 4.9 1 7.4 .9 .7 1-2.2 1-2.3 1-2.5 .9-5.1 1-2.7 1-1.7 1-1.2 .9 2.6 1-.6 1-1.1 1 2.3 .9-.5 1 .9 1 2.4 1 1.7 .9 2.5 1-4.9 1 4 1 7.4 .9 9.7 1 2 1 .4 1-1.4 1-3.5 .9-3.5 1-12.8 1-3.7 1-2.4 .9-3.6 1-1.3 1-5.1 1 1.1 .9 2.6 1 .3 1 2.4 1 5.7 .9 11.3 1 5 1 8.3 1 12.6 .9 .8 1-1.8 1-1.6 1 .5 .9-3.9 1 .2 1 4.2 1-1.4 1-3.9 .9 .2 1 1.2 1 .3 1-7 .9-3 1 1.9 1-5.9 1-5.1 .9-2.1 1-4.9 1-9.2 1-7.2 .9-3.8 1-.3 1 3.2 1-1 .9-4.8 1-2.3 1-3.9 1-10.1 .9-11.6 1-22 1-6 1-1.7 .9-3.7 1 4.5 1 9.8 1 20.6 1 18.9 .9 10.8 1 16.3 1 11.2 1 6.8 .9 8.1 1 .8 1 .5 1-2.9 .9-1.7 1-2.4 1 6.9 1 8.7 .9 2.5 1 2.6 1 3.5 1 0 .9-2.9 1 2.9 1-2.8 1 4.2 .9 1.3 1 .2 1 5.3 1 2.4 .9-1.6 1 .1 1-7.1 1-2 1-2.2 .9 .5 1 4.8 1 7.1 1 3.6 .9 3.8 1 5 1-6.3 1 1.2 .9 6.7 1-4.5 1 2.6 1 0 .9-3.3 1 .6 1 2.1 1 4.5 .9 3.6 1 3.9 1-.2 1-4.3 .9-3.2 1-7.9 1-1.4 1-.5 .9-2 1 4.3 1 2.1 1 4.8 1 8.5 .9 .5 1 .1 1-.2 1-4.1 .9-.6 1 1.7 1-3.1 1-4.9 .9 .8 1 1.3 1 .5 1-1.1 .9-2.5 1 4.1 1-4.9 1-2.4 .9 1.1 1-7 1-1.5 1 .3 .9 4.5 1-.6 1 2.9 1-.9 1-2.3 .9-5.7 1-1.6 1 4.6 1-3.5 .9-1.7 1 0 1-6.3 1 7.6 .9-.2 1 0 1-.5 1-2.1 .9-2.8 1-.3 1 .7 1 6.7 .9-.9 1-4.5 1-.1 1 .9 .9-3.4 1-.7 1 1.7 1-.1 .9 .9 1 .5 1-.1 1-2.2 1-2.4 .9 2.6 1 3.1 1-.4 1-3.9 .9 0 1-3.1 1-4.8 1-.8 .9 5.1 1 .7 1-2.2 1-2.7 .9 1.2 1-2.3 1-3.2 1 .7 .9-2.5 1-3.9 1-.5 1 2.6 .9 0 1 .1 1 2.6 1-.2 .9-1.6 1 2.6 1-.5 1 1.9 1 4.6 .9-2.4 1-.9 1 1.6 1-2.7 .9-1.7 1 2.9 1-5.5 1 3.3 .9 6.6 1 6.3 1 4.5 1-2.1 .9 1.2 1-1.3 1 3.4 1-3.8 .9-4.5 1 4.7 1 6.5 1 3.1 .9-2.4 1 3.2 1-1.1 1-3.2 1 1.3 .9-1.3 1 .5 1 2.2 1-1.3 .9 .8 1-1.2 1 .8 1-3.4 .9 4.4 1 .9 1 .2 1 1.6 .9-1.1 1-.9 1-.2 1-4.1 .9-7.8 1 .2 1 1.9 1 6.8 .9-.9 1-1.5 1 2.3 1-4 .9-3.8 1 4.2 1-.2 1 .7 1 3.2 .9 2.9 1-4.3 1-2.9 1 4.5 .9 0 1 .7 1 6.2 1-.7 .9-2.9 1 2.5 1-.3 1-4.5 .9-1.1 1 .2 1-3.9 1-7.4 .9 .4 1 3.9 1 .9 1-4.5 .9 4.3 1 4.7 1 .7 1-2.6 .9-.9 1-1.5 1 2.1 1 .2 1 3.6 .9 8.2 1 1.4 1 1.6 1-2.3 .9-5.4 1-3.9 1-5.2 1-3.7 .9-7.6 1-2 1 1.6 1-4.1 .9-.1 1-1.3" stroke="#d80b54" stroke-width="2.35" stroke-dasharray="2.3 3.05"/>
<path d="M162.3 2069.9l1-.7 1-.8 1-.5 .9-.5 1-.6 1-.7 1-.6 .9-.2 1-.1 1 .5 1 .7 1 .6 .9 .8 1 1.1 1 1 1 .7 .9 1.1 1 1.2 1 .1 1-.2 .9 0 1 0 1-.7 1-.8 .9-.8 1-.8 1-4.6 1-5 .9-5.3 1-13 1-14.6 1-25.1 .9-26.7 1-24.4 1-19.1 1-16 1-1.8 .9 9.1 1 18.5 1 23.3 1 27.7 .9 23.8 1 19.8 1 14.7 1 10.4 .9 6.4 1 6.6 1 4.1 1 2.1 .9 1.9 1 1.2 1-.1 1 .1 .9 0 1-.2 1-.5 1-.6 .9-.3 1-.5 1-1.1 1-1.1 .9-1 1-.8 1-.4 1-.6 1-.4 .9-.5 1-.5 1-.4 1-.4 .9-.5 1-.4 1-.4 1-.3 .9-.2 1-2 1-2.2 1-2.1 .9-2.3 1-1.7 1-1.3 1-1.3 .9-1.7 1-.3 1 0 1 0 .9 .2 1-1.3 1-1.6 1-1.2 .9-1.4 1-4.2 1-5.7 1-5.9 1-13.5 .9-19.7 1-42.6 1-64.1 1-51.5 .9-64.9 1-53.7 1-39.1 1-31.9 .9-5 1 27.8 1 47.6 1 63.4 .9 63.4 1 76.8 1 44.3 1 29.2 .9 21.3 1 16.9 1 8.8 1 3.3 .9 3.1 1-.7 1-.9 1-1 .9-.3 1 .1 1 .1 1-.1 1 2 .9 1.9 1 2.1 1 2.1 1 1.6 .9 1.5 1 1.8 1 1.8 1 .3 .9-.3 1-.3 1-.2 1-1 .9-.9 1-1.1 1-.9 1 1.1 .9 1.9 1 1.9 1 1.5 1 1.4 .9 1.4 1 .1 1-1.2 1-1.2 1-.8 .9-.7 1-.6 1-.9 1-.8 .9-.3 1 .8 1 .9 1 1 .9 .4 1 .6 1 .9 1-.3 .9-2.5 1-3.1 1-2.5 1-1.8 .9-1.8 1-1.4 1-.1 1 0 .9-.1 1 .2 1 1 1 .7 .9 .8 1 1.3 1 .6 1 .1 1 .3 .9 .6 1 .4 1 1.8 1 2 .9 1.9 1 1.7 1 .5 1 .2 .9 .4 1 .3 1-1.9 1-3 .9-2.8 1-2.2 1-2.2 1-2.2 .9-1.9 1-1.4 1-.9 1-.8 .9-1 1-1 1-.1 1 .7 .9 .6 1 .4 1 .5 1 .5 1 0 .9 .2 1 .3 1 .1 1 .5 .9 .8 1 .4 1 .5 1 .5 .9 .9 1 2.4 1 2.5 1 2.7 .9 2.2 1 1.5 1 1.5 1 1.5 .9 1.2 1-1.1 1-1 1-.7 .9-.9 1 .8 1 .6 1 .5 1 .8 .9-1.8 1-2.3 1-2.2 1-2.1 .9-2.3 1-2.4 1-2.7 1-2.6 .9-2.3 1-2.6 1-2.6 1-1.5 .9-.8 1-.8 1-.1 1 2.6 .9 2.3 1 2.6 1 2.7 1 2.7 .9 2 1 1.2 1 1.4 1 .5 .9-.8 1-.7 1-.6 1-.6 1-.2 .9-.4 1-.1 1-1 1-3.3 .9-3.3 1-3.2 1-2.7 1-2.6 .9-2.1 1 .4 1 .3 1 .3 .9 2.7 1 2.8 1 2.6 1-2 .9-1.9 1-2.2 1-2 1 .2 .9 .1 1 .3 1 .3 1 2 .9 2.7 1 2.6 1 2.3 1-.8 1-1.6 .9-1.2 1-1.6 1-2.7 1-3.1 .9-3.3 1-1.5 1-.3 1-.5 .9-.5 1 .1 1 .7 1 .8 .9 1.3 1 1.2 1 .7 1 .7 .9 .4 1 .9 1 1.5 1 1.1 .9 1.2 1 1.7 1 1.9 1 1.9 1 1.9 .9 1.6 1 .5 1 .5 1 .5 .9 .2 1-2.2 1-2 1-1.9 .9-2 1-5 1-3.5 1-1.3 .9-1.6 1-1.4 1-.4 1 .9 .9 1 1 .9 1 1.2 1 1.1 .9 1.5 1 0 1-4.1 1-3.8 .9-5.8 1-12.9 1-14.8 1-24.1 1-26.2 .9-36.9 1-46.3 1-62.9 1-155.3 .9-131.6 1-63.6 1 0 1 0 .9 0 1 0 1 0 1 0 .9 0 1 0 1 0 1 0 .9 132.8 1 197.1 1 78.2 1 56.1 .9 49.6 1 36.7 1 17.6 1 9.7 .9 7.6 1 6.5 1 5.5 1 0 1-1.9 .9-9.8 1-9.9 1-7 1-4.3 .9-4.5 1-2 1-1.7 1-1.4 .9-.9 1 1 1 3.9 1 3.3 .9 2.4 1 2.7 1 2 1 .4 .9 .4 1-1.7 1-2.6 1-2.7 .9-2 1-2 1-2.2 1-3.9 1-3.9 .9-3.8 1 .1 1 .2 1-.2 .9 5.3 1 5.2 1 5.2 1 5.8 .9 6.1 1 .6 1 .2 1 .3 .9 0 1-1.3 1-1.9 1-1.5 .9-1.6 1-1.9 1-2.2 1-1.5 .9-1.4 1-1.5 1-1.3 1-1 .9-.6 1-.6 1 .7 1 1.8 1 2.1 .9 2.4 1 2.8 1 2.4 1 3.1 .9 4.1 1 3.8 1 5.1 1 6.8 .9 5.4 1 3.2 1 3.3 1 2 .9-.8 1-2.2 1-5.9 1-5 .9-2.1 1-2 1-1.9 1-.6 .9-1 1-1.1 1-1.4 1-4 .9-3.5 1-4 1-5.9 1-5.9 1-5.7 .9-3.4 1-3.3 1-3.3 1-4.6 .9-4.7 1-13.4 1-14.8 1-36.6 .9-44.4 1-44.9 1-46.2 1-92.6 .9-97.6 1-99.3 1-39.4 1-3.3 .9 0 1 0 1 27.9 1 15.9 .9 133.6 1 128.1 1 90.1 1 49 .9 29.4 1 7.4 1 3.7 1-2.1 1-3.1 .9-5.1 1-5.7 1-7.7 1-6.9 .9-5 1 6.5 1 8.4 1 9.7 .9 7.8 1 6 1 1.2 1 1.4 .9 1.4 1 .7 1 .5 1 .4 .9 1.7 1 1.6 1 1.5 1 1.5 .9-.9 1-1.1 1-1.2 1-.9 1-.4 .9-.4 1-.6 1-.5 1 1.7 .9 2 1 1.8 1 1.8 1 5.3 .9 6.6 1 6.6 1 15.5 1 19.6 .9 22.5 1 24.6 1 19.1 1 15.4 .9 3.2 1-5.9 1-10.5 1-14.6 .9-12.2 1-9.6 1-9.7 1-10.1 .9-8.5 1-6.4 1-6.5 1-6 1-5.3 .9-5.1 1-4.9 1-4.7 1-4.5 .9-4.3 1-4.6 1-4.6 1-7 .9-17.5 1-18.9 1-28 1-25.6 .9-23.4 1-12.1 1-17.4 1-15.5 .9-2 1 11.5 1 16.2 1 38 .9 39 1 39.1 1 12.4 1 9.9 .9 4.6 1 3.9 1 4.2 1 .2 1-.8 .9-.6 1-2.3 1-3.3 1-3.4 .9-2.3 1-2.2 1-1.9 1-1.2 .9-1 1-.9 1-.9 1-1.1 .9-1.1 1-.9 1-.9 1-1.1 .9-1.6 1-1.4 1-1.5 1-1.4 .9-1.5 1-1.5 1-1.4 1-1.6 1-1 .9-.8 1-.9 1-1.2 1-1.1 .9-.8 1-.7 1-.9 1-.5 .9-.2 1-.1 1 2.2 1 3.3 .9 3.3 1 3.9 1 3.9 1 3.6 .9-1.8 1-1.6 1-2 1-1.1 .9-.9 1-1.1 1 2.4 1 3 .9 2.9 1 1.2 1 .4 1 .7 1-1 .9-1.9 1-2 1-1.2 1-.7 .9-.7 1-.2 1 .3 1-.2 .9-.1 1-2.1 1-3.7 1-7.3 .9-10.7 1-11.2 1-11.8 1-9.2 .9-5.2 1-3.2 1 .1 1 2.3 .9 7 1 8 1 10.1 1 9 .9 6.6 1 5.7 1 2.6 1 2.8 1 2.3 .9 .5 1 .3 1 .2 1-.3 .9-.4 1-.3 1-1.4 1-1.4 .9-1.3 1-16.6 1-20.6 1-27.7 .9-7.3 1-13.9 1-10.2 1-3.2 .9 5.2 1 13.7 1 27.9 1 25.2 .9 22.1 1 13.8 1 11.7 1 1 1 1 .9 1 1 .3 1 .2 1 .1 .9 .3 1 0 1-.1 1 .1 .9 .9 1 1 1 .9 1 1 .9 .6 1 .7 1 .8 1-2.1 .9-2.5 1-2.7 1-1.8 1-1.2 .9-1.2 1 .4 1 1.3 1 1.5 .9 1.1 1 .7 1 1.1 1 1 1 1.2 .9 1.5 1 1.3 1 .4 1 0 .9 .1 1 .2 1-1.3 1-2.8 .9-2.6 1-2.1 1-.8 1-.8 .9-.5 1 .8 1 1.2 1 1.4 .9 2.6 1 2.5 1 2.4 1 2.6 .9 2.6 1 2.4 1 1.9 1-2.5 .9-2.7 1-2.6 1-2 1-1.8 1-2.1 .9-.4 1-.6 1-.3 1-.7 .9 .2 1 .4 1 .2 1 .1 .9 1.2 1 1.2 1 1.1 1 1.2 .9 .7 1-.1 1-.3 1-2.2 .9-3.3 1-3.1 1-2.7 1-2 .9-1.8 1-.9 1 0 1 .1 1 .1 .9-.5 1-.8 1-.4 1-.7 .9-.3 1 .6 1 .8 1 .6 .9 1.2 1 1.8 1 1 1-1.8 .9-2 1-1.9 1-1.4 1-1.4 .9-.8 1 .7 1 .7 1 1 .9 .4 1-2.5 1-2.3 1-2 .9-.5 1-.8 1 .6 1 3.2 1 2.9 .9 2.1 1 2.1 1 2.1 1 .4 .9-.1 1 0 1-.9 1-.5 .9-.4 1-1.6 1-1.6 1-1.4 .9-.9 1-.3 1-.2 1 2.2 .9 3.8 1 4 1 2.6 1 1.5 .9 1.8 1 .6 1-.9 1-1.2 .9-1.7 1-2 1-2 1-1.5 1-.3 .9 .9 1 3.6 1 3.1 1 2.5 .9 2.7 1 2.5 1 2 1 1.9 .9 2.2 1 4.7 1 4.5 1 5.2 .9 8.8 1 8.1 1 .6 1 .6 .9 .6 1-2.9 1-2.8 1-3 .9-3.1 1-3.5 1-3.3 1-3.4 .9-3.5 1-3.8 1-3.6 1-4 1-3.9 .9-4.1 1-4 1-3.8 1-2.6 .9-2.8 1-2.8 1-3.2 1-4.1 .9-9.3 1-13.7 1-18.2 1-21.7 .9-24.4 1-20.2 1-47.7 1-42.5 .9-33.6 1-24.3 1-16.9 1-2.7 .9 15.1 1 27.7 1 39.4 1 49.4 1 43.8 .9 24.9 1 14.7 1 13.4 1 9.9 .9 7.8 1 1.3 1-8.3 1-16.6 .9-24.5 1-21.9 1-16.3 1-13.2 .9-11.1 1-10 1 10.7 1 11.1 .9 13.2 1 33.4 1 30.1 1 11 .9 9.8 1 6.9 1 6.5 1 6.5 .9 6.4 1 6.6 1 6.7 1 3.4 1 2.5 .9 2.8 1 1.5 1 .7 1-1.8 .9-3.3 1-3.1 1-3 1-2.8 .9-2.4 1-1.6 1-.9 1-1.1 .9-1.1 1-.3 1-.2 1-.1 .9 .1 1 .8 1 1.2 1 1.1 .9-.2 1-4.1 1-4.1 1-3.3 .9-1.7 1-1.9 1-1.9 1-1.1 1-1 .9-.8 1 .5 1 .4 1 .6 .9 .4 1 .3 1 .9 1 .5 .9 .2 1 .3 1-.1 1-.3 .9-.3 1-.8 1-.4 1-.5 .9-.7 1-1.2 1-1.3 1-1.3 .9-1.5 1-1.9 1-1.9 1-1.2 1-1.2 .9-.6 1-.2 1 2 1 1.7 .9 3.5 1 5.1 1 2.3 1 .7 .9 .7 1-.3 1-1.2 1-1.2 .9-3.1 1-5.3 1-5.2 1-5.6 .9-5.8 1-5.6 1-5 1-3.2 .9-3.2 1-2.6 1-.7 1 .4 .9 3.5 1 3.6 1 4.8 1 4.4 1 1.6 .9 1.8 1 1.6 1 .7 1 .6 .9 .7 1 1 1 .9 1 1 .9 .3 1 .4 1 .1 1-2.5 .9-2.8 1-3 1-3.7 1-3.8 .9-4 1-5.2 1-4.1 1 .7 .9 .7 1 1.3 1 1.4 1 1.1 .9 1.5 1 1.5 1 1.4 1 1.4 1 1.6 .9 1.1 1 1.2 1 1.3 1 2 .9 2.2 1 1.8 1 3.1 1 3.2 .9 3.2 1 2.2 1 1.9 1 1.9 .9 .9 1 .8 1 .7 1-4.6 .9-6.5 1-6.3 1-2.8 1-.6 .9-.8 1 0 1 .5 1 .3 1 .8 .9 .6 1 .4 1 .5 1 .1 .9 .3 1-1.8 1-4.2 1-4.4 .9-3.9 1-1.5 1-1.4 1-1.5 .9-1 1-.2 1-.2 1-.3 .9-.1 1-.1 1 0 1 .4 .9 .4 1 0 1 .3 1 2 .9 1.7 1 2 1 2.1 1 1.9 1 1.7 .9 2.2 1 .6 1 .2 1 .3 .9 0 1 .3 1 .5 1 .2 .9-.2 1-.5 1-.5 1-.8 .9-.1 1-.5 1-.8 1-.5 .9-1.5 1-1.8 1-1.9 1-2.2 .9-2.5 1-2.9 1-2.1 1-1.9 .9-1.9 1-1.1 1 .2 1-.1 1-.2 .9-.2 1-.4 1-.3 1-.3 .9-.5 1-.4 1-.1 1 0 .9-.2 1-.5 1 0 1 1.4 .9 1.2 1 1.1 1 1.1 1 1.7 .9 1.5 1 1.3 1 1.2 1 1.3 .9 1.6 1 1.2 1 1.2 1-.2 .9-.1 1-.3 1-.3 1-3.6 1-3.9 .9-3.8 1-3.3 1-3.1 1-3.3 .9-2 1-1.4 1-1.4 1 2.3 .9 4.1 1 4.1 1 5.6 1 6.9 .9 3.8 1 2 1 2 1-1.9 .9-5.9 1-7.1 1-8.6 1-8.5 .9-7.7 1-6.9 1-27.1 1-31.4 1-30.4 .9-20.5 1-19.6 1-10 1-8.7 .9 8 1 13.8 1 24.5 1 24.3 .9 24.2 1 22 1 19.5 1 2.5 .9 15.2 1 8.7 1 8.7 1 3.7 .9 3.7 1 3.6 1 .6 1 .5 .9-5.7 1-5.9 1-4.8 1-4.5 .9-4.3 1-2.8 1-2.2 1-1.8 1 1.5 .9 1.8 1 2.1 1 2 1 1.9 .9 2 1 1.8 1 1.9 1 2.7 .9 3.3 1 3.5 1 1.8 1 .6 .9 .4 1-1.7 1-3.9 1-5.1 .9-6.8 1-5.7 1-4.2 1-4 .9-.6 1-.8 1 .3 1 3.1 .9 3 1 3.1 1 3.3 1 3.2 1 1.9 .9 1.8 1 2 1 2.9 1 2.4 .9 2.5 1 2.6 1 2.6 1 2.7 .9 2 1 1.8 1 2 1 .4 .9-.1 1 .4 1-2.4 1-2.7 .9-3 1-4 1-3.7 1-1.8 .9-1.1 1-1.5 1 .4 1 .9 1 .9 .9 1.5 1 1.6 1 1.6 1 1.1 .9 .7 1 .7 1-1.8 1-3.3 .9-3 1-2.7 1-1.9 1-1.8 .9-1.3 1 .1 1-.1 1 0 .9 .5 1 1.3 1 1.2 1 1.1 .9 .3 1 .4 1-.3 1-1.5 .9-1.7 1-1.9 1-1.8 1-1.9 1-1.6 .9-.2 1-.3 1-.2 1-.1 .9 1.6 1 1.6 1 1.5 1 .6 .9 .9 1 .5 1-.9 1-.8 .9-1 1-1.1 1-.2 1 .1 .9 0 1 .2 1-.5 1-.6 .9-.4 1-.6 1-2.6 1-3.3 .9-3 1-4.4 1-4.8 1 6.5 1-41.6 .9-62.5 1-78.1 1-78.1 1-99.7 .9-10.7 1 0 1 0 1 0 .9 0 1 0 1 0 1 0 .9 0 1 0 1 37.1 1 118.9 .9 64.9 1 61.5 1 48.8 1 34.1 .9 1.3 1 2 1 1.8 1 2.1 1 2.6 .9 2.5 1 2.6 1 2.2 1 2 .9 1.7 1-.9 1-.8 1-.8 .9-1.2 1-1.3 1-.7 1-1.6 .9-2.2 1-2 1-1.9 1-.4 .9 .1 1-.1 1-.2 1 .4 .9 .6 1 .4 1 .5 1 1.4 .9 2.1 1 1.9 1 1.8 1 2.4 1 2.8 .9 2.8 1 2.9 1 .6 1 .6 .9 .6 1-1.5 1-1.8 1-2 .9-6.9 1-7.7 1-3.2 1-2 .9-1.9 1-1.9 1-1.9 1-1.7 .9-5.5 1-7.4 1-7.4 1-7.4 .9-14.6 1-19.6 1-19.3 1-24.8 .9-29.5 1-42.5 1-56.5 1-64.7 1-62.2 .9 0 1 0 1 0 1 0 .9 0 1 0 1 0 1 0 .9 0 1 0 1 0 1 0 .9 0 1 0 1 0 1 0 .9 0 1 115.9 1 48.8 1 45.7 .9 41.3 1 19.5 1 19.6 1 8.5 1 8.1 .9 4.7 1-2.3 1-2.5 1-15.7 .9-17.6 1-27.4 1-29.3 1-35.1 .9-37.5 1-42.1 1-102.6 1 0 .9 0 1 0 1 0 1 0 .9 0 1 0 1 0 1 0 .9 0 1 0 1 0 1 0 .9 0 1 0 1 0 1 0 1 0 .9 0 1 0 1 0 1 0 .9 0 1 10.6 1 120.5 1 69.8 .9 41.8 1 28 1 23.6 1 19.7 .9 18.3 1 11.6 1 11.3 1 5.8 .9 5.8 1 6 1 16.1 1 7.1 .9 4.7 1 1.2 1 1.2 1-1.4 .9-1.6 1-1.9 1-.6 1 0 1-.2 .9-.4 1-.2 1-.2 1-.4 .9-.8 1-1.3 1-1.4 1-1.1 .9 .9 1 1.9 1 1.9 1 2.4 .9 2.3 1 2.1 1 2 1 2 .9 2.1 1 1.3 1 .7 1 .2 .9 1.2 1 1.2 1 1.3 1 1.2 .9 .7 1 .8 1 .5 1-.2 1-2.8 .9-2.9 1-2.9 1-2.5 1-2.6 .9-2.3 1-.4 1-.4 1 .2 .9 2.2 1 2.1 1 2.4 1 2.1 .9 1.7 1 2 1 .4 1 .5 .9 .2 1 0 1 0 1-.1 .9-2 1-2.2 1-2.2 1-2.3 1-2.3 .9-2.3 1-.9 1-.5 1 1.7 .9 2.6 1 2.6 1 3.2 1 4.1 .9 3.8 1 2 1 .7 1 .6 .9-.9 1-2.7 1-2.6 1-1.7 .9-1.8 1-1.9 1-1.3 1-.1 .9-.2 1-.4 1-.2 1-.4 .9-.3 1-.1 1-.3 1-.6 1-.8 .9-.9 1-1.1 1-1.4 1-2.1 .9-3.3 1-3.2 1-3.2 1-1 .9-.8 1 5.8 1 6 1 9.5 .9 9.8 1 10.6 1 10.7 1 8.2 .9 7.8 1 4.5 1 4.1 1-4.9 .9-7 1-5.2 1-4.8 1-2.2 .9-1.1 1-.7 1 .2 1 1 1 .9 .9-.8 1-1.9 1-5.3 1-7.9 .9-8.9 1-9.6 1-9.8 1-9.7 .9-9.9 1-9.1 1-8.5 1-7.7 .9-6.6 1-1.7 1 6.3 1 7 .9 8.8 1 12.1 1 17.8 1 7.9 .9 6.2 1 .3 1 .4 1-.2 1-3 .9-3 1-2.7 1-.6 1-.9 .9-.8 1-.6 1 3.1 1 2.8 .9 3.2 1 2 1 1.7 1 1.7 .9-1.9 1-2.7 1-2.9 1-3.7 .9-3.4 1-4 1-2.7 1-2.3 .9-2.2 1-1 1-.7 1-.8 .9 .6 1 1.4 1 1.3 1 1 1 1 .9 1.1 1 .9 1 .7 1 .6 .9 0 1-.5 1-.6 1 1.1 .9 4.1 1 4.2 1 4.4 1 4.3 .9 3.8 1 2.8 1 2.8 1 0 .9-1.2 1-2.1 1-5 1-4.9 .9-5.8 1-5.7 1-3.9 1-3.9 .9-3.6 1-1.6 1-1.6 1-1.8 1-1.7 .9-1.2 1-1.9 1-1.4 1-1.2 .9-1.3 1-1.1 1-1.3 1-1.7 .9-1.5 1-1.4 1-1" stroke="#8a1fb4" stroke-width="2.35" stroke-dasharray="2.3 3.05"/>
<path d="M162.3 1972l1-7.4 1-7.4 1-6.7 .9-5.3 1-.6 1 .4 1-1.1 .9 .9 1-.2 1 1 1 1.6 1 2.7 .9 3.5 1 3.1 1 2.1 1 1.7 .9 .6 1 1.6 1 2.2 1 .9 .9 2 1 .8 1 2 1 1.1 .9 1.6 1 2.4 1-.5 1-2.4 .9-2.4 1-6.2 1-7.5 1-10.4 .9-9.4 1-7.5 1-7.6 1-2.1 1 1.9 .9 4.5 1 9.9 1 9.5 1 7 .9 5.8 1 1 1-1.3 1-.6 .9 1.2 1 2.8 1 4.8 1 3.4 .9 1.3 1 2.6 1 1.4 1 1.4 .9 .9 1-3 1-1.6 1 0 .9 .5 1 2.3 1 3.9 1 3.6 .9 1.9 1 2 1 2 1-2.6 1-.9 .9-.6 1-1.9 1-2.6 1-3.7 .9-2 1-.2 1-.3 1 4.2 .9 4.5 1-3.1 1-3 1-3.6 .9-2 1-1.5 1-.8 1-1 .9-2.7 1-2.4 1-1 1-1.3 .9-3.3 1-2.8 1-2.8 1-.5 .9 1.2 1 1.4 1-2.4 1-3.8 1-3.3 .9-4.8 1-5.4 1-4.4 1-7.1 .9-7.6 1-6.5 1-2.4 1-.4 .9 2.6 1 5.8 1 7.9 1 7.2 .9 9.3 1 8 1 5.4 1 4.7 .9 4.6 1 4 1 3.9 1 3.1 .9-2.7 1-1.6 1-1 1-4.1 .9-3.9 1-1.2 1 1 1 3.2 1 2.9 .9 2.5 1 3.4 1 5.6 1 4.9 .9 2.6 1 1.9 1 1.7 1-3.2 .9-7.1 1-6.1 1-4.9 1-6.2 .9 .3 1 5.2 1 4.8 1 5.2 .9 7.7 1 3.7 1 .7 1 .7 .9-2.5 1-2.5 1-2.3 1-.8 1-.8 .9 2.2 1 2.2 1 2.1 1 3.5 .9 5.5 1 1.9 1 2.1 1 2.7 .9-4.1 1-3.7 1-3 1-2.6 .9-3.5 1-1.1 1-2.1 1 1.4 .9 3.7 1 3.6 1 .5 1 .8 .9 2 1-.8 1-1.9 1-1.5 .9-2 1-3.3 1-2.5 1 4.2 1 4.1 .9 4.4 1 .7 1 .4 1 .2 .9 1.3 1 .4 1 1.1 1 1.4 .9 1.4 1 .4 1-1.7 1-1.4 .9-2 1-3.4 1-2.8 1-2.3 .9-2.4 1-2.9 1 .5 1 1 .9 1.9 1 2.1 1 1.5 1-.7 .9-3.6 1-3.3 1-3.9 1-3.9 1 2.3 .9 2 1 2.8 1 3 1 3.6 .9 1.9 1-2.6 1-2.6 1 1.2 .9 3.1 1 2.1 1 1.8 1 1.4 .9 1.7 1 1.4 1 .4 1 0 .9 .8 1 .5 1 1.2 1 2.1 .9-2.6 1-3 1-1.6 1-2.3 1-.5 .9-1 1 1.4 1 1.6 1 0 .9 .9 1-.3 1-.5 1-.3 .9-.3 1-3.3 1-3.5 1-1.6 .9-1.1 1-1.5 1-.5 1 .1 .9 .5 1 .8 1 1.2 1 1 .9 1.7 1 .9 1 .1 1 .8 .9-1.4 1-2.9 1-3.3 1-1.6 1-.1 .9-2.5 1-2.6 1-.2 1 2.2 .9 2 1 1.5 1-2 1-.5 .9-.4 1 1 1 .3 1 .5 .9 .7 1 .1 1 0 1 1.7 .9 .6 1 .6 1-1 1-1.4 .9-1.8 1 .1 1-1.8 1-.7 .9 1.3 1 1.3 1-.5 1 1.5 1 2.6 .9 3 1-.9 1-1.7 1-1.6 .9-1.7 1-3.1 1-2.7 1-1.5 .9-.6 1-.7 1 1.7 1 3.9 .9 3.9 1 3.2 1 2.9 1 3 .9 2 1 .6 1 .9 1 1.2 .9 .7 1 3.2 1 .5 1-1.7 1-2 .9-2.6 1-3.7 1-4.2 1-3.8 .9-2.6 1-3.3 1-2.8 1 .5 .9-1.8 1-.5 1 1.4 1 4.6 .9 3.6 1 1.4 1 .4 1 1.8 .9 1.7 1 1.8 1 1.5 1-.5 .9-.2 1 1.2 1 .1 1 .9 .9-3 1-2.5 1-1.9 1-2.5 1-1.4 .9-5.5 1-4.6 1-5 1-14.6 .9-15.3 1-27.2 1-25.2 1-25.3 .9-16.2 1-11.4 1-4.3 1 6.2 .9 17.2 1 26 1 23.7 1 24.6 .9 24.7 1 12.8 1 9.4 1 6.2 .9 7.3 1 8.4 1 7 1 4.6 .9 4.1 1 1.1 1 .5 1 .6 1-.3 .9-.4 1-.4 1-1 1-1.6 .9-1.1 1-.9 1-3.9 1-2.6 .9-.7 1-1.4 1-.1 1 2.4 .9 3 1 3.9 1 1.8 1 1.3 .9 1.9 1 .8 1-3.3 1-2.5 .9-4 1-6.4 1-4.3 1-5.8 1-4.3 .9 2.6 1 1.1 1 4.2 1 3.9 .9 2.3 1 .9 1 2.3 1 .2 .9 1.8 1 2.6 1 1.9 1 2 .9 1.1 1 2.2 1 .9 1 .3 .9 1.3 1 .5 1-2.3 1-2.2 .9-2.5 1-1.9 1-1.9 1-2.5 .9-1.2 1 1.1 1 1.1 1 1.5 1 1.8 .9 .4 1 2.7 1 3 1 2.4 .9 2.1 1 3.6 1 3.9 1 3.5 .9 .9 1 2.1 1 1.9 1 .6 .9 1 1-.2 1 .5 1-.5 .9 .1 1-3.9 1-3.2 1-2.3 .9-3.3 1-2.6 1-3.5 1-3.1 .9-3.1 1-1.9 1-2.2 1-2.9 1-3 .9-1.7 1-1.6 1-.1 1 2.4 .9 2.4 1 1.7 1 2.2 1 .6 .9-4.5 1-5.7 1-16.5 1-21.6 .9-17.3 1-7.5 1-1.9 1 6.2 .9 11 1 15.3 1 11.9 1 10.5 .9 6.4 1 3.1 1 3.3 1 2.8 .9 .6 1 1.6 1 .9 1-1.1 1-1.8 .9-1.7 1-1.8 1-1.6 1-1.7 .9-2.1 1-2.2 1-1.1 1 .8 .9 1.1 1 0 1 .8 1 2.1 .9 1.7 1 1.6 1 1.5 1 .3 .9 1.6 1 .5 1 1.3 1-2.1 .9-3 1-3.1 1-2.2 1 1.8 1 1.7 .9 1.9 1 2 1 1.5 1 2.7 .9 2 1 2 1 3.8 1 3.6 .9 3.9 1 4.6 1 3.9 1 4.1 .9 3.6 1 2.1 1 2.2 1 .7 .9-2.8 1-5.6 1-6.4 1-2.5 .9-1 1-2.9 1-1.7 1-1 .9-.8 1-1.6 1-1.9 1-2.4 1-5.8 .9-5.9 1-6.5 1 .3 1 3.3 .9 2.7 1 2.2 1 2.5 1 1 .9 .7 1 1.2 1 .3 1-.9 .9-.2 1-.1 1-.7 1-.8 .9-.1 1-.2 1-.8 1-2 .9-.5 1-1.2 1-1.4 1-1.5 .9-2.4 1-2.6 1-.7 1-.3 1-1.1 .9-2.5 1-2.2 1-1.1 1-.9 .9-.2 1-.4 1-.4 1-.2 .9 1 1 1.2 1-1.1 1 .6 .9-1.1 1 .3 1-.2 1 .3 .9-.3 1 .7 1-.1 1-1.3 .9-.6 1-.2 1-1.1 1-1 1-1.5 .9 .8 1-2.1 1-1.5 1 1.2 .9 1.7 1 .7 1 .6 1 .6 .9-.8 1 1.8 1 1.1 1-.2 .9 1.2 1-.5 1 .6 1 .9 .9 .6 1 .6 1 .5 1-.7 .9 .8 1 .8 1-1.6 1-.4 .9-2.1 1-.7 1-.2 1-1.7 1 .6 .9-1.3 1 .1 1 .4 1-.4 .9 0 1 1.8 1 .4 1-.6 .9-.6 1-1.5 1-1.9 1-1.5 .9-2.4 1-3.1 1-5 1-2.7 .9-.5 1-.7 1 .8 1 2.2 .9 2.5 1 2.3 1 3 1 2.2 .9-1.9 1-.6 1-2.6 1-3.6 1-3.3 .9-4.8 1-5.8 1-3.7 1-1.7 .9-1.8 1 .1 1 5 1 5.3 .9 5.6 1 6.4 1 1.5 1 3 .9 2.2 1-1 1-2 1-1.5 .9-.5 1-.9 1-1.6 1-.5 .9 .2 1-.5 1-.5 1-1.2 1 .7 .9-.6 1-.6 1 0 1 .1 .9-1 1 0 1-.1 1 .2 .9 .8 1 2.1 1 1.5 1 1.3 .9 1.9 1 3.6 1 3.1 1-1.1 .9-2.1 1-1.4 1-2.1 1-1.8 .9 .9 1 .4 1 2.1 1 2 .9 .4 1 1.6 1 1 1 1.2 1 .4 .9 .1 1-.5 1-.4 1-.8 .9 .1 1 .9 1-.3 1-1.6 .9 .3 1-.3 1 .1 1-.8 .9-1.9 1-1.6 1 1.2 1 2.2 .9 1.2 1 1 1-.4 1-.2 .9-.7 1-.1 1 .3 1-.1 .9-.4 1-.6 1-.6 1 1.2 1 .2 .9 .2 1 0 1-.9 1-.3 .9-2.3 1-.5 1 .6 1 1.1 .9 1.4 1 1.4 1 1 1 1.3 .9 1.2 1-.2 1 .3 1 0 .9 .4 1-.5 1-1.3 1-3 .9-1.4 1-.8 1-.7 1-1.2 1-2.3 .9-2.5 1-.5 1-.7 1-2.5 .9-.1 1 2.4 1 2.5 1 2.5 .9 1.8 1 1.6 1 .6 1-1.9 .9-1.4 1-1.5 1-.7 1-2.1 .9-1.2 1-.9 1-1.3 1-.6 .9-3.2 1-2.9 1-1.6 1-.7 .9-.3 1 1.1 1 1.3 1 .7 1 2.3 .9 2.1 1 1.3 1 1.4 1 1.6 .9 1.1 1 .7 1 .1 1 .7 .9-.5 1-.2 1-1.8 1-1.8 .9-1 1-.2 1 1.2 1 3.4 .9 3.8 1 1.3 1 1.8 1 .4 .9-2.4 1-1.3 1-.5 1-2.9 .9-1.8 1-.4 1 .5 1-.9 1 .9 .9 1.6 1 1.3 1-.3 1-.3 .9-1.1 1-1.5 1-1.9 1-.8 .9 .5 1 2.4 1 .2 1 .2 .9 2.4 1 .1 1 1.1 1 .4 .9 2.1 1 2.1 1-1.1 1-.4 .9 1.7 1-4.1 1-4.6 1-3.5 .9-8.4 1-9.7 1-7.3 1-7 1-2.2 .9-1.8 1 0 1-1.2 1 .8 .9 .6 1-1 1-3.2 1-2.1 .9-5.5 1-4.8 1-3 1-1.8 .9-1.1 1-2 1-2.8 1-2.2 .9-.2 1-2 1 .5 1 1.2 .9 1.8 1 3.7 1 4.2 1 4 1 3.1 .9 .9 1 1.4 1 .4 1-1 .9-1.8 1-.4 1-4 1-4.8 .9-4.1 1-5.7 1-4.6 1-4.2 .9-2.3 1-1.8 1 2.3 1 3 .9 6.7 1 6.6 1 2.7 1 5 .9 4.3 1 4.2 1 4.4 1 3.7 .9 4.4 1 3.3 1 2.3 1 1.9 1 1.3 .9 1.2 1-.6 1 1 1 2.6 .9 1 1-.4 1 .3 1 .2 .9 .9 1 .4 1 .1 1-.4 .9-.7 1-1.4 1-1.3 1-2.8 .9-2.2 1-.9 1-1.3 1-.4 .9-.8 1-.8 1-.5 1-2.4 .9-1.4 1-1.7 1-2.6 1-2.5 1-1 .9 1.1 1 .2 1 .5 1 1.4 .9 1.8 1 1.9 1-1 1-1.8 .9-.6 1-.2 1-.5 1-1.7 .9-.7 1-.9 1-.3 1-.4 .9-.9 1 1.9 1 1.7 1 3.3 .9 2.6 1 1.6 1-.6 1-2.6 1-3.6 .9-1.4 1-2 1-.1 1 2.1 .9 1.9 1 1.1 1-.2 1 .8 .9 1.6 1 1.5 1 .9 1-.5 .9-3.6 1-2.7 1-3.9 1-3.9 .9-3.7 1-3 1-1.3 1-1.5 .9-.7 1-.4 1-.7 1-.7 .9 2.8 1 2.9 1 2.4 1-1.4 1 .1 .9 0 1-2.3 1-1.5 1-1.2 .9-.6 1-1.5 1 1.1 1 1.8 .9 1.5 1 1.3 1 .3 1 2 .9-3.1 1-4 1-3.9 1-4 .9-3.9 1-4.1 1-2.7 1 1.6 .9 1.2 1 .1 1 3.2 1 3 .9 1 1 1.2 1-.1 1 1.3 1 .1 .9-2.2 1-.6 1 1.1 1 1 .9-.3 1 2.8 1 3.7 1 1.9 .9 2.6 1 1.3 1 1.8 1 1.6 .9 3.5 1 2.7 1 2.3 1 2.7 .9 2 1-5.5 1-7.8 1-8.4 .9-7.9 1-6.2 1-4.9 1-2.4 1-.6 .9-1.1 1 3.7 1 2.7 1 2.3 .9 2.6 1 .9 1 .8 1 2.2 .9 .1 1 0 1 .4 1 .9 .9 .4 1 1.4 1 .8 1-1.8 .9-1.2 1 0 1 2.6 1 3.1 .9-3.1 1-3.9 1-2.4 1-3 .9-3.1 1-1.9 1 2.2 1 2.7 1 3.5 .9 2 1 3.4 1-4.7 1-7.2 .9-3.3 1-2.8 1-1.3 1 .3 .9 .7 1 1.9 1 2.1 1 1.4 .9 2.8 1 2.4 1 2.1 1 .8 .9 .4 1 .6 1 2.1 1 2.5 .9 .8 1 .9 1-.3 1 .1 .9-.3 1 .5 1 1.5 1 .9 1 .7 .9 .7 1 2 1-4.5 1-6.6 .9-9.2 1-8.9 1-5.6 1-5.6 .9-2.1 1 4.3 1 3.2 1 5.1 .9 4.8 1 4.7 1 .8 1 1.9 .9 1 1-4.7 1-2.9 1-3.8 .9-2.2 1 .6 1 3.3 1 2.5 .9 7.9 1 8.2 1 4.1 1 2.4 1 1.2 .9-5.4 1-4.6 1-5.2 1-6 .9-5 1-.9 1 .3 1 1.8 .9 1.5 1 2.3 1 2.8 1 3.6 .9 1.6 1 1.8 1 .9 1 .8 .9 2.6 1 1.7 1-1.2 1-1.5 .9-1.5 1-2.1 1-4.9 1-6.2 1-9.7 .9-8 1-7.4 1-4.8 1-1.2 .9-1.4 1 3 1 5.5 1 5.4 .9 4.4 1 6.3 1 4.7 1 4.5 .9 3.1 1 3.4 1 2.8 1 2.1 .9 .6 1 1.2 1-.8 1-.1 .9-1.7 1-1.6 1-.8 1-1.4 .9-.5 1-.3 1-1 1-2.6 1-4 .9-3.8 1-1.9 1-3 1-.3 .9 2.8 1 3.9 1 4.7 1 4.6 .9 4.2 1 3.3 1 2.5 1 1.5 .9 1.5 1-2.1 1-6.6 1-5.8 .9-6.4 1-7.1 1 0 1 1.4 .9 1.4 1 3.1 1 4.5 1 7.4 .9 6.7 1 4.9 1 4.2 1 2.6 1 2.3 .9 .3 1-4.6 1-3.4 1-.3 .9-.9 1-.2 1-.8 1-1.6 .9-1.6 1-1.6 1-1.8 1-1.3 .9-3 1-2.2 1-2.8 1-.3 .9 .9 1 .1 1-.9 1-.4 .9-2.7 1-1.3 1-1.5 1 7.4 1 9.1 .9 6.9 1 7.6 1 5.5 1 4.7 .9-1.7 1-7.1 1-7.9 1-5.5 .9-5.8 1-4.5 1-4.1 1-4.2 .9-2.2 1-.9 1 0 1-2.7 .9-2.9 1-.9 1 .1 1 .7 .9 1 1 1 1 .3 1 .9 .9 3.1 1 4.3 1 1.6 1 .2 1-1.2 .9 .5 1-1.4 1-.9 1-4.6 .9-6.7 1-2.9 1-3.9 1-4.7 .9-4.1 1-3.3 1-1.5 1-.1 .9 .2 1-1.5 1-2.2 1-1.5 .9-2.7 1-2.9 1-1.5 1 1.4 .9 1.7 1-1.3 1-3.5 1-2.8 .9-2.3 1-3.3 1-1.6 1-1.3 1-1.1 .9-2 1-1 1-4.9 1-5.6 .9-8.9 1-13.4 1-13.7 1-8.8 .9-3.4 1 3.4 1 6 1 14.3 .9 14.2 1 14.9 1 6.5 1 3 .9 1.7 1 2.8 1 1.9 1 1.6 .9 .5 1 2 1 1.6 1 1.1 1-.4 .9-.7 1-.4 1 4.9 1 3.3 .9 4.1 1 4.5 1 3.4 1 2.9 .9-.3 1-4.6 1-3.9 1-2.2 .9-3.3 1-3.3 1-1.2 1-.6 .9-1 1 .9 1-.4 1 0 .9-.7 1-.9 1 1.2 1 1.2 .9 .9 1 1.3 1 .8 1 4.5 1 5.5 .9 5.3 1 4 1 3.5 1 3.3 .9 2.3 1-3.7 1-5.4 1-3.3 .9-.5 1-.8 1 4.4 1 3.4 .9 3.7 1 4.3 1 2.9 1 2.8 .9 .4 1 .7 1-1.8 1-2.8 .9-4.6 1-5.2 1-6 1-7.7 .9-7.3 1-7.3 1-10.4 1-13.2 1-14 .9-16.2 1-19.2 1-19.8 1-18.9 .9-17.8 1-12.7 1-5.8 1 1.8 .9 3.6 1 12.8 1 17 1 25 .9 29.6 1 23.9 1 19.8 1 16.9 .9 13 1 2 1 1.9 1-.1 .9 4.1 1 6.4 1 4 1 3 1 4.1 .9 4.6 1 2.1 1-1.3 1-2.4 .9-3.8 1-3.9 1-6 1-6.4 .9-11.9 1-12.2 1-15 1-16.4 .9-15.8 1-28.5 1-27.6 1-29.3 .9-30 1-29.5 1-30.4 1-28.7 .9-21.7 1-18.2 1 .6 1 17.9 .9 28.2 1 41.8 1 48.7 1 48.5 1 49 .9 26.8 1 19.2 1 9.8 1 3 .9 5.6 1 8.4 1 6.2 1 8.8 .9 8.8 1 4.9 1 4.5 1-1.3 .9-2.8 1-3.6 1-1.4 1 1.9 .9 1.5 1 1.9 1 6.6 1 5.8 .9 5 1 4 1 3.4 1-2 .9-1.1 1-.2 1-6 1-5.2 1-4.5 .9-2.3 1-.7 1-1 1-1.7 .9-.1 1 3.9 1 3.5 1 3.4 .9 4.3 1 4.1 1 1.2 1-1.5 .9-2.6 1-2.9 1-4 1-4.6 .9-1.9 1-1.8 1-3.3 1-.4 .9 0 1 .9 1 1.5 1 1 .9 2.3 1 2.4 1 3.1 1 .5 1-2.4 .9-3.7 1-2.6 1-3.9 1-2 .9-.6 1 3.2 1 2.1 1 5.6 .9 9.6 1 10.4 1 5.2 1 4.9 .9 4.8 1-4.6 1-3.9 1-4.1 .9-.8 1 .8 1-.8 1-1.1 .9-.7 1-.8 1-1.1 1-2.8 1-3.3 .9-2.6 1-1.4 1 .6 1-.8 .9 1.4 1 .2 1 .1 1 3.7 .9 6.1 1 5 1 5.2 1 5.6 .9 2.3 1 1.9 1-2.6 1-5.5 .9-6.1 1-3.7 1-3.5 1-3.8 .9 2 1 3.1 1 4.2 1 3.3 .9 3.1 1 3.9 1 .3 1 .6 1 .1 .9-.2 1-4.1 1-4.5 1-2.6 .9-3.1 1-2 1-1.9 1-1 .9-.3 1 7 1 5.6 1 4.2 .9 4.3 1 4.9 1 2.5 1 3.6 .9 3.1 1 2.1 1 1.5 1 1.8 .9 1.6 1 .3 1 .9 1 1.3 .9 1.7 1 1.3 1-1.2 1-2.4 1-5.4 .9-3.9 1-3.3 1-5.3 1-2.5 .9-1.3 1-1.9 1-1.3 1-1.6 .9-1.5 1-3 1-5.1 1-4.6 .9-5.8 1-4.9 1-2.7 1-1.3 .9-1.9 1 1.4 1 7.3 1 7 .9 5.8 1 6.9 1 6.6 1 .9 1-.3 .9 1.3 1 .2 1-1.2 1-.6 .9 3 1 1.8 1 2.8 1 2.2 .9-2.3 1-4.6 1-4.2 1-6.9 .9-6.3 1-2 1-1.1 1-.4 .9-1.1 1-1.5 1 1.1 1 .4 .9 0 1 .9 1-1.4 1-2.6 .9-.8 1-2.9 1-3.1 1-.9 1-.7 .9-1.3 1-.3 1-1.3 1-1.4 .9-.4 1-2.2 1 1.6 1 4.1 .9 3.5 1 4.1 1 3.7 1 2.5 .9 2.3 1 1.4 1 .4 1 .3 .9-2.3 1-4 1-2.8 1-5.7 .9-5.8 1-5.2 1-2.3 1-3 .9-2.6 1 1 1 1.6 1 1.1 1 1.1 .9 1.3 1 .9 1 .3 1-.5 .9 .2 1-2.4 1-1.1 1-2.5 .9-1.9 1-.5 1-.8 1-.8 .9-.8 1-.4" stroke="#ffbab2" stroke-width="4.7"/>
<line x1="262.4" x2="262.4" y1="2150.5" y2="1492.7" stroke="#000" stroke-opacity="0.5" stroke-width="2.2" stroke-dasharray="2.2 3.13"/>
<line x1="506.4" x2="506.4" y1="2150.5" y2="1492.7" stroke="#000" stroke-opacity="0.5" stroke-width="2.2" stroke-dasharray="2.2 3.13"/>
<line x1="622.5" x2="622.5" y1="2150.5" y2="1492.7" stroke="#000" stroke-opacity="0.5" stroke-width="2.2" stroke-dasharray="2.2 3.13"/>
<line x1="676.3" x2="676.3" y1="2150.5" y2="1492.7" stroke="#000" stroke-opacity="0.5" stroke-width="2.5" stroke-dasharray="7.6 3.4"/>
<line x1="704.6" x2="704.6" y1="2150.5" y2="1492.7" stroke="#000" stroke-opacity="0.5" stroke-width="2.5" stroke-dasharray="7.6 3.4"/>
<line x1="977.9" x2="977.9" y1="2150.5" y2="1492.7" stroke="#000" stroke-opacity="0.5" stroke-width="2.5" stroke-dasharray="7.6 3.4"/>
<line x1="1005.5" x2="1005.5" y1="2150.5" y2="1492.7" stroke="#000" stroke-opacity="0.5" stroke-width="2.2" stroke-dasharray="2.2 3.13"/>
<line x1="1287.1" x2="1287.1" y1="2150.5" y2="1492.7" stroke="#000" stroke-opacity="0.5" stroke-width="2.2" stroke-dasharray="2.2 3.13"/>
<line x1="1429.5" x2="1429.5" y1="2150.5" y2="1492.7" stroke="#000" stroke-opacity="0.5" stroke-width="2.2" stroke-dasharray="2.2 3.13"/>
<line x1="1509.1" x2="1509.1" y1="2150.5" y2="1492.7" stroke="#000" stroke-opacity="0.5" stroke-width="2.2" stroke-dasharray="2.2 3.13"/>
<line x1="1548.1" x2="1548.1" y1="2150.5" y2="1492.7" stroke="#000" stroke-opacity="0.5" stroke-width="2.2" stroke-dasharray="2.2 3.13"/>
<line x1="1683.8" x2="1683.8" y1="2150.5" y2="1492.7" stroke="#000" stroke-opacity="0.5" stroke-width="2.5" stroke-dasharray="7.6 3.4"/>
</g>
<text transform="translate(257.7 1527.7) rotate(-90)" text-anchor="end" font-family="'DejaVu Sans','Liberation Sans',sans-serif" font-size="32.5" stroke="#000" stroke-width="0.7">[NeV]</text>
<text transform="translate(501.6 1527.7) rotate(-90)" text-anchor="end" font-family="'DejaVu Sans','Liberation Sans',sans-serif" font-size="32.5" stroke="#000" stroke-width="0.7">[OII]</text>
<text transform="translate(617.9 1527.7) rotate(-90)" text-anchor="end" font-family="'DejaVu Sans','Liberation Sans',sans-serif" font-size="32.5" stroke="#000" stroke-width="0.7">[NeIII]</text>
<text transform="translate(1000.9 1529.7) rotate(-90)" text-anchor="end" font-family="'DejaVu Sans','Liberation Sans',sans-serif" font-size="32.5" stroke="#000" stroke-width="0.7">H<tspan font-style='italic' dx='-2'>γ</tspan></text>
<text transform="translate(1283 1527.7) rotate(-90)" text-anchor="end" font-family="'DejaVu Sans','Liberation Sans',sans-serif" font-size="32.5" stroke="#000" stroke-width="0.7">He II</text>
<text transform="translate(1425.9 1531.1) rotate(-90)" text-anchor="end" font-family="'DejaVu Sans','Liberation Sans',sans-serif" font-size="32.5" stroke="#000" stroke-width="0.7">H<tspan font-style='italic'>β</tspan></text>
<text transform="translate(1543.3 1527.7) rotate(-90)" text-anchor="end" font-family="'DejaVu Sans','Liberation Sans',sans-serif" font-size="32.5" stroke="#000" stroke-width="0.7">[OIII]</text>
<path d="M159.9 1492.7H1786.4M159.9 2150.5H1786.4" stroke="#000" stroke-width="4.9" stroke-linecap="square" fill="none"/>
<path d="M159.9 1492.7V2150.5M1786.2 1492.7V2150.5" stroke="#000" stroke-width="5.45" stroke-linecap="square" fill="none"/>
<text x="145.9" y="2168.7" text-anchor="end" font-family="'DejaVu Serif','Liberation Serif',serif" font-size="48.4" stroke="#000" stroke-width="0.9">0.5</text>
<text x="145.9" y="1995.6" text-anchor="end" font-family="'DejaVu Serif','Liberation Serif',serif" font-size="48.4" stroke="#000" stroke-width="0.9">1.0</text>
<text x="145.9" y="1822.5" text-anchor="end" font-family="'DejaVu Serif','Liberation Serif',serif" font-size="48.4" stroke="#000" stroke-width="0.9">1.5</text>
<text x="145.9" y="1649.4" text-anchor="end" font-family="'DejaVu Serif','Liberation Serif',serif" font-size="48.4" stroke="#000" stroke-width="0.9">2.0</text>
<text x="322.6" y="2202.6" text-anchor="middle" font-family="'DejaVu Serif','Liberation Serif',serif" font-size="48.4" stroke="#000" stroke-width="0.9">3500</text>
<text x="525.9" y="2202.6" text-anchor="middle" font-family="'DejaVu Serif','Liberation Serif',serif" font-size="48.4" stroke="#000" stroke-width="0.9">3750</text>
<text x="729.2" y="2202.6" text-anchor="middle" font-family="'DejaVu Serif','Liberation Serif',serif" font-size="48.4" stroke="#000" stroke-width="0.9">4000</text>
<text x="932.5" y="2202.6" text-anchor="middle" font-family="'DejaVu Serif','Liberation Serif',serif" font-size="48.4" stroke="#000" stroke-width="0.9">4250</text>
<text x="1135.8" y="2202.6" text-anchor="middle" font-family="'DejaVu Serif','Liberation Serif',serif" font-size="48.4" stroke="#000" stroke-width="0.9">4500</text>
<text x="1339.1" y="2202.6" text-anchor="middle" font-family="'DejaVu Serif','Liberation Serif',serif" font-size="48.4" stroke="#000" stroke-width="0.9">4750</text>
<text x="1542.4" y="2202.6" text-anchor="middle" font-family="'DejaVu Serif','Liberation Serif',serif" font-size="48.4" stroke="#000" stroke-width="0.9">5000</text>
<text x="1745.7" y="2202.6" text-anchor="middle" font-family="'DejaVu Serif','Liberation Serif',serif" font-size="48.4" stroke="#000" stroke-width="0.9">5250</text>
</g>
<g id="legend">
<rect x="160.2" y="1.5" width="1626.3" height="123.1" rx="5.5" ry="5.5" fill="#fff" stroke="#333" stroke-width="4.2"/>
<line x1="170" x2="240.5" y1="35.9" y2="35.9" stroke="#41b3ac" stroke-width="6.1"/>
<text y="43.9" font-family="'DejaVu Sans','Liberation Sans',sans-serif" font-size="32.5" stroke="#000" stroke-width="0.7" xml:space="preserve"><tspan x="246.5">NLAGN </tspan><tspan x="371" font-style="italic">L</tspan><tspan x="389.1" y="48.8" font-size="22.75">X</tspan><tspan x="411.2" y="43.9">&gt;</tspan><tspan x="444.5">10</tspan><tspan x="485.3" y="31.6" font-size="22.75">44</tspan><tspan x="515.6" y="43.9"> erg s</tspan><tspan x="607.2" y="31.6" font-size="22.75">−1</tspan></text>
<line x1="170" x2="240.5" y1="92.5" y2="92.5" stroke="#97e0d3" stroke-width="6.1"/>
<text y="100.5" font-family="'DejaVu Sans','Liberation Sans',sans-serif" font-size="32.5" stroke="#000" stroke-width="0.7" xml:space="preserve"><tspan x="246.5">NLAGN </tspan><tspan x="371" font-style="italic">L</tspan><tspan x="389.1" y="105.4" font-size="22.75">X</tspan><tspan x="411.2" y="100.5">&lt;</tspan><tspan x="444.5">10</tspan><tspan x="485.3" y="88.2" font-size="22.75">44</tspan><tspan x="515.6" y="100.5"> erg s</tspan><tspan x="607.2" y="88.2" font-size="22.75">−1</tspan></text>
<line x1="705.2" x2="775.7" y1="35.9" y2="35.9" stroke="#01426e" stroke-width="6.1"/>
<text y="43.9" font-family="'DejaVu Sans','Liberation Sans',sans-serif" font-size="32.5" stroke="#000" stroke-width="0.7" xml:space="preserve"><tspan x="781.8">Nu-cQSO </tspan><tspan x="938.4" font-style="italic">L</tspan><tspan x="956.5" y="48.8" font-size="22.75">X</tspan><tspan x="978.6" y="43.9">&gt;</tspan><tspan x="1012">10</tspan><tspan x="1052.7" y="31.6" font-size="22.75">44</tspan><tspan x="1083.1" y="43.9"> erg s</tspan><tspan x="1174.6" y="31.6" font-size="22.75">−1</tspan></text>
<line x1="705.2" x2="775.7" y1="92.5" y2="92.5" stroke="#759ece" stroke-width="6.1"/>
<text y="100.5" font-family="'DejaVu Sans','Liberation Sans',sans-serif" font-size="32.5" stroke="#000" stroke-width="0.7" xml:space="preserve"><tspan x="781.8">Nu-cQSO </tspan><tspan x="938.4" font-style="italic">L</tspan><tspan x="956.5" y="105.4" font-size="22.75">X</tspan><tspan x="978.6" y="100.5">&lt;</tspan><tspan x="1012">10</tspan><tspan x="1052.7" y="88.2" font-size="22.75">44</tspan><tspan x="1083.1" y="100.5"> erg s</tspan><tspan x="1174.6" y="88.2" font-size="22.75">−1</tspan></text>
<line x1="1272.9" x2="1343.4" y1="35.9" y2="35.9" stroke="#d80b54" stroke-width="6.1"/>
<text y="43.9" font-family="'DejaVu Sans','Liberation Sans',sans-serif" font-size="32.5" stroke="#000" stroke-width="0.7" xml:space="preserve"><tspan x="1350">Nu-rQSO </tspan><tspan x="1502.1" font-style="italic">L</tspan><tspan x="1520.2" y="48.8" font-size="22.75">X</tspan><tspan x="1542.3" y="43.9">&gt;</tspan><tspan x="1575.6">10</tspan><tspan x="1616.4" y="31.6" font-size="22.75">44</tspan><tspan x="1646.7" y="43.9"> erg s</tspan><tspan x="1738.3" y="31.6" font-size="22.75">−1</tspan></text>
<line x1="1272.9" x2="1343.4" y1="92.5" y2="92.5" stroke="#ffbab2" stroke-width="6.1"/>
<text y="100.5" font-family="'DejaVu Sans','Liberation Sans',sans-serif" font-size="32.5" stroke="#000" stroke-width="0.7" xml:space="preserve"><tspan x="1350">Nu-rQSO </tspan><tspan x="1502.1" font-style="italic">L</tspan><tspan x="1520.2" y="105.4" font-size="22.75">X</tspan><tspan x="1542.3" y="100.5">&lt;</tspan><tspan x="1575.6">10</tspan><tspan x="1616.4" y="88.2" font-size="22.75">44</tspan><tspan x="1646.7" y="100.5"> erg s</tspan><tspan x="1738.3" y="88.2" font-size="22.75">−1</tspan></text>
</g>
<text x="973" y="2277" text-anchor="middle" font-family="'DejaVu Serif','Liberation Serif',serif" font-size="52.5" stroke="#000" stroke-width="0.9" xml:space="preserve">Rest wavelength [<tspan font-family="'DejaVu Sans','Liberation Sans',sans-serif" font-style="italic">Å</tspan>]</text>
<text transform="translate(41.1 1146) rotate(-90)" text-anchor="middle" font-family="'DejaVu Serif','Liberation Serif',serif" font-size="52.5" stroke="#000" stroke-width="0.9" xml:space="preserve">Normalised <tspan font-family="'DejaVu Sans','Liberation Sans',sans-serif" font-style="italic">λF</tspan><tspan font-family="'DejaVu Sans','Liberation Sans',sans-serif" font-style="italic" font-size="36.75" dy="8.5">λ</tspan></text>
</svg>
</body></html>
